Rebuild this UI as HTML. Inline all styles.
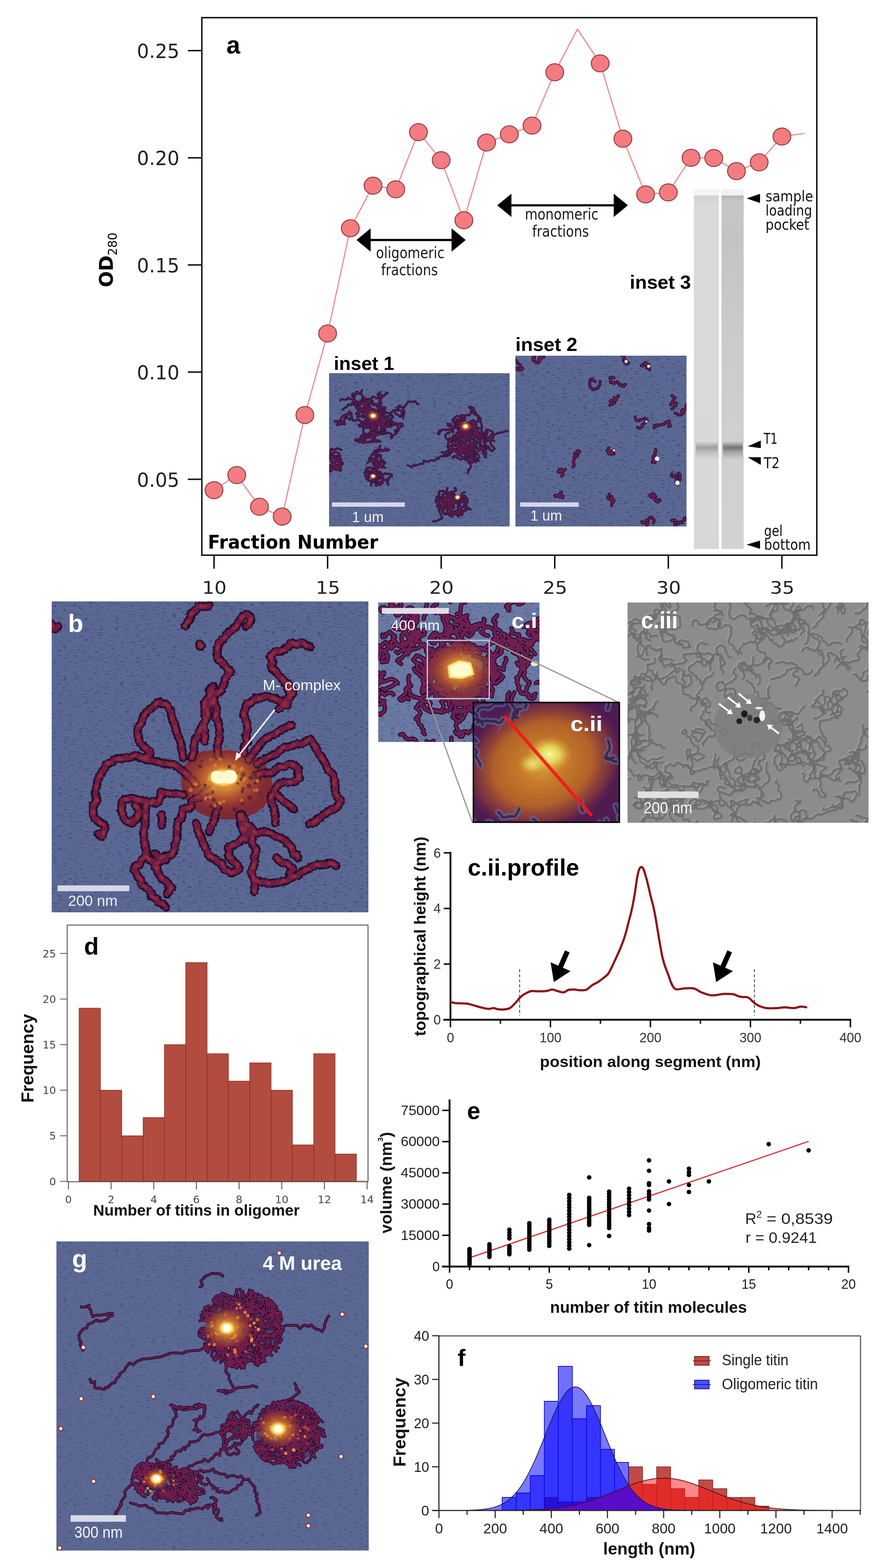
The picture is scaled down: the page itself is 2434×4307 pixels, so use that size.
<!DOCTYPE html>
<html><head><meta charset="utf-8"><title>figure</title>
<style>html,body{margin:0;padding:0;background:#fff;} svg{display:block;}</style></head>
<body><svg width="2434" height="4307" viewBox="0 0 2434 4307">
<rect width="2434" height="4307" fill="#fff"/>
<defs>
<filter id="speck" x="0" y="0" width="100%" height="100%" color-interpolation-filters="sRGB">
<feTurbulence type="fractalNoise" baseFrequency="0.07 0.3" numOctaves="2" seed="5" result="n"/>
<feColorMatrix in="n" type="matrix" values="0 0 0 0 0.14  0 0 0 0 0.14  0 0 0 0 0.27  -13 0 0 0 4.95"/>
</filter>
<filter id="rough" x="-5%" y="-5%" width="110%" height="110%">
<feTurbulence type="turbulence" baseFrequency="0.09" numOctaves="1" seed="3" result="t"/>
<feDisplacementMap in="SourceGraphic" in2="t" scale="7" xChannelSelector="R" yChannelSelector="G"/>
</filter>
<radialGradient id="glowO"><stop offset="0" stop-color="#ffd060" stop-opacity="1"/><stop offset="0.35" stop-color="#f0a030" stop-opacity="0.9"/><stop offset="0.7" stop-color="#c8602a" stop-opacity="0.55"/><stop offset="1" stop-color="#a03a30" stop-opacity="0"/></radialGradient>
<radialGradient id="glowW"><stop offset="0" stop-color="#fffff0"/><stop offset="0.45" stop-color="#fff8b0"/><stop offset="0.75" stop-color="#ffd050" stop-opacity="0.8"/><stop offset="1" stop-color="#f0a030" stop-opacity="0"/></radialGradient>
</defs>
<svg x="142" y="1652" width="870" height="854" viewBox="142 1652 870 854" overflow="hidden"><rect x="142" y="1652" width="870" height="854" fill="#5a6893"/><rect x="142" y="1652" width="870" height="854" filter="url(#speck)" opacity="0.32"/><path d="M505 2100C512 2094 529 2072 545 2065C561 2058 582 2058 600 2058C618 2058 633 2059 650 2062C667 2065 686 2067 700 2075C714 2083 728 2096 735 2110C742 2124 747 2143 745 2160C743 2177 736 2197 725 2210C714 2223 698 2234 680 2240C662 2246 636 2249 615 2248C594 2247 572 2243 555 2235C538 2227 522 2214 512 2200C502 2186 496 2167 495 2150C494 2133 503 2108 505 2100Z" fill="#7e2c36" filter="url(#rough)"/><g filter="url(#rough)"><path d="M474 2097C469 2097 456 2096 449 2095C441 2094 438 2092 431 2090C424 2088 414 2086 408 2085C402 2084 399 2084 394 2082C389 2080 380 2075 375 2073C370 2072 368 2073 365 2074C361 2075 359 2078 355 2078C350 2079 343 2078 339 2079C335 2079 337 2081 333 2082C329 2082 318 2081 314 2083C309 2084 307 2089 304 2092C300 2094 294 2094 291 2097C287 2100 285 2107 283 2111C281 2115 279 2117 276 2122C273 2126 268 2133 267 2138C265 2142 265 2146 264 2151C263 2155 262 2161 261 2166C260 2171 259 2176 260 2181C260 2186 265 2191 264 2196C263 2200 256 2203 254 2208C253 2213 253 2222 253 2227C254 2233 254 2238 255 2241C257 2245 260 2245 263 2247C266 2250 269 2254 272 2257C275 2259 280 2261 282 2263C285 2266 287 2268 287 2270C287 2273 284 2277 283 2281C282 2285 280 2292 279 2294C277 2296 277 2294 275 2293C273 2292 269 2289 267 2288M501 2079C500 2076 499 2067 498 2063C497 2058 497 2055 496 2050C496 2046 495 2039 494 2034C492 2029 489 2025 487 2021C485 2016 483 2010 482 2005C480 2000 479 1994 477 1988C475 1983 471 1976 470 1971C469 1966 470 1962 469 1957C468 1953 465 1948 462 1944C460 1940 458 1934 454 1931C451 1929 445 1931 441 1930C438 1929 437 1924 433 1926C428 1928 420 1938 415 1942C411 1946 409 1947 405 1950C402 1953 398 1955 395 1960C392 1966 389 1976 386 1982C384 1987 380 1990 378 1994C377 1998 375 2001 375 2006C375 2010 376 2018 378 2023C379 2029 381 2035 383 2039C386 2043 390 2046 393 2049C396 2052 400 2055 403 2057C406 2059 410 2061 410 2064C411 2066 409 2069 407 2071C405 2074 401 2076 396 2077C392 2079 384 2079 381 2079M524 2079C525 2076 530 2067 531 2062C532 2057 530 2056 530 2051C531 2045 532 2034 533 2029C534 2025 536 2029 538 2025C541 2020 545 2008 548 2003C550 1997 551 1995 553 1990C556 1986 562 1981 563 1976C564 1972 561 1968 561 1963C560 1959 560 1955 560 1949C560 1943 557 1933 559 1929C560 1924 565 1925 568 1921C570 1917 573 1911 574 1907C575 1902 572 1897 574 1892C576 1888 582 1884 584 1882M596 2073C596 2070 595 2060 595 2054C595 2048 596 2042 597 2037C598 2031 600 2027 601 2023C601 2018 601 2013 601 2008C601 2003 601 2000 600 1995C599 1989 597 1982 595 1977C593 1972 590 1971 590 1966C590 1961 594 1953 593 1947C593 1941 588 1935 586 1930C585 1925 585 1922 585 1918C585 1914 587 1911 586 1907C585 1902 579 1896 578 1894M668 2067C668 2064 668 2052 669 2047C671 2042 676 2042 677 2038C678 2033 673 2025 673 2020C673 2015 676 2015 676 2009C677 2003 678 1993 676 1985C675 1977 668 1967 667 1961C666 1955 669 1952 671 1947C672 1942 673 1934 675 1931C677 1928 679 1932 684 1930C688 1927 697 1917 701 1915C706 1913 705 1918 709 1917C714 1916 724 1910 729 1910C735 1909 737 1912 741 1913C745 1915 750 1914 755 1916C760 1919 767 1925 772 1928C777 1932 783 1936 786 1936C788 1935 786 1928 787 1925C788 1921 792 1917 793 1915C794 1913 791 1913 792 1910C794 1908 802 1905 802 1902C803 1898 800 1893 798 1889C796 1884 792 1878 790 1876M680 2085C682 2082 688 2074 693 2067C698 2061 704 2053 709 2047C713 2041 716 2036 721 2031C726 2027 734 2023 740 2020C745 2017 748 2017 753 2014C758 2011 764 2006 770 2003C775 2000 782 1996 787 1994C792 1992 797 1990 799 1990M704 2097C706 2095 712 2090 717 2087C723 2083 731 2080 738 2076C745 2073 752 2071 758 2067C765 2062 771 2054 777 2051C783 2048 789 2049 795 2048C800 2047 804 2044 810 2042C816 2041 824 2042 831 2039C837 2037 845 2028 849 2028C853 2027 852 2031 855 2035C857 2039 862 2046 865 2051C868 2056 869 2060 872 2065C875 2070 880 2077 883 2081C886 2086 887 2087 890 2092C893 2098 896 2108 899 2113C903 2118 908 2119 911 2124C914 2128 915 2134 916 2139C917 2144 917 2149 918 2153C918 2158 917 2161 918 2166C919 2172 922 2181 924 2186C927 2191 933 2193 934 2196C934 2199 930 2202 928 2205C927 2208 928 2210 926 2212C923 2215 919 2218 916 2220C912 2222 907 2222 904 2224C901 2225 897 2228 895 2229C893 2231 894 2230 891 2232C888 2235 882 2239 879 2242C875 2245 871 2248 868 2250C865 2252 864 2254 861 2256C857 2258 849 2261 847 2261M698 2127C702 2126 713 2122 721 2121C728 2120 738 2122 744 2120C750 2118 752 2112 755 2110C759 2107 762 2105 765 2104C769 2103 773 2105 777 2104C782 2103 788 2097 793 2097C798 2096 803 2099 807 2102C811 2104 816 2108 818 2111C819 2114 815 2114 816 2118C816 2122 820 2132 820 2135C820 2138 818 2135 816 2136C814 2138 811 2142 806 2144C802 2146 794 2146 789 2147C784 2147 779 2146 775 2147C770 2148 765 2151 761 2154C758 2158 754 2164 753 2168C751 2171 756 2171 754 2174C753 2177 743 2181 742 2186C740 2191 744 2201 745 2206C746 2211 748 2210 750 2215C751 2221 753 2232 754 2239C754 2246 754 2255 754 2259M762 2184C764 2185 767 2190 771 2193C774 2197 781 2202 786 2205C790 2208 792 2209 795 2211C798 2214 803 2218 804 2220M668 2259C671 2260 680 2265 686 2269C691 2274 696 2283 700 2286C705 2288 711 2284 715 2283C719 2283 719 2282 723 2282C727 2282 735 2284 740 2286C745 2287 748 2291 753 2294C757 2296 761 2296 766 2299C771 2301 777 2303 781 2306C784 2309 784 2313 785 2314C787 2316 788 2314 790 2316C793 2318 797 2323 800 2328C802 2333 801 2341 803 2344C805 2347 811 2343 813 2344C815 2346 815 2352 816 2354M757 2354C760 2356 766 2363 771 2366C775 2368 780 2367 784 2369C788 2370 789 2373 792 2376C795 2378 802 2381 803 2383C804 2386 800 2388 799 2390C797 2392 794 2395 793 2396M662 2235C663 2238 670 2247 671 2254C673 2260 671 2271 672 2276C674 2281 678 2280 681 2283C684 2286 688 2289 690 2294C692 2299 689 2307 691 2313C693 2320 700 2326 701 2332C702 2338 697 2345 696 2351C696 2356 698 2361 698 2365C698 2369 697 2369 695 2374C694 2378 689 2387 689 2393C688 2399 693 2406 695 2411C696 2416 697 2418 698 2422C698 2426 697 2430 697 2434C696 2438 697 2445 696 2447M696 2414C699 2415 707 2419 712 2420C717 2421 721 2420 726 2421C730 2422 734 2424 739 2424C745 2424 753 2423 759 2422C765 2421 769 2420 773 2419C778 2418 782 2417 786 2415C790 2413 794 2409 799 2407C803 2405 809 2406 814 2404C820 2401 824 2394 830 2391C835 2388 842 2387 847 2384C852 2381 854 2378 859 2376C864 2374 872 2373 878 2373C883 2372 887 2373 892 2372C896 2372 902 2368 905 2368C909 2368 912 2371 915 2372C917 2374 920 2375 921 2375M656 2235C657 2240 659 2258 662 2269C665 2280 674 2297 674 2302C674 2307 667 2299 663 2301C659 2303 656 2310 652 2313C648 2316 643 2317 638 2319C634 2321 628 2322 626 2325C624 2328 627 2332 627 2337C626 2341 624 2347 625 2350C626 2354 632 2355 634 2357C635 2359 633 2360 635 2362C637 2364 643 2367 645 2369C647 2371 647 2370 648 2372C649 2373 649 2376 650 2378C651 2380 656 2383 655 2385C654 2387 650 2389 646 2390C643 2392 638 2395 634 2395C630 2395 627 2391 624 2389C620 2388 616 2389 613 2385C611 2382 610 2373 607 2369C605 2366 599 2367 596 2366C593 2364 595 2362 591 2359C587 2356 577 2353 573 2349C569 2345 570 2341 567 2335C565 2330 561 2324 558 2318C555 2312 554 2307 551 2300C548 2294 543 2283 541 2278C539 2274 541 2276 540 2273C540 2269 537 2261 536 2259M596 2217C595 2219 592 2226 590 2232C588 2239 587 2248 585 2254C583 2260 580 2263 578 2267C576 2272 573 2280 572 2282M501 2181C498 2180 492 2179 486 2178C480 2178 469 2177 463 2177C458 2176 455 2177 451 2176C447 2176 441 2172 439 2173C437 2175 440 2181 439 2186C437 2191 432 2202 429 2204C425 2206 423 2198 420 2198C417 2198 415 2202 412 2203C408 2203 405 2200 400 2199C394 2198 385 2196 380 2195C375 2194 373 2193 369 2192C365 2191 361 2189 357 2189C353 2189 349 2193 347 2193C344 2194 344 2191 341 2193C339 2194 334 2198 333 2202C331 2207 331 2217 331 2222C331 2227 333 2226 334 2230C335 2234 336 2240 338 2244C340 2248 342 2250 346 2252C350 2254 357 2259 360 2259C363 2258 362 2251 365 2249C367 2247 374 2249 375 2246C377 2244 374 2238 375 2235C376 2233 381 2234 381 2231C381 2228 378 2222 376 2219C374 2215 370 2210 369 2208M399 2202C399 2207 397 2221 397 2231C396 2241 397 2254 396 2263C395 2273 392 2279 392 2288C392 2297 395 2310 396 2318C397 2325 398 2328 399 2333C400 2338 399 2344 399 2347C400 2351 399 2351 402 2353C405 2356 413 2362 416 2364C419 2367 419 2366 421 2367C424 2367 427 2369 430 2368C433 2368 436 2364 440 2363C444 2361 451 2361 453 2360M441 2235C441 2237 443 2244 443 2249C443 2254 441 2262 441 2264M399 2348C397 2350 390 2355 387 2360C384 2364 382 2371 380 2373C377 2376 374 2372 372 2374C370 2376 366 2381 365 2384C365 2387 369 2389 370 2392C372 2395 373 2399 375 2403C377 2407 383 2412 385 2415C386 2419 384 2423 386 2426C388 2429 392 2430 396 2433C399 2436 404 2440 407 2443C410 2447 412 2451 414 2453C415 2456 412 2457 415 2460C417 2462 426 2465 429 2467C432 2470 430 2474 433 2476C435 2478 441 2478 445 2480C448 2482 451 2487 453 2489M423 2378C424 2379 429 2381 430 2382C431 2383 427 2384 428 2386C428 2389 431 2392 433 2396C435 2399 438 2405 441 2409C444 2412 447 2413 450 2415C453 2418 456 2421 459 2424C461 2427 463 2429 465 2431C466 2433 469 2435 469 2437C468 2439 466 2440 464 2443C461 2445 457 2451 456 2453M524 2211C523 2212 522 2215 518 2217C514 2218 504 2217 500 2221C497 2226 499 2238 497 2244C494 2249 488 2249 486 2255C484 2262 485 2275 484 2282C484 2290 485 2295 484 2301C483 2306 480 2311 478 2317C477 2322 478 2327 477 2332C475 2337 470 2344 468 2347C465 2349 466 2345 463 2346C459 2347 452 2350 447 2351C443 2353 438 2357 434 2356C431 2356 430 2350 428 2347C426 2345 424 2343 423 2342M536 2151C534 2149 527 2142 524 2139C520 2135 519 2132 515 2129C511 2125 504 2120 501 2117C497 2114 495 2113 493 2111C490 2109 489 2107 486 2105C483 2103 478 2099 477 2097M572 2169C570 2170 564 2171 560 2174C556 2177 553 2185 549 2187C546 2190 542 2188 537 2190C533 2192 527 2197 524 2199M560 2034C560 2030 561 2017 560 2009C560 2001 558 1995 559 1987C560 1980 565 1972 567 1964C569 1956 567 1945 568 1939C570 1934 574 1937 577 1932C580 1927 582 1915 584 1910C586 1905 588 1907 591 1904C595 1901 602 1898 606 1894C609 1889 610 1882 612 1877C614 1871 615 1864 618 1860C620 1856 623 1853 625 1850C628 1847 632 1845 632 1842C632 1840 626 1840 624 1837C621 1835 619 1830 616 1826C612 1822 608 1816 605 1813C601 1810 598 1812 596 1809C594 1806 594 1800 594 1795C594 1790 594 1784 595 1778C597 1773 598 1767 601 1763C604 1758 610 1754 613 1751C616 1748 617 1746 619 1743C621 1741 624 1736 627 1734C629 1731 630 1732 634 1729C638 1726 645 1719 648 1716C651 1712 651 1711 653 1708C655 1704 658 1699 660 1695C663 1692 664 1691 666 1689C668 1687 672 1685 675 1685C677 1684 678 1686 681 1688C683 1690 687 1693 687 1697C687 1701 684 1709 681 1712C679 1715 675 1717 674 1718M506 1718C508 1716 511 1708 514 1705C516 1701 520 1698 521 1694C522 1691 520 1687 522 1684C524 1681 531 1678 534 1675C536 1673 538 1671 540 1669C541 1667 541 1664 545 1663C548 1662 556 1663 561 1663C566 1663 570 1661 572 1661M740 1801C742 1799 749 1790 754 1788C759 1785 767 1787 772 1785C777 1783 782 1781 787 1777C791 1774 794 1766 798 1764C803 1763 810 1768 815 1768C819 1767 822 1762 825 1762C829 1762 834 1768 838 1770C842 1772 848 1774 850 1774M740 1801C741 1804 745 1811 746 1816C746 1821 741 1827 743 1831C744 1835 750 1836 754 1840C758 1844 762 1850 765 1854C769 1858 771 1861 774 1864C777 1868 781 1872 784 1876C786 1880 787 1885 788 1890C790 1895 794 1903 793 1908C792 1913 784 1917 782 1920C781 1924 784 1927 782 1931C780 1934 774 1937 771 1939C768 1942 765 1944 763 1945M136 1712C137 1712 139 1709 140 1711C141 1713 142 1723 144 1725C146 1727 149 1724 152 1723C154 1722 156 1719 157 1718M545 1766C546 1767 546 1773 547 1774C548 1775 551 1772 551 1772" fill="none" stroke="#280a2c" stroke-width="24" stroke-linecap="round" stroke-linejoin="round"/><path d="M474 2097C469 2097 456 2096 449 2095C441 2094 438 2092 431 2090C424 2088 414 2086 408 2085C402 2084 399 2084 394 2082C389 2080 380 2075 375 2073C370 2072 368 2073 365 2074C361 2075 359 2078 355 2078C350 2079 343 2078 339 2079C335 2079 337 2081 333 2082C329 2082 318 2081 314 2083C309 2084 307 2089 304 2092C300 2094 294 2094 291 2097C287 2100 285 2107 283 2111C281 2115 279 2117 276 2122C273 2126 268 2133 267 2138C265 2142 265 2146 264 2151C263 2155 262 2161 261 2166C260 2171 259 2176 260 2181C260 2186 265 2191 264 2196C263 2200 256 2203 254 2208C253 2213 253 2222 253 2227C254 2233 254 2238 255 2241C257 2245 260 2245 263 2247C266 2250 269 2254 272 2257C275 2259 280 2261 282 2263C285 2266 287 2268 287 2270C287 2273 284 2277 283 2281C282 2285 280 2292 279 2294C277 2296 277 2294 275 2293C273 2292 269 2289 267 2288M501 2079C500 2076 499 2067 498 2063C497 2058 497 2055 496 2050C496 2046 495 2039 494 2034C492 2029 489 2025 487 2021C485 2016 483 2010 482 2005C480 2000 479 1994 477 1988C475 1983 471 1976 470 1971C469 1966 470 1962 469 1957C468 1953 465 1948 462 1944C460 1940 458 1934 454 1931C451 1929 445 1931 441 1930C438 1929 437 1924 433 1926C428 1928 420 1938 415 1942C411 1946 409 1947 405 1950C402 1953 398 1955 395 1960C392 1966 389 1976 386 1982C384 1987 380 1990 378 1994C377 1998 375 2001 375 2006C375 2010 376 2018 378 2023C379 2029 381 2035 383 2039C386 2043 390 2046 393 2049C396 2052 400 2055 403 2057C406 2059 410 2061 410 2064C411 2066 409 2069 407 2071C405 2074 401 2076 396 2077C392 2079 384 2079 381 2079M524 2079C525 2076 530 2067 531 2062C532 2057 530 2056 530 2051C531 2045 532 2034 533 2029C534 2025 536 2029 538 2025C541 2020 545 2008 548 2003C550 1997 551 1995 553 1990C556 1986 562 1981 563 1976C564 1972 561 1968 561 1963C560 1959 560 1955 560 1949C560 1943 557 1933 559 1929C560 1924 565 1925 568 1921C570 1917 573 1911 574 1907C575 1902 572 1897 574 1892C576 1888 582 1884 584 1882M596 2073C596 2070 595 2060 595 2054C595 2048 596 2042 597 2037C598 2031 600 2027 601 2023C601 2018 601 2013 601 2008C601 2003 601 2000 600 1995C599 1989 597 1982 595 1977C593 1972 590 1971 590 1966C590 1961 594 1953 593 1947C593 1941 588 1935 586 1930C585 1925 585 1922 585 1918C585 1914 587 1911 586 1907C585 1902 579 1896 578 1894M668 2067C668 2064 668 2052 669 2047C671 2042 676 2042 677 2038C678 2033 673 2025 673 2020C673 2015 676 2015 676 2009C677 2003 678 1993 676 1985C675 1977 668 1967 667 1961C666 1955 669 1952 671 1947C672 1942 673 1934 675 1931C677 1928 679 1932 684 1930C688 1927 697 1917 701 1915C706 1913 705 1918 709 1917C714 1916 724 1910 729 1910C735 1909 737 1912 741 1913C745 1915 750 1914 755 1916C760 1919 767 1925 772 1928C777 1932 783 1936 786 1936C788 1935 786 1928 787 1925C788 1921 792 1917 793 1915C794 1913 791 1913 792 1910C794 1908 802 1905 802 1902C803 1898 800 1893 798 1889C796 1884 792 1878 790 1876M680 2085C682 2082 688 2074 693 2067C698 2061 704 2053 709 2047C713 2041 716 2036 721 2031C726 2027 734 2023 740 2020C745 2017 748 2017 753 2014C758 2011 764 2006 770 2003C775 2000 782 1996 787 1994C792 1992 797 1990 799 1990M704 2097C706 2095 712 2090 717 2087C723 2083 731 2080 738 2076C745 2073 752 2071 758 2067C765 2062 771 2054 777 2051C783 2048 789 2049 795 2048C800 2047 804 2044 810 2042C816 2041 824 2042 831 2039C837 2037 845 2028 849 2028C853 2027 852 2031 855 2035C857 2039 862 2046 865 2051C868 2056 869 2060 872 2065C875 2070 880 2077 883 2081C886 2086 887 2087 890 2092C893 2098 896 2108 899 2113C903 2118 908 2119 911 2124C914 2128 915 2134 916 2139C917 2144 917 2149 918 2153C918 2158 917 2161 918 2166C919 2172 922 2181 924 2186C927 2191 933 2193 934 2196C934 2199 930 2202 928 2205C927 2208 928 2210 926 2212C923 2215 919 2218 916 2220C912 2222 907 2222 904 2224C901 2225 897 2228 895 2229C893 2231 894 2230 891 2232C888 2235 882 2239 879 2242C875 2245 871 2248 868 2250C865 2252 864 2254 861 2256C857 2258 849 2261 847 2261M698 2127C702 2126 713 2122 721 2121C728 2120 738 2122 744 2120C750 2118 752 2112 755 2110C759 2107 762 2105 765 2104C769 2103 773 2105 777 2104C782 2103 788 2097 793 2097C798 2096 803 2099 807 2102C811 2104 816 2108 818 2111C819 2114 815 2114 816 2118C816 2122 820 2132 820 2135C820 2138 818 2135 816 2136C814 2138 811 2142 806 2144C802 2146 794 2146 789 2147C784 2147 779 2146 775 2147C770 2148 765 2151 761 2154C758 2158 754 2164 753 2168C751 2171 756 2171 754 2174C753 2177 743 2181 742 2186C740 2191 744 2201 745 2206C746 2211 748 2210 750 2215C751 2221 753 2232 754 2239C754 2246 754 2255 754 2259M762 2184C764 2185 767 2190 771 2193C774 2197 781 2202 786 2205C790 2208 792 2209 795 2211C798 2214 803 2218 804 2220M668 2259C671 2260 680 2265 686 2269C691 2274 696 2283 700 2286C705 2288 711 2284 715 2283C719 2283 719 2282 723 2282C727 2282 735 2284 740 2286C745 2287 748 2291 753 2294C757 2296 761 2296 766 2299C771 2301 777 2303 781 2306C784 2309 784 2313 785 2314C787 2316 788 2314 790 2316C793 2318 797 2323 800 2328C802 2333 801 2341 803 2344C805 2347 811 2343 813 2344C815 2346 815 2352 816 2354M757 2354C760 2356 766 2363 771 2366C775 2368 780 2367 784 2369C788 2370 789 2373 792 2376C795 2378 802 2381 803 2383C804 2386 800 2388 799 2390C797 2392 794 2395 793 2396M662 2235C663 2238 670 2247 671 2254C673 2260 671 2271 672 2276C674 2281 678 2280 681 2283C684 2286 688 2289 690 2294C692 2299 689 2307 691 2313C693 2320 700 2326 701 2332C702 2338 697 2345 696 2351C696 2356 698 2361 698 2365C698 2369 697 2369 695 2374C694 2378 689 2387 689 2393C688 2399 693 2406 695 2411C696 2416 697 2418 698 2422C698 2426 697 2430 697 2434C696 2438 697 2445 696 2447M696 2414C699 2415 707 2419 712 2420C717 2421 721 2420 726 2421C730 2422 734 2424 739 2424C745 2424 753 2423 759 2422C765 2421 769 2420 773 2419C778 2418 782 2417 786 2415C790 2413 794 2409 799 2407C803 2405 809 2406 814 2404C820 2401 824 2394 830 2391C835 2388 842 2387 847 2384C852 2381 854 2378 859 2376C864 2374 872 2373 878 2373C883 2372 887 2373 892 2372C896 2372 902 2368 905 2368C909 2368 912 2371 915 2372C917 2374 920 2375 921 2375M656 2235C657 2240 659 2258 662 2269C665 2280 674 2297 674 2302C674 2307 667 2299 663 2301C659 2303 656 2310 652 2313C648 2316 643 2317 638 2319C634 2321 628 2322 626 2325C624 2328 627 2332 627 2337C626 2341 624 2347 625 2350C626 2354 632 2355 634 2357C635 2359 633 2360 635 2362C637 2364 643 2367 645 2369C647 2371 647 2370 648 2372C649 2373 649 2376 650 2378C651 2380 656 2383 655 2385C654 2387 650 2389 646 2390C643 2392 638 2395 634 2395C630 2395 627 2391 624 2389C620 2388 616 2389 613 2385C611 2382 610 2373 607 2369C605 2366 599 2367 596 2366C593 2364 595 2362 591 2359C587 2356 577 2353 573 2349C569 2345 570 2341 567 2335C565 2330 561 2324 558 2318C555 2312 554 2307 551 2300C548 2294 543 2283 541 2278C539 2274 541 2276 540 2273C540 2269 537 2261 536 2259M596 2217C595 2219 592 2226 590 2232C588 2239 587 2248 585 2254C583 2260 580 2263 578 2267C576 2272 573 2280 572 2282M501 2181C498 2180 492 2179 486 2178C480 2178 469 2177 463 2177C458 2176 455 2177 451 2176C447 2176 441 2172 439 2173C437 2175 440 2181 439 2186C437 2191 432 2202 429 2204C425 2206 423 2198 420 2198C417 2198 415 2202 412 2203C408 2203 405 2200 400 2199C394 2198 385 2196 380 2195C375 2194 373 2193 369 2192C365 2191 361 2189 357 2189C353 2189 349 2193 347 2193C344 2194 344 2191 341 2193C339 2194 334 2198 333 2202C331 2207 331 2217 331 2222C331 2227 333 2226 334 2230C335 2234 336 2240 338 2244C340 2248 342 2250 346 2252C350 2254 357 2259 360 2259C363 2258 362 2251 365 2249C367 2247 374 2249 375 2246C377 2244 374 2238 375 2235C376 2233 381 2234 381 2231C381 2228 378 2222 376 2219C374 2215 370 2210 369 2208M399 2202C399 2207 397 2221 397 2231C396 2241 397 2254 396 2263C395 2273 392 2279 392 2288C392 2297 395 2310 396 2318C397 2325 398 2328 399 2333C400 2338 399 2344 399 2347C400 2351 399 2351 402 2353C405 2356 413 2362 416 2364C419 2367 419 2366 421 2367C424 2367 427 2369 430 2368C433 2368 436 2364 440 2363C444 2361 451 2361 453 2360M441 2235C441 2237 443 2244 443 2249C443 2254 441 2262 441 2264M399 2348C397 2350 390 2355 387 2360C384 2364 382 2371 380 2373C377 2376 374 2372 372 2374C370 2376 366 2381 365 2384C365 2387 369 2389 370 2392C372 2395 373 2399 375 2403C377 2407 383 2412 385 2415C386 2419 384 2423 386 2426C388 2429 392 2430 396 2433C399 2436 404 2440 407 2443C410 2447 412 2451 414 2453C415 2456 412 2457 415 2460C417 2462 426 2465 429 2467C432 2470 430 2474 433 2476C435 2478 441 2478 445 2480C448 2482 451 2487 453 2489M423 2378C424 2379 429 2381 430 2382C431 2383 427 2384 428 2386C428 2389 431 2392 433 2396C435 2399 438 2405 441 2409C444 2412 447 2413 450 2415C453 2418 456 2421 459 2424C461 2427 463 2429 465 2431C466 2433 469 2435 469 2437C468 2439 466 2440 464 2443C461 2445 457 2451 456 2453M524 2211C523 2212 522 2215 518 2217C514 2218 504 2217 500 2221C497 2226 499 2238 497 2244C494 2249 488 2249 486 2255C484 2262 485 2275 484 2282C484 2290 485 2295 484 2301C483 2306 480 2311 478 2317C477 2322 478 2327 477 2332C475 2337 470 2344 468 2347C465 2349 466 2345 463 2346C459 2347 452 2350 447 2351C443 2353 438 2357 434 2356C431 2356 430 2350 428 2347C426 2345 424 2343 423 2342M536 2151C534 2149 527 2142 524 2139C520 2135 519 2132 515 2129C511 2125 504 2120 501 2117C497 2114 495 2113 493 2111C490 2109 489 2107 486 2105C483 2103 478 2099 477 2097M572 2169C570 2170 564 2171 560 2174C556 2177 553 2185 549 2187C546 2190 542 2188 537 2190C533 2192 527 2197 524 2199M560 2034C560 2030 561 2017 560 2009C560 2001 558 1995 559 1987C560 1980 565 1972 567 1964C569 1956 567 1945 568 1939C570 1934 574 1937 577 1932C580 1927 582 1915 584 1910C586 1905 588 1907 591 1904C595 1901 602 1898 606 1894C609 1889 610 1882 612 1877C614 1871 615 1864 618 1860C620 1856 623 1853 625 1850C628 1847 632 1845 632 1842C632 1840 626 1840 624 1837C621 1835 619 1830 616 1826C612 1822 608 1816 605 1813C601 1810 598 1812 596 1809C594 1806 594 1800 594 1795C594 1790 594 1784 595 1778C597 1773 598 1767 601 1763C604 1758 610 1754 613 1751C616 1748 617 1746 619 1743C621 1741 624 1736 627 1734C629 1731 630 1732 634 1729C638 1726 645 1719 648 1716C651 1712 651 1711 653 1708C655 1704 658 1699 660 1695C663 1692 664 1691 666 1689C668 1687 672 1685 675 1685C677 1684 678 1686 681 1688C683 1690 687 1693 687 1697C687 1701 684 1709 681 1712C679 1715 675 1717 674 1718M506 1718C508 1716 511 1708 514 1705C516 1701 520 1698 521 1694C522 1691 520 1687 522 1684C524 1681 531 1678 534 1675C536 1673 538 1671 540 1669C541 1667 541 1664 545 1663C548 1662 556 1663 561 1663C566 1663 570 1661 572 1661M740 1801C742 1799 749 1790 754 1788C759 1785 767 1787 772 1785C777 1783 782 1781 787 1777C791 1774 794 1766 798 1764C803 1763 810 1768 815 1768C819 1767 822 1762 825 1762C829 1762 834 1768 838 1770C842 1772 848 1774 850 1774M740 1801C741 1804 745 1811 746 1816C746 1821 741 1827 743 1831C744 1835 750 1836 754 1840C758 1844 762 1850 765 1854C769 1858 771 1861 774 1864C777 1868 781 1872 784 1876C786 1880 787 1885 788 1890C790 1895 794 1903 793 1908C792 1913 784 1917 782 1920C781 1924 784 1927 782 1931C780 1934 774 1937 771 1939C768 1942 765 1944 763 1945M136 1712C137 1712 139 1709 140 1711C141 1713 142 1723 144 1725C146 1727 149 1724 152 1723C154 1722 156 1719 157 1718M545 1766C546 1767 546 1773 547 1774C548 1775 551 1772 551 1772" fill="none" stroke="#701d44" stroke-width="14.9" stroke-linecap="round" stroke-linejoin="round"/><path d="M474 2097C469 2097 456 2096 449 2095C441 2094 438 2092 431 2090C424 2088 414 2086 408 2085C402 2084 399 2084 394 2082C389 2080 380 2075 375 2073C370 2072 368 2073 365 2074C361 2075 359 2078 355 2078C350 2079 343 2078 339 2079C335 2079 337 2081 333 2082C329 2082 318 2081 314 2083C309 2084 307 2089 304 2092C300 2094 294 2094 291 2097C287 2100 285 2107 283 2111C281 2115 279 2117 276 2122C273 2126 268 2133 267 2138C265 2142 265 2146 264 2151C263 2155 262 2161 261 2166C260 2171 259 2176 260 2181C260 2186 265 2191 264 2196C263 2200 256 2203 254 2208C253 2213 253 2222 253 2227C254 2233 254 2238 255 2241C257 2245 260 2245 263 2247C266 2250 269 2254 272 2257C275 2259 280 2261 282 2263C285 2266 287 2268 287 2270C287 2273 284 2277 283 2281C282 2285 280 2292 279 2294C277 2296 277 2294 275 2293C273 2292 269 2289 267 2288M501 2079C500 2076 499 2067 498 2063C497 2058 497 2055 496 2050C496 2046 495 2039 494 2034C492 2029 489 2025 487 2021C485 2016 483 2010 482 2005C480 2000 479 1994 477 1988C475 1983 471 1976 470 1971C469 1966 470 1962 469 1957C468 1953 465 1948 462 1944C460 1940 458 1934 454 1931C451 1929 445 1931 441 1930C438 1929 437 1924 433 1926C428 1928 420 1938 415 1942C411 1946 409 1947 405 1950C402 1953 398 1955 395 1960C392 1966 389 1976 386 1982C384 1987 380 1990 378 1994C377 1998 375 2001 375 2006C375 2010 376 2018 378 2023C379 2029 381 2035 383 2039C386 2043 390 2046 393 2049C396 2052 400 2055 403 2057C406 2059 410 2061 410 2064C411 2066 409 2069 407 2071C405 2074 401 2076 396 2077C392 2079 384 2079 381 2079M524 2079C525 2076 530 2067 531 2062C532 2057 530 2056 530 2051C531 2045 532 2034 533 2029C534 2025 536 2029 538 2025C541 2020 545 2008 548 2003C550 1997 551 1995 553 1990C556 1986 562 1981 563 1976C564 1972 561 1968 561 1963C560 1959 560 1955 560 1949C560 1943 557 1933 559 1929C560 1924 565 1925 568 1921C570 1917 573 1911 574 1907C575 1902 572 1897 574 1892C576 1888 582 1884 584 1882M596 2073C596 2070 595 2060 595 2054C595 2048 596 2042 597 2037C598 2031 600 2027 601 2023C601 2018 601 2013 601 2008C601 2003 601 2000 600 1995C599 1989 597 1982 595 1977C593 1972 590 1971 590 1966C590 1961 594 1953 593 1947C593 1941 588 1935 586 1930C585 1925 585 1922 585 1918C585 1914 587 1911 586 1907C585 1902 579 1896 578 1894M668 2067C668 2064 668 2052 669 2047C671 2042 676 2042 677 2038C678 2033 673 2025 673 2020C673 2015 676 2015 676 2009C677 2003 678 1993 676 1985C675 1977 668 1967 667 1961C666 1955 669 1952 671 1947C672 1942 673 1934 675 1931C677 1928 679 1932 684 1930C688 1927 697 1917 701 1915C706 1913 705 1918 709 1917C714 1916 724 1910 729 1910C735 1909 737 1912 741 1913C745 1915 750 1914 755 1916C760 1919 767 1925 772 1928C777 1932 783 1936 786 1936C788 1935 786 1928 787 1925C788 1921 792 1917 793 1915C794 1913 791 1913 792 1910C794 1908 802 1905 802 1902C803 1898 800 1893 798 1889C796 1884 792 1878 790 1876M680 2085C682 2082 688 2074 693 2067C698 2061 704 2053 709 2047C713 2041 716 2036 721 2031C726 2027 734 2023 740 2020C745 2017 748 2017 753 2014C758 2011 764 2006 770 2003C775 2000 782 1996 787 1994C792 1992 797 1990 799 1990M704 2097C706 2095 712 2090 717 2087C723 2083 731 2080 738 2076C745 2073 752 2071 758 2067C765 2062 771 2054 777 2051C783 2048 789 2049 795 2048C800 2047 804 2044 810 2042C816 2041 824 2042 831 2039C837 2037 845 2028 849 2028C853 2027 852 2031 855 2035C857 2039 862 2046 865 2051C868 2056 869 2060 872 2065C875 2070 880 2077 883 2081C886 2086 887 2087 890 2092C893 2098 896 2108 899 2113C903 2118 908 2119 911 2124C914 2128 915 2134 916 2139C917 2144 917 2149 918 2153C918 2158 917 2161 918 2166C919 2172 922 2181 924 2186C927 2191 933 2193 934 2196C934 2199 930 2202 928 2205C927 2208 928 2210 926 2212C923 2215 919 2218 916 2220C912 2222 907 2222 904 2224C901 2225 897 2228 895 2229C893 2231 894 2230 891 2232C888 2235 882 2239 879 2242C875 2245 871 2248 868 2250C865 2252 864 2254 861 2256C857 2258 849 2261 847 2261M698 2127C702 2126 713 2122 721 2121C728 2120 738 2122 744 2120C750 2118 752 2112 755 2110C759 2107 762 2105 765 2104C769 2103 773 2105 777 2104C782 2103 788 2097 793 2097C798 2096 803 2099 807 2102C811 2104 816 2108 818 2111C819 2114 815 2114 816 2118C816 2122 820 2132 820 2135C820 2138 818 2135 816 2136C814 2138 811 2142 806 2144C802 2146 794 2146 789 2147C784 2147 779 2146 775 2147C770 2148 765 2151 761 2154C758 2158 754 2164 753 2168C751 2171 756 2171 754 2174C753 2177 743 2181 742 2186C740 2191 744 2201 745 2206C746 2211 748 2210 750 2215C751 2221 753 2232 754 2239C754 2246 754 2255 754 2259M762 2184C764 2185 767 2190 771 2193C774 2197 781 2202 786 2205C790 2208 792 2209 795 2211C798 2214 803 2218 804 2220M668 2259C671 2260 680 2265 686 2269C691 2274 696 2283 700 2286C705 2288 711 2284 715 2283C719 2283 719 2282 723 2282C727 2282 735 2284 740 2286C745 2287 748 2291 753 2294C757 2296 761 2296 766 2299C771 2301 777 2303 781 2306C784 2309 784 2313 785 2314C787 2316 788 2314 790 2316C793 2318 797 2323 800 2328C802 2333 801 2341 803 2344C805 2347 811 2343 813 2344C815 2346 815 2352 816 2354M757 2354C760 2356 766 2363 771 2366C775 2368 780 2367 784 2369C788 2370 789 2373 792 2376C795 2378 802 2381 803 2383C804 2386 800 2388 799 2390C797 2392 794 2395 793 2396M662 2235C663 2238 670 2247 671 2254C673 2260 671 2271 672 2276C674 2281 678 2280 681 2283C684 2286 688 2289 690 2294C692 2299 689 2307 691 2313C693 2320 700 2326 701 2332C702 2338 697 2345 696 2351C696 2356 698 2361 698 2365C698 2369 697 2369 695 2374C694 2378 689 2387 689 2393C688 2399 693 2406 695 2411C696 2416 697 2418 698 2422C698 2426 697 2430 697 2434C696 2438 697 2445 696 2447M696 2414C699 2415 707 2419 712 2420C717 2421 721 2420 726 2421C730 2422 734 2424 739 2424C745 2424 753 2423 759 2422C765 2421 769 2420 773 2419C778 2418 782 2417 786 2415C790 2413 794 2409 799 2407C803 2405 809 2406 814 2404C820 2401 824 2394 830 2391C835 2388 842 2387 847 2384C852 2381 854 2378 859 2376C864 2374 872 2373 878 2373C883 2372 887 2373 892 2372C896 2372 902 2368 905 2368C909 2368 912 2371 915 2372C917 2374 920 2375 921 2375M656 2235C657 2240 659 2258 662 2269C665 2280 674 2297 674 2302C674 2307 667 2299 663 2301C659 2303 656 2310 652 2313C648 2316 643 2317 638 2319C634 2321 628 2322 626 2325C624 2328 627 2332 627 2337C626 2341 624 2347 625 2350C626 2354 632 2355 634 2357C635 2359 633 2360 635 2362C637 2364 643 2367 645 2369C647 2371 647 2370 648 2372C649 2373 649 2376 650 2378C651 2380 656 2383 655 2385C654 2387 650 2389 646 2390C643 2392 638 2395 634 2395C630 2395 627 2391 624 2389C620 2388 616 2389 613 2385C611 2382 610 2373 607 2369C605 2366 599 2367 596 2366C593 2364 595 2362 591 2359C587 2356 577 2353 573 2349C569 2345 570 2341 567 2335C565 2330 561 2324 558 2318C555 2312 554 2307 551 2300C548 2294 543 2283 541 2278C539 2274 541 2276 540 2273C540 2269 537 2261 536 2259M596 2217C595 2219 592 2226 590 2232C588 2239 587 2248 585 2254C583 2260 580 2263 578 2267C576 2272 573 2280 572 2282M501 2181C498 2180 492 2179 486 2178C480 2178 469 2177 463 2177C458 2176 455 2177 451 2176C447 2176 441 2172 439 2173C437 2175 440 2181 439 2186C437 2191 432 2202 429 2204C425 2206 423 2198 420 2198C417 2198 415 2202 412 2203C408 2203 405 2200 400 2199C394 2198 385 2196 380 2195C375 2194 373 2193 369 2192C365 2191 361 2189 357 2189C353 2189 349 2193 347 2193C344 2194 344 2191 341 2193C339 2194 334 2198 333 2202C331 2207 331 2217 331 2222C331 2227 333 2226 334 2230C335 2234 336 2240 338 2244C340 2248 342 2250 346 2252C350 2254 357 2259 360 2259C363 2258 362 2251 365 2249C367 2247 374 2249 375 2246C377 2244 374 2238 375 2235C376 2233 381 2234 381 2231C381 2228 378 2222 376 2219C374 2215 370 2210 369 2208M399 2202C399 2207 397 2221 397 2231C396 2241 397 2254 396 2263C395 2273 392 2279 392 2288C392 2297 395 2310 396 2318C397 2325 398 2328 399 2333C400 2338 399 2344 399 2347C400 2351 399 2351 402 2353C405 2356 413 2362 416 2364C419 2367 419 2366 421 2367C424 2367 427 2369 430 2368C433 2368 436 2364 440 2363C444 2361 451 2361 453 2360M441 2235C441 2237 443 2244 443 2249C443 2254 441 2262 441 2264M399 2348C397 2350 390 2355 387 2360C384 2364 382 2371 380 2373C377 2376 374 2372 372 2374C370 2376 366 2381 365 2384C365 2387 369 2389 370 2392C372 2395 373 2399 375 2403C377 2407 383 2412 385 2415C386 2419 384 2423 386 2426C388 2429 392 2430 396 2433C399 2436 404 2440 407 2443C410 2447 412 2451 414 2453C415 2456 412 2457 415 2460C417 2462 426 2465 429 2467C432 2470 430 2474 433 2476C435 2478 441 2478 445 2480C448 2482 451 2487 453 2489M423 2378C424 2379 429 2381 430 2382C431 2383 427 2384 428 2386C428 2389 431 2392 433 2396C435 2399 438 2405 441 2409C444 2412 447 2413 450 2415C453 2418 456 2421 459 2424C461 2427 463 2429 465 2431C466 2433 469 2435 469 2437C468 2439 466 2440 464 2443C461 2445 457 2451 456 2453M524 2211C523 2212 522 2215 518 2217C514 2218 504 2217 500 2221C497 2226 499 2238 497 2244C494 2249 488 2249 486 2255C484 2262 485 2275 484 2282C484 2290 485 2295 484 2301C483 2306 480 2311 478 2317C477 2322 478 2327 477 2332C475 2337 470 2344 468 2347C465 2349 466 2345 463 2346C459 2347 452 2350 447 2351C443 2353 438 2357 434 2356C431 2356 430 2350 428 2347C426 2345 424 2343 423 2342M536 2151C534 2149 527 2142 524 2139C520 2135 519 2132 515 2129C511 2125 504 2120 501 2117C497 2114 495 2113 493 2111C490 2109 489 2107 486 2105C483 2103 478 2099 477 2097M572 2169C570 2170 564 2171 560 2174C556 2177 553 2185 549 2187C546 2190 542 2188 537 2190C533 2192 527 2197 524 2199M560 2034C560 2030 561 2017 560 2009C560 2001 558 1995 559 1987C560 1980 565 1972 567 1964C569 1956 567 1945 568 1939C570 1934 574 1937 577 1932C580 1927 582 1915 584 1910C586 1905 588 1907 591 1904C595 1901 602 1898 606 1894C609 1889 610 1882 612 1877C614 1871 615 1864 618 1860C620 1856 623 1853 625 1850C628 1847 632 1845 632 1842C632 1840 626 1840 624 1837C621 1835 619 1830 616 1826C612 1822 608 1816 605 1813C601 1810 598 1812 596 1809C594 1806 594 1800 594 1795C594 1790 594 1784 595 1778C597 1773 598 1767 601 1763C604 1758 610 1754 613 1751C616 1748 617 1746 619 1743C621 1741 624 1736 627 1734C629 1731 630 1732 634 1729C638 1726 645 1719 648 1716C651 1712 651 1711 653 1708C655 1704 658 1699 660 1695C663 1692 664 1691 666 1689C668 1687 672 1685 675 1685C677 1684 678 1686 681 1688C683 1690 687 1693 687 1697C687 1701 684 1709 681 1712C679 1715 675 1717 674 1718M506 1718C508 1716 511 1708 514 1705C516 1701 520 1698 521 1694C522 1691 520 1687 522 1684C524 1681 531 1678 534 1675C536 1673 538 1671 540 1669C541 1667 541 1664 545 1663C548 1662 556 1663 561 1663C566 1663 570 1661 572 1661M740 1801C742 1799 749 1790 754 1788C759 1785 767 1787 772 1785C777 1783 782 1781 787 1777C791 1774 794 1766 798 1764C803 1763 810 1768 815 1768C819 1767 822 1762 825 1762C829 1762 834 1768 838 1770C842 1772 848 1774 850 1774M740 1801C741 1804 745 1811 746 1816C746 1821 741 1827 743 1831C744 1835 750 1836 754 1840C758 1844 762 1850 765 1854C769 1858 771 1861 774 1864C777 1868 781 1872 784 1876C786 1880 787 1885 788 1890C790 1895 794 1903 793 1908C792 1913 784 1917 782 1920C781 1924 784 1927 782 1931C780 1934 774 1937 771 1939C768 1942 765 1944 763 1945M136 1712C137 1712 139 1709 140 1711C141 1713 142 1723 144 1725C146 1727 149 1724 152 1723C154 1722 156 1719 157 1718M545 1766C546 1767 546 1773 547 1774C548 1775 551 1772 551 1772" fill="none" stroke="#a03c34" stroke-width="7.2" stroke-linecap="round" stroke-linejoin="round" opacity="0.6" stroke-dasharray="14 22 8 30"/></g><ellipse cx="615" cy="2142" rx="118" ry="90" fill="url(#glowO)" opacity="0.78"/><circle cx="550" cy="2105" r="6" fill="#3a0e3a" opacity="0.5"/><circle cx="700" cy="2127" r="7" fill="#3a0e3a" opacity="0.5"/><circle cx="684" cy="2159" r="7" fill="#3a0e3a" opacity="0.5"/><circle cx="554" cy="2091" r="3" fill="#3a0e3a" opacity="0.5"/><circle cx="563" cy="2157" r="5" fill="#3a0e3a" opacity="0.5"/><circle cx="583" cy="2138" r="4" fill="#3a0e3a" opacity="0.5"/><circle cx="596" cy="2223" r="6" fill="#3a0e3a" opacity="0.5"/><circle cx="666" cy="2208" r="4" fill="#3a0e3a" opacity="0.5"/><circle cx="582" cy="2128" r="3" fill="#3a0e3a" opacity="0.5"/><circle cx="650" cy="2124" r="4" fill="#3a0e3a" opacity="0.5"/><circle cx="715" cy="2142" r="4" fill="#3a0e3a" opacity="0.5"/><circle cx="688" cy="2137" r="6" fill="#3a0e3a" opacity="0.5"/><circle cx="645" cy="2223" r="6" fill="#3a0e3a" opacity="0.5"/><circle cx="715" cy="2134" r="4" fill="#3a0e3a" opacity="0.5"/><circle cx="585" cy="2176" r="4" fill="#3a0e3a" opacity="0.5"/><circle cx="668" cy="2166" r="5" fill="#3a0e3a" opacity="0.5"/><circle cx="701" cy="2151" r="4" fill="#3a0e3a" opacity="0.5"/><circle cx="580" cy="2215" r="5" fill="#3a0e3a" opacity="0.5"/><circle cx="587" cy="2197" r="6" fill="#3a0e3a" opacity="0.5"/><circle cx="716" cy="2177" r="3" fill="#3a0e3a" opacity="0.5"/><circle cx="615" cy="2079" r="3" fill="#3a0e3a" opacity="0.5"/><circle cx="630" cy="2106" r="5" fill="#3a0e3a" opacity="0.5"/><circle cx="653" cy="2152" r="4" fill="#3a0e3a" opacity="0.5"/><circle cx="663" cy="2140" r="6" fill="#3a0e3a" opacity="0.5"/><circle cx="710" cy="2117" r="4" fill="#3a0e3a" opacity="0.5"/><circle cx="570" cy="2192" r="6" fill="#3a0e3a" opacity="0.5"/><circle cx="686" cy="2191" r="6" fill="#3a0e3a" opacity="0.5"/><circle cx="639" cy="2129" r="7" fill="#3a0e3a" opacity="0.5"/><circle cx="666" cy="2174" r="5" fill="#3a0e3a" opacity="0.5"/><circle cx="668" cy="2128" r="7" fill="#3a0e3a" opacity="0.5"/><circle cx="573" cy="2141" r="4" fill="#e89030" opacity="0.6"/><circle cx="626" cy="2167" r="3" fill="#e89030" opacity="0.6"/><circle cx="579" cy="2087" r="3" fill="#e89030" opacity="0.6"/><circle cx="705" cy="2170" r="5" fill="#e89030" opacity="0.6"/><circle cx="584" cy="2165" r="5" fill="#e89030" opacity="0.6"/><circle cx="640" cy="2115" r="4" fill="#e89030" opacity="0.6"/><circle cx="698" cy="2172" r="3" fill="#e89030" opacity="0.6"/><circle cx="532" cy="2153" r="3" fill="#e89030" opacity="0.6"/><circle cx="604" cy="2085" r="5" fill="#e89030" opacity="0.6"/><circle cx="622" cy="2130" r="4" fill="#e89030" opacity="0.6"/><circle cx="664" cy="2198" r="4" fill="#e89030" opacity="0.6"/><circle cx="524" cy="2170" r="6" fill="#e89030" opacity="0.6"/><circle cx="668" cy="2144" r="4" fill="#e89030" opacity="0.6"/><circle cx="608" cy="2110" r="4" fill="#e89030" opacity="0.6"/><circle cx="590" cy="2163" r="4" fill="#e89030" opacity="0.6"/><circle cx="707" cy="2145" r="5" fill="#e89030" opacity="0.6"/><circle cx="570" cy="2150" r="3" fill="#e89030" opacity="0.6"/><circle cx="604" cy="2206" r="6" fill="#e89030" opacity="0.6"/><circle cx="564" cy="2194" r="5" fill="#e89030" opacity="0.6"/><circle cx="591" cy="2103" r="5" fill="#e89030" opacity="0.6"/><circle cx="567" cy="2190" r="4" fill="#e89030" opacity="0.6"/><circle cx="538" cy="2155" r="5" fill="#e89030" opacity="0.6"/><circle cx="590" cy="2213" r="5" fill="#e89030" opacity="0.6"/><circle cx="597" cy="2143" r="5" fill="#e89030" opacity="0.6"/><circle cx="615" cy="2201" r="4" fill="#e89030" opacity="0.6"/><circle cx="643" cy="2105" r="5" fill="#e89030" opacity="0.6"/><circle cx="576" cy="2190" r="5" fill="#e89030" opacity="0.6"/><circle cx="637" cy="2121" r="6" fill="#e89030" opacity="0.6"/><circle cx="664" cy="2112" r="6" fill="#e89030" opacity="0.6"/><circle cx="672" cy="2138" r="5" fill="#e89030" opacity="0.6"/><ellipse cx="614" cy="2136" rx="46" ry="27" fill="url(#glowW)"/><path d="M580,2128 C582,2116 600,2114 612,2122 C622,2114 640,2112 648,2122 C654,2134 650,2150 636,2152 C626,2154 620,2148 612,2150 C600,2156 584,2150 580,2140 Z" fill="#fffbd0"/></svg><text x="187" y="1736" font-family="'Liberation Sans', Arial, sans-serif" font-size="68" font-weight="bold" fill="#fff">b</text><text x="722" y="1896" font-family="'Liberation Sans', Arial, sans-serif" font-size="41" fill="#f4f4f4" textLength="214" lengthAdjust="spacingAndGlyphs">M- complex</text><line x1="755" y1="1949" x2="652" y2="2080" stroke="#fff" stroke-width="4"/><polygon points="645.5,2090 650,2066 663,2076" fill="#fff"/><rect x="158" y="2432" width="197" height="16" fill="#d6d8e8"/><text x="187" y="2488" font-family="'Liberation Sans', Arial, sans-serif" font-size="41" fill="#f0f0f0" textLength="136" lengthAdjust="spacingAndGlyphs">200 nm</text>
<svg x="904" y="1025" width="496" height="421" viewBox="904 1025 496 421" overflow="hidden"><rect x="904" y="1025" width="496" height="421" fill="#5a6893"/><rect x="904" y="1025" width="496" height="421" filter="url(#speck)" opacity="0.32"/><g><path d="M1036 1172l-4-1-5-1-3-3-3 3 2 4 1 4 2 5 2 4 4 2 1 4-4 2-4-1-5-2-2-4 3 4-1 4 0 5 5-2 4-2 3-2 2-4 5-1 0 4-4 1-4 3-4 0-5 0-4 2-4-2-5 0-3 3-2 4 0 4-1 5-4-1-3-3-4-3 4-4 4 0-2 3-5 0-3 3-4 3 2 4 0-5-5 1-4 0-4-3 4-3 5 2 4-2 2-4 5-1-4-3 4-2 3-3 4-3 4 3 0 4-3 3M982 1146l0-4 0-5 5 0 1-5-1-4 0-5 2-4-3-3 3-3 2-4 4-1 4-2 5 0 0 4-2 4-3 3 0 5 3 3 5-1 0 4 5 0-3-3 4-3 4 2 4 1 2 4 5 1 4-1 4 2 4 3 4 1-1 4-3 3-4 2 0 5-1 4 0 5 1 4-3 4 0 4-2 4-4 2-5 1 2-4-4-3-4-2-4 3-4 2 1-4-4-1-5 0-4-3-3-3 0-4-4-1-2-4-5-1-3 3-4 1-5-1M999 1142l-2-4 3-3 4-2 4-2 4-2 0-5-3-3 0-5-4-2-4-3 0-4 4 1 4-1 5 0 4 1 4 2 4 2 5 1 4 1 2 4 4 1 3 4-1 4 1 5-3 3-3 3-4 2-5-1-3-3-3-3-4 2-3-3-1-4 3-4-2-4-1-4-2-4-3-4-3-3-2-4-4-2-5-1-4 2-3 3-1 4-4 3-4 1-2 4-4-3-4-2 0-5-4 3-1 4-4 1-4-2-3 4-2 4-4 1-4 3-3 3M1011 1144l-2-4 1-4 0-5-4-2 4 0 5 1 4 2-1 4-4 2-4 2-1 5 0 4 0 5 3 3 5 0 3-3 3-3 0-5 3-4 4 0 5 0 4 1 0 5-3 3 3 4 5 1 4 2 4-2 4 1 2-4-5-1-2-4 0-4-4-1-5-1 0-5-4-2-4 3 1 5 3 2 3-4 1-4-4-2-4-2 3-3 0-4 4-4 4 2-1-5 0-4-1-5-2-4 2-4-1-4 1-5 0-4-1-5-4-2 4-2 4-3M1060 1172l-5-1-4-2-1-4-4-2-4 2-3 4-1-5-1-4 0-4 2-4 1-5-1-4-4-3-4-1-4 0 0 5-4 1-1 4-3 4 0 5 2 4 1 4-3 4-3 3-4 2-5 0-4 1-4-2-1 4 0 5 0 4 1 4 1 5 4 1 4-3 4-3 3-2 3-4 2-4 1-4 4-2 5 1 4-2 3 3-1 5-4 3 1 4-2 4-2 4 1 4-1 4-2 4-4-2 1-5-5 0-4 0-5 0-4 1-4 2-3-3M1016 1136l4-2 4 0 2-4-1-4-4-3-3-3-5 0-4 0-4-3-4-2 0-4 2-4 0-5 4-2 5 0 4-2 3-3 3-4 3-2 4 2 4 3 4 0 3-4 3-3 4-2 4 2 4 1 2-4 4-2 4-2-4-2-2 4-4 3-1 4-4 2-3 3-2 5 0 4 3 3 0 4-4 1-4-3-1 4 0 5 2 4 0 4 4-2-3-3-4-1-2-4-3-4 5-1 3-3 3-4 2-4-1-4 3-3-1-4-5-2-4 1M1044 1135l2-4 4-2-4 2 1 4 4 3 3 3 2-4 0-5 2-4 0-4 1-5-5-1-4 1-4 2-4 1-4-3-2-4-4-3-3-3-4-1-5 1 0-5 4-2-3-3-4-2-5-1-4 0-5 0-2-4-4-1-2 4-2 5 3 3 3 2 0 5 3 3 0 5 0 4-4 3-3 3-4 2-4 1-2 4-3 3 2 4 4 3-3-4-4-1-3-4 3-3 3-4-1-4-3-3-2-4-1-4 0-5 4-1 5 1 3-3 5 0M1029 1125l-5 0-2 3-5 1-1 4 2 4-3 4 3 4 4 2 3 3 1 5 4-2 4 2 5 0 2 4 4-2 4 1 4 2 5 1 4 0 4 1 5-2 3-3 1-4 1-5 4-3-3-3-2-4-1-5 4-2 2-4 5 0 4-1 4 0 5 1 4 2 4 1 4-3-3-4-3-4-3-2-4-3-4 3 1 5-2 4-4 2-3 3 0 4 3 3 5 1 3 3 3 3 4-2 0-5 2-4 2-4 4 3-1 4-2 4 0 4 0 5M985 1131l5 0 4 0 4 2 4-2 4-4 4-1 4 2 4 2 2 4-3 4-4 2-2 4-5 1-4-3-1-4 1-4 1-4-1-5-3-3-4 0-4-1-4-4-4-1-4-1-4-3 0-4 3-4-2-4-2-4-3-4-3-3-1-4 3-4 2 4 3 3 2-4 2-4 3-4-1 5-4-3 4-2 3 3 3 3 4-2 2-4 2-5-3 4-1 4 2 4 2 4 3 4 3 3 2 4 4 2-1 4-2 5 1 4 2 4 0 5 2 4M1018 1162l-1-5-4-1-3-3-5-1-3 3-1 4 0 5-1 4-4 2-4 2-4 0-3-4 4-2 3-3 4-3 4 0 5 0 3 3 5 0 4-1 3-4 1-4-3-4-3-3-5 1-3 3-4 2 0 4 4 2 5 1 3-4-1-4 5 0 4 1 4-1 3-4-2-3-5 1 3 3 1 5 2 3 0 5-1 4 4 0 0 4-2 4-4 2-3 3-1 4-1 5-4-1-3 4 2 4 0 5 4-1 2 4 5 1 2 4 2 4 3 2M1054 1139l-1 5 1 4 4 3 1 4-1 4-2 4-2 5-4 1-4-1-5-1-4 0-4 1-4 3-1 4-1 5 5 1 3 4 4 0 4 2 4 2 4 0 4-3 4 2 0 4 4-2 3-2 4 2 4 1 1 5-1 4 1 4 3-3 0-4 4-3 5-1 2-4 3-3 3-4 1-4 3-3 2-4 4-3 2 3-3-3 1-4-5-1-4 2-4-1-3 3-5 0-1-4 5-1 2 4 3 3 0 5 0 4-4 3-4 1 1 4 2 4M1016 1160l4 2 1-5 4-2 5 0 4-1-1 5 1 4 4 1 4 1 4 3 5-1-2-4-4 2-2-3-5 1-3-3 0-4-4 1-4 1-4-1-2-4 4-3 4 2 4 2 5 1 4 0 4 2 4-2 1-4 4 3 0 5-4 2-3 3 0 5 2 4 4 2 4 0 1-5 2-3 4-3 4 0 5 0 4-2 1 4-2 4-4 3-5-1-4 0-4-3-4 1-3-4 0-4 3-3 5-2 4-1 4-1 4 3 5 0 3 3 0 5M969 1151l-4 0-4 2-4-3-3-3-4 2-4 2 0 4-2 4-1 5 4 2 0-4-4 1-4 3-4-2-1-4-2-4 4-2 1-5 2-3 3-4 4-1 4 2 4-2 3-3 3-3-1-5 4 3 3 3-2 5-1 4 4 3 0-5-4-3-2-3-5-1-3 2-5 1-3 3 2 5 2 3-3 3-3 4-3 3-3 4-4 1-5-1 0-5 4 2 5 2 2-4-2-3-4 0-5 1-4-1-5 1 4 2 5 0 3 3-2 4-4 2M1029 1142l4 2-1 4-2 4-4-1-3-4 2-4 1-4-4-2 3-3 4 1 3 4 4 0 3 4 5 0 4 1 1 5 0 4 4 3 1 4 1 5-1 4-4 1-4 3 1 5 4-2 2 4 5 1 1 4-1 5-4 2-4 1-5-1-4 1-4-2-4 3-4-1-1 5 1 4 2 4 2 3 3 4 5 0 4 0-3-3-5 0-4 0-3 3-5 0-4 0-5-1-3 3-5 0-3-3-3 3-4-1-4 2 3-3 3 4 1-5-3-3M999 1147l-4-2-2-4 4-2 1-5-2-4 1-4 4 2 5-1 4 0 3 4 1 4 4 0 5-2 3 2 3 4 3 3 3 3-1 4-4-2-4 2 3 4 1 4-3 4-2 4-2 4-4 1-5 2-3 3 4 1 5 0 4 1 1 4 3-4 1-4-4-3-3-3 1-4-2-4 2-4 5 1-1-5 4-1 4 3 4 2 4 0 5 1 4 0 3 3 1 5-4 2-3-3-2-4-5 0-3 3 5 2 4-2 3-3 5-1 3-3 2-4M1070 1142l0-5-3-3-4 0-5-1-4 1-4-1-3 3-3 4-4-2-4-2 2-4 4 3 4-2 3-3 1-4 5 0 3-3-3-3-5 0-4 1-4 2-3 3-4 3 0 5 0 4 2 4 4 3 4 1 2 4 2 4-1 5 3 3 4-2 3-3 4-1 5-1 3-3-3-4-2-4-4-1-2 4-2 4-3 4-4-1-2 4 3 3 4 3-3 4-2 4-4 2 0 4 0 5 4 1 1-5 3-3 4 0 4-3 4-2 4-1 4-1M1285 1190l-4-2-4 0-2-4-4-3-2-4 5 0 3 3 5 0 4 1 5-1 3-2 5 0 3 3 3 3 5 1 4 2 3 4 4 1 3 3 5 1-1-5-2-3-4-4 2-4-2-4-4-1-3 3-5 1-4 1-5 0 0-5-1-4-4 0-4 3-4 0-2-4-5-1-4-2-3-3-4 0-2 4-3 3-4-2 1-4 0-5 0-4-4 2-4 2-4-3-4-2-4-1 3-3 4-3 3-3 4-3 4 2 4 1 5 0 3-3 4 2M1279 1196l-4-1-4-2-2 4-3 3 4-1 5-1 4 1 2-5-3-3-3-3-4-2-3-4 2-4-2-4-2-4-4 3 4-1 2-4-4 2-4 0-4-3-1-4-5 2-2 4 4 2 5 1 3-3 4 2 4 2 4-2 3 3 3 4-1 4-1 5-4 1-3-3-1-5 4-2 5 1 4 1 4-1-3-3 2-5 4-2 0-5 3-3 3-3 4-2 2 3-2 5 4 3 3 3 0 4-5 2-4 0-4 1-5 0 1 4-4 3-4 2M1273 1174l-1-4 3-3-4-3-1 5-1 4 1 5-2 4-4 2 1 5-3 3-3 3-4-1-4 2-5 1-3 3 0 5-2 4-2 4-4 1-3 3-1 5-2 4 2 4 5-2 2-4 4 0 4-1 4-2 5 0 4-2-2-4-2-5 4-2-1-4-5-1 0-4 2-4 4-1-1-4 2-4 2-5-4-2-3-4-4 0-5 1-4 1-4 2-5 0-4 1-4 2-4-2-4 0-4 3-4 1-1 5-2 4-4-2 3-3 1-5 4-2M1280 1207l-1 4-1 4 3 4-1 4 3 4 2 4 3 3 3 3 4 2 1 5 0 4 4 3 4-3 4 0 5 0 2 3 1 5-4 2 1 5 3 3-4-1-3-3-4-3 1-5 0-4-4-3 0-5 4 2 4-3 4-2 2-4 3-3 4-2 3-3-3-4-2-4-3-4 2-4 1-4 4-2 5 0 1 4-3 4 3 4 3 3 1 4 3 4 1 4-4 1-3 4 0 5 4 3-1 4-4-3-4 1 2-4-3-3-2-4-2-4-1-5M1258 1185l4-3 1-5 2-4 4-2 1 5 0 4 2 4-2 4 0 5-1 4 4 2 2 4 5 2 0 4 0 5-3 3 1 5-2 4 3 4 4 2 2 4 1 5-3 3-5-2-4 0-5-1-4 2-1 4-4 2-4 2-4 2-5 0-4 2 1 4 3-3 3-3 4-2 3-3 5 1 3 3 4 2 3 3-3 3-4 3-3-3-4-2-4-2 2-4 2-4 5 2 4-2 3-3 4-3 2-4 2-4 1-4 2-4-2-4-3-4-3-3M1286 1189l1 4 0 5 0 4 0 4 4 2 5-1 3-2 3 4 3 3 4 0 4 3 2 3 4 3-1 5 4 3 4-1 3-3 3-4 1-4 1-4 5-2 4-2 4 0 5 0 2-4 2-5-2-4 0-4 0-5-4-2-4-2-4-2-4-1-3 3-2 4 0 5 2 4 0-5-2-3 5-1 1 4-3 4-2 4-4 1-5-2-4-1-4-2-4-2-2 5-4 1-4-3-3-3-2-4-4-1-5-1-4 1-1 4-3 4-2-4 4-2M1275 1233l-4-3-4 0-4-1-1-5-5 0-2-4-2-3 3-3 1-4-1-5-4-2-5 0-3 3-5 0-2 4-4 0-1 4-1 5 1 4 2 4 1 4 2 4 1 5 2 4-4 2-3-3 3-4 4 2 4-1 5-1 4 3 3-3 5-1 4-1 4-1 2 4-2 4-3-3-2-4 2-4 1 4 5 0 4 1 3 4 4-3 1-4 2-4 4-3 1-4-2-4 4-1 3 3 4-1 4-2 4 0 1 4-4 3-4 1-4 0-3-4M1289 1188l-1 4 0 5-4 1-4 2-4 0-4 3 4 3 3 3 3 4 3-3 4 1 3 4 3 4 4 0 2-4 1-4 1-5 0-4-1-5 0-4 1-4 2-4 2-4-4-2-4-2-3-4 1-4 2-4-3-4-1-4 3-3 3 3 3 3 2 4 3 4-2 4-3 3 0-4 0-5-1-4 4-3 4 0 4-3 4-2 2-4-4-3-2-4-3-3-4-2-1-5-4-2-2-4-3-4-2-4-3-2-5 1 3 3 5 1 4-2-1 4M1291 1178l4 1 4 0 5-2 3 3 2 3-1 5 1 4-4 3 4 2 3 3 4 3-3 4-3-3-2-4-2-4 1-5 4-1 5 1 4 2 2 4-2 4 3 3-2 4-5 0 0-5 2-4-3-4-4 1-3 3-4-2 2-4-2-4-1-5 0-4 0-5-1-4 0-5 0-4-3-4-4-2-3 3-4 1-5 1 0 4-3 3-1 5-2 4 1 4 4-1 3-3 4-3 4 0 4 3 2 4 4 1 2 5 2 3 4-2 4-2 2 4M1262 1199l5-1-1-4-2-4-2-4 2-4 5-1 4 1-3-3-3-3-4 0 1 4-1 4-4 3-3 2-3 4 3 4 4 2 2 4 2 4 1 4 3 4 4 0 4-2-1-4 3-4-3-3 1-4 4-3-1-4 3-4 4-3 4 1 4-1 4-2 3-4 2-4-3-2 0-5-3-3 2-4 5 0-2-5-4-1-4 3-3 3 0 4-1 5 1 4 5 1 2 3 5 1 4 2-3 3-3 4 0 5 5-1 4 2 4 0 5-2 3 3M1298 1222l-2-4-3 3 1 4 1 4 2 5 4 1 2-4 5 1 3-3 3 4 4 2 5 0 4 0 5 1 3 2-1 5 1 4-3 3-1 4 4 2 0-4-1-5-1-4-1-4-2-4 1-4 3-4 4-2 4 2 3 4 0 4 4 3 4 1 2-4 4-3-3-3-3-3-3-3-2-4 0-5-2-4 3-4-1-4-1-5 2-3 5 1-1 4 0 5-4 2-4-1-3-4-4 2-1 4 5 2 2-4 3-4 4 0 1 4 2 4 4 3M1251 1158l-3 3-4-1 4-2 4-2 3-4 5 1 4-2 5 1 3-3 3-3-3-3-3-3 0 4 4 2 4 3 1 4-3 3-5 0-4 1-4-2-1 5 4-1 4-1-3-3 0-4-1-5 0-4 4-1 5 0 4 2 3-3 5 1 4-1 2-4 4-3 5-1 2-4-1-4-4 0-4 1 1 4 5 2 1 4 3 3 4 1 3 3 3 4 0 5 1 4 5 1 1 5 1 4 2 4 0 5-4 2-5 1-4-2-1 4 1 5 2 3M1275 1177l2 5-1 4-4-2 3-4 2 4-3 4-1 4 4 2 0 4-3 4-4 2-4-3-1 4-3 4-4 2-4 3 0 4 2 4 3 3 4 3 4-2 4 2 5 0 4-3 4-1 4-1 5 2 4-1 4 3 3 3 2 4-3 4-5-1-4-2-4 0-2 4 0 5 2 4 4 0 3 4 4 2-3 4-4 2-4-2 0-4-4-3-4-2-1-5-2-4 4-2-1-5 4-2 3-3-4-3-5 1-4 2-3 3 0 4-4 3-4 1M1287 1191l-5 1-4 3 1 4-2 4 2 4-1 5-1 4-4-1-4-3-4 1-2 4-1 5-1 4 4 1 4 3 4 2 3 3 3 3 1 4-1 4 0 5 1 4 4 0-2-5 0-4-5 1-4-1-3-4-3-3 1-5 3 4 2-4 2-4 4-1-1-4-5 2-3 3-4 2-4 1-5-1-4 1-4 1-4 2-3 4-4-2-3-3-4 3-4 1-2 4 0 5-5-1-3-3-4-2 5 1 2 4 1-4 2 4 4-1 5 2 3 3M1279 1189l-5-1-4 2-4 1-3 3-4 3-2 4-4 3-3 3-3 3-3 3-2 4 2 4-1 5 1 4-2 4 3 3 4-1 3 3 5-1 3-4 1-4 1-4-2-4-3-3 0 5-4 2-4-2 2-4 1-4 0-5-2-4-2-3-5 0-4 1-5-1 1 5-4 0-4-3-2-4-2-3 1-5 3-3 4-2 5-1 2-3 3-4 1-4-1-5-4-3-4 2-3-4 0-4 3 3 4-2 3 4 1 4 3 3 0 5 1 4 0 5M1280 1183l4 1 3 3 4 3 4 2 1 4-2 4-1 5-1 4-4 3-4 1-5 0-4 2-4 3-2 3-5 1 1 5-2 4 0 4-3 3-3 4 2 4 5-1 4 0 4 1 5 1 4-3 4-2 3 3 3 4 0 4-1 5-2 4-5 1 2 4 2 4 5 1-3-4-3-3-3-3-4-2-3-4-4 2 3 3 4 2 5-2 4 0 4-2 4-1 4-3 3 4 4 2 0 5 0 4-4-3-3-2-4 2 2 4 2-4 1-5 0-4M1035 1297l5 0 4-1 4 4 3 2 0 5-2 4 4 2-3 3 0 4 1 5-5 1-3 2 1 5 3-3 4-3-4-2-4 1-4-2-2-4 1-4 5-1 3-3 3-3 2-4 4-2 3-3 5 2 4 0 5 0 4 1 1 5-4 1-4 2-1 5-4 0-3 4 2 4 3 4 1 4-3-3 2-5 0-4 0-5-4 2-4 2-5-1-3 2-4 4 1 4-5 1-3-3-4 3-3 4 4 1 2-4M1036 1306l-4-3-2 4-4-2-3-3 0-5 1-4-3-3 3-4 4-1 3-3-2-4-4-2-1-5 0-4-1-5-1-4-2-4 1-5 2-3 4-2 1-5 4-2 4 0 4-3 4-1-1-5 2-4-2 4 0 5 3 3 5 0 4 2 2-4 3-3 0 4 4-1 5 1-4 3-5-1-4 0-4 2-5-1-4 2-4 0-4 2-4 2 4 2 4 3 4 0 4 3-2 4 2 5-1 4 4-1 4 3M1058 1285l-3-3-4 2-3-3-2-4-5 0-3 3-1 5-2 3-5 2-4 2 0 5 5 1 4 1 4 2 4 1 0 5-4 3-4 1-3-3-4 3-4 3-1 4 1 4 5-2-1-4 1-5-2-4-2-3-5-2-4-1-4-1-2 4 1 4-4 3 0 5 3 2 4 2 4 2 5-1 3-4 1-4 2-4 3-3 4-2 4 1 1 5-4 2-3 4 1 4-1 4-4 2-4-3-4 3-3 3 1 5M1046 1268l-4 0-4 2-4 2-4 1 1 5 0 4 3 3 3 3-1 5-4 2-2 4-4 3-4 1-3-3-1-4-4-2-4 3-1 4 0 4 4 1-3 3-4 2 3-3 3-3-3-3-5 0-3-3 3-4 4-2 2-4-4-2-1 4-1 5-1 4 4 1 4 3 3 3 1 4-4 3-4 0 0-5-4-1 4 1 3-4 1-4 1-5-3-3 1-5 0-4 5 0 4 0 2 4 3 4 3 2 4-2M1044 1284l-5 0-3-3-2-4 5-2 3-4 4-1 4 0 5-1 4 2-4 3-2 4-1 4-3 3-5-2 2-4-3 3-4-3-4 0-1-5 3-3-1-4 0-5 1-4 2-4-4-3-4-2-5 0 4-3 2 4 0 4-3 4-1 4-4 3 1 4 4 3 3 3 2-4-1-4 0-5-4-2-4 0-5 0 0 4 3 4 4 1 4-3-5 0-3-3-1-4-4-3-4 2 1 4 0 5-3 2-3 3M1239 1395l4-2 0-4-1-4-3-3-5-2-1-4 0-5-1-4 2-4 4-3 4-1 3 3 4 2 4 3 5 0 1 4-2 4 4 2 2 4-2 4-3 4-1 4 1 4 1 5 4 3 2 4 0 4-3 3-3 3-3-4-3-3 0-4 1-5 4 3 3 3 4 1 4-2-3-4 0-4 1-5 4-2 4-2 4 1 3 4 1 4-4 2-4 3-4 1-1 5 0 4M1248 1340l4 2 1 5-4 2-3 3 0 5 1 4 4 2 3 3 5 0 4 1 5-1 4 1 0 5-4 2 1 4-5 0-4-1-3-3 1-5-2-4-4-2-2 4-1 4-2 4-4-3-3-3-3 2-2 4-4-2-4-2-4 0-5 1-2 4 1 5-1 4-1 4 2 5-2 4-3-4-2 5 2-4 4-2 2-5-2-4 2-4 5 1 3 3 0 4-2 4-3 4M1240 1351l-2 5-2 4 2 4 0 4-4 3 1 5-4 2-4 1-4-2-3-3-5 1-3 2-5 0-3 3-5-1-3-3 3 4 4-2 4-2 5-1 0-5 1-4 4-1 5 2 4-2 4 0 5-2 4 0 3 3 0 5 2 4 4 3 1 4 5 0 4 2 1-4-3-4 2-4 4-1 3 3 3 3 5 1 1-4 3-4 1-4-4-1-4-3-1-4 2-4 5-1M1237 1371l-4 1-5 1-3 3 0 5-1 4-4-1-4 0-5 2-4-2-4-3-3-2-4-2 4-3 3 3 4 1 3-4 3-3 4 0 4 3 5-1 2-4 0-4 4-2 0-5 0-4-3-3-3-3-2 4-4 0-4-4-4 1-5 0-2 3 2 4-2 3 1 5-5 0-3 4 3 3 3 4-1 4 2 4-2 4-3 3 4-2 3 3-1 4 3-3 4-2 0-5M1234 1380l1 4-4 3-2 4 3 3 4 2 4 2-2 4-4-1-4-1-3-4-2-4-3-4-3-3-1-4 4-1 2 4 1 4-2 4-1 5-4-1-2-4-5-1-3 2 0 5 4-2 1 4 3 4 1 4 3 4 4 1-3-3-3-3-1-5 3-3 2-4 4-2 3 4 5 1 1 4 1 5-2 4 1 4 4 3 4 1 3-4 3-3 4-1 5 0 4 1 5 1M1251 1365l-1-4-2-4-4-3-2-4-3 4-4 1-5 0-3 3 2 4 3 4-1 4 0 4-2 4-4 1-2 5 4 2 3-4 4 1 4-2 5 1 3 3 1 4 1 5-4 2-5 1 0 4 2 4 4 2 5 0 4-1 5 1 3-3 4-1 5-1 4 1 4-3-1-4 0-5-3-3 0-4 2-4 0-4 4 1 4 3-3 3-1 5 2 4 3 3 3 3 4 2M1268 1370l3 3-3 3-1 4-3 4-1 4 2 4 0 5-2 4-3 4-4 1-5 1-4 2-4-1 0 5-2 4 4-3 4-2 1-4-1-5-3 4-4 1-3 4-4-2-1 5 3-4 3-3-3-4 0-4 3 3-1-4 2-4-3-3-4-3 1-4 4-1 3-3 4-3-1-4 2-4 4 0 3-4 4 2 4-2 3-4 5-1 4 1 4 0 2 4 3 3 2 4M1255 1381l-4 0-4-2-2-4-2-5-3-2-1-5-1-4-4-3-2-4-4-1-5-1 1 5-3 3-5 0-1 5 4 3 2 4 1 4 4 3 4 1 3 3 5 1 4 1 5-1 2-4 0-4-3-3-5 1-3 3-2 4-3 4-1 4 2 5 4 2-4 3-3 3-3 3-1 5 2 4 5 1 2 4 3-4 2-3 1-5 4 1 4 2 5 0 4 2 4 2 1-4M917 1260l-4-1-4-3-1 4 1 4 2 4 4 1 5-1 4-1 5 1 3 4 4 1 2 4 4-3-2-4-2-4-3-4-3-3-2-4-3-3-4 1-2 5 5 1 3-3 4 1-3 3-3 3-1 5-4 2-4 3-4-1-4-3-1-4 1-5 4-2 0-4-1-5 2-4 4-3 4 0 4 1 4 2 2 4 1 5 1 4 2 4M920 1259l0-4-5-1-2 3-5-1-4 2-4-1 3 3 5 1 4-2 4-1 4 2 1 4 0 5-4 2-2 4-1 4-5 1-3 3-3 4 1-4 4-3 4-2 2-4 5 1 2 4 0 5 5-1 2-3 5 0 1 4 2 4 1 4-4 1-4-3-3-3-5 0 2 4 4-1 4-2 5 0-4-3-2-4 0-4 3-4 0-4M913 1256l-3-3-4-3-4 1 4 2 4 1 3 3 4 3 4 1 4 3-2 4-4 2-2 5 3 3 4 2 5 2 0 4-4-1-2-4-2-4 4 0 4 2 4 1 4 2-1-5-3-3-2-4 0-5-4 0 2-4-4-1-3-4-3-3-3-3-4-2-3-4-1-4 1-4 2-4 3 4 5-1 4-1 3-3 4 2 4 1 4 2M926 1281l-3-4-5 1-4 0-5 2 0 4 4 2 4-2 2-4-1-4-4 0-4 2-5 0-2 4 2 4 1 5 1 4 4-2 1-4 5-1 4 1 3-3-2-4-4 2-4 2-4 2-2 4-5-2 3-3 4-2 3 3-3 4-4 1 1-4-2-4 2-4 5-2 4-1 5 0 4 0 5 0 4-2 2-4 3-4-4-2-3 4M1235 1248l-6 5-19 0-6 8-2-4-9 9-7-2-12 4-10-3-1 9-8 0-10 4-2 1-7-1-5 6-6-4-5-2M1000 1110l-4-4-13-2-12-5-15-7 4 3-13 3-8-2-4 4M1090 1120l10-2 11 0 2-2 8-13 11 1 9-2 5 8 4 0M1230 1340l-7 15-4 2-17 18 0 6 2 14 1 5 5 11 5 12-7 4 4-2-16 7-6 0M1280 1240l0 9 7 12 3 7 4 13-5 10-2-2-1 7-1 4M1335 1205l7 1 14-14 1 3 11-6 10-1 6-1 5-4 6 2" fill="none" stroke="#20103a" stroke-width="5.5" stroke-linecap="round" stroke-linejoin="round"/><path d="M1036 1172l-4-1-5-1-3-3-3 3 2 4 1 4 2 5 2 4 4 2 1 4-4 2-4-1-5-2-2-4 3 4-1 4 0 5 5-2 4-2 3-2 2-4 5-1 0 4-4 1-4 3-4 0-5 0-4 2-4-2-5 0-3 3-2 4 0 4-1 5-4-1-3-3-4-3 4-4 4 0-2 3-5 0-3 3-4 3 2 4 0-5-5 1-4 0-4-3 4-3 5 2 4-2 2-4 5-1-4-3 4-2 3-3 4-3 4 3 0 4-3 3M982 1146l0-4 0-5 5 0 1-5-1-4 0-5 2-4-3-3 3-3 2-4 4-1 4-2 5 0 0 4-2 4-3 3 0 5 3 3 5-1 0 4 5 0-3-3 4-3 4 2 4 1 2 4 5 1 4-1 4 2 4 3 4 1-1 4-3 3-4 2 0 5-1 4 0 5 1 4-3 4 0 4-2 4-4 2-5 1 2-4-4-3-4-2-4 3-4 2 1-4-4-1-5 0-4-3-3-3 0-4-4-1-2-4-5-1-3 3-4 1-5-1M999 1142l-2-4 3-3 4-2 4-2 4-2 0-5-3-3 0-5-4-2-4-3 0-4 4 1 4-1 5 0 4 1 4 2 4 2 5 1 4 1 2 4 4 1 3 4-1 4 1 5-3 3-3 3-4 2-5-1-3-3-3-3-4 2-3-3-1-4 3-4-2-4-1-4-2-4-3-4-3-3-2-4-4-2-5-1-4 2-3 3-1 4-4 3-4 1-2 4-4-3-4-2 0-5-4 3-1 4-4 1-4-2-3 4-2 4-4 1-4 3-3 3M1011 1144l-2-4 1-4 0-5-4-2 4 0 5 1 4 2-1 4-4 2-4 2-1 5 0 4 0 5 3 3 5 0 3-3 3-3 0-5 3-4 4 0 5 0 4 1 0 5-3 3 3 4 5 1 4 2 4-2 4 1 2-4-5-1-2-4 0-4-4-1-5-1 0-5-4-2-4 3 1 5 3 2 3-4 1-4-4-2-4-2 3-3 0-4 4-4 4 2-1-5 0-4-1-5-2-4 2-4-1-4 1-5 0-4-1-5-4-2 4-2 4-3M1060 1172l-5-1-4-2-1-4-4-2-4 2-3 4-1-5-1-4 0-4 2-4 1-5-1-4-4-3-4-1-4 0 0 5-4 1-1 4-3 4 0 5 2 4 1 4-3 4-3 3-4 2-5 0-4 1-4-2-1 4 0 5 0 4 1 4 1 5 4 1 4-3 4-3 3-2 3-4 2-4 1-4 4-2 5 1 4-2 3 3-1 5-4 3 1 4-2 4-2 4 1 4-1 4-2 4-4-2 1-5-5 0-4 0-5 0-4 1-4 2-3-3M1016 1136l4-2 4 0 2-4-1-4-4-3-3-3-5 0-4 0-4-3-4-2 0-4 2-4 0-5 4-2 5 0 4-2 3-3 3-4 3-2 4 2 4 3 4 0 3-4 3-3 4-2 4 2 4 1 2-4 4-2 4-2-4-2-2 4-4 3-1 4-4 2-3 3-2 5 0 4 3 3 0 4-4 1-4-3-1 4 0 5 2 4 0 4 4-2-3-3-4-1-2-4-3-4 5-1 3-3 3-4 2-4-1-4 3-3-1-4-5-2-4 1M1044 1135l2-4 4-2-4 2 1 4 4 3 3 3 2-4 0-5 2-4 0-4 1-5-5-1-4 1-4 2-4 1-4-3-2-4-4-3-3-3-4-1-5 1 0-5 4-2-3-3-4-2-5-1-4 0-5 0-2-4-4-1-2 4-2 5 3 3 3 2 0 5 3 3 0 5 0 4-4 3-3 3-4 2-4 1-2 4-3 3 2 4 4 3-3-4-4-1-3-4 3-3 3-4-1-4-3-3-2-4-1-4 0-5 4-1 5 1 3-3 5 0M1029 1125l-5 0-2 3-5 1-1 4 2 4-3 4 3 4 4 2 3 3 1 5 4-2 4 2 5 0 2 4 4-2 4 1 4 2 5 1 4 0 4 1 5-2 3-3 1-4 1-5 4-3-3-3-2-4-1-5 4-2 2-4 5 0 4-1 4 0 5 1 4 2 4 1 4-3-3-4-3-4-3-2-4-3-4 3 1 5-2 4-4 2-3 3 0 4 3 3 5 1 3 3 3 3 4-2 0-5 2-4 2-4 4 3-1 4-2 4 0 4 0 5M985 1131l5 0 4 0 4 2 4-2 4-4 4-1 4 2 4 2 2 4-3 4-4 2-2 4-5 1-4-3-1-4 1-4 1-4-1-5-3-3-4 0-4-1-4-4-4-1-4-1-4-3 0-4 3-4-2-4-2-4-3-4-3-3-1-4 3-4 2 4 3 3 2-4 2-4 3-4-1 5-4-3 4-2 3 3 3 3 4-2 2-4 2-5-3 4-1 4 2 4 2 4 3 4 3 3 2 4 4 2-1 4-2 5 1 4 2 4 0 5 2 4M1018 1162l-1-5-4-1-3-3-5-1-3 3-1 4 0 5-1 4-4 2-4 2-4 0-3-4 4-2 3-3 4-3 4 0 5 0 3 3 5 0 4-1 3-4 1-4-3-4-3-3-5 1-3 3-4 2 0 4 4 2 5 1 3-4-1-4 5 0 4 1 4-1 3-4-2-3-5 1 3 3 1 5 2 3 0 5-1 4 4 0 0 4-2 4-4 2-3 3-1 4-1 5-4-1-3 4 2 4 0 5 4-1 2 4 5 1 2 4 2 4 3 2M1054 1139l-1 5 1 4 4 3 1 4-1 4-2 4-2 5-4 1-4-1-5-1-4 0-4 1-4 3-1 4-1 5 5 1 3 4 4 0 4 2 4 2 4 0 4-3 4 2 0 4 4-2 3-2 4 2 4 1 1 5-1 4 1 4 3-3 0-4 4-3 5-1 2-4 3-3 3-4 1-4 3-3 2-4 4-3 2 3-3-3 1-4-5-1-4 2-4-1-3 3-5 0-1-4 5-1 2 4 3 3 0 5 0 4-4 3-4 1 1 4 2 4M1016 1160l4 2 1-5 4-2 5 0 4-1-1 5 1 4 4 1 4 1 4 3 5-1-2-4-4 2-2-3-5 1-3-3 0-4-4 1-4 1-4-1-2-4 4-3 4 2 4 2 5 1 4 0 4 2 4-2 1-4 4 3 0 5-4 2-3 3 0 5 2 4 4 2 4 0 1-5 2-3 4-3 4 0 5 0 4-2 1 4-2 4-4 3-5-1-4 0-4-3-4 1-3-4 0-4 3-3 5-2 4-1 4-1 4 3 5 0 3 3 0 5M969 1151l-4 0-4 2-4-3-3-3-4 2-4 2 0 4-2 4-1 5 4 2 0-4-4 1-4 3-4-2-1-4-2-4 4-2 1-5 2-3 3-4 4-1 4 2 4-2 3-3 3-3-1-5 4 3 3 3-2 5-1 4 4 3 0-5-4-3-2-3-5-1-3 2-5 1-3 3 2 5 2 3-3 3-3 4-3 3-3 4-4 1-5-1 0-5 4 2 5 2 2-4-2-3-4 0-5 1-4-1-5 1 4 2 5 0 3 3-2 4-4 2M1029 1142l4 2-1 4-2 4-4-1-3-4 2-4 1-4-4-2 3-3 4 1 3 4 4 0 3 4 5 0 4 1 1 5 0 4 4 3 1 4 1 5-1 4-4 1-4 3 1 5 4-2 2 4 5 1 1 4-1 5-4 2-4 1-5-1-4 1-4-2-4 3-4-1-1 5 1 4 2 4 2 3 3 4 5 0 4 0-3-3-5 0-4 0-3 3-5 0-4 0-5-1-3 3-5 0-3-3-3 3-4-1-4 2 3-3 3 4 1-5-3-3M999 1147l-4-2-2-4 4-2 1-5-2-4 1-4 4 2 5-1 4 0 3 4 1 4 4 0 5-2 3 2 3 4 3 3 3 3-1 4-4-2-4 2 3 4 1 4-3 4-2 4-2 4-4 1-5 2-3 3 4 1 5 0 4 1 1 4 3-4 1-4-4-3-3-3 1-4-2-4 2-4 5 1-1-5 4-1 4 3 4 2 4 0 5 1 4 0 3 3 1 5-4 2-3-3-2-4-5 0-3 3 5 2 4-2 3-3 5-1 3-3 2-4M1070 1142l0-5-3-3-4 0-5-1-4 1-4-1-3 3-3 4-4-2-4-2 2-4 4 3 4-2 3-3 1-4 5 0 3-3-3-3-5 0-4 1-4 2-3 3-4 3 0 5 0 4 2 4 4 3 4 1 2 4 2 4-1 5 3 3 4-2 3-3 4-1 5-1 3-3-3-4-2-4-4-1-2 4-2 4-3 4-4-1-2 4 3 3 4 3-3 4-2 4-4 2 0 4 0 5 4 1 1-5 3-3 4 0 4-3 4-2 4-1 4-1M1285 1190l-4-2-4 0-2-4-4-3-2-4 5 0 3 3 5 0 4 1 5-1 3-2 5 0 3 3 3 3 5 1 4 2 3 4 4 1 3 3 5 1-1-5-2-3-4-4 2-4-2-4-4-1-3 3-5 1-4 1-5 0 0-5-1-4-4 0-4 3-4 0-2-4-5-1-4-2-3-3-4 0-2 4-3 3-4-2 1-4 0-5 0-4-4 2-4 2-4-3-4-2-4-1 3-3 4-3 3-3 4-3 4 2 4 1 5 0 3-3 4 2M1279 1196l-4-1-4-2-2 4-3 3 4-1 5-1 4 1 2-5-3-3-3-3-4-2-3-4 2-4-2-4-2-4-4 3 4-1 2-4-4 2-4 0-4-3-1-4-5 2-2 4 4 2 5 1 3-3 4 2 4 2 4-2 3 3 3 4-1 4-1 5-4 1-3-3-1-5 4-2 5 1 4 1 4-1-3-3 2-5 4-2 0-5 3-3 3-3 4-2 2 3-2 5 4 3 3 3 0 4-5 2-4 0-4 1-5 0 1 4-4 3-4 2M1273 1174l-1-4 3-3-4-3-1 5-1 4 1 5-2 4-4 2 1 5-3 3-3 3-4-1-4 2-5 1-3 3 0 5-2 4-2 4-4 1-3 3-1 5-2 4 2 4 5-2 2-4 4 0 4-1 4-2 5 0 4-2-2-4-2-5 4-2-1-4-5-1 0-4 2-4 4-1-1-4 2-4 2-5-4-2-3-4-4 0-5 1-4 1-4 2-5 0-4 1-4 2-4-2-4 0-4 3-4 1-1 5-2 4-4-2 3-3 1-5 4-2M1280 1207l-1 4-1 4 3 4-1 4 3 4 2 4 3 3 3 3 4 2 1 5 0 4 4 3 4-3 4 0 5 0 2 3 1 5-4 2 1 5 3 3-4-1-3-3-4-3 1-5 0-4-4-3 0-5 4 2 4-3 4-2 2-4 3-3 4-2 3-3-3-4-2-4-3-4 2-4 1-4 4-2 5 0 1 4-3 4 3 4 3 3 1 4 3 4 1 4-4 1-3 4 0 5 4 3-1 4-4-3-4 1 2-4-3-3-2-4-2-4-1-5M1258 1185l4-3 1-5 2-4 4-2 1 5 0 4 2 4-2 4 0 5-1 4 4 2 2 4 5 2 0 4 0 5-3 3 1 5-2 4 3 4 4 2 2 4 1 5-3 3-5-2-4 0-5-1-4 2-1 4-4 2-4 2-4 2-5 0-4 2 1 4 3-3 3-3 4-2 3-3 5 1 3 3 4 2 3 3-3 3-4 3-3-3-4-2-4-2 2-4 2-4 5 2 4-2 3-3 4-3 2-4 2-4 1-4 2-4-2-4-3-4-3-3M1286 1189l1 4 0 5 0 4 0 4 4 2 5-1 3-2 3 4 3 3 4 0 4 3 2 3 4 3-1 5 4 3 4-1 3-3 3-4 1-4 1-4 5-2 4-2 4 0 5 0 2-4 2-5-2-4 0-4 0-5-4-2-4-2-4-2-4-1-3 3-2 4 0 5 2 4 0-5-2-3 5-1 1 4-3 4-2 4-4 1-5-2-4-1-4-2-4-2-2 5-4 1-4-3-3-3-2-4-4-1-5-1-4 1-1 4-3 4-2-4 4-2M1275 1233l-4-3-4 0-4-1-1-5-5 0-2-4-2-3 3-3 1-4-1-5-4-2-5 0-3 3-5 0-2 4-4 0-1 4-1 5 1 4 2 4 1 4 2 4 1 5 2 4-4 2-3-3 3-4 4 2 4-1 5-1 4 3 3-3 5-1 4-1 4-1 2 4-2 4-3-3-2-4 2-4 1 4 5 0 4 1 3 4 4-3 1-4 2-4 4-3 1-4-2-4 4-1 3 3 4-1 4-2 4 0 1 4-4 3-4 1-4 0-3-4M1289 1188l-1 4 0 5-4 1-4 2-4 0-4 3 4 3 3 3 3 4 3-3 4 1 3 4 3 4 4 0 2-4 1-4 1-5 0-4-1-5 0-4 1-4 2-4 2-4-4-2-4-2-3-4 1-4 2-4-3-4-1-4 3-3 3 3 3 3 2 4 3 4-2 4-3 3 0-4 0-5-1-4 4-3 4 0 4-3 4-2 2-4-4-3-2-4-3-3-4-2-1-5-4-2-2-4-3-4-2-4-3-2-5 1 3 3 5 1 4-2-1 4M1291 1178l4 1 4 0 5-2 3 3 2 3-1 5 1 4-4 3 4 2 3 3 4 3-3 4-3-3-2-4-2-4 1-5 4-1 5 1 4 2 2 4-2 4 3 3-2 4-5 0 0-5 2-4-3-4-4 1-3 3-4-2 2-4-2-4-1-5 0-4 0-5-1-4 0-5 0-4-3-4-4-2-3 3-4 1-5 1 0 4-3 3-1 5-2 4 1 4 4-1 3-3 4-3 4 0 4 3 2 4 4 1 2 5 2 3 4-2 4-2 2 4M1262 1199l5-1-1-4-2-4-2-4 2-4 5-1 4 1-3-3-3-3-4 0 1 4-1 4-4 3-3 2-3 4 3 4 4 2 2 4 2 4 1 4 3 4 4 0 4-2-1-4 3-4-3-3 1-4 4-3-1-4 3-4 4-3 4 1 4-1 4-2 3-4 2-4-3-2 0-5-3-3 2-4 5 0-2-5-4-1-4 3-3 3 0 4-1 5 1 4 5 1 2 3 5 1 4 2-3 3-3 4 0 5 5-1 4 2 4 0 5-2 3 3M1298 1222l-2-4-3 3 1 4 1 4 2 5 4 1 2-4 5 1 3-3 3 4 4 2 5 0 4 0 5 1 3 2-1 5 1 4-3 3-1 4 4 2 0-4-1-5-1-4-1-4-2-4 1-4 3-4 4-2 4 2 3 4 0 4 4 3 4 1 2-4 4-3-3-3-3-3-3-3-2-4 0-5-2-4 3-4-1-4-1-5 2-3 5 1-1 4 0 5-4 2-4-1-3-4-4 2-1 4 5 2 2-4 3-4 4 0 1 4 2 4 4 3M1251 1158l-3 3-4-1 4-2 4-2 3-4 5 1 4-2 5 1 3-3 3-3-3-3-3-3 0 4 4 2 4 3 1 4-3 3-5 0-4 1-4-2-1 5 4-1 4-1-3-3 0-4-1-5 0-4 4-1 5 0 4 2 3-3 5 1 4-1 2-4 4-3 5-1 2-4-1-4-4 0-4 1 1 4 5 2 1 4 3 3 4 1 3 3 3 4 0 5 1 4 5 1 1 5 1 4 2 4 0 5-4 2-5 1-4-2-1 4 1 5 2 3M1275 1177l2 5-1 4-4-2 3-4 2 4-3 4-1 4 4 2 0 4-3 4-4 2-4-3-1 4-3 4-4 2-4 3 0 4 2 4 3 3 4 3 4-2 4 2 5 0 4-3 4-1 4-1 5 2 4-1 4 3 3 3 2 4-3 4-5-1-4-2-4 0-2 4 0 5 2 4 4 0 3 4 4 2-3 4-4 2-4-2 0-4-4-3-4-2-1-5-2-4 4-2-1-5 4-2 3-3-4-3-5 1-4 2-3 3 0 4-4 3-4 1M1287 1191l-5 1-4 3 1 4-2 4 2 4-1 5-1 4-4-1-4-3-4 1-2 4-1 5-1 4 4 1 4 3 4 2 3 3 3 3 1 4-1 4 0 5 1 4 4 0-2-5 0-4-5 1-4-1-3-4-3-3 1-5 3 4 2-4 2-4 4-1-1-4-5 2-3 3-4 2-4 1-5-1-4 1-4 1-4 2-3 4-4-2-3-3-4 3-4 1-2 4 0 5-5-1-3-3-4-2 5 1 2 4 1-4 2 4 4-1 5 2 3 3M1279 1189l-5-1-4 2-4 1-3 3-4 3-2 4-4 3-3 3-3 3-3 3-2 4 2 4-1 5 1 4-2 4 3 3 4-1 3 3 5-1 3-4 1-4 1-4-2-4-3-3 0 5-4 2-4-2 2-4 1-4 0-5-2-4-2-3-5 0-4 1-5-1 1 5-4 0-4-3-2-4-2-3 1-5 3-3 4-2 5-1 2-3 3-4 1-4-1-5-4-3-4 2-3-4 0-4 3 3 4-2 3 4 1 4 3 3 0 5 1 4 0 5M1280 1183l4 1 3 3 4 3 4 2 1 4-2 4-1 5-1 4-4 3-4 1-5 0-4 2-4 3-2 3-5 1 1 5-2 4 0 4-3 3-3 4 2 4 5-1 4 0 4 1 5 1 4-3 4-2 3 3 3 4 0 4-1 5-2 4-5 1 2 4 2 4 5 1-3-4-3-3-3-3-4-2-3-4-4 2 3 3 4 2 5-2 4 0 4-2 4-1 4-3 3 4 4 2 0 5 0 4-4-3-3-2-4 2 2 4 2-4 1-5 0-4M1035 1297l5 0 4-1 4 4 3 2 0 5-2 4 4 2-3 3 0 4 1 5-5 1-3 2 1 5 3-3 4-3-4-2-4 1-4-2-2-4 1-4 5-1 3-3 3-3 2-4 4-2 3-3 5 2 4 0 5 0 4 1 1 5-4 1-4 2-1 5-4 0-3 4 2 4 3 4 1 4-3-3 2-5 0-4 0-5-4 2-4 2-5-1-3 2-4 4 1 4-5 1-3-3-4 3-3 4 4 1 2-4M1036 1306l-4-3-2 4-4-2-3-3 0-5 1-4-3-3 3-4 4-1 3-3-2-4-4-2-1-5 0-4-1-5-1-4-2-4 1-5 2-3 4-2 1-5 4-2 4 0 4-3 4-1-1-5 2-4-2 4 0 5 3 3 5 0 4 2 2-4 3-3 0 4 4-1 5 1-4 3-5-1-4 0-4 2-5-1-4 2-4 0-4 2-4 2 4 2 4 3 4 0 4 3-2 4 2 5-1 4 4-1 4 3M1058 1285l-3-3-4 2-3-3-2-4-5 0-3 3-1 5-2 3-5 2-4 2 0 5 5 1 4 1 4 2 4 1 0 5-4 3-4 1-3-3-4 3-4 3-1 4 1 4 5-2-1-4 1-5-2-4-2-3-5-2-4-1-4-1-2 4 1 4-4 3 0 5 3 2 4 2 4 2 5-1 3-4 1-4 2-4 3-3 4-2 4 1 1 5-4 2-3 4 1 4-1 4-4 2-4-3-4 3-3 3 1 5M1046 1268l-4 0-4 2-4 2-4 1 1 5 0 4 3 3 3 3-1 5-4 2-2 4-4 3-4 1-3-3-1-4-4-2-4 3-1 4 0 4 4 1-3 3-4 2 3-3 3-3-3-3-5 0-3-3 3-4 4-2 2-4-4-2-1 4-1 5-1 4 4 1 4 3 3 3 1 4-4 3-4 0 0-5-4-1 4 1 3-4 1-4 1-5-3-3 1-5 0-4 5 0 4 0 2 4 3 4 3 2 4-2M1044 1284l-5 0-3-3-2-4 5-2 3-4 4-1 4 0 5-1 4 2-4 3-2 4-1 4-3 3-5-2 2-4-3 3-4-3-4 0-1-5 3-3-1-4 0-5 1-4 2-4-4-3-4-2-5 0 4-3 2 4 0 4-3 4-1 4-4 3 1 4 4 3 3 3 2-4-1-4 0-5-4-2-4 0-5 0 0 4 3 4 4 1 4-3-5 0-3-3-1-4-4-3-4 2 1 4 0 5-3 2-3 3M1239 1395l4-2 0-4-1-4-3-3-5-2-1-4 0-5-1-4 2-4 4-3 4-1 3 3 4 2 4 3 5 0 1 4-2 4 4 2 2 4-2 4-3 4-1 4 1 4 1 5 4 3 2 4 0 4-3 3-3 3-3-4-3-3 0-4 1-5 4 3 3 3 4 1 4-2-3-4 0-4 1-5 4-2 4-2 4 1 3 4 1 4-4 2-4 3-4 1-1 5 0 4M1248 1340l4 2 1 5-4 2-3 3 0 5 1 4 4 2 3 3 5 0 4 1 5-1 4 1 0 5-4 2 1 4-5 0-4-1-3-3 1-5-2-4-4-2-2 4-1 4-2 4-4-3-3-3-3 2-2 4-4-2-4-2-4 0-5 1-2 4 1 5-1 4-1 4 2 5-2 4-3-4-2 5 2-4 4-2 2-5-2-4 2-4 5 1 3 3 0 4-2 4-3 4M1240 1351l-2 5-2 4 2 4 0 4-4 3 1 5-4 2-4 1-4-2-3-3-5 1-3 2-5 0-3 3-5-1-3-3 3 4 4-2 4-2 5-1 0-5 1-4 4-1 5 2 4-2 4 0 5-2 4 0 3 3 0 5 2 4 4 3 1 4 5 0 4 2 1-4-3-4 2-4 4-1 3 3 3 3 5 1 1-4 3-4 1-4-4-1-4-3-1-4 2-4 5-1M1237 1371l-4 1-5 1-3 3 0 5-1 4-4-1-4 0-5 2-4-2-4-3-3-2-4-2 4-3 3 3 4 1 3-4 3-3 4 0 4 3 5-1 2-4 0-4 4-2 0-5 0-4-3-3-3-3-2 4-4 0-4-4-4 1-5 0-2 3 2 4-2 3 1 5-5 0-3 4 3 3 3 4-1 4 2 4-2 4-3 3 4-2 3 3-1 4 3-3 4-2 0-5M1234 1380l1 4-4 3-2 4 3 3 4 2 4 2-2 4-4-1-4-1-3-4-2-4-3-4-3-3-1-4 4-1 2 4 1 4-2 4-1 5-4-1-2-4-5-1-3 2 0 5 4-2 1 4 3 4 1 4 3 4 4 1-3-3-3-3-1-5 3-3 2-4 4-2 3 4 5 1 1 4 1 5-2 4 1 4 4 3 4 1 3-4 3-3 4-1 5 0 4 1 5 1M1251 1365l-1-4-2-4-4-3-2-4-3 4-4 1-5 0-3 3 2 4 3 4-1 4 0 4-2 4-4 1-2 5 4 2 3-4 4 1 4-2 5 1 3 3 1 4 1 5-4 2-5 1 0 4 2 4 4 2 5 0 4-1 5 1 3-3 4-1 5-1 4 1 4-3-1-4 0-5-3-3 0-4 2-4 0-4 4 1 4 3-3 3-1 5 2 4 3 3 3 3 4 2M1268 1370l3 3-3 3-1 4-3 4-1 4 2 4 0 5-2 4-3 4-4 1-5 1-4 2-4-1 0 5-2 4 4-3 4-2 1-4-1-5-3 4-4 1-3 4-4-2-1 5 3-4 3-3-3-4 0-4 3 3-1-4 2-4-3-3-4-3 1-4 4-1 3-3 4-3-1-4 2-4 4 0 3-4 4 2 4-2 3-4 5-1 4 1 4 0 2 4 3 3 2 4M1255 1381l-4 0-4-2-2-4-2-5-3-2-1-5-1-4-4-3-2-4-4-1-5-1 1 5-3 3-5 0-1 5 4 3 2 4 1 4 4 3 4 1 3 3 5 1 4 1 5-1 2-4 0-4-3-3-5 1-3 3-2 4-3 4-1 4 2 5 4 2-4 3-3 3-3 3-1 5 2 4 5 1 2 4 3-4 2-3 1-5 4 1 4 2 5 0 4 2 4 2 1-4M917 1260l-4-1-4-3-1 4 1 4 2 4 4 1 5-1 4-1 5 1 3 4 4 1 2 4 4-3-2-4-2-4-3-4-3-3-2-4-3-3-4 1-2 5 5 1 3-3 4 1-3 3-3 3-1 5-4 2-4 3-4-1-4-3-1-4 1-5 4-2 0-4-1-5 2-4 4-3 4 0 4 1 4 2 2 4 1 5 1 4 2 4M920 1259l0-4-5-1-2 3-5-1-4 2-4-1 3 3 5 1 4-2 4-1 4 2 1 4 0 5-4 2-2 4-1 4-5 1-3 3-3 4 1-4 4-3 4-2 2-4 5 1 2 4 0 5 5-1 2-3 5 0 1 4 2 4 1 4-4 1-4-3-3-3-5 0 2 4 4-1 4-2 5 0-4-3-2-4 0-4 3-4 0-4M913 1256l-3-3-4-3-4 1 4 2 4 1 3 3 4 3 4 1 4 3-2 4-4 2-2 5 3 3 4 2 5 2 0 4-4-1-2-4-2-4 4 0 4 2 4 1 4 2-1-5-3-3-2-4 0-5-4 0 2-4-4-1-3-4-3-3-3-3-4-2-3-4-1-4 1-4 2-4 3 4 5-1 4-1 3-3 4 2 4 1 4 2M926 1281l-3-4-5 1-4 0-5 2 0 4 4 2 4-2 2-4-1-4-4 0-4 2-5 0-2 4 2 4 1 5 1 4 4-2 1-4 5-1 4 1 3-3-2-4-4 2-4 2-4 2-2 4-5-2 3-3 4-2 3 3-3 4-4 1 1-4-2-4 2-4 5-2 4-1 5 0 4 0 5 0 4-2 2-4 3-4-4-2-3 4M1235 1248l-6 5-19 0-6 8-2-4-9 9-7-2-12 4-10-3-1 9-8 0-10 4-2 1-7-1-5 6-6-4-5-2M1000 1110l-4-4-13-2-12-5-15-7 4 3-13 3-8-2-4 4M1090 1120l10-2 11 0 2-2 8-13 11 1 9-2 5 8 4 0M1230 1340l-7 15-4 2-17 18 0 6 2 14 1 5 5 11 5 12-7 4 4-2-16 7-6 0M1280 1240l0 9 7 12 3 7 4 13-5 10-2-2-1 7-1 4M1335 1205l7 1 14-14 1 3 11-6 10-1 6-1 5-4 6 2" fill="none" stroke="#5e1a4a" stroke-width="2.5" stroke-linecap="round" stroke-linejoin="round"/></g><ellipse cx="1025" cy="1142" rx="18" ry="15" fill="url(#glowO)" opacity="0.8"/><ellipse cx="1025" cy="1142" rx="9" ry="7" fill="url(#glowW)"/><circle cx="1025" cy="1142" r="3.8" fill="#fffef0"/><ellipse cx="1279" cy="1171" rx="18" ry="15" fill="url(#glowO)" opacity="0.8"/><ellipse cx="1279" cy="1171" rx="9" ry="7" fill="url(#glowW)"/><circle cx="1279" cy="1171" r="3.8" fill="#fffef0"/><ellipse cx="1025" cy="1308" rx="11" ry="9" fill="url(#glowO)" opacity="0.8"/><ellipse cx="1025" cy="1308" rx="7" ry="6" fill="url(#glowW)"/><circle cx="1025" cy="1308" r="3.1" fill="#fffef0"/><ellipse cx="1257" cy="1366" rx="11" ry="9" fill="url(#glowO)" opacity="0.8"/><ellipse cx="1257" cy="1366" rx="7" ry="6" fill="url(#glowW)"/><circle cx="1257" cy="1366" r="3.1" fill="#fffef0"/></svg><rect x="912" y="1380" width="200" height="12" fill="#d4d6ec"/><text x="967" y="1434" font-family="'Liberation Sans', Arial, sans-serif" font-size="40" font-weight="normal" fill="#f2f2f2" textLength="87" lengthAdjust="spacingAndGlyphs">1 um</text>
<svg x="1416" y="977" width="470" height="469" viewBox="1416 977 470 469" overflow="hidden"><rect x="1416" y="977" width="470" height="469" fill="#5a6893"/><rect x="1416" y="977" width="470" height="469" filter="url(#speck)" opacity="0.32"/><g><path d="M1430 1006l-2 3 4 2 4 1-2 4-3-3-2 3-4 1-1-4-3-1-4 2-2-3-4-2M1430 1006l-1-4-3-2-4-2-1-3-3-4-2-3-3 2 1 4 3-2M1476 995l3 2 2-3-1-4 1-4 1-4 4-1 4-1 4 1-4 2-3 1-3 3 0 4M1476 995l-3 2-3-3-2-3-4-2 0-4 1-4 3-2 0 4-2 3M1627 1069l-2-3-3-3-2-4 0-4 0-4 1-3 0-4 3-3 4 0 0 4 4 1 3 2M1627 1069l4 1 4-1 3-2 4 0 2-4 2-4 2-3 0-4 1-4M1697 1049l-4 0-3 3-3 2-2-4-4 1-4-1 0-4 0-4-2-4 4-2 4 1 4 1M1697 1049l1 4 4 1 3 2-3 2 4 2 4 0 4 1 0-4 4-1M1687 1098l-4 2-4 0-3 2 2 3 3 3-3 3-3 2 3-2 4 0 2-3 4-1-3-2M1687 1098l3-3-3-3 0 4 1 4 4 0 1-4 1-3 3-3 2-3M1842 1112l2-4 2-3 4 0 4 1 4 1-2 3 2 4-3-3-2 4-2 3-1 4-4 1M1842 1112l2-3 3-3 1-4 2-3 2-4 3-2-3-2-4-2-2-3M1878 1125l-4 1 2 3-4 0 3 3 3 3 0-4 1-3 2-4 4-1 0-4-1-4 2-4M1878 1125l1 4-3 2-1 4-2 4-4 1-4 0-3-1-3-3-4-1M1776 1158l2-3-2-3-3-3-4 0-4 3-3 1-4 0-3 3-4-1-4-1-1-4-1-4M1776 1158l-4 2-1 3-4 2-3 3 0 4-3 3-3 2-3-2-4-1M1828 1160l-3 3-2 3-4 0-4 1-4 1-3 1-4 2 1-4-4 1-4 2 3 3-3 2M1828 1160l4 0 3-3 4 1-3 2 3 2 1 4 2 4-4 1-2-4M1581 1253l3 2 3-3-4 1-4 0-2 4 1 4-2 3-1 4 1 4 1 4 0 4-3 3M1581 1253l-3-3 0-4 3-2 4-2 1-4 4 0 3 3-4 0-1 4M1538 1290l3-2 3 2-4 0-4 0-1 3-1 4 4 0 2-4 4 1 3 1 3-3 3-3M1538 1290l-3 3-2 3 3-2 4 1 4 2 1 4 3 2-3 1-2 4M1542 1352l0 4-4 0-1 4-2 3-4-1-3-2-4 1 2 3 4-2 3 2 4 1 4 1M1542 1352l-2 3 1 4 2 3-1 4 4 1 1-4-4-1-3 3-3-3M1687 1237l-2 4-3 1-4 0 3 3-4 2-4 0-2-3 0-4-4-2 4-1-1-4 2-3M1687 1237l-2 3-4 0-4 0-4-1 0 4 3 3 3 2 4-2 4 1M1805 1260l-4 2-2 3-4 1 0-4-1-4 0-4 3-3 3-2 0-4-1-4 3-3-1-4M1805 1260l-4-1-4 1-4 1 2 4 2 3 4-1-2 4-3-2-4 1M1861 1326l-4-1 1-4 0-4 2-3 0-4-1-4-4 0 0 4-4-1-4-1-3-2 1-4M1861 1326l3-3 2-3 3-3-2-4 1-4 0-4-1-3-3-3-2 3M1795 1365l1-4 2-3-4-2-2 3-4-1-3 3 2 3 4 2 1-4 4 1 3-2 3 3M1795 1365l2 3 1 4 4 1 0 4 3-2 1 4 4-1 3-3-2-3M1680 1378l4 1-1-4-2-3-1-4 1-4-3 3-2 3-4 1-3-3 2-4 3-3 0-4M1680 1378l3-2 4-1-2-3-4-2 0 4-1 4 2 4-1 3-1 4M1776 1428l1 4 4 1 0 4-1 3-4 2-1-4-1-4-4 2-3-2-4-1 2 4 3-2M1776 1428l4 0 2-3 3-3 4-2 3 2 2 4 3 2 0 4-2 4M1865 1438l-3-2-3-3-3-3-3-2-4 1-4 1 4 0 4 1 0 4 1 4 0 4 4 1M1865 1438l1-4 4 0 4 2 0-4 4-2 3-2 2-3-4 0 2-3M1720 993l-1-4-4-2 0-4-1-4-3-2-4-2-1-4 0-4 3-2 1-4-2-3 3-1M1720 993l4 2 3 2-4 3-4-1-3-2-1-4 4-1-3-3-4 0M1782 1006l-2-4-1 4 2 4 4 2-1 4-3-3-1-4-4 1 2-4-1-4-3-2-2-4M1782 1006l1-4-4-2-3-2-3-2 1 3-2 4-4-3-2 4-4 0" fill="none" stroke="#2a1040" stroke-width="8" stroke-linecap="round" stroke-linejoin="round"/><path d="M1430 1006l-2 3 4 2 4 1-2 4-3-3-2 3-4 1-1-4-3-1-4 2-2-3-4-2M1430 1006l-1-4-3-2-4-2-1-3-3-4-2-3-3 2 1 4 3-2M1476 995l3 2 2-3-1-4 1-4 1-4 4-1 4-1 4 1-4 2-3 1-3 3 0 4M1476 995l-3 2-3-3-2-3-4-2 0-4 1-4 3-2 0 4-2 3M1627 1069l-2-3-3-3-2-4 0-4 0-4 1-3 0-4 3-3 4 0 0 4 4 1 3 2M1627 1069l4 1 4-1 3-2 4 0 2-4 2-4 2-3 0-4 1-4M1697 1049l-4 0-3 3-3 2-2-4-4 1-4-1 0-4 0-4-2-4 4-2 4 1 4 1M1697 1049l1 4 4 1 3 2-3 2 4 2 4 0 4 1 0-4 4-1M1687 1098l-4 2-4 0-3 2 2 3 3 3-3 3-3 2 3-2 4 0 2-3 4-1-3-2M1687 1098l3-3-3-3 0 4 1 4 4 0 1-4 1-3 3-3 2-3M1842 1112l2-4 2-3 4 0 4 1 4 1-2 3 2 4-3-3-2 4-2 3-1 4-4 1M1842 1112l2-3 3-3 1-4 2-3 2-4 3-2-3-2-4-2-2-3M1878 1125l-4 1 2 3-4 0 3 3 3 3 0-4 1-3 2-4 4-1 0-4-1-4 2-4M1878 1125l1 4-3 2-1 4-2 4-4 1-4 0-3-1-3-3-4-1M1776 1158l2-3-2-3-3-3-4 0-4 3-3 1-4 0-3 3-4-1-4-1-1-4-1-4M1776 1158l-4 2-1 3-4 2-3 3 0 4-3 3-3 2-3-2-4-1M1828 1160l-3 3-2 3-4 0-4 1-4 1-3 1-4 2 1-4-4 1-4 2 3 3-3 2M1828 1160l4 0 3-3 4 1-3 2 3 2 1 4 2 4-4 1-2-4M1581 1253l3 2 3-3-4 1-4 0-2 4 1 4-2 3-1 4 1 4 1 4 0 4-3 3M1581 1253l-3-3 0-4 3-2 4-2 1-4 4 0 3 3-4 0-1 4M1538 1290l3-2 3 2-4 0-4 0-1 3-1 4 4 0 2-4 4 1 3 1 3-3 3-3M1538 1290l-3 3-2 3 3-2 4 1 4 2 1 4 3 2-3 1-2 4M1542 1352l0 4-4 0-1 4-2 3-4-1-3-2-4 1 2 3 4-2 3 2 4 1 4 1M1542 1352l-2 3 1 4 2 3-1 4 4 1 1-4-4-1-3 3-3-3M1687 1237l-2 4-3 1-4 0 3 3-4 2-4 0-2-3 0-4-4-2 4-1-1-4 2-3M1687 1237l-2 3-4 0-4 0-4-1 0 4 3 3 3 2 4-2 4 1M1805 1260l-4 2-2 3-4 1 0-4-1-4 0-4 3-3 3-2 0-4-1-4 3-3-1-4M1805 1260l-4-1-4 1-4 1 2 4 2 3 4-1-2 4-3-2-4 1M1861 1326l-4-1 1-4 0-4 2-3 0-4-1-4-4 0 0 4-4-1-4-1-3-2 1-4M1861 1326l3-3 2-3 3-3-2-4 1-4 0-4-1-3-3-3-2 3M1795 1365l1-4 2-3-4-2-2 3-4-1-3 3 2 3 4 2 1-4 4 1 3-2 3 3M1795 1365l2 3 1 4 4 1 0 4 3-2 1 4 4-1 3-3-2-3M1680 1378l4 1-1-4-2-3-1-4 1-4-3 3-2 3-4 1-3-3 2-4 3-3 0-4M1680 1378l3-2 4-1-2-3-4-2 0 4-1 4 2 4-1 3-1 4M1776 1428l1 4 4 1 0 4-1 3-4 2-1-4-1-4-4 2-3-2-4-1 2 4 3-2M1776 1428l4 0 2-3 3-3 4-2 3 2 2 4 3 2 0 4-2 4M1865 1438l-3-2-3-3-3-3-3-2-4 1-4 1 4 0 4 1 0 4 1 4 0 4 4 1M1865 1438l1-4 4 0 4 2 0-4 4-2 3-2 2-3-4 0 2-3M1720 993l-1-4-4-2 0-4-1-4-3-2-4-2-1-4 0-4 3-2 1-4-2-3 3-1M1720 993l4 2 3 2-4 3-4-1-3-2-1-4 4-1-3-3-4 0M1782 1006l-2-4-1 4 2 4 4 2-1 4-3-3-1-4-4 1 2-4-1-4-3-2-2-4M1782 1006l1-4-4-2-3-2-3-2 1 3-2 4-4-3-2 4-4 0" fill="none" stroke="#6a2048" stroke-width="3.6" stroke-linecap="round" stroke-linejoin="round"/></g><circle cx="1805" cy="1260" r="6" fill="#fff8e0"/><circle cx="1861" cy="1326" r="6" fill="#fff8e0"/><circle cx="1720" cy="993" r="4" fill="#fff8e0"/><circle cx="1782" cy="1006" r="4" fill="#fff8e0"/><circle cx="1687" cy="1237" r="3" fill="#fff8e0"/><circle cx="1776" cy="1158" r="3" fill="#fff8e0"/></svg><rect x="1429" y="1380" width="161" height="12" fill="#d4d6ec"/><text x="1457" y="1430" font-family="'Liberation Sans', Arial, sans-serif" font-size="40" font-weight="normal" fill="#f2f2f2" textLength="87" lengthAdjust="spacingAndGlyphs">1 um</text>
<svg x="1039" y="1655" width="443" height="383" viewBox="1039 1655 443 383" overflow="hidden"><rect x="1039" y="1655" width="443" height="383" fill="#6a7aa4"/><rect x="1039" y="1655" width="443" height="383" filter="url(#speck)" opacity="0.3"/><path d="M1343 1834l6 2 5 6 2 6 2 7-2 7-1 7 5-4 5-5 4-7-2-6-7-3-3-6-5-5-3-6 1-7-4-5-4-6-2-7 7-1 4 5-2 7-5 4-6 3-7 4M1344 1850l6 4 3 6 3 7 1 7 5 4 6-4 5-5 5-4 4-6-5-5-6-4-7 1-6-2-6 3-1 7 2 7 2 7-4 5-5 5 2 6 6 4-1 7-2 6 0 7M1312 1862l6 4 6-4-7-1-6 4-4 6-7 3-7 0-6-4-3-6-7-2-4-5-2-7 5-5 7-3 7-1 6 2 6-4-2-7-5-5-7-2-7 0-6 4-7 0-7-1M1313 1870l3 6 7-1 6-4 1 7 1 7-1 7 7 1 7 0 5-6 1-6-4-7-3-6-4-5 0-7-7 1-5 5-7 1-7 0-2-7-6-4 0-7 3-7-5-5-6 3M1305 1899l3 6-3 6-5 5-1 7 0 7 6 3 4 7 1 6 4 6 2 7-1 7 0 7-1 7-7 2-3 6-3 7 1 7-5 5-7 3-5 4-4-5-7 0-6 4 3 7M1310 1894l4 6 7 1 6 3 0 7 0 7 0 7 3 7-3 6-4 6-6 3-6 4-7 2-7-1-5-5-6 3-7 2-6 4-7 1-4-5-7-2-7 1-2 7 2 7-5 5M1290 1907l-7 1-7 0-7 0-7-1-3-6 0-7 6-3-2-7 1-7 6-4 4 5 7 2 6 3 7 0 7 0 6 3 7 2 3 6 1 7 6 2 6 4 4 6 6-4 7 0M1280 1906l-3 6 1 7 5 5 1 7 0 7 3 6 1 7-7 1-2 7-3 6-3 7-5 5-5 5-7-1-5-5-4-5 0-7-1-7 6-2 7-2 6-3 7 0 5-5 0-7M1258 1913l1 7-5 5-7-1-6-1-7 0-4-6-3-6-7-3-5 4 4 6 0 7-7 2 4 6 3 6-2 7-5 5-6 4-7 0-5-5-7 0-3 6-6-3-6-3-6-4M1236 1908l7-2 7-2 6-4 7-1 5 5 7 0 7 0 7 1 1 7 0 7 2 7 4 6 1 7 7 0 6-4 1-7-6-4-3-6-7 2-4-5-7 1-5 5-2-7-7-2M1229 1896l-6 4-4 6-4 6-7 1-7 1-2-6-3-6-4-6-7 2-7 3-7-1-6-2-1-7 0-7-1-7 0-7-1-7 4-6-2-7-4-5-7-2-6-5-1-6-1-7M1217 1891l-4 6-4 5-6 5 3 6 7 1-1-7-3-6 4-6 3-6 7-1 5 4 7 1 0-7-7 1-6 4-5 4-6-4-7-1-7 1-6-4-5-5-5-5 2-7 1-6M1197 1882l-3 6 7 3 1-7 2-7-1-7-2-7 2-6-1-7 5-5 2-7-3-6 1-7-1-7 1-7 3-6 3-6 7-3 4-6 7 0 7 0 6-4 0-7 4-5 2-7M1207 1861l0 7 0 7 6 3 3 6 3 7 3 6 7 2 4 5 4 6 1 7 5 5 7 2-4 5-3 7-3 6-3 6-6 4-7 0-6 4-6 1-7-2-5-4-7 3-6-2M1196 1847l-7-2-4 6-6 3-6-5-6 2-5-5-1-7 0-7-4-5-5-5-7-1-5-4-5-5 5-5 4-6 7 1 6 4 6 3 5 5 6 3 7 1 7 1 5 5 6 3M1204 1851l-5-5-1-7 1-7 3-6 2-7 3-6 2-7 4-6 7-1 6-4 5 5 4 6 3 6-7 3-7 0-7-1-4 5-7-1 3-6-2-6-1-7 3-6 7-1 2-7M1207 1828l-3 6-7 1-6 3-2 7 0 7 5 5 3 6 6 3 6 4 7 0 7-3 4-6 2-6 6-5 6-2 7-2 5-5-2-7-5-5-7 0-3 6 2 7-4 6-2 6M1189 1811l-7 2-5 5-6 3-2 7 0 7 6 2 7 3 5 5 4 6 6-1 7 0 7 0 5-5 6-3 6 3 2 7 5 5 0 6 0 7-4 6-7 2-5-4-6-4-7-2M1216 1802l7-1 3-6 4-6 2-6 7-1 5 5 6 4 5 4 2 7 0 7-1 7-2 7-1 7 0 7 2 6-5 5-5 4 3 6 4 6 0 7 6 4 6-4 6-3-2-7M1201 1791l-6-4-7-2-6-3-7-1-5-6-4-5-6 3-4-5-4-6-7 0-6 4-3 7-7 1-4 5 3 6-6 5-6 2-4 6-5 5-4 5-7 2-5 5 6 4 5 5M1227 1794l-6-4-6 4-5 5-2 6-6 4-2 7-5 5-6 3-7 1-7-1-3 6-2 7 3 7 5-6 6 2 7 1 2 7 7-1 0-7-1-6-7-2-7 3-7-2-1 7M1243 1792l-5-6-6 1-7-1-7 2-5-5-1 7 2 7 2 7 2 6 5 6 1 6 7 0 2-7 7-1 2-7 7-1 6-4 5 5 3 6-1 7 6 3 1 7 0 7 2 7M1241 1766l-4-5-3-7-3-6-5-5-7 0-7 1-7 1-7 1-7 1-7 1-3 6 2 6 4 6 7 1 4-6-4-6-6-3-1-7 4-6 7 0 5 5 5 5 6 3 7 1M1270 1784l-6-3-2-7-4-6-5-5-5-4-7-3-5 4-3-6-4-6-4-6-3-6 1-7 5-5 6 2 7 2 1 7 7-1 6-4 5-4 6-4 2-7-3-6 2-7 4-6M1294 1782l7 0 4-6-5-5-7 1-6-4-5-4-7-3-6 2-7-1-7 0-7 3-2 6 7 2 7 1-5 5 0 7 2 7-3 6-7 1-5-5-6-2-7 3-3 7-2 6M1302 1782l6-2 7 1 7-2 4 6 5-4 7-4 4-5 6-4 5-4 7-3 1-7 2-7-4-5 0-7-4-6-6-4-6-3-7 0-7 3-3 7-4 5 6 5 6 2 7 2M1300 1802l6-3 5 5 7 0 4 6 7-1 7-1-1 7-2 6 0 7 0 7 6 1 7-3 0-7 1-7 4-5 5-5 5-5 6-4 6-4 5-4-2-7 0-7 7 0-5 6M1319 1794l-1-7-3-7-7-1-6 4-5 5-6 4-7 0-7 2 5-5-3-6 6-3 7 1 5-5 6 3 6 5 7 0 7 0 6-1 6 4 7 0 4 5 5 5 6 4 7 0M1332 1812l6 3 7 2 6 4 5 4 3 6-5 5-3 7-7 1-6-4-6 3-1-7 2-6 1-7-2-7 6-2 7 1 7 1 4 6 5 4-3 7 4 5 1 7-1 7 0 7M1338 1819l7 3 7-1 5-3 1-7 2-7 0-7 3-6 4-6 1-7 7-2 5-5 2-6 7-3 7-1 6 1 7 0 6 5 6 2 7-2 5-4 6 4 7 1 6-2 3-6M1299 1739l-3-6-4-5-7 1-7-1 6 4 7 0 5-5 2-6 5-4 7-2 6 4 6-1 7-1-4-6 6-4-2-7M1481 2016l-4-6-4-6 2-6-1-7-2-7 3-6 3-6-7-4-6-2-5-5-6-3-5-5-6 4 2 7 4 6 2 6M1465 1716l7-1 7-3 5-4 7-2 4-5 5 5 0 7 1 7 4 6 6-4 6-4 6-4 7-2 6-1 5-5 4-6M1454 1745l-4-6 5-5 6-4 7 1 7-1 6 4-2 6-7 3-7-1-5-4 1-7 2-7-7 1-7 1 3-6 6-5M1088 1790l5 4 5-4 6-3 7 0 6-4 7 2 7-1 7-1 7-2 6-2 5-5 7 1 7 1 0 7 1 7 6 2M1237 1811l4-6-2 7-4 6-5-5-5-5-6 2 1 7-2 7-7 1-6 2-5-5-3-6-3-6 1-7-4-6-6-5M1389 1807l2 7-4 6-2 6-2 7 1 7-6-2-6-3-7-2-7-2-6 3 3 6-2 7-5 4-7-2-7 1 0-7M1458 2020l-3 6-5 4-7 2-7-1-2 6 0 7 1-7-7-1-7-1 4 6 7 2 6-3 5 5 6 4 7 1 7-1M1072 1647l5 4 1 7 2 7 6 3 7-2 6 3 4-6-3-6 2-7 2-7-4-6 1-7-3-6-7-3-2-7 7 0M1181 1944l0-7 2-7-7-2-7 0-6-4-6-3 3-6 6-4 7-1 6-2 5-6 6-3 5-4 7 1 6-5 6-2M1144 1753l-6 4-6 2-7-2-3-6-1-7-5-5-1-7 4-6 6-4 7 0 6-2-2 7 1 7 6 4 7-2 5-5M1313 1906l6 4-7 0-7-2-4 6-2 6 3 7-2 7-7-1-7 2-5-4-1-7-6-4-6 4-5 4-4 6-6-3M1167 1944l-3-6-7 0-2-6 7-2-5-5 0-7-7 0-6-3-7 0-5-5-7-2 1-7-3-6-5-5 6-3 6-3M1031 1789l0 6 4 6 1 7 7-1 1-7 1-7-5-4-7-2-7 1-7 0-3-6 0-7 7-3 6 3 6-5-3-6M1229 1811l6 4 4 5 3 7 5 5-1 7 7 0 3-5 5-6 7 1 6-3 6 4-3 6-1 7-2 7-3 6 3 6M1459 1804l-5 4-6-4-5-5-1-7-7-2-3-6 5 5 5 5 3 6 6-4-1-7-2-6-6-3 5-4 6-4 5-5M1099 2018l7-2 5 5 3 6 7 3 7 0 7-1 6 3 3 6 4 6 4 6 6 3 5 4 7 4-6 4-6 2-7 3M1139 1721l1 7-1 7 4 6 6 3 6-3-3-7 7 0 7-3 1 7-2 6-7 2-6-4-7-3-6 3-7 2-2 6M1463 1759l-6 3-6 4-3 6 7 0 6-1 3-7-1-7 3-6 6 3 6 2 7 3 6 4 2-7 7-2 7-1 1 7M1431 1779l-6-4-7-1-7 0-6 4-7 0-7 0-6-3-7-2-5-4 1-7 5-5 7 2 6 3 5-5 2-7-6-3M1341 2040l-4 5-6 4-6-1-7-1-3 7-4 6-2 6-3 7-1 7-1 6 1 7 0 7-5 5-7 0-6 4-6 3M1405 1726l3 7-3 6 7 1 7 3 7 0 0 7 3 6 7 0 7 2 5 4 0 7 4 6 4 6 5 4 4 6 5 6M1161 1870l5-4 6-5 7 1 6 2 5-6 3-6 7 0 1-7-4-6-3 6-5 6-3 6-2 6-4 6-4 6-7-1M1257 1959l0-7-5-5-1-7 2-7 6 4 6-3 6 3 5-6 4-6 1-6 1-7 1-7 5-6-5-5-2-6-7-2M1163 1812l7 0 1 7 5 5 4 6-1 7 5 5 7 2 6 3-1-7 6-4 4-6 5-4 6 3 7-2 7-2 7-1M1177 1808l7 2 5 4 7 0 7 1 4 6 0 7-1 7-3 6-7-2-7-2-7 1 1 7-6 3-6-3-6-4 1-7M1255 1686l7 1 3-6 0-7 1-7 2-7 3-6 7 1-1-7-1-7-4-5 4-6-7 1-4-6-1-7 2-7 6-2M1081 1908l-5-5-7 0-6 2-6 4-5-5-7-2-3 6-3 6-6 4-4 6-2 6-5 5-2 7-6-3-7 1-7 2M1244 1824l4 6 6 2 2 7-7 2-6-4-7 1-6-3-2-6-7-4-4 6-5-5 1-7 3-6 7-2 7 1-7 3M1252 1721l1 7 1 7 1 7 4 6 0 7 7 0 3-6 3-7 6-4 5 6 5 4 6-3 3-6 3-7 5-4 7 0M1472 1876l6-3 6 4 7-2 6-4 6-3 6-3 4-6 4-5 7-3-6-5-2 7 4 6-7 3-6-3 2 6 4 6M1432 1836l-1-7 2-6 6-4 1-7-7 2-4-5-4-6-3-6-7-2-6-3 0-7-6-5 0-7 6-3-6-2-6-4M1147 1704l-3 7-7 1-3 6-6 3 3 7 0 7 2 6 1 7-2 7-4 6 4 6-6 4 0 7-1 7-2 7-3 6M1050 1743l1 7 7-1 1-7 6-2 6-5 4 6 6 3 5 5-7 2 1 7 6 3 2 7 5 5 6 3 7 2 5 5M1201 1878l-1 7 1 7 6 3 7 0 4-5 1-7 5-5 4-5 7 0-3-6-6-4 6-4 7-2 2 7 1 7-3 6M1340 1891l-7-2-6-1-7-4-5 5-6 4-7-1-6 3-6 4-7 1-5 4-7 1-3 6-1 7-4 6-7 2-6 3M1303 1872l6-4 6-3 1-7 4-6 2-6 7-1 7 0 7 0-1-6-1-7 5-6 2-6-1-7-6-5 2-7 7-1M1240 2026l0 7 0 7 5 5-2 7-7 3-5 4-7-1-4-5-7 1-5 5-6-3-7-2-7-2-6 1-7-1 1-7M1138 1712l-1-7 1-7 1-7-4-5-7-3 4 6 3 6 2 7 7-2 3-7-4-6-6-3-3-6-1-7-6-3-7 3M1302 1835l-2 7 6 4 5 6 0 7-6-3-5-5-6-3-4-6-5-5-7-3-5-4-6-3-7-2-4-6 4-6 2-7M1127 2048l4 5 6 4 5-4 7 0 5 5 6-3 7 1 6 5 6-3 6-4 4-5 2-7 0-7-6 4-7 0-6-3M1182 1815l-3-6-2-7-3-7 0-7 6-2 7-4 2 7-3 6-5 5-4 6-3 6-2 7-6 3-1-7 6-4 5-5M1456 1820l-6 5-4 5-5 6-6 3-2-7-1-7 4-5 7-2 7 0 0-7-3-7-5 5 0 7-1 7-3 6-1 7M1189 1845l3-7 7 2 5 5-6 3-5 5-7-1-4-6-7 3-4 6-4 5-7 1-6-4-3-6-6-3-5-5-3-7M1366 1690l-4 6-6 4-1 7 7 2-2 7 1 7 2 6 7 1 5 5 4 5 7 2 5 4 7 2 3 6 7 2 6 3M1241 1898l-7-1-3-6 5-4 5-6 3-6 2-7-5-5-5-4-7-3-6 4-5 5-5-5-7 0-4-6-1-7-6-2M1397 1783l-6-4 6-3 7 2 5 4 7 0 7 2-1 7 4 6 1 7 4 5-1 7-1 7-6 4-3-7 4 6 7 0M1196 1915l-1-7 0-7-4-6-5-5-6-3-7 1-4 6-4 6-6 3 0-7 1-7 5-4 0-7 7 2 4-5-3-6M1149 1732l0 7-6 5-2-7-7-1-4 5-1 7 0 7-5 5-6 4-7 1-6 4-7 1-7 1-7 1-5 5-4 5M1260 1969l7 2 0 7-6 3-5 4-4 6 2 7 2 6 5 6-1 6 3 7 7 0 3-6-6-4-7 0-6 3-4-6M1225 1703l2-7-6-3-5 4 1 7 4 5 2 7 2 7 3 6 4 6 2 6-5 5-2 7-7 3 0 7-3 6 5 6M1447 1906l-3-7 3-6 1-7 5-5 2-7-7-3-4-6-4-5-2-7 4-6-2-7-7 0-3 7-2 6-4 6-6 3M1270 1718l-6 3-2 7-6 3 0 7-7-1-7 1 1-6-1-7-1-7-7 1 0 7 4 5-2 7-1 7-6 4 1 7M1130 1700l-5 5-2 7 2 6 7 3 5 5 3 6 6 5 5 4-3 7 0 7-6 4-7-1-7 1-4 6-6 3-3 7M1030 1798l-1-7 4-6 7-1 5 4 7 1 7 3 5 5 2 6-1 7-2 7-7 1-7 1 1-7 2-6 6-4 6 4M1285 1898l-2 7 4 5 2 7 0 7-3 6-6 4-6-4-7 1-4-6-3-6-7-2-7-1-6 2-4 6-3 7 1 7M1413 1651l-6 4-6 1-5 5-6 4 4 6 4 6 1-7-5-6 6-4 6-4 4-6 6 4 6 4 6 2 7-3 4-5M1415 1771l6 2 3 7 7-2-3-6 1-7 0-7-4-6-5 5-2 7-2 7 6 3 7 1 4 6-5 6-7-1-3 6M1276 1919l5-5 7-3 6-2 7 0 7-2 5 4 7-2 6 4 4-6 2-7-4-5 6 3 1 7 6-5 5 4 5 6M1239 1802l3-7 6-3 1 7-1 7 6 5 1 7-4 5-5 5 0 7 2 7-7 3-6 3-7-2-7-1-4-5 5-6M1123 1921l-4-6-6 3-5 5-7 1-4-5 6-4 5-4 6-5 2-6-2-7 5-5 4-5 1-7-2-7 0-7 2-6M1086 1685l4 6 6-2 4-6 7 0 6 4 5 5 6 3 4 6 4 5 2 7-2-7 0-7 4-6 4-6-4-5 1-7M1324 1960l-5 5-7 1-5-4-4-5-7-3-5-5 2-7 6-2 7-1 7 2 7-1 7 2 6-3 6 5 4 6 6 3M1082 1756l-2 7-7 0 2 7-3 7-7-2-1-7-5-5-5 5-5 5-7 1-1 7 5 4 7 1 7-1 6-4 4-6M1491 1923l5 5 5 5 7-1 6 3 3 7-7-2-5-4-6-3-7-1-6 5-1 7 5 4 2 7 3 6 7 0 6 3M1328 1718l-6-2-6-3-4 6-3 6-7-3-7-1-6-3-6-4-7-2-4 6-6 4 3 6 7 2 1 7-6 2-6 3M1227 1741l4-5 1-7 3-7-4-5-1-7 1-7 4-6 7-1 7 1 4 6 7 0 5-5-1-7 6 3 7 0 7-4M1150 1933l-3 6-5 5 6 4 5 5 2 6-3 6-6 4-4 6 7 1 0 7 3 7 6 3 1 7 5 5-2 7 5 5M1430 2001l-5-5-7 0-2-7 4-6-7-1-5-5-4-6 5-4 3-7 3-6 5-4 7-3 2-6 6-5 7 1 4 5M1457 2018l-6 3-5-5 7-1 6 3 7 1 6-4 1-6-2-7-4-6-6-3-6-3-4-6-5-5-5-5-7 1-5-5M1457 2023l7-3 6-3 4 6 4-6-7 2-6-2-7-2-7 0-7-2-5 5 3 6-5 5-6 2-6 4-4 6-5-5M1234 1795l3-6-7 1-1 7 7-1 4 6 6-4-5-4-6-3-5-6 7 2-4-6-7 2-6 2-3 6 6 3 5-5M1200 1653l0 7-7 2-5 5 0 7 3 7 7 3 6-4 6-3 7 0 1 7-6 4 7 2 7 2 7 0 6 3 5 4M1050 1866l-7 2-3-7-6 4-2 6 2 7-7 1 3 6 5 5 5 5-5 5-7 0-6-3-5-6-3-6 2-6-5-5M1421 1860l2 7-3 6 2 7 4 6-2 7 5 5 2 6 7 2 7 1 7 0-1 7 6 5 7 0 5-4-4-6 6-3M1260 1710l1-7 7-3 6-3 5-5 3 7-5 4 7 3 3 6 2 7-6 3-5-4-3-7-6-4-7-1-6 2-7-1M1388 2004l-3 7-1 7 1 6 2 7-5 5 1 7-7 1-3 6-6 5-6-3-6-3 2-7-7-2-6-3-7-2-7 1M1237 1654l0-7-2-6-4-6 4-6 7-2 4-6 2-6-5-6 1-6 5-6-2-6-4-6-7 2-5-5-6-3-3-7M1176 1804l7-2 6-3 6-4 7 1 1-7 1-7 7-1 1-7 0-7-1-7 1-7 6 4 7 3 6-3 1-7-5-5M1032 1834l-6 2-2 7-2 7-5 4-1 7 2 7-2 7-2 7-4 6-6 4-3 6-2 6 2 7-1 7-2 7-4 6M1399 1902l-4 6 0 7-2 7 5 5-2 6-4 6-7 2 6 5 6-1 7-3 2-7 0-7-1-7 1-6 4-6 3-7M1164 1700l1-7 4-6 2-6 0-7-1-7 3-6-1-7 4-6 2-7 3-6 3-7 1-7-1-7-2-6-6 3-4 5M1262 1902l7-1 7 2 6 3 6-3 5-5 6 3 7-1 0-7 2-6-1-7-3 6 6 4 5 5-3 6-7 3-4 6M1438 1722l5-5 6-4 7-2 7 0 7-1 4-5 4-6 7 0 3 7 3 6 0 7 1 7-7 0-6-4-5-5-6-4M1054 1854l1-7-6 4-7-2-6-2-5-5-3-6-3-7-5-4-6-5 0-7 3-6 7-1 0-7-5-5 5-5-7 0M1365 1751l2 7 7 1 7-2 4-5 3-7-5-4-7 0-5 5-3 7-7 0-6 2 0 7 6 4 6-2 7-1 0 7M1080 1722l5 4 7 2 7 1 7-1 1-7 4-6 6 4-1 7-3 6-3 7-6 4-1 7 0 7 3 6 4 6-3 6M1050 1892l6 3 6-4 7-3 6-2 6-4 5-5 7 0-4-5-5-4-7-3-7 1-6 3-7 2-7 2-7 0-3 6M1456 1735l7 3 6 3 4 6 4 6 7-2 5-5 0-7 5-4 3-7 4-6 5-4 7-3 6-3 1-7 3-6 5-5M1295 1926l-4-6 1-7 3-6-7-2-6 4-7-1-6-2-5 5-6 3-6-3-7 1-7-3-6 4-6 3 2 7 7 0M1464 1718l-7-2-2 7-3 6 5 4 6 5 1 6 6 4 6 2 7 0-6-4-6 2 0 7-4 6-5 4-6 4-4 6M1155 1750l-7 0-6-4-6 3-7 2-7 0-4-5-1-7-3-6 0-7-4-6 0-7-6-3 2-7 5-5 6-2 3-7M1032 1958l7 2 6 3 5-5 5-4 2-7 0-7-2-7-2-6-3 6-7 2-7-1-2-7 4-5 7 1 5 5 6-3M1227 1801l-1-7 1-7 7 1 7 1 6 4 3-6 7 0 7-1 1-7-5-4 4-6 7 3 5 5 6 2 3-7 4-5M1072 1673l-5 4-5-5-6-4-7 0-5 5 4 6 5 4 3-6 6-3 7-1 6-4-3-7 2-7 2-6-2-7-4-6" fill="none" stroke="#2c0a30" stroke-width="12" stroke-linecap="round" stroke-linejoin="round"/><path d="M1343 1834l6 2 5 6 2 6 2 7-2 7-1 7 5-4 5-5 4-7-2-6-7-3-3-6-5-5-3-6 1-7-4-5-4-6-2-7 7-1 4 5-2 7-5 4-6 3-7 4M1344 1850l6 4 3 6 3 7 1 7 5 4 6-4 5-5 5-4 4-6-5-5-6-4-7 1-6-2-6 3-1 7 2 7 2 7-4 5-5 5 2 6 6 4-1 7-2 6 0 7M1312 1862l6 4 6-4-7-1-6 4-4 6-7 3-7 0-6-4-3-6-7-2-4-5-2-7 5-5 7-3 7-1 6 2 6-4-2-7-5-5-7-2-7 0-6 4-7 0-7-1M1313 1870l3 6 7-1 6-4 1 7 1 7-1 7 7 1 7 0 5-6 1-6-4-7-3-6-4-5 0-7-7 1-5 5-7 1-7 0-2-7-6-4 0-7 3-7-5-5-6 3M1305 1899l3 6-3 6-5 5-1 7 0 7 6 3 4 7 1 6 4 6 2 7-1 7 0 7-1 7-7 2-3 6-3 7 1 7-5 5-7 3-5 4-4-5-7 0-6 4 3 7M1310 1894l4 6 7 1 6 3 0 7 0 7 0 7 3 7-3 6-4 6-6 3-6 4-7 2-7-1-5-5-6 3-7 2-6 4-7 1-4-5-7-2-7 1-2 7 2 7-5 5M1290 1907l-7 1-7 0-7 0-7-1-3-6 0-7 6-3-2-7 1-7 6-4 4 5 7 2 6 3 7 0 7 0 6 3 7 2 3 6 1 7 6 2 6 4 4 6 6-4 7 0M1280 1906l-3 6 1 7 5 5 1 7 0 7 3 6 1 7-7 1-2 7-3 6-3 7-5 5-5 5-7-1-5-5-4-5 0-7-1-7 6-2 7-2 6-3 7 0 5-5 0-7M1258 1913l1 7-5 5-7-1-6-1-7 0-4-6-3-6-7-3-5 4 4 6 0 7-7 2 4 6 3 6-2 7-5 5-6 4-7 0-5-5-7 0-3 6-6-3-6-3-6-4M1236 1908l7-2 7-2 6-4 7-1 5 5 7 0 7 0 7 1 1 7 0 7 2 7 4 6 1 7 7 0 6-4 1-7-6-4-3-6-7 2-4-5-7 1-5 5-2-7-7-2M1229 1896l-6 4-4 6-4 6-7 1-7 1-2-6-3-6-4-6-7 2-7 3-7-1-6-2-1-7 0-7-1-7 0-7-1-7 4-6-2-7-4-5-7-2-6-5-1-6-1-7M1217 1891l-4 6-4 5-6 5 3 6 7 1-1-7-3-6 4-6 3-6 7-1 5 4 7 1 0-7-7 1-6 4-5 4-6-4-7-1-7 1-6-4-5-5-5-5 2-7 1-6M1197 1882l-3 6 7 3 1-7 2-7-1-7-2-7 2-6-1-7 5-5 2-7-3-6 1-7-1-7 1-7 3-6 3-6 7-3 4-6 7 0 7 0 6-4 0-7 4-5 2-7M1207 1861l0 7 0 7 6 3 3 6 3 7 3 6 7 2 4 5 4 6 1 7 5 5 7 2-4 5-3 7-3 6-3 6-6 4-7 0-6 4-6 1-7-2-5-4-7 3-6-2M1196 1847l-7-2-4 6-6 3-6-5-6 2-5-5-1-7 0-7-4-5-5-5-7-1-5-4-5-5 5-5 4-6 7 1 6 4 6 3 5 5 6 3 7 1 7 1 5 5 6 3M1204 1851l-5-5-1-7 1-7 3-6 2-7 3-6 2-7 4-6 7-1 6-4 5 5 4 6 3 6-7 3-7 0-7-1-4 5-7-1 3-6-2-6-1-7 3-6 7-1 2-7M1207 1828l-3 6-7 1-6 3-2 7 0 7 5 5 3 6 6 3 6 4 7 0 7-3 4-6 2-6 6-5 6-2 7-2 5-5-2-7-5-5-7 0-3 6 2 7-4 6-2 6M1189 1811l-7 2-5 5-6 3-2 7 0 7 6 2 7 3 5 5 4 6 6-1 7 0 7 0 5-5 6-3 6 3 2 7 5 5 0 6 0 7-4 6-7 2-5-4-6-4-7-2M1216 1802l7-1 3-6 4-6 2-6 7-1 5 5 6 4 5 4 2 7 0 7-1 7-2 7-1 7 0 7 2 6-5 5-5 4 3 6 4 6 0 7 6 4 6-4 6-3-2-7M1201 1791l-6-4-7-2-6-3-7-1-5-6-4-5-6 3-4-5-4-6-7 0-6 4-3 7-7 1-4 5 3 6-6 5-6 2-4 6-5 5-4 5-7 2-5 5 6 4 5 5M1227 1794l-6-4-6 4-5 5-2 6-6 4-2 7-5 5-6 3-7 1-7-1-3 6-2 7 3 7 5-6 6 2 7 1 2 7 7-1 0-7-1-6-7-2-7 3-7-2-1 7M1243 1792l-5-6-6 1-7-1-7 2-5-5-1 7 2 7 2 7 2 6 5 6 1 6 7 0 2-7 7-1 2-7 7-1 6-4 5 5 3 6-1 7 6 3 1 7 0 7 2 7M1241 1766l-4-5-3-7-3-6-5-5-7 0-7 1-7 1-7 1-7 1-7 1-3 6 2 6 4 6 7 1 4-6-4-6-6-3-1-7 4-6 7 0 5 5 5 5 6 3 7 1M1270 1784l-6-3-2-7-4-6-5-5-5-4-7-3-5 4-3-6-4-6-4-6-3-6 1-7 5-5 6 2 7 2 1 7 7-1 6-4 5-4 6-4 2-7-3-6 2-7 4-6M1294 1782l7 0 4-6-5-5-7 1-6-4-5-4-7-3-6 2-7-1-7 0-7 3-2 6 7 2 7 1-5 5 0 7 2 7-3 6-7 1-5-5-6-2-7 3-3 7-2 6M1302 1782l6-2 7 1 7-2 4 6 5-4 7-4 4-5 6-4 5-4 7-3 1-7 2-7-4-5 0-7-4-6-6-4-6-3-7 0-7 3-3 7-4 5 6 5 6 2 7 2M1300 1802l6-3 5 5 7 0 4 6 7-1 7-1-1 7-2 6 0 7 0 7 6 1 7-3 0-7 1-7 4-5 5-5 5-5 6-4 6-4 5-4-2-7 0-7 7 0-5 6M1319 1794l-1-7-3-7-7-1-6 4-5 5-6 4-7 0-7 2 5-5-3-6 6-3 7 1 5-5 6 3 6 5 7 0 7 0 6-1 6 4 7 0 4 5 5 5 6 4 7 0M1332 1812l6 3 7 2 6 4 5 4 3 6-5 5-3 7-7 1-6-4-6 3-1-7 2-6 1-7-2-7 6-2 7 1 7 1 4 6 5 4-3 7 4 5 1 7-1 7 0 7M1338 1819l7 3 7-1 5-3 1-7 2-7 0-7 3-6 4-6 1-7 7-2 5-5 2-6 7-3 7-1 6 1 7 0 6 5 6 2 7-2 5-4 6 4 7 1 6-2 3-6M1299 1739l-3-6-4-5-7 1-7-1 6 4 7 0 5-5 2-6 5-4 7-2 6 4 6-1 7-1-4-6 6-4-2-7M1481 2016l-4-6-4-6 2-6-1-7-2-7 3-6 3-6-7-4-6-2-5-5-6-3-5-5-6 4 2 7 4 6 2 6M1465 1716l7-1 7-3 5-4 7-2 4-5 5 5 0 7 1 7 4 6 6-4 6-4 6-4 7-2 6-1 5-5 4-6M1454 1745l-4-6 5-5 6-4 7 1 7-1 6 4-2 6-7 3-7-1-5-4 1-7 2-7-7 1-7 1 3-6 6-5M1088 1790l5 4 5-4 6-3 7 0 6-4 7 2 7-1 7-1 7-2 6-2 5-5 7 1 7 1 0 7 1 7 6 2M1237 1811l4-6-2 7-4 6-5-5-5-5-6 2 1 7-2 7-7 1-6 2-5-5-3-6-3-6 1-7-4-6-6-5M1389 1807l2 7-4 6-2 6-2 7 1 7-6-2-6-3-7-2-7-2-6 3 3 6-2 7-5 4-7-2-7 1 0-7M1458 2020l-3 6-5 4-7 2-7-1-2 6 0 7 1-7-7-1-7-1 4 6 7 2 6-3 5 5 6 4 7 1 7-1M1072 1647l5 4 1 7 2 7 6 3 7-2 6 3 4-6-3-6 2-7 2-7-4-6 1-7-3-6-7-3-2-7 7 0M1181 1944l0-7 2-7-7-2-7 0-6-4-6-3 3-6 6-4 7-1 6-2 5-6 6-3 5-4 7 1 6-5 6-2M1144 1753l-6 4-6 2-7-2-3-6-1-7-5-5-1-7 4-6 6-4 7 0 6-2-2 7 1 7 6 4 7-2 5-5M1313 1906l6 4-7 0-7-2-4 6-2 6 3 7-2 7-7-1-7 2-5-4-1-7-6-4-6 4-5 4-4 6-6-3M1167 1944l-3-6-7 0-2-6 7-2-5-5 0-7-7 0-6-3-7 0-5-5-7-2 1-7-3-6-5-5 6-3 6-3M1031 1789l0 6 4 6 1 7 7-1 1-7 1-7-5-4-7-2-7 1-7 0-3-6 0-7 7-3 6 3 6-5-3-6M1229 1811l6 4 4 5 3 7 5 5-1 7 7 0 3-5 5-6 7 1 6-3 6 4-3 6-1 7-2 7-3 6 3 6M1459 1804l-5 4-6-4-5-5-1-7-7-2-3-6 5 5 5 5 3 6 6-4-1-7-2-6-6-3 5-4 6-4 5-5M1099 2018l7-2 5 5 3 6 7 3 7 0 7-1 6 3 3 6 4 6 4 6 6 3 5 4 7 4-6 4-6 2-7 3M1139 1721l1 7-1 7 4 6 6 3 6-3-3-7 7 0 7-3 1 7-2 6-7 2-6-4-7-3-6 3-7 2-2 6M1463 1759l-6 3-6 4-3 6 7 0 6-1 3-7-1-7 3-6 6 3 6 2 7 3 6 4 2-7 7-2 7-1 1 7M1431 1779l-6-4-7-1-7 0-6 4-7 0-7 0-6-3-7-2-5-4 1-7 5-5 7 2 6 3 5-5 2-7-6-3M1341 2040l-4 5-6 4-6-1-7-1-3 7-4 6-2 6-3 7-1 7-1 6 1 7 0 7-5 5-7 0-6 4-6 3M1405 1726l3 7-3 6 7 1 7 3 7 0 0 7 3 6 7 0 7 2 5 4 0 7 4 6 4 6 5 4 4 6 5 6M1161 1870l5-4 6-5 7 1 6 2 5-6 3-6 7 0 1-7-4-6-3 6-5 6-3 6-2 6-4 6-4 6-7-1M1257 1959l0-7-5-5-1-7 2-7 6 4 6-3 6 3 5-6 4-6 1-6 1-7 1-7 5-6-5-5-2-6-7-2M1163 1812l7 0 1 7 5 5 4 6-1 7 5 5 7 2 6 3-1-7 6-4 4-6 5-4 6 3 7-2 7-2 7-1M1177 1808l7 2 5 4 7 0 7 1 4 6 0 7-1 7-3 6-7-2-7-2-7 1 1 7-6 3-6-3-6-4 1-7M1255 1686l7 1 3-6 0-7 1-7 2-7 3-6 7 1-1-7-1-7-4-5 4-6-7 1-4-6-1-7 2-7 6-2M1081 1908l-5-5-7 0-6 2-6 4-5-5-7-2-3 6-3 6-6 4-4 6-2 6-5 5-2 7-6-3-7 1-7 2M1244 1824l4 6 6 2 2 7-7 2-6-4-7 1-6-3-2-6-7-4-4 6-5-5 1-7 3-6 7-2 7 1-7 3M1252 1721l1 7 1 7 1 7 4 6 0 7 7 0 3-6 3-7 6-4 5 6 5 4 6-3 3-6 3-7 5-4 7 0M1472 1876l6-3 6 4 7-2 6-4 6-3 6-3 4-6 4-5 7-3-6-5-2 7 4 6-7 3-6-3 2 6 4 6M1432 1836l-1-7 2-6 6-4 1-7-7 2-4-5-4-6-3-6-7-2-6-3 0-7-6-5 0-7 6-3-6-2-6-4M1147 1704l-3 7-7 1-3 6-6 3 3 7 0 7 2 6 1 7-2 7-4 6 4 6-6 4 0 7-1 7-2 7-3 6M1050 1743l1 7 7-1 1-7 6-2 6-5 4 6 6 3 5 5-7 2 1 7 6 3 2 7 5 5 6 3 7 2 5 5M1201 1878l-1 7 1 7 6 3 7 0 4-5 1-7 5-5 4-5 7 0-3-6-6-4 6-4 7-2 2 7 1 7-3 6M1340 1891l-7-2-6-1-7-4-5 5-6 4-7-1-6 3-6 4-7 1-5 4-7 1-3 6-1 7-4 6-7 2-6 3M1303 1872l6-4 6-3 1-7 4-6 2-6 7-1 7 0 7 0-1-6-1-7 5-6 2-6-1-7-6-5 2-7 7-1M1240 2026l0 7 0 7 5 5-2 7-7 3-5 4-7-1-4-5-7 1-5 5-6-3-7-2-7-2-6 1-7-1 1-7M1138 1712l-1-7 1-7 1-7-4-5-7-3 4 6 3 6 2 7 7-2 3-7-4-6-6-3-3-6-1-7-6-3-7 3M1302 1835l-2 7 6 4 5 6 0 7-6-3-5-5-6-3-4-6-5-5-7-3-5-4-6-3-7-2-4-6 4-6 2-7M1127 2048l4 5 6 4 5-4 7 0 5 5 6-3 7 1 6 5 6-3 6-4 4-5 2-7 0-7-6 4-7 0-6-3M1182 1815l-3-6-2-7-3-7 0-7 6-2 7-4 2 7-3 6-5 5-4 6-3 6-2 7-6 3-1-7 6-4 5-5M1456 1820l-6 5-4 5-5 6-6 3-2-7-1-7 4-5 7-2 7 0 0-7-3-7-5 5 0 7-1 7-3 6-1 7M1189 1845l3-7 7 2 5 5-6 3-5 5-7-1-4-6-7 3-4 6-4 5-7 1-6-4-3-6-6-3-5-5-3-7M1366 1690l-4 6-6 4-1 7 7 2-2 7 1 7 2 6 7 1 5 5 4 5 7 2 5 4 7 2 3 6 7 2 6 3M1241 1898l-7-1-3-6 5-4 5-6 3-6 2-7-5-5-5-4-7-3-6 4-5 5-5-5-7 0-4-6-1-7-6-2M1397 1783l-6-4 6-3 7 2 5 4 7 0 7 2-1 7 4 6 1 7 4 5-1 7-1 7-6 4-3-7 4 6 7 0M1196 1915l-1-7 0-7-4-6-5-5-6-3-7 1-4 6-4 6-6 3 0-7 1-7 5-4 0-7 7 2 4-5-3-6M1149 1732l0 7-6 5-2-7-7-1-4 5-1 7 0 7-5 5-6 4-7 1-6 4-7 1-7 1-7 1-5 5-4 5M1260 1969l7 2 0 7-6 3-5 4-4 6 2 7 2 6 5 6-1 6 3 7 7 0 3-6-6-4-7 0-6 3-4-6M1225 1703l2-7-6-3-5 4 1 7 4 5 2 7 2 7 3 6 4 6 2 6-5 5-2 7-7 3 0 7-3 6 5 6M1447 1906l-3-7 3-6 1-7 5-5 2-7-7-3-4-6-4-5-2-7 4-6-2-7-7 0-3 7-2 6-4 6-6 3M1270 1718l-6 3-2 7-6 3 0 7-7-1-7 1 1-6-1-7-1-7-7 1 0 7 4 5-2 7-1 7-6 4 1 7M1130 1700l-5 5-2 7 2 6 7 3 5 5 3 6 6 5 5 4-3 7 0 7-6 4-7-1-7 1-4 6-6 3-3 7M1030 1798l-1-7 4-6 7-1 5 4 7 1 7 3 5 5 2 6-1 7-2 7-7 1-7 1 1-7 2-6 6-4 6 4M1285 1898l-2 7 4 5 2 7 0 7-3 6-6 4-6-4-7 1-4-6-3-6-7-2-7-1-6 2-4 6-3 7 1 7M1413 1651l-6 4-6 1-5 5-6 4 4 6 4 6 1-7-5-6 6-4 6-4 4-6 6 4 6 4 6 2 7-3 4-5M1415 1771l6 2 3 7 7-2-3-6 1-7 0-7-4-6-5 5-2 7-2 7 6 3 7 1 4 6-5 6-7-1-3 6M1276 1919l5-5 7-3 6-2 7 0 7-2 5 4 7-2 6 4 4-6 2-7-4-5 6 3 1 7 6-5 5 4 5 6M1239 1802l3-7 6-3 1 7-1 7 6 5 1 7-4 5-5 5 0 7 2 7-7 3-6 3-7-2-7-1-4-5 5-6M1123 1921l-4-6-6 3-5 5-7 1-4-5 6-4 5-4 6-5 2-6-2-7 5-5 4-5 1-7-2-7 0-7 2-6M1086 1685l4 6 6-2 4-6 7 0 6 4 5 5 6 3 4 6 4 5 2 7-2-7 0-7 4-6 4-6-4-5 1-7M1324 1960l-5 5-7 1-5-4-4-5-7-3-5-5 2-7 6-2 7-1 7 2 7-1 7 2 6-3 6 5 4 6 6 3M1082 1756l-2 7-7 0 2 7-3 7-7-2-1-7-5-5-5 5-5 5-7 1-1 7 5 4 7 1 7-1 6-4 4-6M1491 1923l5 5 5 5 7-1 6 3 3 7-7-2-5-4-6-3-7-1-6 5-1 7 5 4 2 7 3 6 7 0 6 3M1328 1718l-6-2-6-3-4 6-3 6-7-3-7-1-6-3-6-4-7-2-4 6-6 4 3 6 7 2 1 7-6 2-6 3M1227 1741l4-5 1-7 3-7-4-5-1-7 1-7 4-6 7-1 7 1 4 6 7 0 5-5-1-7 6 3 7 0 7-4M1150 1933l-3 6-5 5 6 4 5 5 2 6-3 6-6 4-4 6 7 1 0 7 3 7 6 3 1 7 5 5-2 7 5 5M1430 2001l-5-5-7 0-2-7 4-6-7-1-5-5-4-6 5-4 3-7 3-6 5-4 7-3 2-6 6-5 7 1 4 5M1457 2018l-6 3-5-5 7-1 6 3 7 1 6-4 1-6-2-7-4-6-6-3-6-3-4-6-5-5-5-5-7 1-5-5M1457 2023l7-3 6-3 4 6 4-6-7 2-6-2-7-2-7 0-7-2-5 5 3 6-5 5-6 2-6 4-4 6-5-5M1234 1795l3-6-7 1-1 7 7-1 4 6 6-4-5-4-6-3-5-6 7 2-4-6-7 2-6 2-3 6 6 3 5-5M1200 1653l0 7-7 2-5 5 0 7 3 7 7 3 6-4 6-3 7 0 1 7-6 4 7 2 7 2 7 0 6 3 5 4M1050 1866l-7 2-3-7-6 4-2 6 2 7-7 1 3 6 5 5 5 5-5 5-7 0-6-3-5-6-3-6 2-6-5-5M1421 1860l2 7-3 6 2 7 4 6-2 7 5 5 2 6 7 2 7 1 7 0-1 7 6 5 7 0 5-4-4-6 6-3M1260 1710l1-7 7-3 6-3 5-5 3 7-5 4 7 3 3 6 2 7-6 3-5-4-3-7-6-4-7-1-6 2-7-1M1388 2004l-3 7-1 7 1 6 2 7-5 5 1 7-7 1-3 6-6 5-6-3-6-3 2-7-7-2-6-3-7-2-7 1M1237 1654l0-7-2-6-4-6 4-6 7-2 4-6 2-6-5-6 1-6 5-6-2-6-4-6-7 2-5-5-6-3-3-7M1176 1804l7-2 6-3 6-4 7 1 1-7 1-7 7-1 1-7 0-7-1-7 1-7 6 4 7 3 6-3 1-7-5-5M1032 1834l-6 2-2 7-2 7-5 4-1 7 2 7-2 7-2 7-4 6-6 4-3 6-2 6 2 7-1 7-2 7-4 6M1399 1902l-4 6 0 7-2 7 5 5-2 6-4 6-7 2 6 5 6-1 7-3 2-7 0-7-1-7 1-6 4-6 3-7M1164 1700l1-7 4-6 2-6 0-7-1-7 3-6-1-7 4-6 2-7 3-6 3-7 1-7-1-7-2-6-6 3-4 5M1262 1902l7-1 7 2 6 3 6-3 5-5 6 3 7-1 0-7 2-6-1-7-3 6 6 4 5 5-3 6-7 3-4 6M1438 1722l5-5 6-4 7-2 7 0 7-1 4-5 4-6 7 0 3 7 3 6 0 7 1 7-7 0-6-4-5-5-6-4M1054 1854l1-7-6 4-7-2-6-2-5-5-3-6-3-7-5-4-6-5 0-7 3-6 7-1 0-7-5-5 5-5-7 0M1365 1751l2 7 7 1 7-2 4-5 3-7-5-4-7 0-5 5-3 7-7 0-6 2 0 7 6 4 6-2 7-1 0 7M1080 1722l5 4 7 2 7 1 7-1 1-7 4-6 6 4-1 7-3 6-3 7-6 4-1 7 0 7 3 6 4 6-3 6M1050 1892l6 3 6-4 7-3 6-2 6-4 5-5 7 0-4-5-5-4-7-3-7 1-6 3-7 2-7 2-7 0-3 6M1456 1735l7 3 6 3 4 6 4 6 7-2 5-5 0-7 5-4 3-7 4-6 5-4 7-3 6-3 1-7 3-6 5-5M1295 1926l-4-6 1-7 3-6-7-2-6 4-7-1-6-2-5 5-6 3-6-3-7 1-7-3-6 4-6 3 2 7 7 0M1464 1718l-7-2-2 7-3 6 5 4 6 5 1 6 6 4 6 2 7 0-6-4-6 2 0 7-4 6-5 4-6 4-4 6M1155 1750l-7 0-6-4-6 3-7 2-7 0-4-5-1-7-3-6 0-7-4-6 0-7-6-3 2-7 5-5 6-2 3-7M1032 1958l7 2 6 3 5-5 5-4 2-7 0-7-2-7-2-6-3 6-7 2-7-1-2-7 4-5 7 1 5 5 6-3M1227 1801l-1-7 1-7 7 1 7 1 6 4 3-6 7 0 7-1 1-7-5-4 4-6 7 3 5 5 6 2 3-7 4-5M1072 1673l-5 4-5-5-6-4-7 0-5 5 4 6 5 4 3-6 6-3 7-1 6-4-3-7 2-7 2-6-2-7-4-6" fill="none" stroke="#6e2050" stroke-width="6.5" stroke-linecap="round" stroke-linejoin="round"/><ellipse cx="1262" cy="1845" rx="85" ry="78" fill="#9a4a30" opacity="0.45"/><ellipse cx="1262" cy="1840" rx="80" ry="70" fill="url(#glowO)" opacity="0.9"/><path d="M1232,1830 L1262,1816 L1292,1822 L1300,1852 L1270,1862 L1236,1860 Z" fill="#fffbd0" stroke="#ffe070" stroke-width="5" stroke-linejoin="round"/><ellipse cx="1468" cy="1823" rx="10" ry="7" fill="#f8e8c0"/></svg><rect x="1049" y="1670" width="184" height="16" fill="#e2dbe8"/><text x="1074" y="1731" font-family="'Liberation Sans', Arial, sans-serif" font-size="38" font-weight="normal" fill="#f4f4f4" textLength="134" lengthAdjust="spacingAndGlyphs">400 nm</text><text x="1405" y="1725" font-family="'Liberation Sans', Arial, sans-serif" font-size="58" font-weight="bold" fill="#fff" textLength="71" lengthAdjust="spacingAndGlyphs">c.i</text><rect x="1174" y="1759" width="170" height="160" fill="none" stroke="#c4c4d4" stroke-width="3.5"/>
<line x1="1344" y1="1759" x2="1703" y2="1931" stroke="#9a9a9a" stroke-width="3.5"/><line x1="1175" y1="1919" x2="1298" y2="2260" stroke="#9a9a9a" stroke-width="3.5"/>
<svg x="1299" y="1928" width="404" height="332" viewBox="1299 1928 404 332" overflow="hidden"><defs><radialGradient id="ciiG" cx="0.5" cy="0.5" r="0.5"><stop offset="0" stop-color="#d8a038"/><stop offset="0.3" stop-color="#c47a28"/><stop offset="0.62" stop-color="#b0602a"/><stop offset="0.85" stop-color="#8a3a3a" stop-opacity="0.7"/><stop offset="1" stop-color="#6a2050" stop-opacity="0"/></radialGradient><radialGradient id="ciiY" cx="0.5" cy="0.5" r="0.5"><stop offset="0" stop-color="#f4ff9a"/><stop offset="0.45" stop-color="#e8e060" stop-opacity="0.85"/><stop offset="1" stop-color="#d8a040" stop-opacity="0"/></radialGradient></defs><rect x="1299" y="1928" width="404" height="332" fill="#4e1c50"/><ellipse cx="1492" cy="2098" rx="225" ry="182" fill="url(#ciiG)" transform="rotate(-20 1492 2098)"/><clipPath id="ciiClip"><path clip-rule="evenodd" d="M1299 1928H1703V2260H1299Z M1330 2095 A165 135 0 1 0 1660 2095 A165 135 0 1 0 1330 2095Z"/></clipPath><g clip-path="url(#ciiClip)"><path d="M1442 1944l4-7-3-8-6-8 0-9-2-8-8 4-5 8 2 9 5 7M1320 2105l-2-8-4-8-5-8-4-8 6-7-5-8-8-4-6-7-4-8M1601 2228l-4-8-1-9 1-9-2-9 3-9 0-9-2-8 1-9-8-4M1382 1976l-5 8-9 2-7-5-9 1-9-2-9 0-9 2-8-4-5 7M1421 2005l-2 9-5 7 1 9-2 9 4 8 4 8 6 6 7 6 6 6M1369 2231l7 6 4 8 9 0 8-3 9 1 9-1 5-7 4-8 3-9M1309 2037l-6-7-7-6-8-3-9 1-8-5-9-2-7 6-4 8-3 9M1300 2255l-9 3-6 7-4 8 4 8 4 8 6 7 4 7 1 9-9 3M1376 2006l-1 9 6 7 1 9 3 9 8 5 5 7 6 7 0 9 6 7M1669 1947l3-9 1-9 2-9 3-8-7-6-9 0-4 8-3 9-9-1M1646 2260l-7 6-9 1-9 2-4 8-7 5-9 2-9 2-8 3 1 9M1312 1973l-2-9-6-6-8-5 1 9 3 9 6 6 9 0 7 6 4 8M1444 1985l-8-5-9-3-6-7-8 2-3-9 3-8 9 1 1-8 9-1M1312 1954l3-8 9-3 9 0 8 2 8-4 7-7 9-1 9 0 8 1M1340 2257l9 2 1 9 4 8-6 7-9-4-9 1-5 7 0 9-1 8M1409 1981l-2-9 8-6 6-6-2-9-6-6-5-8-5-7 4-8 7-6M1686 2080l-8 3-8 4-8-5-8-4-7-6-8-3-9-3-9 0-8 4M1700 2245l2 9-1 9 8 5 2 9 9-1 9 1 6-6 6-7 4-8M1464 2249l8 5 4 8 3 8-4 8-8 5-8 4-8 4-9 3-8 3M1665 2251l3 9-8 2-8 4-7 7-8 4-2 9 2 9 5 7 7 6M1670 2033l3 9 2 9-1 8-5 8-5 8 6 7 8 4 7 5 9 1M1691 2213l3 8 3 9 8 5 7 4 6 7 9-1 9-1 9-2 9 1" fill="none" stroke="#5a6a9e" stroke-width="18" stroke-linecap="round" stroke-linejoin="round" opacity="0.6"/><path d="M1442 1944l4-7-3-8-6-8 0-9-2-8-8 4-5 8 2 9 5 7M1320 2105l-2-8-4-8-5-8-4-8 6-7-5-8-8-4-6-7-4-8M1601 2228l-4-8-1-9 1-9-2-9 3-9 0-9-2-8 1-9-8-4M1382 1976l-5 8-9 2-7-5-9 1-9-2-9 0-9 2-8-4-5 7M1421 2005l-2 9-5 7 1 9-2 9 4 8 4 8 6 6 7 6 6 6M1369 2231l7 6 4 8 9 0 8-3 9 1 9-1 5-7 4-8 3-9M1309 2037l-6-7-7-6-8-3-9 1-8-5-9-2-7 6-4 8-3 9M1300 2255l-9 3-6 7-4 8 4 8 4 8 6 7 4 7 1 9-9 3M1376 2006l-1 9 6 7 1 9 3 9 8 5 5 7 6 7 0 9 6 7M1669 1947l3-9 1-9 2-9 3-8-7-6-9 0-4 8-3 9-9-1M1646 2260l-7 6-9 1-9 2-4 8-7 5-9 2-9 2-8 3 1 9M1312 1973l-2-9-6-6-8-5 1 9 3 9 6 6 9 0 7 6 4 8M1444 1985l-8-5-9-3-6-7-8 2-3-9 3-8 9 1 1-8 9-1M1312 1954l3-8 9-3 9 0 8 2 8-4 7-7 9-1 9 0 8 1M1340 2257l9 2 1 9 4 8-6 7-9-4-9 1-5 7 0 9-1 8M1409 1981l-2-9 8-6 6-6-2-9-6-6-5-8-5-7 4-8 7-6M1686 2080l-8 3-8 4-8-5-8-4-7-6-8-3-9-3-9 0-8 4M1700 2245l2 9-1 9 8 5 2 9 9-1 9 1 6-6 6-7 4-8M1464 2249l8 5 4 8 3 8-4 8-8 5-8 4-8 4-9 3-8 3M1665 2251l3 9-8 2-8 4-7 7-8 4-2 9 2 9 5 7 7 6M1670 2033l3 9 2 9-1 8-5 8-5 8 6 7 8 4 7 5 9 1M1691 2213l3 8 3 9 8 5 7 4 6 7 9-1 9-1 9-2 9 1" fill="none" stroke="#200828" stroke-width="6" stroke-linecap="round" stroke-linejoin="round" opacity="0.6"/></g><ellipse cx="1510" cy="2072" rx="62" ry="50" fill="url(#ciiY)"/><ellipse cx="1462" cy="2098" rx="38" ry="30" fill="url(#ciiY)" opacity="0.7"/><line x1="1386" y1="1967" x2="1626" y2="2241" stroke="#f01818" stroke-width="9" opacity="0.9"/></svg><rect x="1300.5" y="1929.5" width="401" height="329" fill="none" stroke="#050505" stroke-width="4"/><text x="1567" y="2008" font-family="'Liberation Sans', Arial, sans-serif" font-size="58" font-weight="bold" fill="#fff" textLength="88" lengthAdjust="spacingAndGlyphs">c.ii</text>
<svg x="1724" y="1655" width="662" height="605" viewBox="1724 1655 662 605" overflow="hidden"><rect x="1724" y="1655" width="662" height="605" fill="#8c8c8c"/><filter id="soft"><feGaussianBlur stdDeviation="1.3"/></filter><g filter="url(#soft)"><path d="M1762 1917l-6 2-7 1-6-4-7 2-7 2 3 6 7 2 6 2 3 7-4 6-7 2-7 0-6-4 1-7-5-5-4-5-6 2-6 5-7-1-7 1M2314 2089l7 0 6 4 7 1 7 0 7 0 6 3-4 6 2 6-4 6 2 7 5 4 3 7 4 5 4 7-1 6-5 6 2 7-2 6 0 7 1 7M2293 1911l4-5 7-2 1 7 6 4 3 6-6 3-7-1-3 7 0 7-7 0-5 4-3 7-7 1-7 1-7-2-5-5-2-7-5-5-4-6-6-2M1792 1894l-4-6 2-7 2-7-2-6-3-7-7-2-6-3-5-5-7-1-1 6-5 6 2 7-6 4-7 1-3-6 0-7 6 1 3 6 6 5 5 4M1782 1810l-7 2-7-1-6-4-5-5-4-6-1-6-1-7 0-7 4-7 3-6-5-4 2-7 4-5 0-7 5-5 5 4 6 5 0 7 5 5 6 3M1870 2206l-1 7-6 4-6 3-6 3-6-4-2-7-6-3-7-3-3-6-7-1-7-2-5-5-1-7-5-5-7-2-7 1-4-6-6-4-4-5-7-2M2180 1692l2-7 5-5 7-1 6-3-2-7-5-5-5 5-3 6 0 7 6 4 4 5 2 7-2 6 1 7 2 7 6 3 2 6 3 7-6 4-4 5M2195 2244l-7-2-5 6 4 6 5 4 4-5 2-7-6-2-7 0-2 7-5 5-4-5-2-7 2-7 5-5 4-5 6 2 7 1 5-5 7 1 7 3M2307 2186l2 6 3 7 0 7 1 7-6 4-6 3-5 6-7-1-6 2-7 3-6 2-7 2-6 4-6-2-7 2-6 4-5 5-7 2-7-1-5 4M1855 2196l-6-2-6 3 2 7-4 6-7 0-7 2-2 7-2 6 0 7 4 7-5 5-4 5-7-3-7 1-7 0-7-1-7 0-1-7 3-7 1-6M1960 1650l2-7 7-2 0-7-7-3-4-6-2-7-1-7 6-4 0-7 2-6 5-5 6-5-2-6-3-7-3-6-5-5-6-2-7-1-5 5 3 6M1829 1678l-3-7-4-5 0-7 2-7-5-4 0-7 7 1 7 3 6-2-1 7 1 7 3 6-3 7-5-5-5-6 0-7-1-7-5-5-2-6-3-7M1778 2242l-6 4-2 7-3 6 3 7-2 6-6 5 5 5 7 0 1 7 7 3 7 0 2-7-4-5-5-4-7-3-6 3-2 6-5 5-2 7-5 5M2028 1798l-2-6-5-6-5-5-1-7-5-4-6-3-3-7 3-6 2-7 3-6-2-7 2-7-3-7-6-3-7-1-5 4-6 5-7 0-3-6 1-7M2118 1865l7 0 6-3 7-2 7 0 4-6 7-1 4-5 1-7 7-2 6-2 7-2 7 0 7-1 6 3 4 6 3 6 7 3 7-1 6-4 2-7M2386 1853l6-3 7 1 7 3 6 2-4 5-2 7-1 7 4 6-5 5 0 7 4 6 0 7 3 7 3 6 2 7 3 6-4 6-7 2-4 5 2 7M1747 1887l-2 7-6 4-6 3-5 4-6 5-7-2-6 4-5 4-7-1-6-4 3-5 6-5 4-5-2-7-5-5-7-1-4-5-7-3-6-3-7-1M2251 1689l6-5 7 1 4-5-2-7-5-5-1-7-1-7-7-1-5-4-1-7-2-7-3-6-5-6 1-7-3-6-4-6-6-4-7 0-7-1-1 7M2199 1716l5-5 6 3 7-1 4 6 2 6-1 7-2 7 6 3 5 5 6 5 7 1 4 5 5 5-3 6-1 7-5 5 3 6 2 7 5 5 7 3M1955 2199l-4 6-3 6 1 7 7 0 2 7 5 5 5 5-6 4-2 7 4 5 6-2 7-2 6-3-2-7-6-4-5-4-6-2-6-5-3-6-2-7M2001 1909l-3 6-7-1-1-7 2-7 2-7 7-2 6 1 7-1 6 5-2 6 2 7 2 7 3 6-3 6-5-4-4-6-1-7-5-6-6 3-5 4M2219 2085l5-6-3-6-4-6-5-5-7 0-7 3-7-1-4-6 1-7 1-7 6-3 6-5 2-6 7-1 7-2 4-6 6 5 3 6 7 0 2 6M2266 2112l-6 3-5 5-2 7-1 7-2 6 4 6 1 7-2 7 3 6 1 7 5 5 6 4-2 7-7 0-6-3-5-5 0-7-6-5-7-1-1 7M2240 1851l7-1 3-7 4-6 5-5 4-5-4-7 2-6 1-7-3-7 0-7-4-6-7-3-6 1-6 4-5-5-7-1-5-5-7 1-5 4-4 6M2311 1769l-6-4-7 0-7 0-7 1-4 6-7-1-4-6-5-4-6-3 0-7-7-3-5-5-6-1-7-2-7 1-5 5-1 7-1 7-3 6-6 4M2299 1835l2-6 6-4 5-5 7-1 7 0 6 2 6-3 6-3 7 0 7-2 2-6-4-6 0-7 5-4 4-6 5-5 7 1 5 5 7-1 4 6M2394 1997l7 3 6-3 7-2 1 7 6 4 7 3 1 6-2 7-3 6-1 7-3 6 4 6 6 3 7 0 5-5 2-7 6-4 6 5 5 5 6 3M1854 2201l-6 4-2 7-6 3-7 1-7-1-7-2-3-7-2-6 3-7 0-7-6-3-3-7-7 0-5 4-3 7-7 3-4 5-4 6 6 5 6 3M2042 2130l-6 4-7 2-4 6 2 6 6 4 7 2 6 1 5 6-4 5-5 5-7 1-6-4-6 3-6 3-7 2-2 7-7 0-7-3-7-2-6-3M2069 1710l-4-5-4 6 2 6 5 6 6-4 6-3 3 7 6 3 7 1 7 3 7 0 6 3 6-4 6-3 6-3 6-4 7-1 7 0 7 1 3 7M2378 2047l2 6-5 5-7 1-7 1 0 7-2 6-3 7 3 7-3 6-3 6-7-1-5-4-6-5-6-4 0-7 7-1 6 4 6-3 0-7 7-1M1956 2004l-5-4-4-6-6-2-4-6 3-6 6-5 5 5 1 7 7 3 6-3 6 4 6 5 6 1 6 4 5 5 1 7-5 6-7-2-2-6-6-4M1870 1772l-6-4 1-7 6-3 7 2 7 1 6 3 2 7 3 6-7 0-7 3-7-2 2-6-6-4-7-3-6 3-5-5 2-7-4-6-6-4-6-3M2305 2135l-3 6-6 3-7 0-6-5-6-3-6-4-6-3-6-2-5 6-5 5-7-1-7 1-7 0-7 2-2 7-6 1-5-5-1-7 3-7-6-5M1949 2210l-5 5-6 4-6 3-7-1-7 1-5-4-1-7-1-6 5-5 7-1 7-2 4 6 6 4 7-3 5 4 7 3 7 0 3 6 2 7-1 7M2094 1732l3-6-4-6-2-7-1-7-6-3-6-3-7 1-6-4-7 2 4 6 7 2 5-3 0-7 7-2 6-4 6 3 6 5 7 1 7-1 6 2M1970 2091l1 7 1 7 1 6 3 7 7 2 4 5 5-5 3-6-3-6 1-6 0-7 7-2 6-3 6-2 4-6 2-7 0-7 0-7-5-5-3-6M2394 1898l-1-7-2-6-4-6 6-4 6-4 7-2 3-6 3-7-7 0-7 1-7 2-4 5-5 5-7 1-7 0-7-2-1-7-6-3-3-6-7 0M2301 1956l7-1 5-5-2-7-5-5-5-4-7 1-7-1-3-6-3-6-3-7-7-2-7 1 1 7 3 6-3 7-5 4-3 7-1 7 5 5 7 2M1775 2167l-1 7 6 2 2-6 3-7 5-5-3-6-4-6 0-7 3-6 7 0 7-1 4-5 6-4 7 0 2 6 7 3-1 6 3 7 1 7-1 7M1920 1914l4 6 1 7 1 7 5 4 7 0 4-6-7 0-7 0 3-6 2-7 6-3 3 6 6 5 3 6-1 7-6 2-6 3 0 7 5 5 7 0M2230 2069l-7-2-7-1-4-5-7-1-5-6 0-7-4-6-1-6-6-4-4-6-2-7 2-7-4-5-1-7-4-6 1-7 3-6 6-4 2-6 3 6M1841 2125l0 7-7 2-2 6 3 7 5 5 6 4 7-1 7 1 6 3 7 1 7-1 7 1 7 0 7-2 6 4 4 5 4-5 6-4 6-4 6 3M2386 1745l-3-6 2-7 3-6 7 2 6-3 7-2 2-6 0-7-7-1-7 2-7-1-7-1-5 5-7 1-6-1-7 1-5 5-7 2-6 2-7-2M1759 1752l-7 1-7-2-6-2-1-7 6-3 1-7-6-4-5-5 3-7 5-4 7 0 7 0 7 1 6 4 2 7-2 7 2 7 7 1-3 7-3 6M2359 1778l6-5 6 3 7 2 7-1 5-5-1-7-5-5-5-5-5-5-3-6 3-6 2-7 2-6 1-7-2-7-4-6-6-4-6 4 0 7 2 6M1932 2082l-7 1-5 5-7 1-5-5-7-1-6-4 2-7-3-6 1-7-7-1-3 6 1 7 6 4 6 2 6-4 6-3 7 0 7 0 6 4 5 5M1876 2241l-7 1-6-2-5-5-5-5 0-7 0-7 0-7-7-1-1-7-1-7-5-5-3-7 0-7-1-7 3-6 7 0 7 1 7-2 5 6 6 3M1979 1838l2-7 6-4 5-5-4-5-2-7-4-6-3-6-7 0-7-2-6 3 0 7 0 7-5 5-7 0-6-2-5-5-7-1-5-5-7 0-5-4M2189 1752l-6 3-5 5-7-2-3 6-7-2-7 4-3 6-6 3-7 1-4-6-6-3-5-4-1-7-6 3-4-6-3-6-6-3-6-5-6-2-5 5M1900 2007l5 4 7 0 7 1 7 2 6 3 4-6-4-6-7-2-7 0-7-1-3 6-4 6-5 5 5 5 7 2 2 7 6 4 5-5 3-6 2-7M2382 1900l6-4 6-1 7-2 7 2 6-4 5-4 5-5 1-7 4-6-5-6-6-3-6-3-5-5-7-3 3-7 1-7 1-6-6-4-7-2-6 3M2230 2042l7-3 4-5 4-6 5-5 6 4 4 6 4 5 1 7 5 5 6-3 3 7 6 4-6 5-7 1-5 5-5 4-4 6-6 3-4 6-4 5M2173 1736l7 2 5-5 6-3 7-2 0-7 0-7-5-5-2-7-5-5-7 1-4 6 3 6 2 7 5 4 1 7-7 2-6 3-6-3 0-7 1-7M1751 1743l-7 1-7-2-7 0-4 5-7-2-6 2-6 4-5 5-3-6 0-7 2-7-7-2 4-6 1-7 2-7 5-4 7 1 7 0 7 0 5-4M2166 2029l5 5 6 3 6 4 5 5 5 5 6 3 5 5 0 7 6 3 6 4 4 6 5 5 4 6 6 3 3 6 7 0 7 3 6 2 7 1 6 4M1832 2146l-4-6-3-6-7-1-4-6-1-7-6-3-3-7 1-6-2-7-6-5-5 5-6 4-1 7 6 3 7-3 0-7 3-6 7 0 7 0 7-2M1963 1677l7-1 7 1 6 4-5 5-7 2-7 2-3 6-6 3-5 5-4 6-1 6-6-3-6 2-7 1-7-2-2-7-6-4-7 2-2 6 0 7M2183 2074l-7 2-7 1-3 7-2 6-1 7-4 6-4 6-7 0-3 6-7 1-4-6-2-7-5-5 0-7 0-7 3-6 6-4 5-4-1-7-7-3M2052 1700l-3-6-6-4-7-1-6 3-6 3-5 5-7 0-6-4-3-6 0-7 1-7 3-6-2-7 0-7-5-5-6-4-7 2-7-2-6 3-5 5M2140 1733l6-4 6-3 7-3-2-7 6-4 7 0 5-4 6-4 6-4 1-7-1-7 1-7 5-4 7 1 7 0 4-5 6-5 6-2 7 1 4 6M1886 2159l-7 3 0 7-6 4 1 7-4 6-3 6-6 2-7-3-7-2-6 3-5 5-6 3-7 1-7 0-7-2-7 1-7 1-5 5 4 6 6 4M2021 2237l-4-6-5-5-3-6 0-7-1-7-1-7 7 2 6 4 6 3 6 4 7-2 7-1 6 2 7 0 6-4 3-6 7 2 6 4 6 4 6 3M1873 1886l6-3 3-6-3-7-5-4 2-7 0-7 4-6-5-5-6-2-6-4-7 2-4 5-6 5-5 4-5 5-6 3-7 3-6 2-7 1-5-5M1825 1686l1 6 1 7 0 7 1 7 1 7 5 5 6 2 7 0 7 2 6-3 7-3 2-6-1-7 0-7-1-7-5-5-7 0-7-1-7 2 0 7M2009 1806l-7-2-4-6-3-7-3-6-1-7-5-4-7-2-6 3-5 5 0 7 3 7 6 4 2 6-2 7 4 6-2 6 1 7 0 7 5 5 1 7M1810 2223l-7-2-5-5-6-3 0-7-1-7-5-5-7 1-3 6 1 7 5 5 1 7 3 6 5 5 1 7 3 6 5 5 6 4 5-5 2-6-3-6M2215 2022l4 6 7 2 2 7-1 7 4 6 2 6 2 7 4 6-2 7-3 6-4 6-6 3 3 7 5 5 3 6-1 7-3 6-6 4 2 7-4 6M2084 2075l-3 6-4 7-6 3 1 7-4 6 1 7 4 6 7 1 7 0 5-5-2-7-5-5-2-6 3-6 7-1 7-3 0-7-2-6-5-6-3-6M1777 1739l1-6-2-7-4-6 6-3 3-6 4-6 7 3 4-6 5-4 3-7-5-5-3-6 4-6 7 1 6 3 7-2-3-7-1-6-2-7 1-7M2046 2082l-4 6-6 1-7-1-6-5 3-6 3-6 7 1 7-1-1-7 6 4 7 3 7 0 6-3-2-6-1-7 1-7 0-7 7 0 7 2 6 4M1724 2109l-7-1-7 0-5 4-7 3-6-3-7 0-7 0-5 4-2 7-5 5-4 5-7 3-6-2-4-6-4-6-6-1-7 3-6 4-7 0-5 4M1900 2179l-6 4-6 1-6 5-3 6-6 4 1 7-1 7 5 5 2 7-3 6-6 3-7 1-6 4-5-5-4-5-5-5-4-5-5-6 0-7 6-3M1743 2046l4-6 0-7 4-5 2-7-1-7-5 5-6 2-3 6-4 7 1 7 1 7 1 7-3 6-3 6-1 7-3 6 7 2 5 5 4 6 6 3M2259 1895l4 6-1 7-7 1-5 5-5 5-4 6 0 7-6 3-6 4 7 3 7 0 6-1 4 6 6 3 5 6-4 6-6 4-5 4-6 3-7-1M2262 2218l0 7 7-1 7-2 5-4 7 0 7-1 5-5 6-4 6-3 3-6 4-6-6 3 0 7 2 7 1 6-5 5-6-4-7-1-6-2-6-4M2319 2098l7 0 6 3 3-6 2-7 3-6 2-7 6-4 6-3 0-7 5-6 1-7 3-6 4-6-3-6 4-6 4-6 1-7-3-6-1-7 2-7M2281 1964l6-4 7 0 4-5 3-7 1-7-2-6 1-7 3-6 7-3 6-3 6-4 5-5-1-7-4-6-6-3-4 6-7 1-7-1-7 1-3 7M2349 1684l7 1 7-2 5-5 5-5 6-3 2-7 2-6-4-6 0-7-4-5-7-1-6-5-6-3-5-5-5 5-7 2-3 6 7 1 6 3 3 6M1782 2037l3-7-2-6 3-6-3-7-1-7 3-6-3-6-5-5-3-6-4-6 2-7 2-6 6-5 3-6 6-3 7 0-2-7 5-4 1-7 6-4M2226 2087l3 7 6 4 4 6 0 7 1 7-3 6 1 7 3 6 6 2 7-1 5-5 7-1 7-2 7-2 6-3 2-7 6-3 7-3 7-1 6 3M1762 1711l6-4 6-4 6-3-1-7 6-3 7 0 7 0 6-3 6-5 7 0 6 2 7 4 7-1 5-4 6-4 7-2 5-4 3-6-4-6 2-6M1732 1946l-6 2-1 7-3 7 2 6 2 7-3 6-3 6-4 6-3 7-4 5-2 7-1 7-2 6 0 7-3 7 1 7 0 7 2 7 4 5 7 0M1779 1800l-4-6 1-7 1-7 1-7 7 0 2 6 7 3 6 3 7 3 5-4 5 6 0 7 2 6-2 7-1 7 5-5 6-3 7 1 7 1 7 3M2352 2240l7 0 6 4 7 2 7 1 6 3 4 6 6 3 3 6 7 2 6 3 7 0 7-2 7 0 7-1 6 3 1 7-7-1-4 6 4 6-5 5M1807 1969l-4-6-6-3-6-4-6-1-7 0-7 0-7-3-7 0-6 4-1 7 0 7 6 2 3-6-6-3-3-6-2-7 3-6-5-4-7-2-6 4M1898 1954l-2-7 4-6 7-2 4-5 5-5-3-7 3-6-2-7 5-5 3-7 6-3 1-7 0-7 4-6 3-6 4-6 7-2 7-3 3-6 5-5M1797 1784l6 1 7-1 7-3-1 7 0 7 0 7-6 4 1 7 4 5 6 3 1 7 6 4 2-7 7 0 5 4 7 0 5 5 2 7 3 7 5-4M2163 1746l2-6-1-7-3-6-7-1-6 4-7 0-6 3 2 6 6-4 7-1 5 5 7-2 7-3 5-5-4-6 0-7-7 0-4 6-5 5 1 7M1770 1881l-2 6-1 7 5 5 2 6 0 7-3 7 4 6 1 7-6 4 4 6-7-1-6-5-6-1 0 7 1 7 4 6 5 4 4 6 5 5-5 5M2151 2049l5-5 7-1 7 3 4-5 5-5 5-5 7-1 6-3 4-6 7-2 4-6-5-4-7 1-7-3-7 0-6 3 5 6 0 7 7 1 7-1M1914 2255l-2 6-7 0-7 3-3-6-4-6-6-2-7 3-2-7 0-7-4-6-1-7 3-7 2-6-2-7-1-7-5-5-6-4 0-7 3-6 2-7M2115 1884l-3 6-3 7 1 7 0 7 4 6-6 4-6-4-7 2-6 4-6-4 0-7 0-7-4-5-7 0 1-7-4-6-3-6-4-6-6-2-5-5M2140 1650l-1-7-7-1-7-2-6-3-3-6 4-6 7-1 6-2 7-1 3 6 6 4 2 7 1 7 6 3 6-4 2-7 4-6 3-6 0-7 1-7M2395 1705l6-4 4-6-2-6-3-7 0-7 7 1 5 5 7 2 6-2 6-4 6-4-2-7 1-7-5-5-5-5 0-7-2-6 1-7 5-5 6-4M1790 2174l-5 5-6 3-1 7-2 7 0 6-7 4-7-1-7 0-7 0-3 6 0 7 7 1 7 2 6-3-2-6-2-7 0-7-4-6-7 0-6-3M2193 2252l5 5 7 1 0 7-6 4-6 4-7 0-1 7-6 5-6-2 0-7 6-4 7-1 4-5 5-5 5-5 6-4 5-5 7-1-3-6-3-6M2055 2194l-5 5 1 7-6 3-7 0-5 5-6 3-2 7-3 6-5 5 1 7-5 5-3 6 1 7 0 7 4 5 7 2 4 6-4 6-6-1-7-3M2078 1861l-2-6-4-6-6-3-6-4-2-7 4-6 6-3 7 2 7-1 6-3 7-2 5-4 5-6 4-6 6 4 5 4-3 7-6 3 0 7 2 7M1816 1708l-6 4-7 2 5 6 1 6 5 5-1 7 3 6 3 7 1 7 5 4 7 1 6-3 7-2 6-3 2-7-5-4-7-1-7-2-6-4-5-4M2157 1961l6 4 7 1-2 7 5 6 1 6-2 7-4 6 3 6 4 5 5 5 4 6 6 3 6 4 7 3 6 2 7 3 5 5 4 5 0 7-3 7M2038 1866l6-4 1-7-3-6 0-7-2-7-5-5 6-5 7 2 7 2 7 0 3 6-1 7 2 6 7 2 7 3 6 2 1 7 1 7-1 7-6 4M2211 1939l-5 5-5 5-3 6-4 6-7 0-6-2-6-4-7 0-7 0-7 2-7 1-6 4 0 7 2 6 5 6 7 1 7 0 2 6 3 7 2 6M2153 1764l3-7-5-5-3-6-4-6-6 2-7 1-7 2-6-3-5-5-6-4-4 6-4 5 1 7-5 5-6 4-4 5-6 4-5-5 2-7 0-7M1767 2017l-6 3-7-2-7 0-1-6-1-7-1-7 2-7-1-7 3-6 3-6 2-7 5-5 6 2 7-2-2 7 2 7-3 6-4 6-4 5-7 3M2376 2003l7-2 5 6 6-4 6-3 5 5 5-6 1-7 0-7-3-6-7-2-7 2-1 7-1 7 6 5 6 2 7 1 7-3 7-2 7 2 6-2M1719 1730l-7 0-6-4-6-2-2-7-3-7-5-4-6-4-6-3-1-7-2-7 1-7-4-6 0-7-6-3-6-3-7 3-6 3-7 2-6 3-7 0M2296 2187l7 2 7 2 6-2 2-7 3-6 7 0 7-1 7 0 6-3 4 5 2 7-4 6-4 6-4 6-7-2-4-6-7-1-7-1 0-7 4-6M2146 1946l-7 0-7-2-5-4-6-4-3-7-6 2-7-2-7 0-5 6-2 6-7 0-6 2-5 5 1 7 7 3 6-1 6-5 3-6 3-6 2-7M2177 1985l-7 1-5 5-7 0-7-1-5-5-5-5-1-7-3-6 6-4 6-4 5-5 3 6 7 0 6-3 6 3 0 7-6 3-4 6-7-1-3-6M2319 2083l7 1 5 4 6 4 7 3 7 1 3 6 7-2 4 6-2 6-3 7-2 7 5 4 3 7-5 5-6 3-6 4-7-1-7 0-7 0-5 5M1805 1846l-3 7 5 5-4 6-6 4-7 2-7 0-7-1-6-3-5-4 6-3 3-7 3-6 3-6-1-7-2-7 7-1 7-2 7-2 1-6 0-7M2069 1840l-6 3-7-2-5-4-1-7-2-7-5-5-7 4-6 1-2 7 4 6 3 6 7 0 6-3 6 3 5-6 2-6 6-4 1-7 1-7 0-7M1953 1823l-6-3-7 1-1 7-7 0-3-6-6-4-7-2-6 4-4 5-7 3-6 4-1 7 3 6 6 3 5 5 6 4 2 7 7 3 5 5-2 6M2127 2240l2 7-1 7 0 7-4 6-5 5-4 5-5 6-5 4-6-3-4-5-7-2-6-4 4-6 7-2 6-4 7-1 7 1 2-7 6-3 6-4M2183 2085l-4 6-7-1-6-3-5-5-5-5-3-6-5-5-7-1-7-1-6-3 2-6 3-6 7-2 7-1 7-1 5 5 5 6 3 6 7 0 7-1M1933 2048l-3-7 6-4 3-6 5-6 5-4 7 2 6-3 2-7-2-7-7-1-4-6-6-4-1-7-2-6-7-3-6-3-5-5 3-6 5-5 0-7M1741 1929l-5 6 1 7-3 6-6 3-7-1-3 6-6 4-7 0-4 5 2 7 0 7-2 7 3 6 4 6 5 5 5 5 0 7 6 4 7-1 7-1M2073 2150l3 6 0 7-6-2-7 0-7-2-7 1-7-2-7 0-7 2-6-2-7 1-7 1-6-4-7-1-5-5 5-5 1-7-3-6-7-2-7-1M2103 1665l6-3 7-3 7-2 7 1 6 3 0 7 0 7-6 3-7 1-6 4-3 7 5 5 4 5 4 6 2 7 3 6 4 6 5 5 1 7 6 3M1750 1760l-4-6-5-4 4-6-6-5-6-3-4-5 1-7 3-7 3-6 2-7 5-5 7 3 6 3 7-1 7-1 4-6 6-3 7 3 7 0 5-5M1991 2208l-5 6-7-2-4-5 0-7-7-1-6 4-6 3-6-2-7-3-6-2-7-2-7 1-7 1-6-4-6 2-7 3-3 6 0 7 7 2 6-4M1946 2143l-4 6-2 7-7 0-4 6-1 7-4 6-7 1-4-5-1-7-5-6-6-2 2-7 7 1 6 3 7-1 7 0 5 5 7 0 2-6-4-6M1985 1690l-4-5-4-6-7-2-4-5-4-6 1-7 3-6 6-5 7 1 7 0 7 1 5 4 7-3 5-5 6-4 7 1 4-6 6 4-4 6-6 4M2161 2263l7 1 7 2 7 0 6 2 7 2-3-6 0-7 5-5 1-7-1-6-1-7-7-2-4-5-2-7 3-6 6-5 7-1-1-7-7 3-6-4M2233 1724l7-3 3-6 4-6 5-5 5-5 6-4-1-7-2-6 4-6 7-3 5-4 3-7 3-6 4-6 6-4 6 4 7 2 6 1 2 7-1 7M2376 2007l2 6 0 7 7 4 6 2 7 3 7 0 2-7 0-7-6-4 0-7-2-7-3-6-1-7 6-4 7-1 6 3 4 6 7-1 7-1 3-6M2139 1655l6 4 6-1 7 1 6-4 2-6 5-6 7 3 1 7 1 7-4 5-5 5 2 7 4 5 4 6 3 6 6 4 3 7 6-4 7 3 6 4M1838 1724l-5-5-7-1-7 0 2 6 4 6 4 6 2-7-4-6-3-6-6-4-7 1-6 2-1 7 7 3 5 5 5 5-2 7 0 7 1 6 5 6M2049 2257l-5-4-6-4-6-4-7 1-6-2-7-2-6-4 6-3 6 3 6 4 0 7 2 6 5 5 5 5 5 5 4 5 3 7 7 1 5-4 2-7M1758 2126l-6 4-7 0-7-1-2-7-4-6-6-3-5-5 2-7 0-7 1-7 3-6 3-7 2-7 6-3 7-2 5-5 6 3 5 5 4-6 7 2M2336 2250l6 3 6 3 7 1 3 6 3 7 6-2 6-5 5-5 5-4 2-7 5-5 7 2 5-4 4-6 7-2 7-2 5-4 1-7 3-6 5-6M2292 1818l2-7 6-2 4 6 6 4 6 2 6 5 7 0 5 5 1 7-7 1-2-7-5-5-6-2 1-7 0-7-4-6-1-7-3-6 3-6 6-2M2210 2066l-6 3-6-4-6 4-7 0-4 5 3 7 3 6 3 6 5 5 5-4-1-7-4-6-7 0-2-7-6-2-4-6-4 6-4 6-2 7 0 7M2168 2048l3-6 5-5 2-7 0-7 0-7-1-7-2-6-7-2 0-7 2-6-3-7-6-3-7-2-7 0-7 2-4 6-5 4-4-6-7-2 6-5M1943 1771l-7-2-5-5-7 3-6 3-2 7-1 7 3 7 6 3 7 2 7 0 5-3 7 2 6 3 3 6-5 6-5 4-1 7 1 7 3 6-1 7M1887 2082l4-6 7-1 0 7 1 7 3 6 0 7-2 6-3 7-1 7 4 5 7-3-3-6-6-4-5-4-5-5-6-4-6 1-6-4-6-3-7 0M2232 2033l7 2 6 3 5 6 1 7 5 4 5 5 4 6 2 6-5 6 2 7-6 3-6-1-7 1-7 1-4 6-5 5-7 0-6-2-7-3-6-3M1875 1881l-6-4-6-2-6-4 0-7-4-6-7 0-4 5-7 1-5 6-1 6-6 4-6-5-4-5-5-6-6-1-4-6-5-6-1-7-6-4-7-1M1766 1953l-6 1-1 7-1 7 2 7 3 6-2 7-6 3-2 7-4 5-4 7-4 5-3 6 3 7 5 4 7-3 0 7 6 3 0 7-7 0-4-6M2190 1997l6-4 6-4 1 7 1 7-2 6-6 4-7 1-7 2-4 5-1 7 0 7-4 5-7-1-7 1 5 5 5 4 1 7-7 2-6-4-4-6M2112 1736l-3-6 0-7-7 2-7 0-6 4-4 5-6 4-6-4-6 4 4 6 7 0 2 7 5 5 6-4 1-7 4-6-6-3-6-3-3-7-7 3M2118 1687l1-7 3-6 4-6 3-6 4-6 6-4 6 4 5 4 2 7 3 6 7 2 7 2 6 3 7 0 1 7-1 7-2 7-3 6-3 6-6 4M1768 1922l-3-7-5-4-7-1-6 3-1 7-6 4-2 7-6 3-5 5-7-2-2-7-1-7-1-7-4-6-6-3-7-2-4-5-4-6 7-1 2-7M1781 1906l-5 5-7-1-6-4-5-5 3-6 2-7-7 0-7 2-5 5-3 6-6 5 4 6-1 7 1 7 6 3 4-6 0-7 6-3 1-7-1-7M1879 2016l-6-3 4-6 5-4 3 6 0 7 2 7 7 1 2 6 3 7 4 5 4 6 7 1 4 6-1 7-1 7-7 3-6 4-6 2-7 2-2 7M2275 1943l-1-7 1-7 4-5 5-6 5-5-2-7 3-6 4 5 5 5-3 7 5 5-1 7-5 5-5 5-4 6-1 7 4 6 4 6 3 6 6 4M2098 2188l-2-6-3-7-5-5-4-6-1-7-6-3-6-4 5-5 1-7 1-7-2-6-7-1-6 4-5 5-7 1-6 2-5 5 3 6 4 5 3 7M1922 1921l-7-1-7-2-7 0-5-4-5-5-7-2-7-2-1-7-2-6 6-4 7-2 5-4 6-4 2-7-3-6 1-7-6-4-6 2-6-4-3-6M1819 2079l-6 3-6 3-7 0-7-1-7 3-4 6-7-2-3-6-7-3-5-4-5-5-2-7 2-6 6-4 5-5 7 1 7-3 4-5 6-5 1-7M1793 1957l-6 4-7-1-6 2-7 2-3 6-4 6-5-5-7 1-4 6-7-3-6-2-7 0-7 2-3 6-1 7 3 6 3 7-2 6-3 7 4 5M2181 2261l-2 6-7 1-7 0-4-6-1-7-6-2-6-3-7-1-7 3-3 6 2 7 1 6 1 7-2 7 6 3 7 1 5-5 6-2 7-2 7 1M1731 2138l-7 3-4 6-5 5-2 6 1 7 1 7 0 7-5 5-7 3-7-1-7 2-5-5-2-7-2-6-6-2 0-7-3-7-2-6-2-7-3-7M2237 1856l6-4 6-3 0-7 4-6 6-4 5-4 4-6 6-3 3-7 0-7-4-6 2-6 7-1 5 4 7 4 5 4 5 5 7 0 5-5 7 0M2030 2105l5 5 2 7 0 7 0 7 4 6 6 2 6 5 6 3 7 0 7-3 6-1 7-3-3-6-5-5-6 3-4-6-7 1-6 4 3 6-1 7M1975 2080l-2 7-6 3-6 4-1 7-2 6 7 3 5-5 7 1 3 6 2 7-5 5 1 7 2 7 7 1 6 3 7 3 3 6 5 5 3 6 6 4M1787 2220l-7 1-2 7-1 7 0 7-3 6-7 1-4 5 0 7-1 7 1 7 2 7 2 6-3 7 4 6 2 7 0 7 5 5 5 5 0 7-3 6M2074 2127l-7 0-5-5 1-7 6-2 7-2 6 4 4 6-7 2-7 2-7 1-6-2-7-1-5 5-6 3-4-6-7-2-7 0-6-4 3-6 6-4M2087 2207l-5-5 1-7 5-4 3-6 1-7-1-7-5-5 6-4 6-2 2-7 7-2 5-5 1-7-1-7-2-6-5-6 0-7 0-7 1-6 1-7M1831 2168l-3 6-7 0-7 0-4 6-4 5-1 7 1 7-1 7 4 6 7 1 7-1 7 1 5-4 7-3 6 2 7-2 7-2 5-5 7-2 0-7M1927 1820l1-7 0-7-3-6-6-4-7-1-7-1-7 2-7 0-7 1-7 0 0 7 5 5 4 6-6 4-6 4-7-1-6 3-7 1-7-2-5-4M1740 1891l0-7-7-2 1-7 6-5 4-5-2-7 7 2 6 4 3 6 0 7-6 4-7 0-6-2-7-3 2-7 7-1 5-5 7-2 7 3 6 3M1832 2159l-7 2-7-2-4-6-2-6 0-7-4-5-5 5-7 0-7 2-6-4-1-7-7-2-7 1-5 5-5-4-6 4 2 7 7-1 3-7 3-6M1750 2202l-6 3-4 6 5 5 5 4 7 0 6-4 4-6-2-6 7-2 0-7-1-7 6-5 4-5 3-6 5-6 2-6 0-7 2-7 4-6-5-5M2366 1865l3-6 2-7 1-7 7 0 5-5 6 4 6-4 6 4 2 6 0 7-4 6-5 5-7 0-5-5 0-7 6-3 6-4 6-4 6-3 4-7M2077 2191l7 2 7 2 4 5 7 2 6 4 7 0 2-7 7 0 7 0 5-4 7 0 3-6 0-7-2-7-6-3-1-7 3-6-4-6-5-4 2-7M2330 2110l7 0 5 6 6 4 7 0 6 2 7 2 7 1 0-7 1-7-3-6-2-7-3-6-6-4-7 0-6-4 1-7 3-7-6-4-7-1-6 3M2360 2077l-7-1-5 4-3 6-4 6-7 0-7 3-2-7-7-2-7 1-6 3 1 7 4 6 2 7-3 6-4 6-4 5-5 5 1 7 7 1 4 6M2039 2164l-6 3-3 6-6-3-7-1 0-7 1-7 1-7-2-7-6-3-6-4-1-7-1-7-4-6-3-6 2-7-3-6-7 3-3 6-7 2-7 1M2037 1795l-5-4-1-7 4-5 4-6 4-6 6 2 6-5 6-2 7 2 7-1 3 7 2 6 0 7 5 5 6 3 7 1 5 6 1 7-4 5-4 6M1925 2205l-5 5-7 0-2 6-5 5-7 0-6-4-7 0-7 3-6 3-7 0-6-4-6-1-7-2 1 7-6 5-4 6 2 7 2 6 6 4 5 5M2312 1949l-1 7-2 7-6 3-7 1-5 4-7 1-6 5-7 0-6 1-7 1-7 3 1 7-2 7 3 6 2 7 4 6 2 6 5 5 3 7 1 7M1965 2070l0 7-1 7-3 6 1 7 3 7-7 2-7 0-6 4-7 2-7-1-5 5-7 0-6 2-7 1-6-4-4-5-4-6-6-4-7 1-3 7M1858 2101l-7 3-6-4-6-2-4 6-7 1 0 7-1 7 6 3 7 2 4 6 4 6-6 4-7-1-4 6-3 6-6 4 0-7-1-7-6-3-3-7M1750 1804l6-3 7-1 3-6 2-7 4-6-3-6-7-3-2-7 1-7-1-7-3-6 3-6 6-3 7 1 7 2 6 3 0 7 7-1 6-3 7 3M2080 2267l-7-1-7 2-4 6-4 5-7 1-5 5 3 6 6 4 5 5 4 5 4 5 2 7 3 7 0 7 3 6 5 5-5 5-5-5-1-7-3-7M2058 1686l3-6 3-7-5-4-6-3-3-7-6-3-2-7 6-4 3-6 7-3 5-4 7-2 7-2 4 5 5 6-6 3-5 5-7 1-6 4-7 2M2184 1883l5-4 2-7 4-5-2-7-7-2-7-2 0-6 5-5 6-3 2-7-2-7-7-2-5-4-7-3-6 4-6-2-6-3-7 0-7 2-7 1M1955 1708l7-1 4-6 7 2 4 5 3 7-4 6-5 5-6 3-7-2-6-1-7 0-5-5 0-7 4-6 4-6 6-3 7-2 7 1 6 3 7 0M2135 2042l6 5 2 7 2 6 1 7 0 7 2 7-1 7-1 7-5 4 5 5 5-6 6 3 6-2 7 1 7 0 7 0 6-4 7-1 6 4 5 5M2061 1687l6-3 7 3 5 5 6 4 6 3 7 0 7 0 2 7 2 6 5 5 6 5 6 3 5 6 6 1 7 3 7-1 6-3 7 0 5-5 6-4M2072 2259l-3 6 3 7-6 4-5 5 5 5 3 6 4 6 2 7 3 6 7 1 6 3 7-1 7-2 6 3 1-7-2-7-4-6-6-4-4-5 3-6M1750 1998l-3 7 2 6-1 7-1 7-1 7-1 7 3 6-2 7-1 7 4 5 2 7 3 6 3 7 1 7 6 4 6 4 6 2 6 5-5 4-6-4M2301 1682l3-6 4-6 4-6-1-7-7 2-2 7-1 7-4-6 6-3 6 4 2 7 1 7 5 4 4-5 1-7-5-5 1-7-6-4-5-5 0-7M2327 1762l-1-7 4-6 5-4 4-6 2-7 0-7 6-3 7 2 6 3 6 4-1 7 2 6 1 7-1 7 4 6 7-1 4 5 4 6 3 6 1 7M1988 1879l-3-6-7 0-7 3-3 6 2 7 2 7 7 1 6-2 6-4 1-7 5-5 5-4 7-2 5-5 6-4 3-6-3-6-6-4 2-7 5-5M1947 1652l4-6 3-6 5-5 1-7 1-6 3-7-7-1-7 1-6 3-7-1-6-3 0-7-1-7-1-7-7 1-6 5-6 0-5-5-3-6-4-6M1717 1952l-1 7 4 5 2 7-2 7 3 6 6-4-5-6-6-2-7 0-7-1-4-5-7-3-4-5-7 0-7-3-6-2-5-5 4-6 6-3 7-1M2047 2196l-5 4-7 1-6 3-6 4-7 2-6 4-5 4-6-4-3-6-5-5-6-4-6-4-2-6 0-7-1-7-5-5 1-7 7-3 6 3 7 2M1737 2078l-4-6 1-7 5-5 0-7 4-6 5-5 4-5 6-4 5 5 4-6 6 3 7 0 6 5 7 0 6 2 6 5 6-3 6 4 2 6 7-1" fill="none" stroke="#a0a0a0" stroke-width="7" stroke-linecap="round" stroke-linejoin="round" transform="translate(-2,-2)"/><path d="M1762 1917l-6 2-7 1-6-4-7 2-7 2 3 6 7 2 6 2 3 7-4 6-7 2-7 0-6-4 1-7-5-5-4-5-6 2-6 5-7-1-7 1M2314 2089l7 0 6 4 7 1 7 0 7 0 6 3-4 6 2 6-4 6 2 7 5 4 3 7 4 5 4 7-1 6-5 6 2 7-2 6 0 7 1 7M2293 1911l4-5 7-2 1 7 6 4 3 6-6 3-7-1-3 7 0 7-7 0-5 4-3 7-7 1-7 1-7-2-5-5-2-7-5-5-4-6-6-2M1792 1894l-4-6 2-7 2-7-2-6-3-7-7-2-6-3-5-5-7-1-1 6-5 6 2 7-6 4-7 1-3-6 0-7 6 1 3 6 6 5 5 4M1782 1810l-7 2-7-1-6-4-5-5-4-6-1-6-1-7 0-7 4-7 3-6-5-4 2-7 4-5 0-7 5-5 5 4 6 5 0 7 5 5 6 3M1870 2206l-1 7-6 4-6 3-6 3-6-4-2-7-6-3-7-3-3-6-7-1-7-2-5-5-1-7-5-5-7-2-7 1-4-6-6-4-4-5-7-2M2180 1692l2-7 5-5 7-1 6-3-2-7-5-5-5 5-3 6 0 7 6 4 4 5 2 7-2 6 1 7 2 7 6 3 2 6 3 7-6 4-4 5M2195 2244l-7-2-5 6 4 6 5 4 4-5 2-7-6-2-7 0-2 7-5 5-4-5-2-7 2-7 5-5 4-5 6 2 7 1 5-5 7 1 7 3M2307 2186l2 6 3 7 0 7 1 7-6 4-6 3-5 6-7-1-6 2-7 3-6 2-7 2-6 4-6-2-7 2-6 4-5 5-7 2-7-1-5 4M1855 2196l-6-2-6 3 2 7-4 6-7 0-7 2-2 7-2 6 0 7 4 7-5 5-4 5-7-3-7 1-7 0-7-1-7 0-1-7 3-7 1-6M1960 1650l2-7 7-2 0-7-7-3-4-6-2-7-1-7 6-4 0-7 2-6 5-5 6-5-2-6-3-7-3-6-5-5-6-2-7-1-5 5 3 6M1829 1678l-3-7-4-5 0-7 2-7-5-4 0-7 7 1 7 3 6-2-1 7 1 7 3 6-3 7-5-5-5-6 0-7-1-7-5-5-2-6-3-7M1778 2242l-6 4-2 7-3 6 3 7-2 6-6 5 5 5 7 0 1 7 7 3 7 0 2-7-4-5-5-4-7-3-6 3-2 6-5 5-2 7-5 5M2028 1798l-2-6-5-6-5-5-1-7-5-4-6-3-3-7 3-6 2-7 3-6-2-7 2-7-3-7-6-3-7-1-5 4-6 5-7 0-3-6 1-7M2118 1865l7 0 6-3 7-2 7 0 4-6 7-1 4-5 1-7 7-2 6-2 7-2 7 0 7-1 6 3 4 6 3 6 7 3 7-1 6-4 2-7M2386 1853l6-3 7 1 7 3 6 2-4 5-2 7-1 7 4 6-5 5 0 7 4 6 0 7 3 7 3 6 2 7 3 6-4 6-7 2-4 5 2 7M1747 1887l-2 7-6 4-6 3-5 4-6 5-7-2-6 4-5 4-7-1-6-4 3-5 6-5 4-5-2-7-5-5-7-1-4-5-7-3-6-3-7-1M2251 1689l6-5 7 1 4-5-2-7-5-5-1-7-1-7-7-1-5-4-1-7-2-7-3-6-5-6 1-7-3-6-4-6-6-4-7 0-7-1-1 7M2199 1716l5-5 6 3 7-1 4 6 2 6-1 7-2 7 6 3 5 5 6 5 7 1 4 5 5 5-3 6-1 7-5 5 3 6 2 7 5 5 7 3M1955 2199l-4 6-3 6 1 7 7 0 2 7 5 5 5 5-6 4-2 7 4 5 6-2 7-2 6-3-2-7-6-4-5-4-6-2-6-5-3-6-2-7M2001 1909l-3 6-7-1-1-7 2-7 2-7 7-2 6 1 7-1 6 5-2 6 2 7 2 7 3 6-3 6-5-4-4-6-1-7-5-6-6 3-5 4M2219 2085l5-6-3-6-4-6-5-5-7 0-7 3-7-1-4-6 1-7 1-7 6-3 6-5 2-6 7-1 7-2 4-6 6 5 3 6 7 0 2 6M2266 2112l-6 3-5 5-2 7-1 7-2 6 4 6 1 7-2 7 3 6 1 7 5 5 6 4-2 7-7 0-6-3-5-5 0-7-6-5-7-1-1 7M2240 1851l7-1 3-7 4-6 5-5 4-5-4-7 2-6 1-7-3-7 0-7-4-6-7-3-6 1-6 4-5-5-7-1-5-5-7 1-5 4-4 6M2311 1769l-6-4-7 0-7 0-7 1-4 6-7-1-4-6-5-4-6-3 0-7-7-3-5-5-6-1-7-2-7 1-5 5-1 7-1 7-3 6-6 4M2299 1835l2-6 6-4 5-5 7-1 7 0 6 2 6-3 6-3 7 0 7-2 2-6-4-6 0-7 5-4 4-6 5-5 7 1 5 5 7-1 4 6M2394 1997l7 3 6-3 7-2 1 7 6 4 7 3 1 6-2 7-3 6-1 7-3 6 4 6 6 3 7 0 5-5 2-7 6-4 6 5 5 5 6 3M1854 2201l-6 4-2 7-6 3-7 1-7-1-7-2-3-7-2-6 3-7 0-7-6-3-3-7-7 0-5 4-3 7-7 3-4 5-4 6 6 5 6 3M2042 2130l-6 4-7 2-4 6 2 6 6 4 7 2 6 1 5 6-4 5-5 5-7 1-6-4-6 3-6 3-7 2-2 7-7 0-7-3-7-2-6-3M2069 1710l-4-5-4 6 2 6 5 6 6-4 6-3 3 7 6 3 7 1 7 3 7 0 6 3 6-4 6-3 6-3 6-4 7-1 7 0 7 1 3 7M2378 2047l2 6-5 5-7 1-7 1 0 7-2 6-3 7 3 7-3 6-3 6-7-1-5-4-6-5-6-4 0-7 7-1 6 4 6-3 0-7 7-1M1956 2004l-5-4-4-6-6-2-4-6 3-6 6-5 5 5 1 7 7 3 6-3 6 4 6 5 6 1 6 4 5 5 1 7-5 6-7-2-2-6-6-4M1870 1772l-6-4 1-7 6-3 7 2 7 1 6 3 2 7 3 6-7 0-7 3-7-2 2-6-6-4-7-3-6 3-5-5 2-7-4-6-6-4-6-3M2305 2135l-3 6-6 3-7 0-6-5-6-3-6-4-6-3-6-2-5 6-5 5-7-1-7 1-7 0-7 2-2 7-6 1-5-5-1-7 3-7-6-5M1949 2210l-5 5-6 4-6 3-7-1-7 1-5-4-1-7-1-6 5-5 7-1 7-2 4 6 6 4 7-3 5 4 7 3 7 0 3 6 2 7-1 7M2094 1732l3-6-4-6-2-7-1-7-6-3-6-3-7 1-6-4-7 2 4 6 7 2 5-3 0-7 7-2 6-4 6 3 6 5 7 1 7-1 6 2M1970 2091l1 7 1 7 1 6 3 7 7 2 4 5 5-5 3-6-3-6 1-6 0-7 7-2 6-3 6-2 4-6 2-7 0-7 0-7-5-5-3-6M2394 1898l-1-7-2-6-4-6 6-4 6-4 7-2 3-6 3-7-7 0-7 1-7 2-4 5-5 5-7 1-7 0-7-2-1-7-6-3-3-6-7 0M2301 1956l7-1 5-5-2-7-5-5-5-4-7 1-7-1-3-6-3-6-3-7-7-2-7 1 1 7 3 6-3 7-5 4-3 7-1 7 5 5 7 2M1775 2167l-1 7 6 2 2-6 3-7 5-5-3-6-4-6 0-7 3-6 7 0 7-1 4-5 6-4 7 0 2 6 7 3-1 6 3 7 1 7-1 7M1920 1914l4 6 1 7 1 7 5 4 7 0 4-6-7 0-7 0 3-6 2-7 6-3 3 6 6 5 3 6-1 7-6 2-6 3 0 7 5 5 7 0M2230 2069l-7-2-7-1-4-5-7-1-5-6 0-7-4-6-1-6-6-4-4-6-2-7 2-7-4-5-1-7-4-6 1-7 3-6 6-4 2-6 3 6M1841 2125l0 7-7 2-2 6 3 7 5 5 6 4 7-1 7 1 6 3 7 1 7-1 7 1 7 0 7-2 6 4 4 5 4-5 6-4 6-4 6 3M2386 1745l-3-6 2-7 3-6 7 2 6-3 7-2 2-6 0-7-7-1-7 2-7-1-7-1-5 5-7 1-6-1-7 1-5 5-7 2-6 2-7-2M1759 1752l-7 1-7-2-6-2-1-7 6-3 1-7-6-4-5-5 3-7 5-4 7 0 7 0 7 1 6 4 2 7-2 7 2 7 7 1-3 7-3 6M2359 1778l6-5 6 3 7 2 7-1 5-5-1-7-5-5-5-5-5-5-3-6 3-6 2-7 2-6 1-7-2-7-4-6-6-4-6 4 0 7 2 6M1932 2082l-7 1-5 5-7 1-5-5-7-1-6-4 2-7-3-6 1-7-7-1-3 6 1 7 6 4 6 2 6-4 6-3 7 0 7 0 6 4 5 5M1876 2241l-7 1-6-2-5-5-5-5 0-7 0-7 0-7-7-1-1-7-1-7-5-5-3-7 0-7-1-7 3-6 7 0 7 1 7-2 5 6 6 3M1979 1838l2-7 6-4 5-5-4-5-2-7-4-6-3-6-7 0-7-2-6 3 0 7 0 7-5 5-7 0-6-2-5-5-7-1-5-5-7 0-5-4M2189 1752l-6 3-5 5-7-2-3 6-7-2-7 4-3 6-6 3-7 1-4-6-6-3-5-4-1-7-6 3-4-6-3-6-6-3-6-5-6-2-5 5M1900 2007l5 4 7 0 7 1 7 2 6 3 4-6-4-6-7-2-7 0-7-1-3 6-4 6-5 5 5 5 7 2 2 7 6 4 5-5 3-6 2-7M2382 1900l6-4 6-1 7-2 7 2 6-4 5-4 5-5 1-7 4-6-5-6-6-3-6-3-5-5-7-3 3-7 1-7 1-6-6-4-7-2-6 3M2230 2042l7-3 4-5 4-6 5-5 6 4 4 6 4 5 1 7 5 5 6-3 3 7 6 4-6 5-7 1-5 5-5 4-4 6-6 3-4 6-4 5M2173 1736l7 2 5-5 6-3 7-2 0-7 0-7-5-5-2-7-5-5-7 1-4 6 3 6 2 7 5 4 1 7-7 2-6 3-6-3 0-7 1-7M1751 1743l-7 1-7-2-7 0-4 5-7-2-6 2-6 4-5 5-3-6 0-7 2-7-7-2 4-6 1-7 2-7 5-4 7 1 7 0 7 0 5-4M2166 2029l5 5 6 3 6 4 5 5 5 5 6 3 5 5 0 7 6 3 6 4 4 6 5 5 4 6 6 3 3 6 7 0 7 3 6 2 7 1 6 4M1832 2146l-4-6-3-6-7-1-4-6-1-7-6-3-3-7 1-6-2-7-6-5-5 5-6 4-1 7 6 3 7-3 0-7 3-6 7 0 7 0 7-2M1963 1677l7-1 7 1 6 4-5 5-7 2-7 2-3 6-6 3-5 5-4 6-1 6-6-3-6 2-7 1-7-2-2-7-6-4-7 2-2 6 0 7M2183 2074l-7 2-7 1-3 7-2 6-1 7-4 6-4 6-7 0-3 6-7 1-4-6-2-7-5-5 0-7 0-7 3-6 6-4 5-4-1-7-7-3M2052 1700l-3-6-6-4-7-1-6 3-6 3-5 5-7 0-6-4-3-6 0-7 1-7 3-6-2-7 0-7-5-5-6-4-7 2-7-2-6 3-5 5M2140 1733l6-4 6-3 7-3-2-7 6-4 7 0 5-4 6-4 6-4 1-7-1-7 1-7 5-4 7 1 7 0 4-5 6-5 6-2 7 1 4 6M1886 2159l-7 3 0 7-6 4 1 7-4 6-3 6-6 2-7-3-7-2-6 3-5 5-6 3-7 1-7 0-7-2-7 1-7 1-5 5 4 6 6 4M2021 2237l-4-6-5-5-3-6 0-7-1-7-1-7 7 2 6 4 6 3 6 4 7-2 7-1 6 2 7 0 6-4 3-6 7 2 6 4 6 4 6 3M1873 1886l6-3 3-6-3-7-5-4 2-7 0-7 4-6-5-5-6-2-6-4-7 2-4 5-6 5-5 4-5 5-6 3-7 3-6 2-7 1-5-5M1825 1686l1 6 1 7 0 7 1 7 1 7 5 5 6 2 7 0 7 2 6-3 7-3 2-6-1-7 0-7-1-7-5-5-7 0-7-1-7 2 0 7M2009 1806l-7-2-4-6-3-7-3-6-1-7-5-4-7-2-6 3-5 5 0 7 3 7 6 4 2 6-2 7 4 6-2 6 1 7 0 7 5 5 1 7M1810 2223l-7-2-5-5-6-3 0-7-1-7-5-5-7 1-3 6 1 7 5 5 1 7 3 6 5 5 1 7 3 6 5 5 6 4 5-5 2-6-3-6M2215 2022l4 6 7 2 2 7-1 7 4 6 2 6 2 7 4 6-2 7-3 6-4 6-6 3 3 7 5 5 3 6-1 7-3 6-6 4 2 7-4 6M2084 2075l-3 6-4 7-6 3 1 7-4 6 1 7 4 6 7 1 7 0 5-5-2-7-5-5-2-6 3-6 7-1 7-3 0-7-2-6-5-6-3-6M1777 1739l1-6-2-7-4-6 6-3 3-6 4-6 7 3 4-6 5-4 3-7-5-5-3-6 4-6 7 1 6 3 7-2-3-7-1-6-2-7 1-7M2046 2082l-4 6-6 1-7-1-6-5 3-6 3-6 7 1 7-1-1-7 6 4 7 3 7 0 6-3-2-6-1-7 1-7 0-7 7 0 7 2 6 4M1724 2109l-7-1-7 0-5 4-7 3-6-3-7 0-7 0-5 4-2 7-5 5-4 5-7 3-6-2-4-6-4-6-6-1-7 3-6 4-7 0-5 4M1900 2179l-6 4-6 1-6 5-3 6-6 4 1 7-1 7 5 5 2 7-3 6-6 3-7 1-6 4-5-5-4-5-5-5-4-5-5-6 0-7 6-3M1743 2046l4-6 0-7 4-5 2-7-1-7-5 5-6 2-3 6-4 7 1 7 1 7 1 7-3 6-3 6-1 7-3 6 7 2 5 5 4 6 6 3M2259 1895l4 6-1 7-7 1-5 5-5 5-4 6 0 7-6 3-6 4 7 3 7 0 6-1 4 6 6 3 5 6-4 6-6 4-5 4-6 3-7-1M2262 2218l0 7 7-1 7-2 5-4 7 0 7-1 5-5 6-4 6-3 3-6 4-6-6 3 0 7 2 7 1 6-5 5-6-4-7-1-6-2-6-4M2319 2098l7 0 6 3 3-6 2-7 3-6 2-7 6-4 6-3 0-7 5-6 1-7 3-6 4-6-3-6 4-6 4-6 1-7-3-6-1-7 2-7M2281 1964l6-4 7 0 4-5 3-7 1-7-2-6 1-7 3-6 7-3 6-3 6-4 5-5-1-7-4-6-6-3-4 6-7 1-7-1-7 1-3 7M2349 1684l7 1 7-2 5-5 5-5 6-3 2-7 2-6-4-6 0-7-4-5-7-1-6-5-6-3-5-5-5 5-7 2-3 6 7 1 6 3 3 6M1782 2037l3-7-2-6 3-6-3-7-1-7 3-6-3-6-5-5-3-6-4-6 2-7 2-6 6-5 3-6 6-3 7 0-2-7 5-4 1-7 6-4M2226 2087l3 7 6 4 4 6 0 7 1 7-3 6 1 7 3 6 6 2 7-1 5-5 7-1 7-2 7-2 6-3 2-7 6-3 7-3 7-1 6 3M1762 1711l6-4 6-4 6-3-1-7 6-3 7 0 7 0 6-3 6-5 7 0 6 2 7 4 7-1 5-4 6-4 7-2 5-4 3-6-4-6 2-6M1732 1946l-6 2-1 7-3 7 2 6 2 7-3 6-3 6-4 6-3 7-4 5-2 7-1 7-2 6 0 7-3 7 1 7 0 7 2 7 4 5 7 0M1779 1800l-4-6 1-7 1-7 1-7 7 0 2 6 7 3 6 3 7 3 5-4 5 6 0 7 2 6-2 7-1 7 5-5 6-3 7 1 7 1 7 3M2352 2240l7 0 6 4 7 2 7 1 6 3 4 6 6 3 3 6 7 2 6 3 7 0 7-2 7 0 7-1 6 3 1 7-7-1-4 6 4 6-5 5M1807 1969l-4-6-6-3-6-4-6-1-7 0-7 0-7-3-7 0-6 4-1 7 0 7 6 2 3-6-6-3-3-6-2-7 3-6-5-4-7-2-6 4M1898 1954l-2-7 4-6 7-2 4-5 5-5-3-7 3-6-2-7 5-5 3-7 6-3 1-7 0-7 4-6 3-6 4-6 7-2 7-3 3-6 5-5M1797 1784l6 1 7-1 7-3-1 7 0 7 0 7-6 4 1 7 4 5 6 3 1 7 6 4 2-7 7 0 5 4 7 0 5 5 2 7 3 7 5-4M2163 1746l2-6-1-7-3-6-7-1-6 4-7 0-6 3 2 6 6-4 7-1 5 5 7-2 7-3 5-5-4-6 0-7-7 0-4 6-5 5 1 7M1770 1881l-2 6-1 7 5 5 2 6 0 7-3 7 4 6 1 7-6 4 4 6-7-1-6-5-6-1 0 7 1 7 4 6 5 4 4 6 5 5-5 5M2151 2049l5-5 7-1 7 3 4-5 5-5 5-5 7-1 6-3 4-6 7-2 4-6-5-4-7 1-7-3-7 0-6 3 5 6 0 7 7 1 7-1M1914 2255l-2 6-7 0-7 3-3-6-4-6-6-2-7 3-2-7 0-7-4-6-1-7 3-7 2-6-2-7-1-7-5-5-6-4 0-7 3-6 2-7M2115 1884l-3 6-3 7 1 7 0 7 4 6-6 4-6-4-7 2-6 4-6-4 0-7 0-7-4-5-7 0 1-7-4-6-3-6-4-6-6-2-5-5M2140 1650l-1-7-7-1-7-2-6-3-3-6 4-6 7-1 6-2 7-1 3 6 6 4 2 7 1 7 6 3 6-4 2-7 4-6 3-6 0-7 1-7M2395 1705l6-4 4-6-2-6-3-7 0-7 7 1 5 5 7 2 6-2 6-4 6-4-2-7 1-7-5-5-5-5 0-7-2-6 1-7 5-5 6-4M1790 2174l-5 5-6 3-1 7-2 7 0 6-7 4-7-1-7 0-7 0-3 6 0 7 7 1 7 2 6-3-2-6-2-7 0-7-4-6-7 0-6-3M2193 2252l5 5 7 1 0 7-6 4-6 4-7 0-1 7-6 5-6-2 0-7 6-4 7-1 4-5 5-5 5-5 6-4 5-5 7-1-3-6-3-6M2055 2194l-5 5 1 7-6 3-7 0-5 5-6 3-2 7-3 6-5 5 1 7-5 5-3 6 1 7 0 7 4 5 7 2 4 6-4 6-6-1-7-3M2078 1861l-2-6-4-6-6-3-6-4-2-7 4-6 6-3 7 2 7-1 6-3 7-2 5-4 5-6 4-6 6 4 5 4-3 7-6 3 0 7 2 7M1816 1708l-6 4-7 2 5 6 1 6 5 5-1 7 3 6 3 7 1 7 5 4 7 1 6-3 7-2 6-3 2-7-5-4-7-1-7-2-6-4-5-4M2157 1961l6 4 7 1-2 7 5 6 1 6-2 7-4 6 3 6 4 5 5 5 4 6 6 3 6 4 7 3 6 2 7 3 5 5 4 5 0 7-3 7M2038 1866l6-4 1-7-3-6 0-7-2-7-5-5 6-5 7 2 7 2 7 0 3 6-1 7 2 6 7 2 7 3 6 2 1 7 1 7-1 7-6 4M2211 1939l-5 5-5 5-3 6-4 6-7 0-6-2-6-4-7 0-7 0-7 2-7 1-6 4 0 7 2 6 5 6 7 1 7 0 2 6 3 7 2 6M2153 1764l3-7-5-5-3-6-4-6-6 2-7 1-7 2-6-3-5-5-6-4-4 6-4 5 1 7-5 5-6 4-4 5-6 4-5-5 2-7 0-7M1767 2017l-6 3-7-2-7 0-1-6-1-7-1-7 2-7-1-7 3-6 3-6 2-7 5-5 6 2 7-2-2 7 2 7-3 6-4 6-4 5-7 3M2376 2003l7-2 5 6 6-4 6-3 5 5 5-6 1-7 0-7-3-6-7-2-7 2-1 7-1 7 6 5 6 2 7 1 7-3 7-2 7 2 6-2M1719 1730l-7 0-6-4-6-2-2-7-3-7-5-4-6-4-6-3-1-7-2-7 1-7-4-6 0-7-6-3-6-3-7 3-6 3-7 2-6 3-7 0M2296 2187l7 2 7 2 6-2 2-7 3-6 7 0 7-1 7 0 6-3 4 5 2 7-4 6-4 6-4 6-7-2-4-6-7-1-7-1 0-7 4-6M2146 1946l-7 0-7-2-5-4-6-4-3-7-6 2-7-2-7 0-5 6-2 6-7 0-6 2-5 5 1 7 7 3 6-1 6-5 3-6 3-6 2-7M2177 1985l-7 1-5 5-7 0-7-1-5-5-5-5-1-7-3-6 6-4 6-4 5-5 3 6 7 0 6-3 6 3 0 7-6 3-4 6-7-1-3-6M2319 2083l7 1 5 4 6 4 7 3 7 1 3 6 7-2 4 6-2 6-3 7-2 7 5 4 3 7-5 5-6 3-6 4-7-1-7 0-7 0-5 5M1805 1846l-3 7 5 5-4 6-6 4-7 2-7 0-7-1-6-3-5-4 6-3 3-7 3-6 3-6-1-7-2-7 7-1 7-2 7-2 1-6 0-7M2069 1840l-6 3-7-2-5-4-1-7-2-7-5-5-7 4-6 1-2 7 4 6 3 6 7 0 6-3 6 3 5-6 2-6 6-4 1-7 1-7 0-7M1953 1823l-6-3-7 1-1 7-7 0-3-6-6-4-7-2-6 4-4 5-7 3-6 4-1 7 3 6 6 3 5 5 6 4 2 7 7 3 5 5-2 6M2127 2240l2 7-1 7 0 7-4 6-5 5-4 5-5 6-5 4-6-3-4-5-7-2-6-4 4-6 7-2 6-4 7-1 7 1 2-7 6-3 6-4M2183 2085l-4 6-7-1-6-3-5-5-5-5-3-6-5-5-7-1-7-1-6-3 2-6 3-6 7-2 7-1 7-1 5 5 5 6 3 6 7 0 7-1M1933 2048l-3-7 6-4 3-6 5-6 5-4 7 2 6-3 2-7-2-7-7-1-4-6-6-4-1-7-2-6-7-3-6-3-5-5 3-6 5-5 0-7M1741 1929l-5 6 1 7-3 6-6 3-7-1-3 6-6 4-7 0-4 5 2 7 0 7-2 7 3 6 4 6 5 5 5 5 0 7 6 4 7-1 7-1M2073 2150l3 6 0 7-6-2-7 0-7-2-7 1-7-2-7 0-7 2-6-2-7 1-7 1-6-4-7-1-5-5 5-5 1-7-3-6-7-2-7-1M2103 1665l6-3 7-3 7-2 7 1 6 3 0 7 0 7-6 3-7 1-6 4-3 7 5 5 4 5 4 6 2 7 3 6 4 6 5 5 1 7 6 3M1750 1760l-4-6-5-4 4-6-6-5-6-3-4-5 1-7 3-7 3-6 2-7 5-5 7 3 6 3 7-1 7-1 4-6 6-3 7 3 7 0 5-5M1991 2208l-5 6-7-2-4-5 0-7-7-1-6 4-6 3-6-2-7-3-6-2-7-2-7 1-7 1-6-4-6 2-7 3-3 6 0 7 7 2 6-4M1946 2143l-4 6-2 7-7 0-4 6-1 7-4 6-7 1-4-5-1-7-5-6-6-2 2-7 7 1 6 3 7-1 7 0 5 5 7 0 2-6-4-6M1985 1690l-4-5-4-6-7-2-4-5-4-6 1-7 3-6 6-5 7 1 7 0 7 1 5 4 7-3 5-5 6-4 7 1 4-6 6 4-4 6-6 4M2161 2263l7 1 7 2 7 0 6 2 7 2-3-6 0-7 5-5 1-7-1-6-1-7-7-2-4-5-2-7 3-6 6-5 7-1-1-7-7 3-6-4M2233 1724l7-3 3-6 4-6 5-5 5-5 6-4-1-7-2-6 4-6 7-3 5-4 3-7 3-6 4-6 6-4 6 4 7 2 6 1 2 7-1 7M2376 2007l2 6 0 7 7 4 6 2 7 3 7 0 2-7 0-7-6-4 0-7-2-7-3-6-1-7 6-4 7-1 6 3 4 6 7-1 7-1 3-6M2139 1655l6 4 6-1 7 1 6-4 2-6 5-6 7 3 1 7 1 7-4 5-5 5 2 7 4 5 4 6 3 6 6 4 3 7 6-4 7 3 6 4M1838 1724l-5-5-7-1-7 0 2 6 4 6 4 6 2-7-4-6-3-6-6-4-7 1-6 2-1 7 7 3 5 5 5 5-2 7 0 7 1 6 5 6M2049 2257l-5-4-6-4-6-4-7 1-6-2-7-2-6-4 6-3 6 3 6 4 0 7 2 6 5 5 5 5 5 5 4 5 3 7 7 1 5-4 2-7M1758 2126l-6 4-7 0-7-1-2-7-4-6-6-3-5-5 2-7 0-7 1-7 3-6 3-7 2-7 6-3 7-2 5-5 6 3 5 5 4-6 7 2M2336 2250l6 3 6 3 7 1 3 6 3 7 6-2 6-5 5-5 5-4 2-7 5-5 7 2 5-4 4-6 7-2 7-2 5-4 1-7 3-6 5-6M2292 1818l2-7 6-2 4 6 6 4 6 2 6 5 7 0 5 5 1 7-7 1-2-7-5-5-6-2 1-7 0-7-4-6-1-7-3-6 3-6 6-2M2210 2066l-6 3-6-4-6 4-7 0-4 5 3 7 3 6 3 6 5 5 5-4-1-7-4-6-7 0-2-7-6-2-4-6-4 6-4 6-2 7 0 7M2168 2048l3-6 5-5 2-7 0-7 0-7-1-7-2-6-7-2 0-7 2-6-3-7-6-3-7-2-7 0-7 2-4 6-5 4-4-6-7-2 6-5M1943 1771l-7-2-5-5-7 3-6 3-2 7-1 7 3 7 6 3 7 2 7 0 5-3 7 2 6 3 3 6-5 6-5 4-1 7 1 7 3 6-1 7M1887 2082l4-6 7-1 0 7 1 7 3 6 0 7-2 6-3 7-1 7 4 5 7-3-3-6-6-4-5-4-5-5-6-4-6 1-6-4-6-3-7 0M2232 2033l7 2 6 3 5 6 1 7 5 4 5 5 4 6 2 6-5 6 2 7-6 3-6-1-7 1-7 1-4 6-5 5-7 0-6-2-7-3-6-3M1875 1881l-6-4-6-2-6-4 0-7-4-6-7 0-4 5-7 1-5 6-1 6-6 4-6-5-4-5-5-6-6-1-4-6-5-6-1-7-6-4-7-1M1766 1953l-6 1-1 7-1 7 2 7 3 6-2 7-6 3-2 7-4 5-4 7-4 5-3 6 3 7 5 4 7-3 0 7 6 3 0 7-7 0-4-6M2190 1997l6-4 6-4 1 7 1 7-2 6-6 4-7 1-7 2-4 5-1 7 0 7-4 5-7-1-7 1 5 5 5 4 1 7-7 2-6-4-4-6M2112 1736l-3-6 0-7-7 2-7 0-6 4-4 5-6 4-6-4-6 4 4 6 7 0 2 7 5 5 6-4 1-7 4-6-6-3-6-3-3-7-7 3M2118 1687l1-7 3-6 4-6 3-6 4-6 6-4 6 4 5 4 2 7 3 6 7 2 7 2 6 3 7 0 1 7-1 7-2 7-3 6-3 6-6 4M1768 1922l-3-7-5-4-7-1-6 3-1 7-6 4-2 7-6 3-5 5-7-2-2-7-1-7-1-7-4-6-6-3-7-2-4-5-4-6 7-1 2-7M1781 1906l-5 5-7-1-6-4-5-5 3-6 2-7-7 0-7 2-5 5-3 6-6 5 4 6-1 7 1 7 6 3 4-6 0-7 6-3 1-7-1-7M1879 2016l-6-3 4-6 5-4 3 6 0 7 2 7 7 1 2 6 3 7 4 5 4 6 7 1 4 6-1 7-1 7-7 3-6 4-6 2-7 2-2 7M2275 1943l-1-7 1-7 4-5 5-6 5-5-2-7 3-6 4 5 5 5-3 7 5 5-1 7-5 5-5 5-4 6-1 7 4 6 4 6 3 6 6 4M2098 2188l-2-6-3-7-5-5-4-6-1-7-6-3-6-4 5-5 1-7 1-7-2-6-7-1-6 4-5 5-7 1-6 2-5 5 3 6 4 5 3 7M1922 1921l-7-1-7-2-7 0-5-4-5-5-7-2-7-2-1-7-2-6 6-4 7-2 5-4 6-4 2-7-3-6 1-7-6-4-6 2-6-4-3-6M1819 2079l-6 3-6 3-7 0-7-1-7 3-4 6-7-2-3-6-7-3-5-4-5-5-2-7 2-6 6-4 5-5 7 1 7-3 4-5 6-5 1-7M1793 1957l-6 4-7-1-6 2-7 2-3 6-4 6-5-5-7 1-4 6-7-3-6-2-7 0-7 2-3 6-1 7 3 6 3 7-2 6-3 7 4 5M2181 2261l-2 6-7 1-7 0-4-6-1-7-6-2-6-3-7-1-7 3-3 6 2 7 1 6 1 7-2 7 6 3 7 1 5-5 6-2 7-2 7 1M1731 2138l-7 3-4 6-5 5-2 6 1 7 1 7 0 7-5 5-7 3-7-1-7 2-5-5-2-7-2-6-6-2 0-7-3-7-2-6-2-7-3-7M2237 1856l6-4 6-3 0-7 4-6 6-4 5-4 4-6 6-3 3-7 0-7-4-6 2-6 7-1 5 4 7 4 5 4 5 5 7 0 5-5 7 0M2030 2105l5 5 2 7 0 7 0 7 4 6 6 2 6 5 6 3 7 0 7-3 6-1 7-3-3-6-5-5-6 3-4-6-7 1-6 4 3 6-1 7M1975 2080l-2 7-6 3-6 4-1 7-2 6 7 3 5-5 7 1 3 6 2 7-5 5 1 7 2 7 7 1 6 3 7 3 3 6 5 5 3 6 6 4M1787 2220l-7 1-2 7-1 7 0 7-3 6-7 1-4 5 0 7-1 7 1 7 2 7 2 6-3 7 4 6 2 7 0 7 5 5 5 5 0 7-3 6M2074 2127l-7 0-5-5 1-7 6-2 7-2 6 4 4 6-7 2-7 2-7 1-6-2-7-1-5 5-6 3-4-6-7-2-7 0-6-4 3-6 6-4M2087 2207l-5-5 1-7 5-4 3-6 1-7-1-7-5-5 6-4 6-2 2-7 7-2 5-5 1-7-1-7-2-6-5-6 0-7 0-7 1-6 1-7M1831 2168l-3 6-7 0-7 0-4 6-4 5-1 7 1 7-1 7 4 6 7 1 7-1 7 1 5-4 7-3 6 2 7-2 7-2 5-5 7-2 0-7M1927 1820l1-7 0-7-3-6-6-4-7-1-7-1-7 2-7 0-7 1-7 0 0 7 5 5 4 6-6 4-6 4-7-1-6 3-7 1-7-2-5-4M1740 1891l0-7-7-2 1-7 6-5 4-5-2-7 7 2 6 4 3 6 0 7-6 4-7 0-6-2-7-3 2-7 7-1 5-5 7-2 7 3 6 3M1832 2159l-7 2-7-2-4-6-2-6 0-7-4-5-5 5-7 0-7 2-6-4-1-7-7-2-7 1-5 5-5-4-6 4 2 7 7-1 3-7 3-6M1750 2202l-6 3-4 6 5 5 5 4 7 0 6-4 4-6-2-6 7-2 0-7-1-7 6-5 4-5 3-6 5-6 2-6 0-7 2-7 4-6-5-5M2366 1865l3-6 2-7 1-7 7 0 5-5 6 4 6-4 6 4 2 6 0 7-4 6-5 5-7 0-5-5 0-7 6-3 6-4 6-4 6-3 4-7M2077 2191l7 2 7 2 4 5 7 2 6 4 7 0 2-7 7 0 7 0 5-4 7 0 3-6 0-7-2-7-6-3-1-7 3-6-4-6-5-4 2-7M2330 2110l7 0 5 6 6 4 7 0 6 2 7 2 7 1 0-7 1-7-3-6-2-7-3-6-6-4-7 0-6-4 1-7 3-7-6-4-7-1-6 3M2360 2077l-7-1-5 4-3 6-4 6-7 0-7 3-2-7-7-2-7 1-6 3 1 7 4 6 2 7-3 6-4 6-4 5-5 5 1 7 7 1 4 6M2039 2164l-6 3-3 6-6-3-7-1 0-7 1-7 1-7-2-7-6-3-6-4-1-7-1-7-4-6-3-6 2-7-3-6-7 3-3 6-7 2-7 1M2037 1795l-5-4-1-7 4-5 4-6 4-6 6 2 6-5 6-2 7 2 7-1 3 7 2 6 0 7 5 5 6 3 7 1 5 6 1 7-4 5-4 6M1925 2205l-5 5-7 0-2 6-5 5-7 0-6-4-7 0-7 3-6 3-7 0-6-4-6-1-7-2 1 7-6 5-4 6 2 7 2 6 6 4 5 5M2312 1949l-1 7-2 7-6 3-7 1-5 4-7 1-6 5-7 0-6 1-7 1-7 3 1 7-2 7 3 6 2 7 4 6 2 6 5 5 3 7 1 7M1965 2070l0 7-1 7-3 6 1 7 3 7-7 2-7 0-6 4-7 2-7-1-5 5-7 0-6 2-7 1-6-4-4-5-4-6-6-4-7 1-3 7M1858 2101l-7 3-6-4-6-2-4 6-7 1 0 7-1 7 6 3 7 2 4 6 4 6-6 4-7-1-4 6-3 6-6 4 0-7-1-7-6-3-3-7M1750 1804l6-3 7-1 3-6 2-7 4-6-3-6-7-3-2-7 1-7-1-7-3-6 3-6 6-3 7 1 7 2 6 3 0 7 7-1 6-3 7 3M2080 2267l-7-1-7 2-4 6-4 5-7 1-5 5 3 6 6 4 5 5 4 5 4 5 2 7 3 7 0 7 3 6 5 5-5 5-5-5-1-7-3-7M2058 1686l3-6 3-7-5-4-6-3-3-7-6-3-2-7 6-4 3-6 7-3 5-4 7-2 7-2 4 5 5 6-6 3-5 5-7 1-6 4-7 2M2184 1883l5-4 2-7 4-5-2-7-7-2-7-2 0-6 5-5 6-3 2-7-2-7-7-2-5-4-7-3-6 4-6-2-6-3-7 0-7 2-7 1M1955 1708l7-1 4-6 7 2 4 5 3 7-4 6-5 5-6 3-7-2-6-1-7 0-5-5 0-7 4-6 4-6 6-3 7-2 7 1 6 3 7 0M2135 2042l6 5 2 7 2 6 1 7 0 7 2 7-1 7-1 7-5 4 5 5 5-6 6 3 6-2 7 1 7 0 7 0 6-4 7-1 6 4 5 5M2061 1687l6-3 7 3 5 5 6 4 6 3 7 0 7 0 2 7 2 6 5 5 6 5 6 3 5 6 6 1 7 3 7-1 6-3 7 0 5-5 6-4M2072 2259l-3 6 3 7-6 4-5 5 5 5 3 6 4 6 2 7 3 6 7 1 6 3 7-1 7-2 6 3 1-7-2-7-4-6-6-4-4-5 3-6M1750 1998l-3 7 2 6-1 7-1 7-1 7-1 7 3 6-2 7-1 7 4 5 2 7 3 6 3 7 1 7 6 4 6 4 6 2 6 5-5 4-6-4M2301 1682l3-6 4-6 4-6-1-7-7 2-2 7-1 7-4-6 6-3 6 4 2 7 1 7 5 4 4-5 1-7-5-5 1-7-6-4-5-5 0-7M2327 1762l-1-7 4-6 5-4 4-6 2-7 0-7 6-3 7 2 6 3 6 4-1 7 2 6 1 7-1 7 4 6 7-1 4 5 4 6 3 6 1 7M1988 1879l-3-6-7 0-7 3-3 6 2 7 2 7 7 1 6-2 6-4 1-7 5-5 5-4 7-2 5-5 6-4 3-6-3-6-6-4 2-7 5-5M1947 1652l4-6 3-6 5-5 1-7 1-6 3-7-7-1-7 1-6 3-7-1-6-3 0-7-1-7-1-7-7 1-6 5-6 0-5-5-3-6-4-6M1717 1952l-1 7 4 5 2 7-2 7 3 6 6-4-5-6-6-2-7 0-7-1-4-5-7-3-4-5-7 0-7-3-6-2-5-5 4-6 6-3 7-1M2047 2196l-5 4-7 1-6 3-6 4-7 2-6 4-5 4-6-4-3-6-5-5-6-4-6-4-2-6 0-7-1-7-5-5 1-7 7-3 6 3 7 2M1737 2078l-4-6 1-7 5-5 0-7 4-6 5-5 4-5 6-4 5 5 4-6 6 3 7 0 6 5 7 0 6 2 6 5 6-3 6 4 2 6 7-1" fill="none" stroke="#6e6e6e" stroke-width="6" stroke-linecap="round" stroke-linejoin="round"/></g><ellipse cx="2055" cy="1995" rx="95" ry="88" fill="#7c7c7c" opacity="0.75" filter="url(#soft)"/><ellipse cx="2045" cy="1961" rx="9" ry="10" fill="#1c1c1c"/><ellipse cx="2031" cy="1981" rx="8" ry="8" fill="#202020"/><ellipse cx="2060" cy="1972" rx="7" ry="9" fill="#383838"/><ellipse cx="2079" cy="1978" rx="9" ry="9" fill="#262626"/><ellipse cx="2094" cy="1966" rx="8" ry="15" fill="#f2f2f2"/><ellipse cx="2085" cy="1945" rx="11" ry="3.5" fill="#e8e8e8"/></svg><line x1="1975" y1="1933" x2="2001.9" y2="1953.5" stroke="#fff" stroke-width="5"/><polygon points="2013,1962 1996.4,1960.7 2007.3,1946.4" fill="#fff"/><line x1="1999" y1="1915" x2="2025.0" y2="1935.4" stroke="#fff" stroke-width="5"/><polygon points="2036,1944 2019.4,1942.4 2030.5,1928.3" fill="#fff"/><line x1="2029" y1="1905" x2="2054.1" y2="1925.2" stroke="#fff" stroke-width="5"/><polygon points="2065,1934 2048.5,1932.2 2059.7,1918.2" fill="#fff"/><line x1="2140" y1="2015" x2="2118.2" y2="1998.5" stroke="#fff" stroke-width="5"/><polygon points="2107,1990 2123.6,1991.3 2112.7,2005.6" fill="#fff"/><rect x="1752" y="2174" width="167" height="18" fill="#e0e0e0"/><text x="1768" y="2234" font-family="'Liberation Sans', Arial, sans-serif" font-size="44" font-weight="normal" fill="#f4f4f4" textLength="134" lengthAdjust="spacingAndGlyphs">200 nm</text><text x="1761" y="1726" font-family="'Liberation Sans', Arial, sans-serif" font-size="64" font-weight="bold" fill="#fff" textLength="101" lengthAdjust="spacingAndGlyphs">c.iii</text>
<svg x="155" y="3410" width="858" height="849" viewBox="155 3410 858 849" overflow="hidden"><rect x="155" y="3410" width="858" height="849" fill="#5a6893"/><rect x="155" y="3410" width="858" height="849" filter="url(#speck)" opacity="0.22"/><ellipse cx="662" cy="3652" rx="100" ry="94" fill="#4a1240" opacity="0.5"/><ellipse cx="792" cy="3940" rx="88" ry="80" fill="#4a1240" opacity="0.5"/><g><path d="M669 3630l0 4 1 5 4 3 4 3 4 2 5 1 5-2 3-4 3-4 3-4 4-3 4-3 5-2 2-4 3-4 2-5 1-5 2-4 3-4-1-5 0-5 2-5 3-4 4-3 1-4 0-5-2 4-5 1 1 5 1 5 5 1 4 2 5 2 5-1 5 1 5 1-5-1-4-3-4-3-5 0-3-4 3-4 5 0-4-3-5-2-2-4-4 3-5 0-5 0-2 4 4 4-2 5-4 2-5 2-5-1-4-2-4-3-4-3 2-4 2-5 2-5 0-5-4-3-3-4-1-5-5 0-4-3 3 4 4 4 5 0 3 3 3 4 3 4 5 0 5 1 5 0 1 5-3 4-4 3-5 0 0 5-2 5-3 4-4 3-5 2-3 4-4 3-4 3-5 0-5 1-3 4-3 4-5-1-5 0-5 3-2 4-2 5-5 0-4-4-1-5-2-4 1-5-1-5-1-5-2-5-3-4 0-5-1-5 4-2 5 0M614 3647l4-3 4 4 5 1 3 4 5-2 5-1 5 0 4-3 5-1 3-4 4-4 4 3 1 4 5 2 5-1 2 5 1 5 5-2 5-2-5 0-3 3-4 4-4 2-1 5 2 5 2 4 0 5 3 5 2 4 5 1 5 1 5-3 4 2 3 4 2 5-1 5-1 4 1 5-4 4-1 5 3 4 4 3 4 3 4 3 4 3 5-1 2-5-2-4-2-5 0-5 1-5 0-5-4-3-3-3-3-4-4-4-3-4-4-2-5 1-5 1-5-1-5 1-5 1-4 2 2 4-3 5-4 3-2 4-3 4-4 4-3 4-3 4-4 3 2 5-1 5 4 2 5-1 1-5-2-4-4-4-1-5 2-5 3-3 4-3 4-4 1-4-2-5-1-4-2-5-4-4-4-1-5-2-3 4 1 5 4 3 1 5 3 4 3 4 4 3 5 1 1-5-4-2-5 0-3-5-5-2-1-5 0-5 3-4 4-3 2-5M652 3662l5 2 4-3 1-5 0-5 0-5 2-5 4-2 4-4 3-4 0-5 1-5 1-5 0-5 3-3-1-5-1-5-4-4-4 3-5 0-2 5-4 4 0 5 5 0 5 2 3 4 4 2 3 4 5 3 4 2 5 1 3-4-2-5-5 0-4-2-5-3-4-2-3-3-2-5 2-4 2-5-4-4-5 0-5 0-4-1-3 5-3 3-5 1-5-2-5-1-3-3 2-5 4-2 5-2 4 4 2 4 0 5-4 3-5 2-1 5-2 5-3 4-5 0-1-5 1-5-3-3-3-4-4-4-3-4 2-5 2-4 0-5 1-5-5-2-5 0-4 4-3 3 2 5 4 2 0 5 0 5 4 4 4 1 4 4-2 5-3 4 0 5-1 5-1 5 1 5 1 5-1 5-4 2-4 4 0 5-1 5-4 3-1 4-3 5 0 5-1 5 0 4-2 5 1 5 1 5-1 5 5 1 5 1 4-2 1-4 2-5M669 3702l3 5 3 4 2 4 5 1 4 3 5 0 5 2 4 3 4 2 2-4 2-5 4-2 5-2 3-3 4-4 4 2 4 3 2 5 4 2 5 1 4 4-5-2-4-2-5-3-4-2-3-4-2-5-2-4-4-4-4-2-4-3-5-1 1-5 2-5 1-5 4-3 3-4 4-2 5 0 5 2 5 1 4 2 2-5 5 0 4-4 4-2 5-3 1-4-4-2-5-2-5-1-5-1-3-3-5 0-5-2-4-2-4-3-5 3 3 4 5 0 5 1 5-1 2-4 3-4 2-5 1-5-2-4-5-1-3-5 2-4 5 0 5 1 4-3 4-2 5-2-1-5-4-3-5 1-4 3-5-1-4-3 0-5 0-5 3-4 4-4 4-2 5 0 4 2 2 5-3 4-5 2-1 5 2 4 4 3 4 4 5 0 5-2-5-1-5-1-5 1-4 3-3 5-3 3-5 1-3-4-1-5-4-3-2-5-3-4-3-4M693 3642l4 2 4 4 4 3-2 5-2 5-2 4 0 5 1 5-4 2-4 2-3-4-2-5-4-3-5 0-4-1-5 2-5-1-4 2 4 4 2 4 0 5 5 2 5 1 1 5 1 5-3 4-5 1-5 1-4-3-4-3-4-3-4 2-5 0-5-1-5-1-5 0-5 3-5 0-5-1-1-4-5-1-5 2-4 2-4 4-1 4 2 5-1 5 3 4 5 0 1-5 0-5 0-5-1-5-4-3-5-1-5-1-3-4-5 3-4-3 3-4 4-3 5 0 4-1 5-3 2-4 3-4 4-4 3-4 1-5-2-4-1-5 1-5 2-5-5-1-4-3-3 4-1 5 2 4 0 5 0 5 0 5-3 3-2 5 1 5 3 4-3 3-4 4-4 2-5 2-4 2-4 3-2 5-4 3 1 5 0 5 1 5 1-5 0-5 1-5 1-5-3-4 0-5 0-5-2-5-1-5-5-3-2-4-5-1-3 4-3 4M697 3687l3 4 4 4 0 5 2 5 3 3 5 1 5 0 5-2 5-1 3-4-2-5-5 0-4 2-1 5 3 4 2 5 0 5 1 4-1 5-2 5-1 5-1 4-5 3-5 1-4-3 2-5 4-3 5-2 5 1 4 2 1 5-2-4-1-5-1-5-1-5 0-5 5-1 4-2 5 2 5-1 2-4 0-5 1-5-1-5-2-5 0-5 0-5 3-4 4-3 5-1 5 2 5-1 4-2 4-4 1-5-1-4 2-5 5-1-3-4 4-4-5 2-5 2-5 0-5-1-3-4-1-5 4-2 4-4 5 0 4-3-4-1-2-5 0-5-3-4-2-4 3-5 5 0-4 4-3 3-5 3-4 2-3 4-5 0-3-4-1-5 1-5 0-5 2-5 1-5 2-4 0-5-1-5-1 5 3 4 1 5-1 5 5 1 5 2 4-2-5 0-3 4-4 3-2 5-2 4-1 5-1 5-2 5-3 4-1 4 1 5M660 3659l-5 1-2 4-2 5 0 5 5 1 4-2 4-3 5-2 5 1 5-1 3 4 1 4-1 5-2 5-5-1-4-3-1-5-3-4 1-5 5-1 5-1 5-1 5 2 3-3-1-5-3-4-5-2-3-3-3-4-1-5 5-3 4 4 3 3 5 2 1 5 5-1 5 0 5 0 5 0 5-2 4 1 4 3 1 5 0 5 1 5-3 4-2 5 4 3 5 0 2-5-3-4-3-3-4 3-5 2-1 5-2 4-5 1-5 1-5 1-5 1-4 3-4 3-5 2-4 1-3 5-4 2-5 2-5 0-5-1-4-3-2-4-2-5-1-5-4-2-4 3-3 4-2 5-5 0-4 2-5-2-5 0-4 3-3 4-4-3-4-3-4-2-4-3-5 1-3 4-5-2-3-4 2-5 3-4 5-2-3-4-3-4 0-5 4-3 5-1 1 5 2 4 1 5 1 5-5 1-4 2-5 2 0 5 3 3 2 5-2 5M647 3662l-4 3-2 5-2 4-2 5-4 3-5 2-5 1-2 4-4 3-1 5-3 4 0 5 0 5-1 5-1 5 1 4 3 4 4 3 1 5 0 5 0 5 3 5 3-4 5-1 5-1 5 1 4-1 1-5-3-4-4-1-5 0-2-4-4-4-1-5-3-4-4-4-2-4-5-2-2-4-4-3-4-3-3-4-4-3 0-5 1-5 4-3 4-3 5 2 3 3 4-3 4-4 2-4 2-5 5 1 5 1 5-1 4-2 3-4 3-4 2-5 3-4 1-5 5 2 5 0 5 0 2 4 5 0 4 3 5 0 4 1 5 3 4 2 2-5 2-5 5 1 5-1 2-4-1-5 2-5-1-5 4-3 4-3 5 0 4-3 3-4 3-4 5-1 4-3 5-2 5 1 5 1 3 3 5-1-5 1-4 3-1 4 2 5 3 4 1 5-2 4-4 4-5 0-4-3 3-4 4-4 2-4 2-5-2-4-1-5-5-1M682 3615l1-5 0-5 0-5 1-5 1-5 1-4-2-5-2-5-3-4-2-4-5 2-4 3-5-1-5-2-5 1-3 4-5 1-5 2-4 2-5-1-5-1-2-5-3-4-4-2-4-4-4-2-5-2-5-1-4 2-4 3-3 4 2 5-5 0 5-1 4-2 5-1 4-3 2-4 2-5 3-4 2 4 5 1 5 2 5 0 5 2 4 1 5 2 4 3 0 5 1 5-5 2 2 4-5 2-5-1-3-3-1-5 3-4 4-3 5 0 5 1 5-1 4-1 5-1 5-2 2-5-1-5 3-4-2-4-5-2-3-4 2 5 3 4 0 5 1 5 5 1 5-1 5-2 2-4 2-5 5 1-1 5-3 5-3 3-1 5-3 4 0 5 2 5 2 4-2 5-1 5-2 5 0 5 1 4 2 5-2 5-4 2-3 4 0 5-5 2-5 0-5 1-5 1-3 3-5 1-5 2-5-1-3-4 1-5 0-5 5-1M605 3682l4 3 0 5-1 5-3 4 2 5-2 5-1 5 4 3 5 0 5 0 4-2 5 2 5 2 2 4-2 5 1 5-2 4 0 5 2 5 3 4 2 4-2-4-1-5 5-2 4-2 4-3 5-1 5 1 5-1 5 0 5 1 5-1 4-2 5 1-4 2-5 1-4 4-2 4-2 5 1 5-5-2-3-4-4-4-2-4-3-4-1-5-2-4-5-3-4-3-5 1-4 3-4 3-1 5 0 5 5 1 3-4 2-4-3-4-5-2-5-1-3-4-1-4-2-5-1-5 5 0 3 4 2 4 5 2 5 0 5 1 4-3 4-4 4-2 5-2 4-2 5 1 0 5 5 1 1 5-1 5-2 4-4 3-5 1-3 4-2 4 2 4 4 4 1 5-3 4 0-5 2-5-3-4-1-5-1-5-2-5-1-5-2-4-4 3-1 5 2 4 1 5 3 5 3 4-1 5-4 3-3 4-1-5 4-3 4-3 5-2M659 3684l-4-3-5-1-5 0-2-4 0-5-2-4-1-5-3-4-1-5 5-3 4-1 5 0 5 0 2-5 1-5-4-3-5-2-2-4-2-5-3-4-2-4 0-5 1-5 4-3 3-4 5-1 3 4-2 4-4 3-5 1-5-2-5 1-2 4-3 5-4 2-4 3-1 5 0 5-3 4-4 3-5 0-5-2-3-4-5 1-5-1-4-3-4-2-1-5 1-5-2-4-2-5-1-5 0-5 3-4 4-3 4-3 5-2 5-1 4-2-3-4-4-3-5-1 0-5 4 2 3 4 5 2 5-2-2-5-2-4-5-1-5 2-4 3-1 4-3 5 0 5 4 3-2 5-3 4 0 5 2 4-1 5 1 5 1 5 0 5 1 5-3 4-1 5 1 5 4 2 5-1 1 5 5 1 5 1 1 5 1 5-2 4-5 1-5-1-5 2-2 4-2 4-2 5-4 2-5 1-5 2-4 3-2 5-4 2 1-5 0-5M702 3663l-2 4 1 5-1 5 4 3 4-1 3-4 2-5 2-5 4-2 3-4-1-5-5-2-5 1-1 4-4 4-5 2-4 2-4 3-1 5-2 5-2 4-1 5-4 3-5 2-4 2-5-1-2-5-2-4-1-5-5-1-5-2-5-1-3 4-5 0-5 2-2 4 4 3 4 3 4 2 2 5-1 5 3 4 4 3 3 4 3 4 5 1 5 2 5-1 3-3 5-2 4 3 4 4 3 4 4 3-1 5-1 4 2 5 3 4 4 3 0-5 0-5-3-3-4-3-5 1-5 2-4-2-5-2-5-1-4 3-4 2-5 2 3 4 3 5 2 4 1 5 2-5 1-5 0-5 3-3-1-5-2-5-3-4-4-3-4-2-2-4-4-3 0-5-3-4-2-5-2-4-2-5-4-3-4-2-5 2-4 2-5 0-5 0-2 5 0 5 5 0 4 0 5-2 5 2 5-2 4-3 2-4 3-5 4-3 1-5 2-4M696 3694l5 0 4-2 5 3 4 1 4 4 3 4-3 5 5 2 4-2 5 0 5 0 5 0 5-2 4-1 5-1 5-2 5-1-5-1-4-4-1-4 1-5 0-5 4-4 2-4 4-3 3-4-3-5-3-4-4 0-3 5-2 4-4 3 1 5 4 3 5 1 4 2 4-3 5-1-2 4-2 5-5 1-4 3-3 4-2 4-5 1 1 5 3 4 4 3-3-4-5-1-5-1-4 2-5 2-2 4-3 4-5-1-4-3-5-2-5 1-4 3-3 4-1 5 0 5 2 4 0 5 5 2-1 5-2 5-4-4-1-4 1-5 0-5 1-5 4-3 4-3 5 1 3 3 5-1 5-2 3-3 2-5 2-5 1-5-4-3-1-5-3-4-4-3 0-4-3-5-5 0-4-3-5-1-2-4 2-5-4-3-1-5 0-5 2-5 4-3 2-4 2-5-4-4-5-1-5 1-4 1-5 2-5-2-3-3 0-5-5-3M685 3656l-4 3-5 1-4 4-5 1-4-2-4-3-5-1-5 2-4 3-4 3-5 0-4 3-4 2-5 2-5-1-4-2 1-5 4-3 1-5 3-4 0-5-4-3 0-5 1-5-5 0-5 2-5 2-3 3-2 4-2 5-2 5-5 1-4 2-5 2-3 4-3 3-2 5-2 4-2 5 3 4 0 5-3 4-1 5-1 5-2 4-2-4-4-3 5 1 4-2 4 3 5 0 5-2 4-3 4-3 3-4 3-4 4-3 4 2 5 2 4 2 5 2 5-1 5 0 5 0 5 2 4 2 5 2 5 0 2 5 4 3 5 1 4-2 5-3-2-5-2-4-4-3-4-3-4-4-4-2-5-1-2-4-5-2 0-5-2-5 3-3 2-5 3-4 2-5-1-4 0-5-1-5-1-5-4-4 3-4 3-4 5-1 5 1 4 1 5-2 4-3 1-5 5-1 3-4 4-4 2-4 4-3-1-5 2-5 0-5-1-5M604 3642l2 5 5 2 5 1 5-1 4-1 5 0 3 4 4 4 4 3 3 4 4 1 5 2 4 3 3 4 5 1 5 1 3 4 5-2 4-2 5-2 3-4 5-2 4-3 1-5 0-5 1-4 5-3 5 0 4 3 3 4 5 1 5-1 4-3 4-3 2-5 3-4 4-3 5 1 2 4 4 2 5-1 5-1 5 1 5 1-5-1-4-3-3-3-4-3-4-4-4-3-5 0-3 3-3 4-4 3-5 1-5 2-4-3-4-3-2-4-4-3-5 0-4-3-4-3-4-3-5 1-4 2-5 1-2 5-1 4-1 5-2 5-4 3 2 5 0 5 3 4 2 5-1 5 3 4 4 3 5 1 5 1 5 2 4 1 4-3 3-4 5-1 4-2 5-1 5-2 5 2 4-1 5-1 5 2 5 0 5 0 4-3 5-2 3-4 3-4 4 2-5 1-4-2-5-1-4 3-4 3-3 4-2 5-4 3-5-2-3-4M620 3610l2 5 3 4 4 3 0 5 3 4-1 5-4 2-5 2-1 5-5 3-3 3-5 2-4-2-5-2-5-1-4 1-5-3 0-5 1-5-4-4-4-2-5-1-5-1-5-1-5-1-5 1-4 1 4-3 3-4-3-4-1-5 4 3 5 0 3-3 5-3 3-3 5 0 5 1 5 1 4 3 1 5 2 5-5 3-3 3-4 3 1 5 4 2 5-2 5-2 4-2 5-1 5-2 3 4-1 5-4 3-5 1-2 5-4 1-5 0-5 3-4 3-3 4-5 0-5 0-5 0-4-2-5 2-5-1-5 1 5-1 5 0 2 5-4 2-5 2-4-2 2 5 4 3 3 3 4 4 5 1 4-3 4-2 5 0 5-2 4-3-1-5-1-5-4-3-5 1-3-3-5-3-4-1-5-2-5 1-3 4-3 4 5 2 5-2 5 1 4-3 4-3 5 2-1 5 5 3 1 4 0 5 2 5 0 5 1 5 2 4M602 3661l3-4 1-5 0-5 2-5 3-4 4-3 1-5 4-3 5-2 4-2 4-3 3-3 5 0 5 3 4 2 5 0 5-2 2-4 5-3 4-1 4-3 2-5 4-3 5 2 5 0 3 4 5 1 5 0 5-2 2-5 5-1 5-1 1 5 4 4-3 4-3 4-4 2-2 5 1 5-1 5-3 4-4 3-4-2-5-3-2-4-3-5 0-4-5-2-5-1-4 2-5-3-5-1-4 2-3 4-4 3-5 1-4 4-4 2 0 5 3 5 2 4 0 5-3 4-2 4-3 5-1 4 4 3 5-1 4 3 1 5 3 4 3 4 4 2 4 4 3 4 0 5-1 5 2 4 5 1 4 1 5 2 5-1 4-3 1-5-3-4-4-3-5 0-4 3-4 3-5 2-5 1-4-2-3-4-1-5-3-4-1-5 3-4 1-5 1-5 5 0 4-4 2-5 1-4 4-3 5 0 4 4 4 2 3 4-1 5-1 5M694 3639l-4-3-4-4-3-4-4-1-4-4-2-4-4-3-5-1 1-5-1-5 0-5-1-5 2-4 4-4 4-2 5 1 5 1 4-4 3-3 5 0 1-4 3-4 1-5 0-5 3-4 3-4 4 2 4 4 5-1-4 3-5-1-3 4 0 5-4 3-5 0-4-3-2-4-5-2-5 1-5 1-4 2-5 2-1 5 1 5 2 4 0 5 2 5-4 4-5-1-5 0-4-2-3-4-4-3-4-3-4-3-3-4 1-5 0-5 4-4 3-3 3-5 2-4 1-5 0-5 0 5 0 5 4 3-1 5-4 4-2 4 0 5 0 5 3 4 3 5 4 2 5 0 5 0 2 5 4 3 4 3 3 3 5 1 5-1 5-2 5 0 5 1 4-3 0-5-5 0-4-3-3-5-4-1-5-2-5-1-4-2-5 1-4 3-5 1-5 2 1 5-4 3-5 1 1 5 1 5 2 5 4 2 0 5-5-2-5 0-3 4M662 3651l2 4 4 4 3 3 3 4-3 4-5 1-5 0-5 2-4-3-5 0-5 1-2 5-5 0-1 5-2 4-4 3-5 1-5 0-5 2-3 4-3 4-5 2-4 3-5 1-5 1-2 5-4 2 0 5-1 5 3 3 3 5 5-1 0 5-1-5 2-4 2-5 5-1 5-1 5-2 4 1 0 5-3 4 0 5 3 5 3 3 4 2 4 4 4 2 5-1 4-4 2-5-3-4-5-2-4-1-5 1-5-1-4-3-5 2-3 3 1 5-1 5 0-5 2-5-4-3-5 0-5 3-3 4-4-2 3-4 3-4 5 1 4-3 2-5 2-5 1-4 4-4-2-5-4-3 2-4 4-3 5 2 4 3 4 3-3 4-3 4-5 2-4-1-5 1-4-3 2-5 2-5-2-4 2-5-3-3-1-5 0-5 1-5-1-5-1-5-2-5-4-3-4-2-2-4-2-5-4-3-4-4-4-3-3-3-5-1-5-1M666 3644l-4 3-2 5-5 1-4-2-5-1-5 0-5-2-5-1-5 0-4-3 0-5-1-5-3-4-4-3-5-2-3-4-5 0-5 2-1 5 1 5-1 5 3 3 2-4 1-5-1-5 0-5-4-3-4-2-1-5 0-5 0-5-5-2-4-3-5 0-4-3-5-1-4 2-3 3-2 5 0 5 1 5 4 2 5 1 5 3 4 0 5 3 2 4 2 5-4 3-5 1-4-3-1-5 0-5-2-4 1-5-4-4-2-5-5-1-5 1 5-1 3 4 1 5 3 3-5 2 1 5 2 4 2-4 1-5 2-5 2-4-2-5-1-5-4-3-3-4 5-1 4-3 5 3 4 2 3 4 5 2 5-2-1-5 1-5 0-5-1-4-4-3-4-3 4-1 5-2 4-3 4-3 5-1 2-4 2-5 5 2 5 2 4 2-2 5-3 4 0 5-3 4 1 5-2 5 3 4 1 5 2 5 2 4 1 5-2 5 2 5M699 3651l5-1 5 0 4-3 3-4 3-3 3-4 0-5-2-5-1-5-1-5-1-4 1-5-1-5-4-3-3-4 2-5 4-2 5-3 2-4-1-5 2-5 3-4 5 0 0 4 2 5 2 5 3 4 5-2 4-2 5 0 3 4-3 4-3 3-5 2 2 5 1 5 1 5 3 4-2 5 1 5 2 4 0 5 3 4 4 3 4 3 3 4 0 5 4 3 5 1-5 0-5-2-1-5-4-4-1-5 1-5-3-4 4-3 3-4 5-3 4 2-3-4 1-5-3-3-4-3-5-2-5 0-4-2-5-2-4-3-4 3-5 0-4 3-4 2-5-1-5-2-4-3-3-4-1-4-4-4-4-2-3-4-3-4 2-5-2-5-3-4 2-5-1-5 0-5-2-4-1 5 0 5 3 3-2 5-1 5 0 5 0 5 0 5 3 4 3 4-2 5-4 3-1 5 1 5 3 4 3 4 3 4 5 1 5-1 5-1 5 0M676 3698l-5 2-4-2-5-1-5 0-2 5-5 2-5 0-5 0 0 5 2 5-5 2 1 5 0 5-2 4-3 4-4 3-2 5 3 4 3 4 5 1 5 2 4 3 5 1 1-5-4-2-3-4 1-5 4-2 3-4-4-3 1-4 2-5 0-5-4-3-4-3 1-5 4-3 4-3-1-5 4-4 2-5-4-3 2-5 1-5 2-4 0-5-4-4-4-2-5-1-1-5 0-5 2-4 1-5 0-5-1-5-5-2-5-1-5 1-4 2-5 1-5-1-3-4-1-5 2-5 3-4 3-4 2-5 5 0 5 3 2 4-2 5-5 1-4-3-1-5 0-5 5 0 5-1 5 1 5 0 5 0 4 4 1 5 0 5-4 3-5-2-5-2-3-3-2-5-5-2-4-3-5 2-4 1-5-1-5-1-4 3-4 1-5 2-5 1-3 4-2 5 1 5 5-2 4-2 2-5-4-3-4-3-4 2-5-2-5-1-5-2M626 3696l5-1 4-2 5-2 4-3 4-3 1-5 1-5-1-5 2-4-3-4-2-5 1-4 4-4 3-4-1-5 0-5-1-5-1-5 2-4 1-5-1-5 2-5 4-2 5 0 5-3 4-1 4-4 5 1 4-2 4-4 5 0 4-3 5 1 3 3 4 4 1 5-3 4-5 0-4 3-3-4-3-4-3-4-5 0-3 4-3 4-5-2-5 0-4-2-5 2-5 1-5 0-4 3-1 4-1 5-3 5-4 2-3 4-4-3-5 0-5-2-3-4-1-5-1-5 2-4 4-3 5-2 2-4 5-3 3-3 3-5 5 0 4-1 5 2 1 5 1 5 3 4 4 2 5 1 0 5 3 4 2 5 4 3 4 2 2 5 0 5-3 4 0 5 1 5-1 5-4 4-3 4-5 0-3 3-2 5-5 1 1 5 1 5 4 3 4 2 5 3 0 5 1 5-2 5-3 4-4 2-5 2-4 2-4 3 1 5 1 5M637 3707l0 5 0 5 3 4-1 4-5 0-4 2-2 5-1 5-2 5 1 5 1 4 5 1 5 1 5 0 5 0 3-4 1-4 0-5-2-5-4-3-4-3-3-4-4-3-1-4-1-5 0-5 4-4 0-5 4-3 2-5 3-3 5-3 5-1 3-4 4-1 5 0 5-2 1-5-2-4-4-3-5-1-4-3-4-3-5 2-5 0 2 5 2 5 4 3 3 3 4 4 4-2 4-3 4-3 4-4 2-4 3-4 3-4 2-5-1-4-5-2-5-2-2-4 2-5 0-4-3-4 1-5-1-5-5-2-5-1-5-1-1-5-5-1-5 2-4 2-2 5 0 5 2 4 4 4 5 1 4 3 4 2 5 2 3 4 5 1 5 0 4 3-3 5-2 4 1 5 1 5-4 4-4 2-5-1-5 1-1 5-3 4 3 4 2 5 3 3 3 4 4 4 1 5 0 5-2 4 4 3-1 5-3 4-5-1-5 0-4 2M754 3980l-5 0-5 1-5 1-5-1-5 1-4 3-2 4-4 3-3 4 2-5 1-4 2-5 5 0 4 2 0 5 0 5-3 4-5 1-1 5 4 2 5-3 5 1 5-1 4 2 5 0 5-1 4 3 5 0 5 2 4 2 5 1 5 0 5-2 4-3 0-5-3-4 0-5-1-5 2-5 3-3 4-4 4-3 2-5 0-5 4-3 3-4 0-5-2-4-5 1-3 4 2 4-5 3-3 4-5-1-4-3-5-1-1-5 4-4 5-1 5-1 3-4 1-4-2-5 3-5 3-3 1-5 1-5 4-4 1-4 1-5-4-3-4-3 0-5-3-4-4-3-3-4-4-3-5-1-5 0-5 2-4-4-4 1-5 3-3 4-4 2-4 4-2 4-3 4 0 5-2 4-5 3-4 2-2 5-4 3-5 2-5 0-4 3-4 3-5 0-5 0M787 3987l5-1 4-2 4-3 0-5 3-5 4-2 4-3 5 0 5-1 3-5 0-5 4-2 2-5 5 1 4 2 4 4-3 4-4 3-2 5-1 5 0 4-1 5 0 5-3 5 3 4 1 5 0 5-5 1-3-4-2-5-1-5 0-5 2-4-3-5-4-2-1-5-2-5-2-4-4-4 0-5 3-3 4 4 4 1 5 0 5 1 5 2 5 0 4 3 5 1 4-1 5-3 1-5 2-4-3-5-4 3-3-4-5-2-5-2-4 3-5 2-5 0-3 4-3 4-1 5-3 4-5 1-3-4-5 0-5-1-4-2-2-5-4-3-5 1-3 4 0 5-1 5 4 3 2 5 5 2 3 4 3 4 4 3 1 5 3 4 4 3 3 4 5 1 5 2 4 3 3 3 3 4 4 4 4 2 5 0 2-4 4-3 3-4 1-4 4-4 3-3M772 3963l2 5 5-2 4-3 5 2 4 2 5 1 4 4 4 2 4 2 3 4 5 1 2-5 5-1 5 1 4 3 5 0 5 2 4 2 5 0 4-3 3-4-5-1-4-4-4-3-3-3 0-5-2-5 3-4 4-4 4-2-2-4-4-3-4-3 0-5 2-5 2-4-2-5 0-5 1-4 2-5 0-5 3-4 4-3 5 0 5 1 5-1 5 2-2 5-2 4-2 5 0 5-2 4 1 5-2 5 2 4 2 5 2 4 2 5-1 4-3 5 3 4 1 5 1 4 2 5 4 3 4 3-5 0-5 1-2 4-4 3-5 2-3-3-4-4-4-1-5-2-4-3-2 5-4 2-1 5-5 0-5 1-5-2-5-2-4-3-3-4-5 2-4 2-5 1-3 4-2 5 0 5-2 4 0 5 4 4 1 5 3 4-1 5-2 4 3 5 5 0M776 3896l0 5 3 5 3 3 4 3 3 4-3 4-5 2-4-3-3-4 1-5-4-2-2-5-5 1-5 0-5 1-3 3-5 2-5-1-3-3-5-1-4-4-2-4 1-5 2-5 3-4 4-3 5-1 5-1 4-3 4-3 4 2 4 3-3 4-1 5-2 4-3 4-2 5-3 4-1 5 2 4 5 1 4 3 5-1 1-5-2-5-3-3-5-2-5-1-2-4-2-5-2-5 3-4 0-5-1-5 2-4 3-4 2-5 4-3 4-2 5-1 5 0 5 1 4-4 5 1-5 1-4-3 3 4 5 1 4-1 5 3 5 0 4 1 5 1 5 1 5 1 5 2 2-5-3-4-1 5-4 4-2 4-1 5-3 4 1 5 3 4-3 4-2 4 1 5 3 4 3 4 5 2 4 2 4 4 1 5-3 4-5 1-4-2-5-2-2-5-4-2M806 3974l3-5 5-1-1 5-5 1-4-3 4-3 3 5 2 4 5 2 4 2 3 5 4 2 5-1 5-2-2-5 1-5-1-5-2-4-5 0-2 4-5 2-5-1-2-4-3-4 0-5 5-2 3-4 5-2 4-2 5-1 5 1 5 1 5 1 4-2 3-4 0-5-4-2 0-5-3-4-3-3-5 1-3 4-5 0-5 2-3-4-5-1-3-4 1-5-1-5-5 1-5 0-5 0-5-1-4-3-5 2-1 4-4 4-4 3-2 4-2 5 0 4 3 5 3 3 5 2 5-2 3-4 0-5 0-5 0-5-2-4 4-4 2-4 0-5 2-5-2-5 0-5-2-4-1-5 1-5-5-2-4 2-5 3-4-3-3-4-1-5 2-4 3-5 0-5-4-3-4-3-1 5 2 4 3 4-1 5-1 5-1 4-3 4-5 3-5 0-4 1M828 3934l0 5-1 5-3 3-4 3-5 0-5-3-4-3-3-3-5-2-4-3-5 2-5-1-4 1-5 3-1 5 1 4 4 3 5 1 5 0 5 1 5 2 5 0 5 0 1 5 5 1 5 1 4 2 4 3 5 0 2-5 5-1 1-5 4-3 4-2 4-4 1-5-2-4 0-5-2-5 0-5-4-4-4-2-5-1-4-2-5 1-3 5-5 0-5 1-4-1-5-2-4-3-5 1-3-3-5-2-4-2-4-4-2-4-4-3-3-4-1-5 0-5-2-4-3-4-4-4 0-5 2-5 0-5 2-5-2-4-3 4-5 0 1 4-5 2-3 3-2 5 1 5 3 4 4 2 5 1 5-3 4-1 4-4 2-4 5 1 5 2 4 0 5 1 5 2 5 2 5 0 0 5 1 5-1 5-5 1-5 0-5 0-3 3-3-4-5-1-5 1M792 3938l4 4 3-4 4 2 4 3 5 1 5-1 3-4-2-5-4 4 2 5 1 5 2 4-1 5-2 5 1 5 4 3 3-3 2-5 4-2 4-4 1-5 2-4 3-4 2-5-2-4 4-4 4-3 4-2 1-5-1-4-1-5-2-5 4-3 3-4 4-3 5-2 3-3-2-4 1-5-5-3-5 0-4-1-5 0-5-1-5-2-4-3-2-5-3-4-5 1-4-3-3-4-5-1-2-5-3-4 2 5 4 2 4-4-1 5 1 5-3 4-4-4-2-4-3-4-4-3-4 3-5 0-5 2-5-3-3-3-4 3-4 4-3 4-1 5 5 1 5 1 3 4 4 3 1 5 4 2 2 4 5 3 5-2 2-4-2-5-1-5 1-5-5-1-5 1-5-1-4-3-5-1-1-5-2-4-5 1-5 0-5 0-3 4-2 5 2 5 3 3M788 3915l-4 2-5 1-5 1-3-4-2-5-2-4-5-2-5 0-5 1-2-4-4-4-3-4-3-3-4-3-4-3-4 3 3 4 5 3 5 0 5 0 4 3 2 4-1 5 0 5 1 5-5 2-1 5-1 5-1 4-1 5-2 5-3 4-5-1-4 2-5 1-4 3 0 5 1 5 5 1 3 4 4 3 5 2 5 0 3-4 5 0 5 2 4 3 3 4 3-5 4-2 4-4 5-1 5 1 4 1 2 5-1 5 3 4 1 5-1 5 1 5-1 5-2 4 2 5 2 4 4 3 5 2 3 3 0 5 1 5 1-5 4-2 5-3 4 1 4 4-3-4-5-1-5 1-5 1-5 0-5-1-5 0-5-1-4-2-3-4-4-2-5-2-5-1-1-5 1-5 0-5-3-4 2-5 1-5-2-4 1-5 2-4 5 1 5 1 5-1 5 1M787 3965l3-4 3-4 4-2 3-4-3-5 1-5 4-3 3 3 2 5 2 5 3 3 3 5-2 5 3 4 2 4-2 5-5 2-3-4-4-2-4-3-4 2-4 4-3 3-2 5-4 3-5-1-5-1-2-4 2-5 0-5-4-3-5 1-5 1-4 1-5-2-5 2-5 1 1 5 4 4 3 3 2 5-4 4-2 4-1 5-3 4-1 4-4 4 5-1 4 3 4 4 4 2 3-4 4 1 5 0 3-4 3-4 1-5 5 1 5 0 5 0 5 1 5 1 3-3 5-2 5-2 4-1 5-1 5-1 3-4-5-3-4-3-5 2-2-5-2-4-4-3-5 1-5 1-5-3-4-1-5 2-1 5-3 5-1 4-5 1-3 3-3 5-1 5-2 5 1 4 5 2 5 1 3-4 5-1 4-3 5-1 3-4 3-4 2-4 0-5-1-5M829 3927l2-4 5-1 5-1 5-1 4-3 5-1 3 4-2 5-4 3-5 0-3-4 1-5-3-4 3-5-4-4-3-3-4-4-2-4 1-5 4-2 5 2 4-3 3-4 3-4 3-4 2-5-5 2-5 0-5 1-4 2-4 3-4 3-3 5-3 3-2 5-1 4-2 5 0 5 1 5 3 4 4 3 4-2 4-3 4 3 4 3 5 1 2 5 3 3 4 4 3 4 0 5 5 1 4 4 3 3 2 5-1 5-1 4-2 5-4 3-3 4-2 4 0 5 2 5-1 5 1 5 3 3-3-3-4-3-2-5-2-4-3-5 1-5 4-3 4-1 5-1 5-2 3-4 1-5 1-5 0-5 0-5 0-5 3-3 5 1 5-1-1-4-3-4 4-4-5-2-4-2-5-2 0 5-2 4-2 5 5 2 5 2 4 3 4 3 5 0-4-3M784 3917l2-5 3-4-1-5-1-5-3-3-4-4 0-5-2-4-4-2-5 0-5 2-2 5-5 2-3-4-4-3-5-3-4 0-4-4-4-3-5-1-5 0-3 3 0 5 2 5-4 4-4 3-3 4-1 5 1 5 2 4 5 1 5-2 1-5 1-5 4-2 4-3 4-4 2-4 3-4 2-5 4-2 5-2 4-3 5 1 5-3 5 0 5 1 4 3 3 4-2 4-3 5-4 2-4 4-3-4-2-4-5 0-5 1-5 0-3-4-3-4-4-3-5-1-3-4 2 5 0 5 5 0 1-4-1-5-1-5 5 0 3 4 2 5-1 5 1 5 3 3 3 4 5 3 4 1 5 2 4 3 5-1 5 0 5-1 3-4 1-5 3-4 4-3-2-4 0-5-4-3-5-2-5 1-5 0-5 1-2 4-2 5-2 5 4 3 4 3 5 1M788 3935l-5 0-5-1-4-3-5-1-2-4-5-2-5-1-4 2-5 2-5-2-4-2-5 2-3-3-5 0-5-2-5-2-5 0-5 0-4-2-4-3-1-5 5 1 5-1 5 1 3-3 5 0 4 3 4 4 2 4 5 2 4 2 5 0 4 3 5 2 4 3 4 3 4 3 3 4 4 3 5 2 4 1 5-2 2-5 4-2 4-3 4-3 4 2 3 4 2 4 0 5 3 4 3 4 5 1 5-1 3-4 5-2 5 1 4 2 5-2 3-4 5-1 5 0 4 3 2 5 1 4 2 5 2 5-1 5 5 1 5-1 5 0-5 0-5-1-2-5-3-4-5 1-3 5-5 1-5-1-4-2-5-3-3-3-5-2 1-5 1-5 2-4-4-3-4-3-3-4-2-5 1-4 2-5 5-1 3-4 0-5 1-5 3-4 4-4 2-4 1-5M813 3957l-1 4-3 5-2 4-4 3-4 3-4 3-2 4-2 5-2 4 0 5 1 5 1 5 4 4 4-1 1-5-2-4-1-5-1-5-4-2-4 2-4 3-5 1-5 0-5-1-5 2-5 2-4 2-5 2-4 3-5 0-5 1-4 2-4 4-3-4 1-5 3-5 4-2 4-3 2-5 3-4-1-4 1-5 1-5-1-5-2-4-4-4 0-5-2-4 0-5 1-5 3-4-4-3-4-2-2-5 3-3 4-4 1-5-1-4-1-5 1-5 1-5 0-5-1-5-1-5 0-5 3-4-1-5 1 5 2 5 3 4 5 2 3 4 5-1 3 3 5 0 3 4 5 0 4-4 5 1 3 4 3 4 1 5 5 1 0 5 2 5 4 3 4 3 1 5 2 4 3 4 3 4 3 4 4 4 5 0 5 1 4 2 2 5-2 5 0 5 4 3M810 3920l-3 4-2 5-4 1-3 4 1 5 5 2-1 5-1 5 5 3 2 4-2 5-2 4-1 5-2 5-5 2 0 5 2 4-1 5 1 5 2 4 1 5 3 4 2 5 1 5 2 4 1 5-2-4-4-3-4 3-2 5-3-4-3-5-4-2-4-3-1-5 2-5 4-2 3-4 4-4 4-2-2-5 1-5 3-4 3-3 0-5 3-4 2-5-2-4 4-4-1-5-4-1-5 0-5 1-5 1-3 4-2 5-4 3 1 5 4 2 4-4 2-4 4-4 2-5-3-4-3-3-2-5-2-4 0-5 3-5 0-5-3-4-3-4-2-5-5-1-4 3-5 0-4-2-5-1-1-4-3-4-2-5 1-5 4-3 5 0 5 2 3 3 3 4-1 5 3 4 2 4 5 3 3 4 3 3 4 3 5 2 5 1 5 1 3 4 2 5 5 1M798 3915l-3 3-3 5-3 4-2 4-4 4 1 5-2 4-2 5-4 3-4-1 0-5-2-5 0-5 1-5-4-2-3-4-1-5-3-4-2-5 0-5 0-5-2-4-4-3-4-3-4-2-5 1-4-2-1-5 0-5 1-5 0-5 3-5-3 5-3-4 4 4 3 3 2 5 2 4 0 5-3 4 4 4 1 5 2 5-1 5-3 3-5-1-5-1-4 2-5 1-4 3-5-3-4-1-5-1-3-4-5 3 5 1 1 5-4 2-5-1 3 4 1 5 5-3 5 0 5-1 2-4 2-5 4-3 3-4 0-5 3-4 1-5 4-3 4-3 4 2 5 0 4-3 4-2 5 0 4 3 2 5 4 2 4 3 4 3 5-2 4 3 1 5 5 2 4-1-1-5-2-5-2-4 1-5 3-4-5-2-5 1-3 4-4-2-5-2-2-5 2-4M789 3948l-5-1-2-5 1-5 1-5-1-5-2-4-1-5 2-5 2-4 3-5-2-4-1-5-5-1-5-1-4-3-3-4-5 1-4 4-5 0-4 3-5 0-3-4-5 2-5 1-5-2-2-5-5 0-5-2 5 2 4-3 5-1 2-5 5 0 5 2 3 3 1 5 4 4 5 1 2 4 0 5 4 2 3 4 1 5 4 3 5 2 5-2 4 0 5-1 5 0 5 3 4 2 5-2 4 2 5-1 4-3 2-4 3-5-2-4-4-3-4-3-4-3-5 0-3-4 0-5 4-3-1-5 3-4 5 2 5 0 5 0 4-3 2-5 3-3 5 0 0-5 1 5-4 3-5 2-2 4-3 4-2 5-1 4-2 5-1 5-4 3-5 1-2-4 0-5 2-5 5-1 4-3 2-5 3-3 2-5 4-3 4-3 1-5-4 3-2 5-1 5M818 3935l-1-5-1-5-2-5 1-5-2-5-1-4-3-5-3-4 2-5 4-3 4-3 3-4 0-5 4-3-3-5-4-3-1-5-3-4-1-5-5-2-5 1-5 0 5 2 3 4 5-1 5 0 5 0 5 0 5-2-3 4-3 4 0 5-1 5-3 4-2 4 3 4 5 1 4 3 4-3 5 3 4 2 2 4 2 5 0 5-1 5-3 4-3-4 1-4 1-5 2-5 5 0 4-3 3-4 4-3-1-4 0-5-2-5-4-2-5 1-3-4 0-5-2 4-4 4-2 4 1 5-1 5-2 5-3 4-4 3-4 2-4 4-5 0-5 0-4-3-4-2-5 1-3-4 0-5-5-3-3-3-5-1-5 0-5 1-1 4 0 5 4 4 0 5-1 5 1 4 5 1 5 0 2 5 1 4 1 5-4 4-3 3-3 4 1 5 3 4 5 1M793 3961l0 5-4 4-4-2-5-2-5 2-4 2-5 0-5 0-5 2-3 4-1 5 3 3 3 5 2 4 2 5 5 0 5-1 5-1 5-1 4 2 3 4 3 5 5-1 2-4 5 1 5 0 5 0 5-1 5 3-3 4-5 0-3 4-4 3-5 1-5 1-2-5-1-5 0-5 0-5-4-3-5-1-5-2-5-1-4-1-2-5-5-2 1-4-3-5-5 0-4-2-4 4-2 4-4 3-5 0-5 2-5-2-3-4-4-3-3-4-2-5 5-1 4-2 5 0 5-2 0-5-1-5 0-5 1-5 5 1 5 1 5 1 5 2 4 1 5 3 5 0 1-5 0-5-3-4-2-4-5-3-4-3-5 2-4-3-4-3-5 0-3 4-5 1-5-1-5 1-5 0-4 2-5-2-4-3-4 3-4 3-1 5-1 5-1 5 2 5 0 5M782 3929l-5 3-4-1-5 2-5-2-3-4-3-4-1-4-3-5 0-5 4-1 4 3 4 3 5 1 4 2 5 2 5 2 4 2 5 1 5-1 5 0 5 1 3 4 5 0 5 0 1-5-1-5-1-5 1-5 3-4 3-4 5-1 5 0 4 3 5-2 4 1 2 5 4 3 2 4 3 4 0 5 3 5-1 4 0 5 3 4 3 4-2 4-4 3-4 2-4 4 0 5-1 4-4 4-5 1-5 2-3-4-1-5-3-4-3-4-4-3-3-4 1-5 3-4 3-4 5 1 4-3 2-5 5 1 5 0 5-1 3-4 2-4 2-5 2-4 4-3 5-2 3-3 2-5 4 3 3 4-3-4-4-2-5 0-5 1-4 3 1 5-2 4-1 5-2 5-1 4-5 2-5 2-4 3-1 5 3 4-2 4-5 1-5 1-3 4-4 3 3 4M789 3947l0-5 0-5-5-2-5 0-5 1-2 4-1 5 0 5 0 5 3 4-5 0-4 4-5-1-5 1-4-2-5 0-5 2-5-1-4 1-5 3-2 4-3 4-5 1-3 5-4 2-2 5 4-2 4-3 3-4-3-3-4-4-5-1-4 2-5 2 3 4 1 5 3-4 5-2 3-4 5 1 3 4-2 4-5 2-4 2-5 2-1-5 5-2 5 0 4-2 5-1 5-1 5 0 5-1 3-4 5-2 5-1 4 2 1 5-2 5-4 3-5 0-5-1-4-2-5-1-5 0-5 0-4-3-3-4 4-3 0-5-3-4-5 0-5 0-5 2 3 5 3 4-3 4 0 5 3 4 1 5 5 0 5 0 5-1 5 0 5 1 4 2 2 5-3 4-3 4-4 3-5 1-4-4-3-3-2-5-2-4-5-2-1-5 1-5 5-3 3-4M628 3957l4-5 5-4 5-2 1-6 0-6-1-6-5-4-6-1-5 2-6 2-6-3-4-4 5 3 5 4 5 3 6 0 6 2 6 1 5 2 4 5 4 4 6-1 4-4 5-4 1-5-1-6-5-3-6-2-6-2-6 1-5 1-4-6 1-6 0-5-4-5 2-6-4-4-1 6 0 6-3 5-2 5-5 5-6-1-6 1-2 5 3 5 4 4 5 4-5 4-6 2 1 6 2 6 1 6 1 6-2 5 1 6 0 6-1-6 4-4 4-5M645 3963l3 5-1 6 2 6 5 3 3 5-3 5-6 1-5-3-5 3-5 3-6-2-4-4-1-6-2-6-6-1 4-4 4-5 2-6-3-4-2-6-3-5 2-6 0-6 3-5 2-6 3-5 3-5 1-6 5-3 6 2 4 4 5 4 3 5 6 3 5 2 6-1 4 5 1 5 1 6 1 6-4 5-5 3-6-2-1-6 3-5 4-4-1-6 2-5 0-6 0-6-3-5-6 0-6 1-6 2-5-1-2-5-6 3-6 1-5 3-6 0M669 3953l3-5 0-6 3-5 1-6-3-5-1-6-1-6 2-6-5-2-6 0-5-4-5-3-3-5-6-2-6 1-4-4 1-6 5-4-4 5-6 2 1 6-4 5-2 5-2 6-1 6 2 5 5 4 6 1 6 2 5 2 6 2 4 4 6 2 6 0 5-3 3-5 6-3 1-5 3-6-2-5 0 6 3 5 5 3 1 6-2 5-3 5-6 2-5 1-6-2-5-3-6-2-6 0-3 5-2 6-5 3-5 4-6-1-5 2-5 4 2 6M651 3951l-2-5 0-6 4-4 6-2 5-3 5-4 6 1 5 1 2 6 5 4 6 1-6 0-5-4-5-3-4-5-4-4-4-5-5 1 1 6-1 6-6 3-5-2-6-1-4-4-6-3 1-6 3-4 4-5 3-5 5-3-1-6-3-5-1-6 3-5 5-3 3 6 3 4 4 5 5 3 4 5 6 0 6 1 2 5-5 3-6 3-5-1-6 0-6-2-6-1-6 1-5-3-6-2-5 4-4 4-4 4-5 3-5 3-3 6 0 6-1 6M441 4071l-5 1-5-1-5-2-5 1-3 4-4 3-5-1-5-1-4-3-5 0-3-5 2-4-3-4-5 0-2-5-1-5 3-3 5 1 4 3 5 1 1-5-1-5-5 0-1-5 2-4 0-5-3-4-2-5 5 3 2 4-2 4 1 5 2 4 5 2 5 0 4-3-3-5-2-4 0-5 5-2 5 0 3 4-3 4 2 5 5 2 2 4-1 5-4 3-5 0-5 1-2-5-3-4 0-5-4-3-2-5 2-4 2-5 4 3-2 5-3 4-2 5-4-3 4-3 0-5-5-2-5 0-4-1 5-1 0 5-1 5-4 3 0 5 4 2 2 5 5 2 2 4-3 4-3 4-4 3-5 0M402 4047l5-1 2 4 3-3 1-5-5-1 1-5 3-3 5-2 4 2 5 2 2-5-2-5-4-3-5 0-5 2-5-1-4-2-5 1-4-2-5-1-4 3-4 3-4 3-3 4 3 4 3 5 3 4 3 4 2 4-3 4-4 1 0-5 1-4 5-2 5-2 4-2 2-5 0-5 5-1 5-1 0 5 2 4 5 1 4 3 4 2 5-1 5 1 4-4 0-5 0-5 4-2 5-2 5 2 4 1 2 5 5 1 2-5 5-1 1 5 5 2 4 3 4-2 0-5 2-5-5 1-3 4 5 2 4 3 0 5 3 4 1 5 4 3 2 5 0 5-5 0-5 0-4-3-4-3-2-5-5 1M402 4050l-5 0-5 2-5 1-3 4-1 5 4 3 4 4 1 5 0 5-5 0-3 4-3 4-4 2-5 1 3-4 4-1 2 5 1 5-4 3 5 0 1-5 3-4 3-4 4-2 4-4 4-3 2-4 1-5-4 2-5 2-2 4-3 4-5 1-1 4 0 5-1 5-3 4 4 1 2 4 4 3 3 4 5-3 0 5-1-5-3-3-5-2-5 0 4 4 4 2 5-1 4-2 5 0 1-5 0-5-1-5 4-3 4-3 3-4 2-4 5-1 1-5 2-5-1-5 0-5 4-3 4-3 5-1 4-3 5-2 4 3-4 1-5-1-1-5 3-4 4-3 3-4 3-4 4-3 4-2 5 2M455 4056l-5 0-5-2-5-2-4 3-5 0-5 0-5 1-4 2-5 2-5 0-4-4-4-2-4-3-4-2-3-4-5-2-5-1-3-4-5-1 4-3 3-4 2-5 4-3-2 5 0 5 1 4 1 5 5 3-4 4-5-2-4 2-4 3-5 2 5 0 5-1 5 0 5 2 4-3 4-2 5-2 1-4 2-5 0 5-2 4-4 3-4 3-5 1-3 4-4 3-5-3-4-3-2-4 1-5 0-5 0-5 4-3 5 0-1 5-4 2-5 3-3 4 1 4 0 5-1 5-4 3 2 5 0 5 5 2 4-2 1 5 5 2 1 5 5 2 2-4 3-5 4-1 5-2 2-5 5-1 5 1M427 4064l5 1 4 3 5 0 4 3 0 5 0 5-4-2-5-2-1 5-3 4 0 5-5 0-5-1-5 0 1-5-2-5 1-5 3-4 4-2 4-3 5-3 4-1 5-1 4 3 4 4 2 4 2 5 4 3-1 5-2 5-2 4-1 5 4 2-1 5-5 2-4 3-4-2-1-5 4-3 4-2 2-5-2-5-2-4-2-4-5 1 1 5 4 2 4 3 4 4-1 5 1 4 3 4 5 0 2 5-5 0 4-4 5-1 4-2-4-3-4-3 0-5-3-4 2-5 3-4 4 2 3 4 2 5 2 5-3 4-5 0-3-4-5 0-5 2-5 1-3 4-5 0-3-4-4-3-5 1-4 2M394 4071l-5-2-4 3-3 3-5 2-5-1-4 3 5 0 1 5 3 4 5 0 4-3 5 2 1 5 1 5-2 4 3 4 0 5 2-4-4-3-5-1-2-5-5 2 3-4 5 2 4-3 2-4 4-2 4-3 4-3 5-1 1-5 0-5 1-5 5-1 5 0 5-1 4-3 4 1 4-4 5-1 4-1 5-2 5 0 5 1 1 4 2 5 1 5 2 5 3-5 4-3 4-3 4-2 5 0 0-5 1-5 4-4 1-5-4-3-4 2-3 4 2 4-3 4-4 2-5 1-3-4-5-3-4-2-5-1-2 5 2 4-4 4-2 5 2 4 0 5 2 5-4-3-2-5-5 2-3 4-5 1M446 4079l1 5 3 4 3 3 3 5 3 4 2 4 3 4 5 1 3-4 3-5 4-2 5-1 4-3-1-5-4-3-5 1-5 1 1 5-2 4-3 4-3 5-3 3-4-3-5-1-4-3-3-4-4 3-4 3-3 4 3 4 3 3 5 0 5-1-2-4-3-4-1-5-1-5-3-4-3-4-1-5-1-5-4-3-4-3-4 0-4-4-3-4-3-3-4-3-4-4-4-3-3 4-2 4-1 5 3 4 2 5-2 4-4 3-3 4 1 5-5 1-4-2-2-5 2-4 5-2 5-2 3 4 5-2 4-2 5 2 3-4 5 0 0-5-3-4-5-1-5-1-5 1-2 4 1 5 0 5-3 4M390 4063l5 1 5-2 0 5 5 1 4 4 5-1 5 0 3-4 3-4 4-2 3-4 5-2 4-2 1-5-4-2-2-5-2 4-3 5-5 0-4 3-1-5 1-5 3-3 2-5 1-5 3-4-1-4 1-5 1-5-3-4 2 4 5 3 5 1 4 2 5 0 4 4 1 5 3 4 0 5 1 5 5-1 4 2 5-1 2 5-4 3-5 2-4 3-5 0-4-1-3 4-4 4-5 0-5 2-3 4-2 4 3 5 4 3 1 5 5 2 1 5-1 5-4 2-5 0-4 3-3 4 1 5 3 4-1 5-5 0 4 2-4-2-4-3 3-4 5 0 3 4-4-3-4-3-5 2 1 5 3-4M503 4087l5-2 5 2 4 3-3 4 4 4 4 3 3 4-1 5-1 4 2 5-1 5-1 5 0-5-1-5 5-1 2 5-3 4-2 5-2-5-3-3-4-4-5-2-1-4 2-5 1-5-1-5 0-5 3-4 0-5-4-3-5 0-5-1-5 1-2-4 2-5 4-3-1-5 1-5 2-5 0-5 5-2 4-2 5 0 4 3 0 5 4 2 5 1 1 5 2 4-1 5-2 5-4 3-1 5 4 3 3 4 3 4 5-2 1-4 0-5 0-5-2-5-5 1-5 2-4 3-4 3-5-2-1-4-3-4-4-4-3-3M500 4090l3-4 0-5 2-5 5 1 5-1 5 1 5-1-1-5 4-4 5 1 4 2 5 1 4 0 5-3 2-5 3-4-3-3-4-4-4-2-5-2-5-1-2-5-4 2-5-2-5 0-5 1-5 0-3-4 4-3 0 5 5-2 5-2-4 4-4-1-1 5-5 1-3-3 4-3 3-4-3 4-5 2 0 5 2 4 3 5 5-1 5-2-2 5-3 4 2 5 5-1 4 1 5 1 5-3 0-5-3-3 1-5 5-1 5-1 1-5-2 5 1 5 4 3 0 5 4 4 2 4 3 4 5 1 4 3 5-2-4 2M514 4109l4 3 5-1 4 4 4 2 2 4 4 4 3-5 1-5-5-1-2-5-3-4-3-4-3 5 4 3 4 2 2 5 4 3 0-5-1-5 2-4-2-5-4 2-1-5-3-4 0-5-1-4-5-1-5 2-3-4-5 1-3 4-1 4 0 5-4 3-5-1-5-2-3-4-3-4-4-3-4 2-4-4-3-3-1-5 2-5 5 2 4 1 3-4 4-3 5 0 4-2 4-4 3-4 5 1 3 4 4-2 1-5 3-4 2-5-1-5 0 5-1 5-4 3-4 3-3-4-2-4-1-5-3-4-4 4-5 0-5-1M505 4085l-4 4-4 1-3 5 1 4 2 5-3 4-4 4-2 4-4-1-5 2-5 2-4-2-3-4-2-5-1-5-1-5 4-3 5-1 5 1 5 1 1 5-1 5-5 1 1 5 2 5 4 1-2-4-2-5-5-1-4 2-5-2-5 0-4 2-1 5 2 4 2 5 3-4 3-4 4-3 5-1 5 0 1-5 1-5 1-5-1-5-1-5 3-4 3 4 1 5 3 4 4 2 4 4 4-3 3 4-1 5 2 4 4 4 4 2 5-2 5 1 5 0 2 5-1 5-4-3-4-3-1-5 1-5-2-4-3-4 1-5M492 4066l-4 2-4 3-3 4-5 2-1 5 4 3 5 0 4 3 4 3 0 5 4 3 3 4 4 3-3 4 1 5 2 5-5 1-4 3-5 1-3-4-4-3-5 2-1 5-5-2 2-5 1-4 4-4 3-4 4-3 4 2 4-3 5 0 4 2 5 0 1-5 0-5-3-4-4-3 4-4 4-2 4-4 5-1 3-4 4-1 4-3 5 1 3 4 0 5 2 5 2 4 4 3 5 0 5-1 4 4 2 4 0 5-5 0-5 0-5 0-5-2-3-4-5 3-3-4-5-1-4 3-5-2-5-2-3 3-5 1-2-4M495 4066l2-5 4-3 5 1 5 1 4 3 3 4-2 5-2 5-2 4 0 5-3 5 5 0 5-1 4 4-1 5 1 5-3 4 2 4 3 4 1 5-4 3-4-3-2-4 2-5-1-5 3-4 3-4 5 1 5 0 5-1 4 2 3 4 5 0 3-4 0-5-1-5-5-1-3-4-4-3-1-5-5 1-5 1-3 3 1 5-1 5-2 5-3-4-4-4-5 0-5-1-2-5-5-1-5 0-5 0-4 4-5 1 2 5-2 5-2 4-5 1-5 1-5 1-5-1-4 2-5-1 4 1 4-3 1-5 3-3 2-5M563 3701l-15 8-18 1-17 2-13 6-14-2-19 1-11 5-18 6-12 1-16 3-18 1-15 6-11 9-10-4-11 13-4 9-11 6-2 8-7 6-6 12-5 0-6 5-8 8-6 0-2 5-7 0-7-4-6 2-8-3 0-16-9 3-4-10M223 3590l9 0-1 1 10-4 4-2-3 6 7 6 2 10 4 10 7-4 10-1 3 1 8-2 11-1 1-2 7 0 7-1 0 7-11 3 0 4-12 7-13 1-8-3-15 9-7 2-6 11-8 2-6 7-7 11 1 3 1 9 5 7-2 5 1 7 1 1 5 9 1-8M618 3739l2 7 2 9-2 13 9 9 0 11 4 7 3 7 8 12-6 4-2 3-8 4-7 3-5-4-7-2-5-1-5-1 17-1 20 4 16-11 13-1 12-1 9-1 8-3 11 4M550 3535l6-3-4-14 7-6 3-5 11-5 8-4 12 1 5-1 6 2 3 0 4 6 1-2M785 3640l11 1 1-1 20 1 7 9 10-10 12 2 1 2 8-5 6 7 9 5 7 1 8 6 7-13-1-6 8-19 4-5M890 3936l-12-1-1-3-10-4-8-2-8-5-8 1-6-11-15 1M476 3862l4 3 9 5 6-1 9 4 9-1 5-2 5 0 8-1 8 1 9-4 7-4 8 0M334 4122l-4 15-5 10-7 6-3 14 6 6 6-1-2 5 3 0M810 3800l4 7 0 11 4-2 5 8-9 7-10 8-10 5-10 4-7 6-14 3-11-6-4 5M319 4157l6-12 9-12-1-9 11-14-1-13 6-8 11-10 3-8 1-14 8 0 7-10 0-7 7-2 7-13 5-4 4-2 4-14 8-3 7-6 6-14 10-7-1-8 9-3 3 0 10-18 2 1 3-13-4-2 5-13 8-1 3-10 0-6 3-5 7-7-3-12 2-3-8-5 1 0-2-6-2-5M468 3859l9 2 8 5 10-3 5 6 4-3 7 0 9-1 11 5-1-1 4-9 13-4 1 6-3-3 15 1 3 1 1 2-4 6 4 0-4 12 2 1-5 12-7-3-1 0 1 6-17 4 10-1-4 10-1 4 1 8-6 6 9-3 1 8 5-3-5-2 7 3M425 4032l7-6 8-4 8-2 5-3 9-4 11-4-4-7 9-3 6-12 7-2 4 2 9-11 4 5 5-9 7-2 1-9 19-2 6-4 3-4 10-11 11 2 4-1 11-2 6-4 3 0 14-2 2 1 4 1 7-5 5-1 3-4 9-9 4-9 9 0 5-5 9-6 4-1 5-9 12-9-1 0 5 6 4-8 6-11 3 1 6-6M444 4070l12-5 2-8 17-6 9-4 3-3 14-9 12-2 7-6 9-1 7-6 12-4 8-1 5-7 11 7 8-8 4-1 7-11 5-2 7 5 3-17 5-1 12 5 5-7 4 0 2 0 7-9 8 1 5-6 5 4 6-8M531 4042l10 2 4-3 9-2 5 5 7-3 10 0 10-6 4 9 5 0 11 5 11 0 7 9 7-4 12-1 2 1 9 4 8-4 8 10 14 0 1 5 5 5 5 6 6 6-2 8 2 6 6 4-4 6 4 8-2 5 6 11 0 1 1 1 0 8 2 5 0 7 1-1-8 5-1 0 1 2-3 0M569 4061l5 8 1 3 5 7 8 4-3 5 13 1-2 7 7 3 8-4 7 6 4-3 6 3 9-7 6-4 6 0 3-6 2-4 0 0 9-2 2-8M358 4128l7 2 11 3 8 4 3-1 15-1 5 6 10 3 3-1 9 12 22 1 5 0 3 2 11-4 10 2 17 2 6 0 6-9 12 0 0-4 12 0 6-2 6-1 10 3 5-4 9-7 2 9 5-10 1 2 8-2 1-1 4 2-2 12 12 1 0 7-7 13 7 4 3 3-3-1 10 4-2-6M579 4114l4-1 4 1-1 2 6 1 3 5-4 0 2 18-7 1 1 8 1 8" fill="none" stroke="#240a30" stroke-width="7.5" stroke-linecap="round" stroke-linejoin="round"/><path d="M669 3630l0 4 1 5 4 3 4 3 4 2 5 1 5-2 3-4 3-4 3-4 4-3 4-3 5-2 2-4 3-4 2-5 1-5 2-4 3-4-1-5 0-5 2-5 3-4 4-3 1-4 0-5-2 4-5 1 1 5 1 5 5 1 4 2 5 2 5-1 5 1 5 1-5-1-4-3-4-3-5 0-3-4 3-4 5 0-4-3-5-2-2-4-4 3-5 0-5 0-2 4 4 4-2 5-4 2-5 2-5-1-4-2-4-3-4-3 2-4 2-5 2-5 0-5-4-3-3-4-1-5-5 0-4-3 3 4 4 4 5 0 3 3 3 4 3 4 5 0 5 1 5 0 1 5-3 4-4 3-5 0 0 5-2 5-3 4-4 3-5 2-3 4-4 3-4 3-5 0-5 1-3 4-3 4-5-1-5 0-5 3-2 4-2 5-5 0-4-4-1-5-2-4 1-5-1-5-1-5-2-5-3-4 0-5-1-5 4-2 5 0M614 3647l4-3 4 4 5 1 3 4 5-2 5-1 5 0 4-3 5-1 3-4 4-4 4 3 1 4 5 2 5-1 2 5 1 5 5-2 5-2-5 0-3 3-4 4-4 2-1 5 2 5 2 4 0 5 3 5 2 4 5 1 5 1 5-3 4 2 3 4 2 5-1 5-1 4 1 5-4 4-1 5 3 4 4 3 4 3 4 3 4 3 5-1 2-5-2-4-2-5 0-5 1-5 0-5-4-3-3-3-3-4-4-4-3-4-4-2-5 1-5 1-5-1-5 1-5 1-4 2 2 4-3 5-4 3-2 4-3 4-4 4-3 4-3 4-4 3 2 5-1 5 4 2 5-1 1-5-2-4-4-4-1-5 2-5 3-3 4-3 4-4 1-4-2-5-1-4-2-5-4-4-4-1-5-2-3 4 1 5 4 3 1 5 3 4 3 4 4 3 5 1 1-5-4-2-5 0-3-5-5-2-1-5 0-5 3-4 4-3 2-5M652 3662l5 2 4-3 1-5 0-5 0-5 2-5 4-2 4-4 3-4 0-5 1-5 1-5 0-5 3-3-1-5-1-5-4-4-4 3-5 0-2 5-4 4 0 5 5 0 5 2 3 4 4 2 3 4 5 3 4 2 5 1 3-4-2-5-5 0-4-2-5-3-4-2-3-3-2-5 2-4 2-5-4-4-5 0-5 0-4-1-3 5-3 3-5 1-5-2-5-1-3-3 2-5 4-2 5-2 4 4 2 4 0 5-4 3-5 2-1 5-2 5-3 4-5 0-1-5 1-5-3-3-3-4-4-4-3-4 2-5 2-4 0-5 1-5-5-2-5 0-4 4-3 3 2 5 4 2 0 5 0 5 4 4 4 1 4 4-2 5-3 4 0 5-1 5-1 5 1 5 1 5-1 5-4 2-4 4 0 5-1 5-4 3-1 4-3 5 0 5-1 5 0 4-2 5 1 5 1 5-1 5 5 1 5 1 4-2 1-4 2-5M669 3702l3 5 3 4 2 4 5 1 4 3 5 0 5 2 4 3 4 2 2-4 2-5 4-2 5-2 3-3 4-4 4 2 4 3 2 5 4 2 5 1 4 4-5-2-4-2-5-3-4-2-3-4-2-5-2-4-4-4-4-2-4-3-5-1 1-5 2-5 1-5 4-3 3-4 4-2 5 0 5 2 5 1 4 2 2-5 5 0 4-4 4-2 5-3 1-4-4-2-5-2-5-1-5-1-3-3-5 0-5-2-4-2-4-3-5 3 3 4 5 0 5 1 5-1 2-4 3-4 2-5 1-5-2-4-5-1-3-5 2-4 5 0 5 1 4-3 4-2 5-2-1-5-4-3-5 1-4 3-5-1-4-3 0-5 0-5 3-4 4-4 4-2 5 0 4 2 2 5-3 4-5 2-1 5 2 4 4 3 4 4 5 0 5-2-5-1-5-1-5 1-4 3-3 5-3 3-5 1-3-4-1-5-4-3-2-5-3-4-3-4M693 3642l4 2 4 4 4 3-2 5-2 5-2 4 0 5 1 5-4 2-4 2-3-4-2-5-4-3-5 0-4-1-5 2-5-1-4 2 4 4 2 4 0 5 5 2 5 1 1 5 1 5-3 4-5 1-5 1-4-3-4-3-4-3-4 2-5 0-5-1-5-1-5 0-5 3-5 0-5-1-1-4-5-1-5 2-4 2-4 4-1 4 2 5-1 5 3 4 5 0 1-5 0-5 0-5-1-5-4-3-5-1-5-1-3-4-5 3-4-3 3-4 4-3 5 0 4-1 5-3 2-4 3-4 4-4 3-4 1-5-2-4-1-5 1-5 2-5-5-1-4-3-3 4-1 5 2 4 0 5 0 5 0 5-3 3-2 5 1 5 3 4-3 3-4 4-4 2-5 2-4 2-4 3-2 5-4 3 1 5 0 5 1 5 1-5 0-5 1-5 1-5-3-4 0-5 0-5-2-5-1-5-5-3-2-4-5-1-3 4-3 4M697 3687l3 4 4 4 0 5 2 5 3 3 5 1 5 0 5-2 5-1 3-4-2-5-5 0-4 2-1 5 3 4 2 5 0 5 1 4-1 5-2 5-1 5-1 4-5 3-5 1-4-3 2-5 4-3 5-2 5 1 4 2 1 5-2-4-1-5-1-5-1-5 0-5 5-1 4-2 5 2 5-1 2-4 0-5 1-5-1-5-2-5 0-5 0-5 3-4 4-3 5-1 5 2 5-1 4-2 4-4 1-5-1-4 2-5 5-1-3-4 4-4-5 2-5 2-5 0-5-1-3-4-1-5 4-2 4-4 5 0 4-3-4-1-2-5 0-5-3-4-2-4 3-5 5 0-4 4-3 3-5 3-4 2-3 4-5 0-3-4-1-5 1-5 0-5 2-5 1-5 2-4 0-5-1-5-1 5 3 4 1 5-1 5 5 1 5 2 4-2-5 0-3 4-4 3-2 5-2 4-1 5-1 5-2 5-3 4-1 4 1 5M660 3659l-5 1-2 4-2 5 0 5 5 1 4-2 4-3 5-2 5 1 5-1 3 4 1 4-1 5-2 5-5-1-4-3-1-5-3-4 1-5 5-1 5-1 5-1 5 2 3-3-1-5-3-4-5-2-3-3-3-4-1-5 5-3 4 4 3 3 5 2 1 5 5-1 5 0 5 0 5 0 5-2 4 1 4 3 1 5 0 5 1 5-3 4-2 5 4 3 5 0 2-5-3-4-3-3-4 3-5 2-1 5-2 4-5 1-5 1-5 1-5 1-4 3-4 3-5 2-4 1-3 5-4 2-5 2-5 0-5-1-4-3-2-4-2-5-1-5-4-2-4 3-3 4-2 5-5 0-4 2-5-2-5 0-4 3-3 4-4-3-4-3-4-2-4-3-5 1-3 4-5-2-3-4 2-5 3-4 5-2-3-4-3-4 0-5 4-3 5-1 1 5 2 4 1 5 1 5-5 1-4 2-5 2 0 5 3 3 2 5-2 5M647 3662l-4 3-2 5-2 4-2 5-4 3-5 2-5 1-2 4-4 3-1 5-3 4 0 5 0 5-1 5-1 5 1 4 3 4 4 3 1 5 0 5 0 5 3 5 3-4 5-1 5-1 5 1 4-1 1-5-3-4-4-1-5 0-2-4-4-4-1-5-3-4-4-4-2-4-5-2-2-4-4-3-4-3-3-4-4-3 0-5 1-5 4-3 4-3 5 2 3 3 4-3 4-4 2-4 2-5 5 1 5 1 5-1 4-2 3-4 3-4 2-5 3-4 1-5 5 2 5 0 5 0 2 4 5 0 4 3 5 0 4 1 5 3 4 2 2-5 2-5 5 1 5-1 2-4-1-5 2-5-1-5 4-3 4-3 5 0 4-3 3-4 3-4 5-1 4-3 5-2 5 1 5 1 3 3 5-1-5 1-4 3-1 4 2 5 3 4 1 5-2 4-4 4-5 0-4-3 3-4 4-4 2-4 2-5-2-4-1-5-5-1M682 3615l1-5 0-5 0-5 1-5 1-5 1-4-2-5-2-5-3-4-2-4-5 2-4 3-5-1-5-2-5 1-3 4-5 1-5 2-4 2-5-1-5-1-2-5-3-4-4-2-4-4-4-2-5-2-5-1-4 2-4 3-3 4 2 5-5 0 5-1 4-2 5-1 4-3 2-4 2-5 3-4 2 4 5 1 5 2 5 0 5 2 4 1 5 2 4 3 0 5 1 5-5 2 2 4-5 2-5-1-3-3-1-5 3-4 4-3 5 0 5 1 5-1 4-1 5-1 5-2 2-5-1-5 3-4-2-4-5-2-3-4 2 5 3 4 0 5 1 5 5 1 5-1 5-2 2-4 2-5 5 1-1 5-3 5-3 3-1 5-3 4 0 5 2 5 2 4-2 5-1 5-2 5 0 5 1 4 2 5-2 5-4 2-3 4 0 5-5 2-5 0-5 1-5 1-3 3-5 1-5 2-5-1-3-4 1-5 0-5 5-1M605 3682l4 3 0 5-1 5-3 4 2 5-2 5-1 5 4 3 5 0 5 0 4-2 5 2 5 2 2 4-2 5 1 5-2 4 0 5 2 5 3 4 2 4-2-4-1-5 5-2 4-2 4-3 5-1 5 1 5-1 5 0 5 1 5-1 4-2 5 1-4 2-5 1-4 4-2 4-2 5 1 5-5-2-3-4-4-4-2-4-3-4-1-5-2-4-5-3-4-3-5 1-4 3-4 3-1 5 0 5 5 1 3-4 2-4-3-4-5-2-5-1-3-4-1-4-2-5-1-5 5 0 3 4 2 4 5 2 5 0 5 1 4-3 4-4 4-2 5-2 4-2 5 1 0 5 5 1 1 5-1 5-2 4-4 3-5 1-3 4-2 4 2 4 4 4 1 5-3 4 0-5 2-5-3-4-1-5-1-5-2-5-1-5-2-4-4 3-1 5 2 4 1 5 3 5 3 4-1 5-4 3-3 4-1-5 4-3 4-3 5-2M659 3684l-4-3-5-1-5 0-2-4 0-5-2-4-1-5-3-4-1-5 5-3 4-1 5 0 5 0 2-5 1-5-4-3-5-2-2-4-2-5-3-4-2-4 0-5 1-5 4-3 3-4 5-1 3 4-2 4-4 3-5 1-5-2-5 1-2 4-3 5-4 2-4 3-1 5 0 5-3 4-4 3-5 0-5-2-3-4-5 1-5-1-4-3-4-2-1-5 1-5-2-4-2-5-1-5 0-5 3-4 4-3 4-3 5-2 5-1 4-2-3-4-4-3-5-1 0-5 4 2 3 4 5 2 5-2-2-5-2-4-5-1-5 2-4 3-1 4-3 5 0 5 4 3-2 5-3 4 0 5 2 4-1 5 1 5 1 5 0 5 1 5-3 4-1 5 1 5 4 2 5-1 1 5 5 1 5 1 1 5 1 5-2 4-5 1-5-1-5 2-2 4-2 4-2 5-4 2-5 1-5 2-4 3-2 5-4 2 1-5 0-5M702 3663l-2 4 1 5-1 5 4 3 4-1 3-4 2-5 2-5 4-2 3-4-1-5-5-2-5 1-1 4-4 4-5 2-4 2-4 3-1 5-2 5-2 4-1 5-4 3-5 2-4 2-5-1-2-5-2-4-1-5-5-1-5-2-5-1-3 4-5 0-5 2-2 4 4 3 4 3 4 2 2 5-1 5 3 4 4 3 3 4 3 4 5 1 5 2 5-1 3-3 5-2 4 3 4 4 3 4 4 3-1 5-1 4 2 5 3 4 4 3 0-5 0-5-3-3-4-3-5 1-5 2-4-2-5-2-5-1-4 3-4 2-5 2 3 4 3 5 2 4 1 5 2-5 1-5 0-5 3-3-1-5-2-5-3-4-4-3-4-2-2-4-4-3 0-5-3-4-2-5-2-4-2-5-4-3-4-2-5 2-4 2-5 0-5 0-2 5 0 5 5 0 4 0 5-2 5 2 5-2 4-3 2-4 3-5 4-3 1-5 2-4M696 3694l5 0 4-2 5 3 4 1 4 4 3 4-3 5 5 2 4-2 5 0 5 0 5 0 5-2 4-1 5-1 5-2 5-1-5-1-4-4-1-4 1-5 0-5 4-4 2-4 4-3 3-4-3-5-3-4-4 0-3 5-2 4-4 3 1 5 4 3 5 1 4 2 4-3 5-1-2 4-2 5-5 1-4 3-3 4-2 4-5 1 1 5 3 4 4 3-3-4-5-1-5-1-4 2-5 2-2 4-3 4-5-1-4-3-5-2-5 1-4 3-3 4-1 5 0 5 2 4 0 5 5 2-1 5-2 5-4-4-1-4 1-5 0-5 1-5 4-3 4-3 5 1 3 3 5-1 5-2 3-3 2-5 2-5 1-5-4-3-1-5-3-4-4-3 0-4-3-5-5 0-4-3-5-1-2-4 2-5-4-3-1-5 0-5 2-5 4-3 2-4 2-5-4-4-5-1-5 1-4 1-5 2-5-2-3-3 0-5-5-3M685 3656l-4 3-5 1-4 4-5 1-4-2-4-3-5-1-5 2-4 3-4 3-5 0-4 3-4 2-5 2-5-1-4-2 1-5 4-3 1-5 3-4 0-5-4-3 0-5 1-5-5 0-5 2-5 2-3 3-2 4-2 5-2 5-5 1-4 2-5 2-3 4-3 3-2 5-2 4-2 5 3 4 0 5-3 4-1 5-1 5-2 4-2-4-4-3 5 1 4-2 4 3 5 0 5-2 4-3 4-3 3-4 3-4 4-3 4 2 5 2 4 2 5 2 5-1 5 0 5 0 5 2 4 2 5 2 5 0 2 5 4 3 5 1 4-2 5-3-2-5-2-4-4-3-4-3-4-4-4-2-5-1-2-4-5-2 0-5-2-5 3-3 2-5 3-4 2-5-1-4 0-5-1-5-1-5-4-4 3-4 3-4 5-1 5 1 4 1 5-2 4-3 1-5 5-1 3-4 4-4 2-4 4-3-1-5 2-5 0-5-1-5M604 3642l2 5 5 2 5 1 5-1 4-1 5 0 3 4 4 4 4 3 3 4 4 1 5 2 4 3 3 4 5 1 5 1 3 4 5-2 4-2 5-2 3-4 5-2 4-3 1-5 0-5 1-4 5-3 5 0 4 3 3 4 5 1 5-1 4-3 4-3 2-5 3-4 4-3 5 1 2 4 4 2 5-1 5-1 5 1 5 1-5-1-4-3-3-3-4-3-4-4-4-3-5 0-3 3-3 4-4 3-5 1-5 2-4-3-4-3-2-4-4-3-5 0-4-3-4-3-4-3-5 1-4 2-5 1-2 5-1 4-1 5-2 5-4 3 2 5 0 5 3 4 2 5-1 5 3 4 4 3 5 1 5 1 5 2 4 1 4-3 3-4 5-1 4-2 5-1 5-2 5 2 4-1 5-1 5 2 5 0 5 0 4-3 5-2 3-4 3-4 4 2-5 1-4-2-5-1-4 3-4 3-3 4-2 5-4 3-5-2-3-4M620 3610l2 5 3 4 4 3 0 5 3 4-1 5-4 2-5 2-1 5-5 3-3 3-5 2-4-2-5-2-5-1-4 1-5-3 0-5 1-5-4-4-4-2-5-1-5-1-5-1-5-1-5 1-4 1 4-3 3-4-3-4-1-5 4 3 5 0 3-3 5-3 3-3 5 0 5 1 5 1 4 3 1 5 2 5-5 3-3 3-4 3 1 5 4 2 5-2 5-2 4-2 5-1 5-2 3 4-1 5-4 3-5 1-2 5-4 1-5 0-5 3-4 3-3 4-5 0-5 0-5 0-4-2-5 2-5-1-5 1 5-1 5 0 2 5-4 2-5 2-4-2 2 5 4 3 3 3 4 4 5 1 4-3 4-2 5 0 5-2 4-3-1-5-1-5-4-3-5 1-3-3-5-3-4-1-5-2-5 1-3 4-3 4 5 2 5-2 5 1 4-3 4-3 5 2-1 5 5 3 1 4 0 5 2 5 0 5 1 5 2 4M602 3661l3-4 1-5 0-5 2-5 3-4 4-3 1-5 4-3 5-2 4-2 4-3 3-3 5 0 5 3 4 2 5 0 5-2 2-4 5-3 4-1 4-3 2-5 4-3 5 2 5 0 3 4 5 1 5 0 5-2 2-5 5-1 5-1 1 5 4 4-3 4-3 4-4 2-2 5 1 5-1 5-3 4-4 3-4-2-5-3-2-4-3-5 0-4-5-2-5-1-4 2-5-3-5-1-4 2-3 4-4 3-5 1-4 4-4 2 0 5 3 5 2 4 0 5-3 4-2 4-3 5-1 4 4 3 5-1 4 3 1 5 3 4 3 4 4 2 4 4 3 4 0 5-1 5 2 4 5 1 4 1 5 2 5-1 4-3 1-5-3-4-4-3-5 0-4 3-4 3-5 2-5 1-4-2-3-4-1-5-3-4-1-5 3-4 1-5 1-5 5 0 4-4 2-5 1-4 4-3 5 0 4 4 4 2 3 4-1 5-1 5M694 3639l-4-3-4-4-3-4-4-1-4-4-2-4-4-3-5-1 1-5-1-5 0-5-1-5 2-4 4-4 4-2 5 1 5 1 4-4 3-3 5 0 1-4 3-4 1-5 0-5 3-4 3-4 4 2 4 4 5-1-4 3-5-1-3 4 0 5-4 3-5 0-4-3-2-4-5-2-5 1-5 1-4 2-5 2-1 5 1 5 2 4 0 5 2 5-4 4-5-1-5 0-4-2-3-4-4-3-4-3-4-3-3-4 1-5 0-5 4-4 3-3 3-5 2-4 1-5 0-5 0 5 0 5 4 3-1 5-4 4-2 4 0 5 0 5 3 4 3 5 4 2 5 0 5 0 2 5 4 3 4 3 3 3 5 1 5-1 5-2 5 0 5 1 4-3 0-5-5 0-4-3-3-5-4-1-5-2-5-1-4-2-5 1-4 3-5 1-5 2 1 5-4 3-5 1 1 5 1 5 2 5 4 2 0 5-5-2-5 0-3 4M662 3651l2 4 4 4 3 3 3 4-3 4-5 1-5 0-5 2-4-3-5 0-5 1-2 5-5 0-1 5-2 4-4 3-5 1-5 0-5 2-3 4-3 4-5 2-4 3-5 1-5 1-2 5-4 2 0 5-1 5 3 3 3 5 5-1 0 5-1-5 2-4 2-5 5-1 5-1 5-2 4 1 0 5-3 4 0 5 3 5 3 3 4 2 4 4 4 2 5-1 4-4 2-5-3-4-5-2-4-1-5 1-5-1-4-3-5 2-3 3 1 5-1 5 0-5 2-5-4-3-5 0-5 3-3 4-4-2 3-4 3-4 5 1 4-3 2-5 2-5 1-4 4-4-2-5-4-3 2-4 4-3 5 2 4 3 4 3-3 4-3 4-5 2-4-1-5 1-4-3 2-5 2-5-2-4 2-5-3-3-1-5 0-5 1-5-1-5-1-5-2-5-4-3-4-2-2-4-2-5-4-3-4-4-4-3-3-3-5-1-5-1M666 3644l-4 3-2 5-5 1-4-2-5-1-5 0-5-2-5-1-5 0-4-3 0-5-1-5-3-4-4-3-5-2-3-4-5 0-5 2-1 5 1 5-1 5 3 3 2-4 1-5-1-5 0-5-4-3-4-2-1-5 0-5 0-5-5-2-4-3-5 0-4-3-5-1-4 2-3 3-2 5 0 5 1 5 4 2 5 1 5 3 4 0 5 3 2 4 2 5-4 3-5 1-4-3-1-5 0-5-2-4 1-5-4-4-2-5-5-1-5 1 5-1 3 4 1 5 3 3-5 2 1 5 2 4 2-4 1-5 2-5 2-4-2-5-1-5-4-3-3-4 5-1 4-3 5 3 4 2 3 4 5 2 5-2-1-5 1-5 0-5-1-4-4-3-4-3 4-1 5-2 4-3 4-3 5-1 2-4 2-5 5 2 5 2 4 2-2 5-3 4 0 5-3 4 1 5-2 5 3 4 1 5 2 5 2 4 1 5-2 5 2 5M699 3651l5-1 5 0 4-3 3-4 3-3 3-4 0-5-2-5-1-5-1-5-1-4 1-5-1-5-4-3-3-4 2-5 4-2 5-3 2-4-1-5 2-5 3-4 5 0 0 4 2 5 2 5 3 4 5-2 4-2 5 0 3 4-3 4-3 3-5 2 2 5 1 5 1 5 3 4-2 5 1 5 2 4 0 5 3 4 4 3 4 3 3 4 0 5 4 3 5 1-5 0-5-2-1-5-4-4-1-5 1-5-3-4 4-3 3-4 5-3 4 2-3-4 1-5-3-3-4-3-5-2-5 0-4-2-5-2-4-3-4 3-5 0-4 3-4 2-5-1-5-2-4-3-3-4-1-4-4-4-4-2-3-4-3-4 2-5-2-5-3-4 2-5-1-5 0-5-2-4-1 5 0 5 3 3-2 5-1 5 0 5 0 5 0 5 3 4 3 4-2 5-4 3-1 5 1 5 3 4 3 4 3 4 5 1 5-1 5-1 5 0M676 3698l-5 2-4-2-5-1-5 0-2 5-5 2-5 0-5 0 0 5 2 5-5 2 1 5 0 5-2 4-3 4-4 3-2 5 3 4 3 4 5 1 5 2 4 3 5 1 1-5-4-2-3-4 1-5 4-2 3-4-4-3 1-4 2-5 0-5-4-3-4-3 1-5 4-3 4-3-1-5 4-4 2-5-4-3 2-5 1-5 2-4 0-5-4-4-4-2-5-1-1-5 0-5 2-4 1-5 0-5-1-5-5-2-5-1-5 1-4 2-5 1-5-1-3-4-1-5 2-5 3-4 3-4 2-5 5 0 5 3 2 4-2 5-5 1-4-3-1-5 0-5 5 0 5-1 5 1 5 0 5 0 4 4 1 5 0 5-4 3-5-2-5-2-3-3-2-5-5-2-4-3-5 2-4 1-5-1-5-1-4 3-4 1-5 2-5 1-3 4-2 5 1 5 5-2 4-2 2-5-4-3-4-3-4 2-5-2-5-1-5-2M626 3696l5-1 4-2 5-2 4-3 4-3 1-5 1-5-1-5 2-4-3-4-2-5 1-4 4-4 3-4-1-5 0-5-1-5-1-5 2-4 1-5-1-5 2-5 4-2 5 0 5-3 4-1 4-4 5 1 4-2 4-4 5 0 4-3 5 1 3 3 4 4 1 5-3 4-5 0-4 3-3-4-3-4-3-4-5 0-3 4-3 4-5-2-5 0-4-2-5 2-5 1-5 0-4 3-1 4-1 5-3 5-4 2-3 4-4-3-5 0-5-2-3-4-1-5-1-5 2-4 4-3 5-2 2-4 5-3 3-3 3-5 5 0 4-1 5 2 1 5 1 5 3 4 4 2 5 1 0 5 3 4 2 5 4 3 4 2 2 5 0 5-3 4 0 5 1 5-1 5-4 4-3 4-5 0-3 3-2 5-5 1 1 5 1 5 4 3 4 2 5 3 0 5 1 5-2 5-3 4-4 2-5 2-4 2-4 3 1 5 1 5M637 3707l0 5 0 5 3 4-1 4-5 0-4 2-2 5-1 5-2 5 1 5 1 4 5 1 5 1 5 0 5 0 3-4 1-4 0-5-2-5-4-3-4-3-3-4-4-3-1-4-1-5 0-5 4-4 0-5 4-3 2-5 3-3 5-3 5-1 3-4 4-1 5 0 5-2 1-5-2-4-4-3-5-1-4-3-4-3-5 2-5 0 2 5 2 5 4 3 3 3 4 4 4-2 4-3 4-3 4-4 2-4 3-4 3-4 2-5-1-4-5-2-5-2-2-4 2-5 0-4-3-4 1-5-1-5-5-2-5-1-5-1-1-5-5-1-5 2-4 2-2 5 0 5 2 4 4 4 5 1 4 3 4 2 5 2 3 4 5 1 5 0 4 3-3 5-2 4 1 5 1 5-4 4-4 2-5-1-5 1-1 5-3 4 3 4 2 5 3 3 3 4 4 4 1 5 0 5-2 4 4 3-1 5-3 4-5-1-5 0-4 2M754 3980l-5 0-5 1-5 1-5-1-5 1-4 3-2 4-4 3-3 4 2-5 1-4 2-5 5 0 4 2 0 5 0 5-3 4-5 1-1 5 4 2 5-3 5 1 5-1 4 2 5 0 5-1 4 3 5 0 5 2 4 2 5 1 5 0 5-2 4-3 0-5-3-4 0-5-1-5 2-5 3-3 4-4 4-3 2-5 0-5 4-3 3-4 0-5-2-4-5 1-3 4 2 4-5 3-3 4-5-1-4-3-5-1-1-5 4-4 5-1 5-1 3-4 1-4-2-5 3-5 3-3 1-5 1-5 4-4 1-4 1-5-4-3-4-3 0-5-3-4-4-3-3-4-4-3-5-1-5 0-5 2-4-4-4 1-5 3-3 4-4 2-4 4-2 4-3 4 0 5-2 4-5 3-4 2-2 5-4 3-5 2-5 0-4 3-4 3-5 0-5 0M787 3987l5-1 4-2 4-3 0-5 3-5 4-2 4-3 5 0 5-1 3-5 0-5 4-2 2-5 5 1 4 2 4 4-3 4-4 3-2 5-1 5 0 4-1 5 0 5-3 5 3 4 1 5 0 5-5 1-3-4-2-5-1-5 0-5 2-4-3-5-4-2-1-5-2-5-2-4-4-4 0-5 3-3 4 4 4 1 5 0 5 1 5 2 5 0 4 3 5 1 4-1 5-3 1-5 2-4-3-5-4 3-3-4-5-2-5-2-4 3-5 2-5 0-3 4-3 4-1 5-3 4-5 1-3-4-5 0-5-1-4-2-2-5-4-3-5 1-3 4 0 5-1 5 4 3 2 5 5 2 3 4 3 4 4 3 1 5 3 4 4 3 3 4 5 1 5 2 4 3 3 3 3 4 4 4 4 2 5 0 2-4 4-3 3-4 1-4 4-4 3-3M772 3963l2 5 5-2 4-3 5 2 4 2 5 1 4 4 4 2 4 2 3 4 5 1 2-5 5-1 5 1 4 3 5 0 5 2 4 2 5 0 4-3 3-4-5-1-4-4-4-3-3-3 0-5-2-5 3-4 4-4 4-2-2-4-4-3-4-3 0-5 2-5 2-4-2-5 0-5 1-4 2-5 0-5 3-4 4-3 5 0 5 1 5-1 5 2-2 5-2 4-2 5 0 5-2 4 1 5-2 5 2 4 2 5 2 4 2 5-1 4-3 5 3 4 1 5 1 4 2 5 4 3 4 3-5 0-5 1-2 4-4 3-5 2-3-3-4-4-4-1-5-2-4-3-2 5-4 2-1 5-5 0-5 1-5-2-5-2-4-3-3-4-5 2-4 2-5 1-3 4-2 5 0 5-2 4 0 5 4 4 1 5 3 4-1 5-2 4 3 5 5 0M776 3896l0 5 3 5 3 3 4 3 3 4-3 4-5 2-4-3-3-4 1-5-4-2-2-5-5 1-5 0-5 1-3 3-5 2-5-1-3-3-5-1-4-4-2-4 1-5 2-5 3-4 4-3 5-1 5-1 4-3 4-3 4 2 4 3-3 4-1 5-2 4-3 4-2 5-3 4-1 5 2 4 5 1 4 3 5-1 1-5-2-5-3-3-5-2-5-1-2-4-2-5-2-5 3-4 0-5-1-5 2-4 3-4 2-5 4-3 4-2 5-1 5 0 5 1 4-4 5 1-5 1-4-3 3 4 5 1 4-1 5 3 5 0 4 1 5 1 5 1 5 1 5 2 2-5-3-4-1 5-4 4-2 4-1 5-3 4 1 5 3 4-3 4-2 4 1 5 3 4 3 4 5 2 4 2 4 4 1 5-3 4-5 1-4-2-5-2-2-5-4-2M806 3974l3-5 5-1-1 5-5 1-4-3 4-3 3 5 2 4 5 2 4 2 3 5 4 2 5-1 5-2-2-5 1-5-1-5-2-4-5 0-2 4-5 2-5-1-2-4-3-4 0-5 5-2 3-4 5-2 4-2 5-1 5 1 5 1 5 1 4-2 3-4 0-5-4-2 0-5-3-4-3-3-5 1-3 4-5 0-5 2-3-4-5-1-3-4 1-5-1-5-5 1-5 0-5 0-5-1-4-3-5 2-1 4-4 4-4 3-2 4-2 5 0 4 3 5 3 3 5 2 5-2 3-4 0-5 0-5 0-5-2-4 4-4 2-4 0-5 2-5-2-5 0-5-2-4-1-5 1-5-5-2-4 2-5 3-4-3-3-4-1-5 2-4 3-5 0-5-4-3-4-3-1 5 2 4 3 4-1 5-1 5-1 4-3 4-5 3-5 0-4 1M828 3934l0 5-1 5-3 3-4 3-5 0-5-3-4-3-3-3-5-2-4-3-5 2-5-1-4 1-5 3-1 5 1 4 4 3 5 1 5 0 5 1 5 2 5 0 5 0 1 5 5 1 5 1 4 2 4 3 5 0 2-5 5-1 1-5 4-3 4-2 4-4 1-5-2-4 0-5-2-5 0-5-4-4-4-2-5-1-4-2-5 1-3 5-5 0-5 1-4-1-5-2-4-3-5 1-3-3-5-2-4-2-4-4-2-4-4-3-3-4-1-5 0-5-2-4-3-4-4-4 0-5 2-5 0-5 2-5-2-4-3 4-5 0 1 4-5 2-3 3-2 5 1 5 3 4 4 2 5 1 5-3 4-1 4-4 2-4 5 1 5 2 4 0 5 1 5 2 5 2 5 0 0 5 1 5-1 5-5 1-5 0-5 0-3 3-3-4-5-1-5 1M792 3938l4 4 3-4 4 2 4 3 5 1 5-1 3-4-2-5-4 4 2 5 1 5 2 4-1 5-2 5 1 5 4 3 3-3 2-5 4-2 4-4 1-5 2-4 3-4 2-5-2-4 4-4 4-3 4-2 1-5-1-4-1-5-2-5 4-3 3-4 4-3 5-2 3-3-2-4 1-5-5-3-5 0-4-1-5 0-5-1-5-2-4-3-2-5-3-4-5 1-4-3-3-4-5-1-2-5-3-4 2 5 4 2 4-4-1 5 1 5-3 4-4-4-2-4-3-4-4-3-4 3-5 0-5 2-5-3-3-3-4 3-4 4-3 4-1 5 5 1 5 1 3 4 4 3 1 5 4 2 2 4 5 3 5-2 2-4-2-5-1-5 1-5-5-1-5 1-5-1-4-3-5-1-1-5-2-4-5 1-5 0-5 0-3 4-2 5 2 5 3 3M788 3915l-4 2-5 1-5 1-3-4-2-5-2-4-5-2-5 0-5 1-2-4-4-4-3-4-3-3-4-3-4-3-4 3 3 4 5 3 5 0 5 0 4 3 2 4-1 5 0 5 1 5-5 2-1 5-1 5-1 4-1 5-2 5-3 4-5-1-4 2-5 1-4 3 0 5 1 5 5 1 3 4 4 3 5 2 5 0 3-4 5 0 5 2 4 3 3 4 3-5 4-2 4-4 5-1 5 1 4 1 2 5-1 5 3 4 1 5-1 5 1 5-1 5-2 4 2 5 2 4 4 3 5 2 3 3 0 5 1 5 1-5 4-2 5-3 4 1 4 4-3-4-5-1-5 1-5 1-5 0-5-1-5 0-5-1-4-2-3-4-4-2-5-2-5-1-1-5 1-5 0-5-3-4 2-5 1-5-2-4 1-5 2-4 5 1 5 1 5-1 5 1M787 3965l3-4 3-4 4-2 3-4-3-5 1-5 4-3 3 3 2 5 2 5 3 3 3 5-2 5 3 4 2 4-2 5-5 2-3-4-4-2-4-3-4 2-4 4-3 3-2 5-4 3-5-1-5-1-2-4 2-5 0-5-4-3-5 1-5 1-4 1-5-2-5 2-5 1 1 5 4 4 3 3 2 5-4 4-2 4-1 5-3 4-1 4-4 4 5-1 4 3 4 4 4 2 3-4 4 1 5 0 3-4 3-4 1-5 5 1 5 0 5 0 5 1 5 1 3-3 5-2 5-2 4-1 5-1 5-1 3-4-5-3-4-3-5 2-2-5-2-4-4-3-5 1-5 1-5-3-4-1-5 2-1 5-3 5-1 4-5 1-3 3-3 5-1 5-2 5 1 4 5 2 5 1 3-4 5-1 4-3 5-1 3-4 3-4 2-4 0-5-1-5M829 3927l2-4 5-1 5-1 5-1 4-3 5-1 3 4-2 5-4 3-5 0-3-4 1-5-3-4 3-5-4-4-3-3-4-4-2-4 1-5 4-2 5 2 4-3 3-4 3-4 3-4 2-5-5 2-5 0-5 1-4 2-4 3-4 3-3 5-3 3-2 5-1 4-2 5 0 5 1 5 3 4 4 3 4-2 4-3 4 3 4 3 5 1 2 5 3 3 4 4 3 4 0 5 5 1 4 4 3 3 2 5-1 5-1 4-2 5-4 3-3 4-2 4 0 5 2 5-1 5 1 5 3 3-3-3-4-3-2-5-2-4-3-5 1-5 4-3 4-1 5-1 5-2 3-4 1-5 1-5 0-5 0-5 0-5 3-3 5 1 5-1-1-4-3-4 4-4-5-2-4-2-5-2 0 5-2 4-2 5 5 2 5 2 4 3 4 3 5 0-4-3M784 3917l2-5 3-4-1-5-1-5-3-3-4-4 0-5-2-4-4-2-5 0-5 2-2 5-5 2-3-4-4-3-5-3-4 0-4-4-4-3-5-1-5 0-3 3 0 5 2 5-4 4-4 3-3 4-1 5 1 5 2 4 5 1 5-2 1-5 1-5 4-2 4-3 4-4 2-4 3-4 2-5 4-2 5-2 4-3 5 1 5-3 5 0 5 1 4 3 3 4-2 4-3 5-4 2-4 4-3-4-2-4-5 0-5 1-5 0-3-4-3-4-4-3-5-1-3-4 2 5 0 5 5 0 1-4-1-5-1-5 5 0 3 4 2 5-1 5 1 5 3 3 3 4 5 3 4 1 5 2 4 3 5-1 5 0 5-1 3-4 1-5 3-4 4-3-2-4 0-5-4-3-5-2-5 1-5 0-5 1-2 4-2 5-2 5 4 3 4 3 5 1M788 3935l-5 0-5-1-4-3-5-1-2-4-5-2-5-1-4 2-5 2-5-2-4-2-5 2-3-3-5 0-5-2-5-2-5 0-5 0-4-2-4-3-1-5 5 1 5-1 5 1 3-3 5 0 4 3 4 4 2 4 5 2 4 2 5 0 4 3 5 2 4 3 4 3 4 3 3 4 4 3 5 2 4 1 5-2 2-5 4-2 4-3 4-3 4 2 3 4 2 4 0 5 3 4 3 4 5 1 5-1 3-4 5-2 5 1 4 2 5-2 3-4 5-1 5 0 4 3 2 5 1 4 2 5 2 5-1 5 5 1 5-1 5 0-5 0-5-1-2-5-3-4-5 1-3 5-5 1-5-1-4-2-5-3-3-3-5-2 1-5 1-5 2-4-4-3-4-3-3-4-2-5 1-4 2-5 5-1 3-4 0-5 1-5 3-4 4-4 2-4 1-5M813 3957l-1 4-3 5-2 4-4 3-4 3-4 3-2 4-2 5-2 4 0 5 1 5 1 5 4 4 4-1 1-5-2-4-1-5-1-5-4-2-4 2-4 3-5 1-5 0-5-1-5 2-5 2-4 2-5 2-4 3-5 0-5 1-4 2-4 4-3-4 1-5 3-5 4-2 4-3 2-5 3-4-1-4 1-5 1-5-1-5-2-4-4-4 0-5-2-4 0-5 1-5 3-4-4-3-4-2-2-5 3-3 4-4 1-5-1-4-1-5 1-5 1-5 0-5-1-5-1-5 0-5 3-4-1-5 1 5 2 5 3 4 5 2 3 4 5-1 3 3 5 0 3 4 5 0 4-4 5 1 3 4 3 4 1 5 5 1 0 5 2 5 4 3 4 3 1 5 2 4 3 4 3 4 3 4 4 4 5 0 5 1 4 2 2 5-2 5 0 5 4 3M810 3920l-3 4-2 5-4 1-3 4 1 5 5 2-1 5-1 5 5 3 2 4-2 5-2 4-1 5-2 5-5 2 0 5 2 4-1 5 1 5 2 4 1 5 3 4 2 5 1 5 2 4 1 5-2-4-4-3-4 3-2 5-3-4-3-5-4-2-4-3-1-5 2-5 4-2 3-4 4-4 4-2-2-5 1-5 3-4 3-3 0-5 3-4 2-5-2-4 4-4-1-5-4-1-5 0-5 1-5 1-3 4-2 5-4 3 1 5 4 2 4-4 2-4 4-4 2-5-3-4-3-3-2-5-2-4 0-5 3-5 0-5-3-4-3-4-2-5-5-1-4 3-5 0-4-2-5-1-1-4-3-4-2-5 1-5 4-3 5 0 5 2 3 3 3 4-1 5 3 4 2 4 5 3 3 4 3 3 4 3 5 2 5 1 5 1 3 4 2 5 5 1M798 3915l-3 3-3 5-3 4-2 4-4 4 1 5-2 4-2 5-4 3-4-1 0-5-2-5 0-5 1-5-4-2-3-4-1-5-3-4-2-5 0-5 0-5-2-4-4-3-4-3-4-2-5 1-4-2-1-5 0-5 1-5 0-5 3-5-3 5-3-4 4 4 3 3 2 5 2 4 0 5-3 4 4 4 1 5 2 5-1 5-3 3-5-1-5-1-4 2-5 1-4 3-5-3-4-1-5-1-3-4-5 3 5 1 1 5-4 2-5-1 3 4 1 5 5-3 5 0 5-1 2-4 2-5 4-3 3-4 0-5 3-4 1-5 4-3 4-3 4 2 5 0 4-3 4-2 5 0 4 3 2 5 4 2 4 3 4 3 5-2 4 3 1 5 5 2 4-1-1-5-2-5-2-4 1-5 3-4-5-2-5 1-3 4-4-2-5-2-2-5 2-4M789 3948l-5-1-2-5 1-5 1-5-1-5-2-4-1-5 2-5 2-4 3-5-2-4-1-5-5-1-5-1-4-3-3-4-5 1-4 4-5 0-4 3-5 0-3-4-5 2-5 1-5-2-2-5-5 0-5-2 5 2 4-3 5-1 2-5 5 0 5 2 3 3 1 5 4 4 5 1 2 4 0 5 4 2 3 4 1 5 4 3 5 2 5-2 4 0 5-1 5 0 5 3 4 2 5-2 4 2 5-1 4-3 2-4 3-5-2-4-4-3-4-3-4-3-5 0-3-4 0-5 4-3-1-5 3-4 5 2 5 0 5 0 4-3 2-5 3-3 5 0 0-5 1 5-4 3-5 2-2 4-3 4-2 5-1 4-2 5-1 5-4 3-5 1-2-4 0-5 2-5 5-1 4-3 2-5 3-3 2-5 4-3 4-3 1-5-4 3-2 5-1 5M818 3935l-1-5-1-5-2-5 1-5-2-5-1-4-3-5-3-4 2-5 4-3 4-3 3-4 0-5 4-3-3-5-4-3-1-5-3-4-1-5-5-2-5 1-5 0 5 2 3 4 5-1 5 0 5 0 5 0 5-2-3 4-3 4 0 5-1 5-3 4-2 4 3 4 5 1 4 3 4-3 5 3 4 2 2 4 2 5 0 5-1 5-3 4-3-4 1-4 1-5 2-5 5 0 4-3 3-4 4-3-1-4 0-5-2-5-4-2-5 1-3-4 0-5-2 4-4 4-2 4 1 5-1 5-2 5-3 4-4 3-4 2-4 4-5 0-5 0-4-3-4-2-5 1-3-4 0-5-5-3-3-3-5-1-5 0-5 1-1 4 0 5 4 4 0 5-1 5 1 4 5 1 5 0 2 5 1 4 1 5-4 4-3 3-3 4 1 5 3 4 5 1M793 3961l0 5-4 4-4-2-5-2-5 2-4 2-5 0-5 0-5 2-3 4-1 5 3 3 3 5 2 4 2 5 5 0 5-1 5-1 5-1 4 2 3 4 3 5 5-1 2-4 5 1 5 0 5 0 5-1 5 3-3 4-5 0-3 4-4 3-5 1-5 1-2-5-1-5 0-5 0-5-4-3-5-1-5-2-5-1-4-1-2-5-5-2 1-4-3-5-5 0-4-2-4 4-2 4-4 3-5 0-5 2-5-2-3-4-4-3-3-4-2-5 5-1 4-2 5 0 5-2 0-5-1-5 0-5 1-5 5 1 5 1 5 1 5 2 4 1 5 3 5 0 1-5 0-5-3-4-2-4-5-3-4-3-5 2-4-3-4-3-5 0-3 4-5 1-5-1-5 1-5 0-4 2-5-2-4-3-4 3-4 3-1 5-1 5-1 5 2 5 0 5M782 3929l-5 3-4-1-5 2-5-2-3-4-3-4-1-4-3-5 0-5 4-1 4 3 4 3 5 1 4 2 5 2 5 2 4 2 5 1 5-1 5 0 5 1 3 4 5 0 5 0 1-5-1-5-1-5 1-5 3-4 3-4 5-1 5 0 4 3 5-2 4 1 2 5 4 3 2 4 3 4 0 5 3 5-1 4 0 5 3 4 3 4-2 4-4 3-4 2-4 4 0 5-1 4-4 4-5 1-5 2-3-4-1-5-3-4-3-4-4-3-3-4 1-5 3-4 3-4 5 1 4-3 2-5 5 1 5 0 5-1 3-4 2-4 2-5 2-4 4-3 5-2 3-3 2-5 4 3 3 4-3-4-4-2-5 0-5 1-4 3 1 5-2 4-1 5-2 5-1 4-5 2-5 2-4 3-1 5 3 4-2 4-5 1-5 1-3 4-4 3 3 4M789 3947l0-5 0-5-5-2-5 0-5 1-2 4-1 5 0 5 0 5 3 4-5 0-4 4-5-1-5 1-4-2-5 0-5 2-5-1-4 1-5 3-2 4-3 4-5 1-3 5-4 2-2 5 4-2 4-3 3-4-3-3-4-4-5-1-4 2-5 2 3 4 1 5 3-4 5-2 3-4 5 1 3 4-2 4-5 2-4 2-5 2-1-5 5-2 5 0 4-2 5-1 5-1 5 0 5-1 3-4 5-2 5-1 4 2 1 5-2 5-4 3-5 0-5-1-4-2-5-1-5 0-5 0-4-3-3-4 4-3 0-5-3-4-5 0-5 0-5 2 3 5 3 4-3 4 0 5 3 4 1 5 5 0 5 0 5-1 5 0 5 1 4 2 2 5-3 4-3 4-4 3-5 1-4-4-3-3-2-5-2-4-5-2-1-5 1-5 5-3 3-4M628 3957l4-5 5-4 5-2 1-6 0-6-1-6-5-4-6-1-5 2-6 2-6-3-4-4 5 3 5 4 5 3 6 0 6 2 6 1 5 2 4 5 4 4 6-1 4-4 5-4 1-5-1-6-5-3-6-2-6-2-6 1-5 1-4-6 1-6 0-5-4-5 2-6-4-4-1 6 0 6-3 5-2 5-5 5-6-1-6 1-2 5 3 5 4 4 5 4-5 4-6 2 1 6 2 6 1 6 1 6-2 5 1 6 0 6-1-6 4-4 4-5M645 3963l3 5-1 6 2 6 5 3 3 5-3 5-6 1-5-3-5 3-5 3-6-2-4-4-1-6-2-6-6-1 4-4 4-5 2-6-3-4-2-6-3-5 2-6 0-6 3-5 2-6 3-5 3-5 1-6 5-3 6 2 4 4 5 4 3 5 6 3 5 2 6-1 4 5 1 5 1 6 1 6-4 5-5 3-6-2-1-6 3-5 4-4-1-6 2-5 0-6 0-6-3-5-6 0-6 1-6 2-5-1-2-5-6 3-6 1-5 3-6 0M669 3953l3-5 0-6 3-5 1-6-3-5-1-6-1-6 2-6-5-2-6 0-5-4-5-3-3-5-6-2-6 1-4-4 1-6 5-4-4 5-6 2 1 6-4 5-2 5-2 6-1 6 2 5 5 4 6 1 6 2 5 2 6 2 4 4 6 2 6 0 5-3 3-5 6-3 1-5 3-6-2-5 0 6 3 5 5 3 1 6-2 5-3 5-6 2-5 1-6-2-5-3-6-2-6 0-3 5-2 6-5 3-5 4-6-1-5 2-5 4 2 6M651 3951l-2-5 0-6 4-4 6-2 5-3 5-4 6 1 5 1 2 6 5 4 6 1-6 0-5-4-5-3-4-5-4-4-4-5-5 1 1 6-1 6-6 3-5-2-6-1-4-4-6-3 1-6 3-4 4-5 3-5 5-3-1-6-3-5-1-6 3-5 5-3 3 6 3 4 4 5 5 3 4 5 6 0 6 1 2 5-5 3-6 3-5-1-6 0-6-2-6-1-6 1-5-3-6-2-5 4-4 4-4 4-5 3-5 3-3 6 0 6-1 6M441 4071l-5 1-5-1-5-2-5 1-3 4-4 3-5-1-5-1-4-3-5 0-3-5 2-4-3-4-5 0-2-5-1-5 3-3 5 1 4 3 5 1 1-5-1-5-5 0-1-5 2-4 0-5-3-4-2-5 5 3 2 4-2 4 1 5 2 4 5 2 5 0 4-3-3-5-2-4 0-5 5-2 5 0 3 4-3 4 2 5 5 2 2 4-1 5-4 3-5 0-5 1-2-5-3-4 0-5-4-3-2-5 2-4 2-5 4 3-2 5-3 4-2 5-4-3 4-3 0-5-5-2-5 0-4-1 5-1 0 5-1 5-4 3 0 5 4 2 2 5 5 2 2 4-3 4-3 4-4 3-5 0M402 4047l5-1 2 4 3-3 1-5-5-1 1-5 3-3 5-2 4 2 5 2 2-5-2-5-4-3-5 0-5 2-5-1-4-2-5 1-4-2-5-1-4 3-4 3-4 3-3 4 3 4 3 5 3 4 3 4 2 4-3 4-4 1 0-5 1-4 5-2 5-2 4-2 2-5 0-5 5-1 5-1 0 5 2 4 5 1 4 3 4 2 5-1 5 1 4-4 0-5 0-5 4-2 5-2 5 2 4 1 2 5 5 1 2-5 5-1 1 5 5 2 4 3 4-2 0-5 2-5-5 1-3 4 5 2 4 3 0 5 3 4 1 5 4 3 2 5 0 5-5 0-5 0-4-3-4-3-2-5-5 1M402 4050l-5 0-5 2-5 1-3 4-1 5 4 3 4 4 1 5 0 5-5 0-3 4-3 4-4 2-5 1 3-4 4-1 2 5 1 5-4 3 5 0 1-5 3-4 3-4 4-2 4-4 4-3 2-4 1-5-4 2-5 2-2 4-3 4-5 1-1 4 0 5-1 5-3 4 4 1 2 4 4 3 3 4 5-3 0 5-1-5-3-3-5-2-5 0 4 4 4 2 5-1 4-2 5 0 1-5 0-5-1-5 4-3 4-3 3-4 2-4 5-1 1-5 2-5-1-5 0-5 4-3 4-3 5-1 4-3 5-2 4 3-4 1-5-1-1-5 3-4 4-3 3-4 3-4 4-3 4-2 5 2M455 4056l-5 0-5-2-5-2-4 3-5 0-5 0-5 1-4 2-5 2-5 0-4-4-4-2-4-3-4-2-3-4-5-2-5-1-3-4-5-1 4-3 3-4 2-5 4-3-2 5 0 5 1 4 1 5 5 3-4 4-5-2-4 2-4 3-5 2 5 0 5-1 5 0 5 2 4-3 4-2 5-2 1-4 2-5 0 5-2 4-4 3-4 3-5 1-3 4-4 3-5-3-4-3-2-4 1-5 0-5 0-5 4-3 5 0-1 5-4 2-5 3-3 4 1 4 0 5-1 5-4 3 2 5 0 5 5 2 4-2 1 5 5 2 1 5 5 2 2-4 3-5 4-1 5-2 2-5 5-1 5 1M427 4064l5 1 4 3 5 0 4 3 0 5 0 5-4-2-5-2-1 5-3 4 0 5-5 0-5-1-5 0 1-5-2-5 1-5 3-4 4-2 4-3 5-3 4-1 5-1 4 3 4 4 2 4 2 5 4 3-1 5-2 5-2 4-1 5 4 2-1 5-5 2-4 3-4-2-1-5 4-3 4-2 2-5-2-5-2-4-2-4-5 1 1 5 4 2 4 3 4 4-1 5 1 4 3 4 5 0 2 5-5 0 4-4 5-1 4-2-4-3-4-3 0-5-3-4 2-5 3-4 4 2 3 4 2 5 2 5-3 4-5 0-3-4-5 0-5 2-5 1-3 4-5 0-3-4-4-3-5 1-4 2M394 4071l-5-2-4 3-3 3-5 2-5-1-4 3 5 0 1 5 3 4 5 0 4-3 5 2 1 5 1 5-2 4 3 4 0 5 2-4-4-3-5-1-2-5-5 2 3-4 5 2 4-3 2-4 4-2 4-3 4-3 5-1 1-5 0-5 1-5 5-1 5 0 5-1 4-3 4 1 4-4 5-1 4-1 5-2 5 0 5 1 1 4 2 5 1 5 2 5 3-5 4-3 4-3 4-2 5 0 0-5 1-5 4-4 1-5-4-3-4 2-3 4 2 4-3 4-4 2-5 1-3-4-5-3-4-2-5-1-2 5 2 4-4 4-2 5 2 4 0 5 2 5-4-3-2-5-5 2-3 4-5 1M446 4079l1 5 3 4 3 3 3 5 3 4 2 4 3 4 5 1 3-4 3-5 4-2 5-1 4-3-1-5-4-3-5 1-5 1 1 5-2 4-3 4-3 5-3 3-4-3-5-1-4-3-3-4-4 3-4 3-3 4 3 4 3 3 5 0 5-1-2-4-3-4-1-5-1-5-3-4-3-4-1-5-1-5-4-3-4-3-4 0-4-4-3-4-3-3-4-3-4-4-4-3-3 4-2 4-1 5 3 4 2 5-2 4-4 3-3 4 1 5-5 1-4-2-2-5 2-4 5-2 5-2 3 4 5-2 4-2 5 2 3-4 5 0 0-5-3-4-5-1-5-1-5 1-2 4 1 5 0 5-3 4M390 4063l5 1 5-2 0 5 5 1 4 4 5-1 5 0 3-4 3-4 4-2 3-4 5-2 4-2 1-5-4-2-2-5-2 4-3 5-5 0-4 3-1-5 1-5 3-3 2-5 1-5 3-4-1-4 1-5 1-5-3-4 2 4 5 3 5 1 4 2 5 0 4 4 1 5 3 4 0 5 1 5 5-1 4 2 5-1 2 5-4 3-5 2-4 3-5 0-4-1-3 4-4 4-5 0-5 2-3 4-2 4 3 5 4 3 1 5 5 2 1 5-1 5-4 2-5 0-4 3-3 4 1 5 3 4-1 5-5 0 4 2-4-2-4-3 3-4 5 0 3 4-4-3-4-3-5 2 1 5 3-4M503 4087l5-2 5 2 4 3-3 4 4 4 4 3 3 4-1 5-1 4 2 5-1 5-1 5 0-5-1-5 5-1 2 5-3 4-2 5-2-5-3-3-4-4-5-2-1-4 2-5 1-5-1-5 0-5 3-4 0-5-4-3-5 0-5-1-5 1-2-4 2-5 4-3-1-5 1-5 2-5 0-5 5-2 4-2 5 0 4 3 0 5 4 2 5 1 1 5 2 4-1 5-2 5-4 3-1 5 4 3 3 4 3 4 5-2 1-4 0-5 0-5-2-5-5 1-5 2-4 3-4 3-5-2-1-4-3-4-4-4-3-3M500 4090l3-4 0-5 2-5 5 1 5-1 5 1 5-1-1-5 4-4 5 1 4 2 5 1 4 0 5-3 2-5 3-4-3-3-4-4-4-2-5-2-5-1-2-5-4 2-5-2-5 0-5 1-5 0-3-4 4-3 0 5 5-2 5-2-4 4-4-1-1 5-5 1-3-3 4-3 3-4-3 4-5 2 0 5 2 4 3 5 5-1 5-2-2 5-3 4 2 5 5-1 4 1 5 1 5-3 0-5-3-3 1-5 5-1 5-1 1-5-2 5 1 5 4 3 0 5 4 4 2 4 3 4 5 1 4 3 5-2-4 2M514 4109l4 3 5-1 4 4 4 2 2 4 4 4 3-5 1-5-5-1-2-5-3-4-3-4-3 5 4 3 4 2 2 5 4 3 0-5-1-5 2-4-2-5-4 2-1-5-3-4 0-5-1-4-5-1-5 2-3-4-5 1-3 4-1 4 0 5-4 3-5-1-5-2-3-4-3-4-4-3-4 2-4-4-3-3-1-5 2-5 5 2 4 1 3-4 4-3 5 0 4-2 4-4 3-4 5 1 3 4 4-2 1-5 3-4 2-5-1-5 0 5-1 5-4 3-4 3-3-4-2-4-1-5-3-4-4 4-5 0-5-1M505 4085l-4 4-4 1-3 5 1 4 2 5-3 4-4 4-2 4-4-1-5 2-5 2-4-2-3-4-2-5-1-5-1-5 4-3 5-1 5 1 5 1 1 5-1 5-5 1 1 5 2 5 4 1-2-4-2-5-5-1-4 2-5-2-5 0-4 2-1 5 2 4 2 5 3-4 3-4 4-3 5-1 5 0 1-5 1-5 1-5-1-5-1-5 3-4 3 4 1 5 3 4 4 2 4 4 4-3 3 4-1 5 2 4 4 4 4 2 5-2 5 1 5 0 2 5-1 5-4-3-4-3-1-5 1-5-2-4-3-4 1-5M492 4066l-4 2-4 3-3 4-5 2-1 5 4 3 5 0 4 3 4 3 0 5 4 3 3 4 4 3-3 4 1 5 2 5-5 1-4 3-5 1-3-4-4-3-5 2-1 5-5-2 2-5 1-4 4-4 3-4 4-3 4 2 4-3 5 0 4 2 5 0 1-5 0-5-3-4-4-3 4-4 4-2 4-4 5-1 3-4 4-1 4-3 5 1 3 4 0 5 2 5 2 4 4 3 5 0 5-1 4 4 2 4 0 5-5 0-5 0-5 0-5-2-3-4-5 3-3-4-5-1-4 3-5-2-5-2-3 3-5 1-2-4M495 4066l2-5 4-3 5 1 5 1 4 3 3 4-2 5-2 5-2 4 0 5-3 5 5 0 5-1 4 4-1 5 1 5-3 4 2 4 3 4 1 5-4 3-4-3-2-4 2-5-1-5 3-4 3-4 5 1 5 0 5-1 4 2 3 4 5 0 3-4 0-5-1-5-5-1-3-4-4-3-1-5-5 1-5 1-3 3 1 5-1 5-2 5-3-4-4-4-5 0-5-1-2-5-5-1-5 0-5 0-4 4-5 1 2 5-2 5-2 4-5 1-5 1-5 1-5-1-4 2-5-1 4 1 4-3 1-5 3-3 2-5M563 3701l-15 8-18 1-17 2-13 6-14-2-19 1-11 5-18 6-12 1-16 3-18 1-15 6-11 9-10-4-11 13-4 9-11 6-2 8-7 6-6 12-5 0-6 5-8 8-6 0-2 5-7 0-7-4-6 2-8-3 0-16-9 3-4-10M223 3590l9 0-1 1 10-4 4-2-3 6 7 6 2 10 4 10 7-4 10-1 3 1 8-2 11-1 1-2 7 0 7-1 0 7-11 3 0 4-12 7-13 1-8-3-15 9-7 2-6 11-8 2-6 7-7 11 1 3 1 9 5 7-2 5 1 7 1 1 5 9 1-8M618 3739l2 7 2 9-2 13 9 9 0 11 4 7 3 7 8 12-6 4-2 3-8 4-7 3-5-4-7-2-5-1-5-1 17-1 20 4 16-11 13-1 12-1 9-1 8-3 11 4M550 3535l6-3-4-14 7-6 3-5 11-5 8-4 12 1 5-1 6 2 3 0 4 6 1-2M785 3640l11 1 1-1 20 1 7 9 10-10 12 2 1 2 8-5 6 7 9 5 7 1 8 6 7-13-1-6 8-19 4-5M890 3936l-12-1-1-3-10-4-8-2-8-5-8 1-6-11-15 1M476 3862l4 3 9 5 6-1 9 4 9-1 5-2 5 0 8-1 8 1 9-4 7-4 8 0M334 4122l-4 15-5 10-7 6-3 14 6 6 6-1-2 5 3 0M810 3800l4 7 0 11 4-2 5 8-9 7-10 8-10 5-10 4-7 6-14 3-11-6-4 5M319 4157l6-12 9-12-1-9 11-14-1-13 6-8 11-10 3-8 1-14 8 0 7-10 0-7 7-2 7-13 5-4 4-2 4-14 8-3 7-6 6-14 10-7-1-8 9-3 3 0 10-18 2 1 3-13-4-2 5-13 8-1 3-10 0-6 3-5 7-7-3-12 2-3-8-5 1 0-2-6-2-5M468 3859l9 2 8 5 10-3 5 6 4-3 7 0 9-1 11 5-1-1 4-9 13-4 1 6-3-3 15 1 3 1 1 2-4 6 4 0-4 12 2 1-5 12-7-3-1 0 1 6-17 4 10-1-4 10-1 4 1 8-6 6 9-3 1 8 5-3-5-2 7 3M425 4032l7-6 8-4 8-2 5-3 9-4 11-4-4-7 9-3 6-12 7-2 4 2 9-11 4 5 5-9 7-2 1-9 19-2 6-4 3-4 10-11 11 2 4-1 11-2 6-4 3 0 14-2 2 1 4 1 7-5 5-1 3-4 9-9 4-9 9 0 5-5 9-6 4-1 5-9 12-9-1 0 5 6 4-8 6-11 3 1 6-6M444 4070l12-5 2-8 17-6 9-4 3-3 14-9 12-2 7-6 9-1 7-6 12-4 8-1 5-7 11 7 8-8 4-1 7-11 5-2 7 5 3-17 5-1 12 5 5-7 4 0 2 0 7-9 8 1 5-6 5 4 6-8M531 4042l10 2 4-3 9-2 5 5 7-3 10 0 10-6 4 9 5 0 11 5 11 0 7 9 7-4 12-1 2 1 9 4 8-4 8 10 14 0 1 5 5 5 5 6 6 6-2 8 2 6 6 4-4 6 4 8-2 5 6 11 0 1 1 1 0 8 2 5 0 7 1-1-8 5-1 0 1 2-3 0M569 4061l5 8 1 3 5 7 8 4-3 5 13 1-2 7 7 3 8-4 7 6 4-3 6 3 9-7 6-4 6 0 3-6 2-4 0 0 9-2 2-8M358 4128l7 2 11 3 8 4 3-1 15-1 5 6 10 3 3-1 9 12 22 1 5 0 3 2 11-4 10 2 17 2 6 0 6-9 12 0 0-4 12 0 6-2 6-1 10 3 5-4 9-7 2 9 5-10 1 2 8-2 1-1 4 2-2 12 12 1 0 7-7 13 7 4 3 3-3-1 10 4-2-6M579 4114l4-1 4 1-1 2 6 1 3 5-4 0 2 18-7 1 1 8 1 8" fill="none" stroke="#6e1e4c" stroke-width="3.4" stroke-linecap="round" stroke-linejoin="round"/></g><circle cx="592" cy="3661" r="3.0" fill="#f0b030" opacity="0.85"/><circle cx="619" cy="3611" r="4.7" fill="#c04a30" opacity="0.85"/><circle cx="692" cy="3677" r="4.3" fill="#e8902a" opacity="0.85"/><circle cx="678" cy="3714" r="2.9" fill="#c04a30" opacity="0.85"/><circle cx="642" cy="3675" r="4.4" fill="#e8902a" opacity="0.85"/><circle cx="589" cy="3693" r="4.8" fill="#e8902a" opacity="0.85"/><circle cx="651" cy="3684" r="4.7" fill="#c04a30" opacity="0.85"/><circle cx="651" cy="3579" r="3.2" fill="#c04a30" opacity="0.85"/><circle cx="653" cy="3619" r="4.7" fill="#e8902a" opacity="0.85"/><circle cx="686" cy="3666" r="2.8" fill="#c04a30" opacity="0.85"/><circle cx="646" cy="3714" r="4.9" fill="#e8902a" opacity="0.85"/><circle cx="710" cy="3652" r="4.7" fill="#f0b030" opacity="0.85"/><circle cx="642" cy="3657" r="2.8" fill="#e8902a" opacity="0.85"/><circle cx="689" cy="3624" r="3.8" fill="#c04a30" opacity="0.85"/><circle cx="647" cy="3669" r="4.1" fill="#f0b030" opacity="0.85"/><circle cx="691" cy="3682" r="4.8" fill="#f0b030" opacity="0.85"/><circle cx="637" cy="3635" r="3.9" fill="#d86a28" opacity="0.85"/><circle cx="616" cy="3632" r="4.3" fill="#d86a28" opacity="0.85"/><circle cx="627" cy="3644" r="4.9" fill="#c04a30" opacity="0.85"/><circle cx="645" cy="3708" r="4.3" fill="#e8902a" opacity="0.85"/><circle cx="673" cy="3605" r="4.7" fill="#e8902a" opacity="0.85"/><circle cx="698" cy="3695" r="3.6" fill="#d86a28" opacity="0.85"/><circle cx="575" cy="3693" r="3.4" fill="#e8902a" opacity="0.85"/><circle cx="638" cy="3649" r="3.0" fill="#e8902a" opacity="0.85"/><circle cx="597" cy="3665" r="3.3" fill="#e8902a" opacity="0.85"/><circle cx="628" cy="3703" r="2.6" fill="#e8902a" opacity="0.85"/><circle cx="654" cy="3584" r="3.4" fill="#c04a30" opacity="0.85"/><circle cx="650" cy="3594" r="3.6" fill="#e8902a" opacity="0.85"/><circle cx="649" cy="3723" r="3.8" fill="#c04a30" opacity="0.85"/><circle cx="698" cy="3634" r="4.2" fill="#f0b030" opacity="0.85"/><circle cx="675" cy="3711" r="2.6" fill="#d86a28" opacity="0.85"/><circle cx="707" cy="3625" r="4.9" fill="#d86a28" opacity="0.85"/><circle cx="702" cy="3645" r="2.6" fill="#e8902a" opacity="0.85"/><circle cx="572" cy="3670" r="4.0" fill="#d86a28" opacity="0.85"/><circle cx="687" cy="3641" r="3.7" fill="#f0b030" opacity="0.85"/><circle cx="626" cy="3722" r="4.2" fill="#d86a28" opacity="0.85"/><circle cx="689" cy="3670" r="4.0" fill="#c04a30" opacity="0.85"/><circle cx="661" cy="3592" r="4.4" fill="#d86a28" opacity="0.85"/><circle cx="681" cy="3614" r="4.8" fill="#e8902a" opacity="0.85"/><circle cx="635" cy="3676" r="2.9" fill="#e8902a" opacity="0.85"/><circle cx="658" cy="3583" r="2.9" fill="#f0b030" opacity="0.85"/><circle cx="582" cy="3665" r="2.7" fill="#c04a30" opacity="0.85"/><circle cx="581" cy="3633" r="3.8" fill="#d86a28" opacity="0.85"/><circle cx="653" cy="3645" r="3.9" fill="#c04a30" opacity="0.85"/><circle cx="582" cy="3642" r="4.7" fill="#e8902a" opacity="0.85"/><circle cx="724" cy="3908" r="4.3" fill="#e8902a" opacity="0.85"/><circle cx="781" cy="3915" r="3.6" fill="#c04a30" opacity="0.85"/><circle cx="729" cy="3938" r="4.2" fill="#e8902a" opacity="0.85"/><circle cx="819" cy="3941" r="3.1" fill="#c04a30" opacity="0.85"/><circle cx="811" cy="3887" r="4.7" fill="#c04a30" opacity="0.85"/><circle cx="838" cy="3946" r="4.2" fill="#e8902a" opacity="0.85"/><circle cx="770" cy="3944" r="2.6" fill="#f0b030" opacity="0.85"/><circle cx="785" cy="3917" r="3.4" fill="#e8902a" opacity="0.85"/><circle cx="735" cy="3944" r="4.3" fill="#e8902a" opacity="0.85"/><circle cx="803" cy="3943" r="2.5" fill="#d86a28" opacity="0.85"/><circle cx="837" cy="3921" r="5.0" fill="#c04a30" opacity="0.85"/><circle cx="796" cy="3917" r="4.2" fill="#d86a28" opacity="0.85"/><circle cx="761" cy="3942" r="2.8" fill="#f0b030" opacity="0.85"/><circle cx="803" cy="3941" r="3.4" fill="#e8902a" opacity="0.85"/><circle cx="782" cy="3893" r="3.4" fill="#f0b030" opacity="0.85"/><circle cx="762" cy="3912" r="4.4" fill="#d86a28" opacity="0.85"/><circle cx="781" cy="3928" r="4.9" fill="#d86a28" opacity="0.85"/><circle cx="807" cy="3938" r="2.6" fill="#c04a30" opacity="0.85"/><circle cx="785" cy="3992" r="4.1" fill="#f0b030" opacity="0.85"/><circle cx="774" cy="3915" r="4.5" fill="#e8902a" opacity="0.85"/><circle cx="846" cy="3926" r="4.8" fill="#c04a30" opacity="0.85"/><circle cx="833" cy="3893" r="2.6" fill="#e8902a" opacity="0.85"/><circle cx="743" cy="3950" r="3.7" fill="#d86a28" opacity="0.85"/><circle cx="748" cy="3982" r="3.6" fill="#c04a30" opacity="0.85"/><circle cx="819" cy="3951" r="4.0" fill="#c04a30" opacity="0.85"/><circle cx="743" cy="3918" r="3.3" fill="#f0b030" opacity="0.85"/><circle cx="805" cy="3942" r="3.9" fill="#d86a28" opacity="0.85"/><circle cx="807" cy="3983" r="4.9" fill="#f0b030" opacity="0.85"/><circle cx="844" cy="3966" r="3.0" fill="#c04a30" opacity="0.85"/><circle cx="746" cy="3926" r="4.2" fill="#e8902a" opacity="0.85"/><circle cx="756" cy="3949" r="4.4" fill="#d86a28" opacity="0.85"/><circle cx="800" cy="3893" r="4.3" fill="#c04a30" opacity="0.85"/><circle cx="774" cy="3979" r="3.1" fill="#e8902a" opacity="0.85"/><circle cx="824" cy="3931" r="2.9" fill="#e8902a" opacity="0.85"/><circle cx="796" cy="3951" r="4.1" fill="#c04a30" opacity="0.85"/><circle cx="406" cy="4088" r="3.8" fill="#f0b030" opacity="0.85"/><circle cx="413" cy="4095" r="3.3" fill="#f0b030" opacity="0.85"/><circle cx="426" cy="4076" r="3.9" fill="#f0b030" opacity="0.85"/><circle cx="477" cy="4067" r="3.2" fill="#e8902a" opacity="0.85"/><circle cx="401" cy="4060" r="4.8" fill="#c04a30" opacity="0.85"/><circle cx="441" cy="4044" r="3.8" fill="#f0b030" opacity="0.85"/><circle cx="396" cy="4070" r="3.3" fill="#f0b030" opacity="0.85"/><circle cx="440" cy="4041" r="3.9" fill="#e8902a" opacity="0.85"/><circle cx="447" cy="4062" r="3.8" fill="#f0b030" opacity="0.85"/><circle cx="477" cy="4054" r="2.8" fill="#c04a30" opacity="0.85"/><circle cx="448" cy="4094" r="3.0" fill="#c04a30" opacity="0.85"/><circle cx="451" cy="4097" r="2.5" fill="#c04a30" opacity="0.85"/><circle cx="431" cy="4062" r="3.7" fill="#d86a28" opacity="0.85"/><circle cx="478" cy="4078" r="4.7" fill="#c04a30" opacity="0.85"/><ellipse cx="623" cy="3648" rx="72" ry="61" fill="url(#glowO)" opacity="0.8"/><ellipse cx="623" cy="3648" rx="24" ry="20" fill="url(#glowW)"/><circle cx="623" cy="3648" r="10.5" fill="#fffef0"/><ellipse cx="764" cy="3925" rx="64" ry="54" fill="url(#glowO)" opacity="0.8"/><ellipse cx="764" cy="3925" rx="24" ry="20" fill="url(#glowW)"/><circle cx="764" cy="3925" r="10.5" fill="#fffef0"/><ellipse cx="430" cy="4062" rx="36" ry="31" fill="url(#glowO)" opacity="0.8"/><ellipse cx="430" cy="4062" rx="19" ry="16" fill="url(#glowW)"/><circle cx="430" cy="4062" r="8.4" fill="#fffef0"/><circle cx="767" cy="3442" r="6" fill="#fff0d0" stroke="#8a2a40" stroke-width="2.5"/><circle cx="940" cy="3610" r="6" fill="#fff0d0" stroke="#8a2a40" stroke-width="2.5"/><circle cx="223" cy="3842" r="6" fill="#fff0d0" stroke="#8a2a40" stroke-width="2.5"/><circle cx="421" cy="3836" r="6" fill="#fff0d0" stroke="#8a2a40" stroke-width="2.5"/><circle cx="257" cy="4069" r="6" fill="#fff0d0" stroke="#8a2a40" stroke-width="2.5"/><circle cx="847" cy="4191" r="6" fill="#fff0d0" stroke="#8a2a40" stroke-width="2.5"/><circle cx="847" cy="4162" r="6" fill="#fff0d0" stroke="#8a2a40" stroke-width="2.5"/><circle cx="937" cy="4001" r="6" fill="#fff0d0" stroke="#8a2a40" stroke-width="2.5"/><circle cx="164" cy="4252" r="6" fill="#fff0d0" stroke="#8a2a40" stroke-width="2.5"/><circle cx="167" cy="3924" r="6" fill="#fff0d0" stroke="#8a2a40" stroke-width="2.5"/><circle cx="1005" cy="3698" r="6" fill="#fff0d0" stroke="#8a2a40" stroke-width="2.5"/><circle cx="229" cy="3701" r="6" fill="#fff0d0" stroke="#8a2a40" stroke-width="2.5"/></svg><rect x="194" y="4162" width="152" height="18" fill="#d8dae8"/><text x="204" y="4224" font-family="'Liberation Sans', Arial, sans-serif" font-size="44" font-weight="normal" fill="#f4f4f4" textLength="133" lengthAdjust="spacingAndGlyphs">300 nm</text><text x="198" y="3481" font-family="'Liberation Sans', Arial, sans-serif" font-size="68" font-weight="bold" fill="#fff">g</text><text x="722" y="3488" font-family="'Liberation Sans', Arial, sans-serif" font-size="53" font-weight="bold" fill="#fff" textLength="217" lengthAdjust="spacingAndGlyphs">4 M urea</text>
<g id="panel-a">
<rect x="554.5" y="48.5" width="1689.5" height="1476.5" fill="none" stroke="#111" stroke-width="4"/>
<line x1="516" y1="139.0" x2="555" y2="139.0" stroke="#111" stroke-width="4"/>
<text x="493.0" y="159.0" font-family="'DejaVu Sans', Verdana, sans-serif" font-size="54" font-weight="normal" fill="#222" text-anchor="end" textLength="117" lengthAdjust="spacingAndGlyphs" >0.25</text>
<line x1="516" y1="433.4" x2="555" y2="433.4" stroke="#111" stroke-width="4"/>
<text x="493.0" y="453.4" font-family="'DejaVu Sans', Verdana, sans-serif" font-size="54" font-weight="normal" fill="#222" text-anchor="end" textLength="117" lengthAdjust="spacingAndGlyphs" >0.20</text>
<line x1="516" y1="727.8" x2="555" y2="727.8" stroke="#111" stroke-width="4"/>
<text x="493.0" y="747.8" font-family="'DejaVu Sans', Verdana, sans-serif" font-size="54" font-weight="normal" fill="#222" text-anchor="end" textLength="117" lengthAdjust="spacingAndGlyphs" >0.15</text>
<line x1="516" y1="1022.1" x2="555" y2="1022.1" stroke="#111" stroke-width="4"/>
<text x="493.0" y="1042.1" font-family="'DejaVu Sans', Verdana, sans-serif" font-size="54" font-weight="normal" fill="#222" text-anchor="end" textLength="117" lengthAdjust="spacingAndGlyphs" >0.10</text>
<line x1="516" y1="1316.5" x2="555" y2="1316.5" stroke="#111" stroke-width="4"/>
<text x="493.0" y="1336.5" font-family="'DejaVu Sans', Verdana, sans-serif" font-size="54" font-weight="normal" fill="#222" text-anchor="end" textLength="117" lengthAdjust="spacingAndGlyphs" >0.05</text>
<line x1="588.0" y1="1526" x2="588.0" y2="1562" stroke="#111" stroke-width="4"/>
<text x="589.0" y="1631.0" font-family="'DejaVu Sans', Verdana, sans-serif" font-size="48" font-weight="normal" fill="#222" text-anchor="middle" textLength="67" lengthAdjust="spacingAndGlyphs" >10</text>
<line x1="900.0" y1="1526" x2="900.0" y2="1562" stroke="#111" stroke-width="4"/>
<text x="901.0" y="1631.0" font-family="'DejaVu Sans', Verdana, sans-serif" font-size="48" font-weight="normal" fill="#222" text-anchor="middle" textLength="67" lengthAdjust="spacingAndGlyphs" >15</text>
<line x1="1212.0" y1="1526" x2="1212.0" y2="1562" stroke="#111" stroke-width="4"/>
<text x="1213.0" y="1631.0" font-family="'DejaVu Sans', Verdana, sans-serif" font-size="48" font-weight="normal" fill="#222" text-anchor="middle" textLength="67" lengthAdjust="spacingAndGlyphs" >20</text>
<line x1="1524.0" y1="1526" x2="1524.0" y2="1562" stroke="#111" stroke-width="4"/>
<text x="1525.0" y="1631.0" font-family="'DejaVu Sans', Verdana, sans-serif" font-size="48" font-weight="normal" fill="#222" text-anchor="middle" textLength="67" lengthAdjust="spacingAndGlyphs" >25</text>
<line x1="1836.0" y1="1526" x2="1836.0" y2="1562" stroke="#111" stroke-width="4"/>
<text x="1837.0" y="1631.0" font-family="'DejaVu Sans', Verdana, sans-serif" font-size="48" font-weight="normal" fill="#222" text-anchor="middle" textLength="67" lengthAdjust="spacingAndGlyphs" >30</text>
<line x1="2148.0" y1="1526" x2="2148.0" y2="1562" stroke="#111" stroke-width="4"/>
<text x="2149.0" y="1631.0" font-family="'DejaVu Sans', Verdana, sans-serif" font-size="48" font-weight="normal" fill="#222" text-anchor="middle" textLength="67" lengthAdjust="spacingAndGlyphs" >35</text>
<text transform="translate(310,789) rotate(-90)" font-family="'DejaVu Sans', Verdana, sans-serif" font-weight="bold" font-size="52" fill="#000">OD<tspan font-size="33" font-weight="normal" dy="11">280</tspan></text>
<text x="622.0" y="147.0" font-family="'Liberation Sans', Arial, sans-serif" font-size="68" font-weight="bold" fill="#000" text-anchor="start" >a</text>
<text x="571.0" y="1507.0" font-family="'DejaVu Sans', Verdana, sans-serif" font-size="52" font-weight="bold" fill="#000" text-anchor="start" textLength="468" lengthAdjust="spacingAndGlyphs" >Fraction Number</text>
<path d="M588.0,1346.5 L650.4,1305.0 L712.8,1392.0 L775.2,1419.0 L837.6,1140.0 L900.0,916.0 L962.4,627.0 L1024.8,510.0 L1087.2,520.0 L1149.6,363.0 L1212.0,440.0 L1274.4,605.0 L1336.8,391.5 L1399.2,369.0 L1461.6,345.0 L1524.0,198.5 L1586.4,80.0 L1648.8,174.0 L1711.2,381.0 L1773.6,534.0 L1836.0,528.5 L1898.4,433.5 L1960.8,434.0 L2023.2,470.0 L2085.6,446.0 L2148.0,375.0 L2210.4,366.5" fill="none" stroke="#f08890" stroke-width="3.2" stroke-linejoin="round"/>
<ellipse cx="588.0" cy="1346.5" rx="24.5" ry="23.5" fill="#f47c80" stroke="#8b3a40" stroke-width="2.6"/>
<ellipse cx="650.4" cy="1305.0" rx="24.5" ry="23.5" fill="#f47c80" stroke="#8b3a40" stroke-width="2.6"/>
<ellipse cx="712.8" cy="1392.0" rx="24.5" ry="23.5" fill="#f47c80" stroke="#8b3a40" stroke-width="2.6"/>
<ellipse cx="775.2" cy="1419.0" rx="24.5" ry="23.5" fill="#f47c80" stroke="#8b3a40" stroke-width="2.6"/>
<ellipse cx="837.6" cy="1140.0" rx="24.5" ry="23.5" fill="#f47c80" stroke="#8b3a40" stroke-width="2.6"/>
<ellipse cx="900.0" cy="916.0" rx="24.5" ry="23.5" fill="#f47c80" stroke="#8b3a40" stroke-width="2.6"/>
<ellipse cx="962.4" cy="627.0" rx="24.5" ry="23.5" fill="#f47c80" stroke="#8b3a40" stroke-width="2.6"/>
<ellipse cx="1024.8" cy="510.0" rx="24.5" ry="23.5" fill="#f47c80" stroke="#8b3a40" stroke-width="2.6"/>
<ellipse cx="1087.2" cy="520.0" rx="24.5" ry="23.5" fill="#f47c80" stroke="#8b3a40" stroke-width="2.6"/>
<ellipse cx="1149.6" cy="363.0" rx="24.5" ry="23.5" fill="#f47c80" stroke="#8b3a40" stroke-width="2.6"/>
<ellipse cx="1212.0" cy="440.0" rx="24.5" ry="23.5" fill="#f47c80" stroke="#8b3a40" stroke-width="2.6"/>
<ellipse cx="1274.4" cy="605.0" rx="24.5" ry="23.5" fill="#f47c80" stroke="#8b3a40" stroke-width="2.6"/>
<ellipse cx="1336.8" cy="391.5" rx="24.5" ry="23.5" fill="#f47c80" stroke="#8b3a40" stroke-width="2.6"/>
<ellipse cx="1399.2" cy="369.0" rx="24.5" ry="23.5" fill="#f47c80" stroke="#8b3a40" stroke-width="2.6"/>
<ellipse cx="1461.6" cy="345.0" rx="24.5" ry="23.5" fill="#f47c80" stroke="#8b3a40" stroke-width="2.6"/>
<ellipse cx="1524.0" cy="198.5" rx="24.5" ry="23.5" fill="#f47c80" stroke="#8b3a40" stroke-width="2.6"/>
<ellipse cx="1648.8" cy="174.0" rx="24.5" ry="23.5" fill="#f47c80" stroke="#8b3a40" stroke-width="2.6"/>
<ellipse cx="1711.2" cy="381.0" rx="24.5" ry="23.5" fill="#f47c80" stroke="#8b3a40" stroke-width="2.6"/>
<ellipse cx="1773.6" cy="534.0" rx="24.5" ry="23.5" fill="#f47c80" stroke="#8b3a40" stroke-width="2.6"/>
<ellipse cx="1836.0" cy="528.5" rx="24.5" ry="23.5" fill="#f47c80" stroke="#8b3a40" stroke-width="2.6"/>
<ellipse cx="1898.4" cy="433.5" rx="24.5" ry="23.5" fill="#f47c80" stroke="#8b3a40" stroke-width="2.6"/>
<ellipse cx="1960.8" cy="434.0" rx="24.5" ry="23.5" fill="#f47c80" stroke="#8b3a40" stroke-width="2.6"/>
<ellipse cx="2023.2" cy="470.0" rx="24.5" ry="23.5" fill="#f47c80" stroke="#8b3a40" stroke-width="2.6"/>
<ellipse cx="2085.6" cy="446.0" rx="24.5" ry="23.5" fill="#f47c80" stroke="#8b3a40" stroke-width="2.6"/>
<ellipse cx="2148.0" cy="375.0" rx="24.5" ry="23.5" fill="#f47c80" stroke="#8b3a40" stroke-width="2.6"/>
<line x1="1016.3" y1="659.3" x2="1242.5" y2="659.3" stroke="#000" stroke-width="6"/>
<polygon points="979.3,659.3 1018.3,627.3 1018.3,691.3" fill="#000"/>
<polygon points="1279.5,659.3 1240.5,627.3 1240.5,691.3" fill="#000"/>
<line x1="1403" y1="564" x2="1688" y2="564" stroke="#000" stroke-width="6"/>
<polygon points="1366,564 1405,532 1405,596" fill="#000"/>
<polygon points="1725,564 1686,532 1686,596" fill="#000"/>
<text x="1033.0" y="708.8" font-family="'DejaVu Sans Condensed', 'DejaVu Sans', sans-serif" font-size="42" font-weight="normal" fill="#1a1a1a" text-anchor="start" textLength="188" lengthAdjust="spacingAndGlyphs" >oligomeric</text>
<text x="1047.0" y="755.5" font-family="'DejaVu Sans Condensed', 'DejaVu Sans', sans-serif" font-size="42" font-weight="normal" fill="#1a1a1a" text-anchor="start" textLength="156" lengthAdjust="spacingAndGlyphs" >fractions</text>
<text x="1442.0" y="602.5" font-family="'DejaVu Sans Condensed', 'DejaVu Sans', sans-serif" font-size="42" font-weight="normal" fill="#1a1a1a" text-anchor="start" textLength="202" lengthAdjust="spacingAndGlyphs" >monomeric</text>
<text x="1462.0" y="650.0" font-family="'DejaVu Sans Condensed', 'DejaVu Sans', sans-serif" font-size="42" font-weight="normal" fill="#1a1a1a" text-anchor="start" textLength="156" lengthAdjust="spacingAndGlyphs" >fractions</text>
<text x="917.0" y="1016.0" font-family="'Liberation Sans', Arial, sans-serif" font-size="52" font-weight="bold" fill="#000" text-anchor="start" textLength="166" lengthAdjust="spacingAndGlyphs" >inset 1</text>
<text x="1416.0" y="964.0" font-family="'Liberation Sans', Arial, sans-serif" font-size="52" font-weight="bold" fill="#000" text-anchor="start" textLength="170" lengthAdjust="spacingAndGlyphs" >inset 2</text>
<text x="1730.0" y="792.5" font-family="'Liberation Sans', Arial, sans-serif" font-size="52" font-weight="bold" fill="#000" text-anchor="start" textLength="168" lengthAdjust="spacingAndGlyphs" >inset 3</text>
<defs><linearGradient id="lane2" x1="0" y1="0" x2="0" y2="1"><stop offset="0" stop-color="#b4b4b4"/><stop offset="0.015" stop-color="#c6c6c6"/><stop offset="0.12" stop-color="#c4c4c4"/><stop offset="0.5" stop-color="#cdcdcd"/><stop offset="1" stop-color="#d2d2d2"/></linearGradient><linearGradient id="lane1" x1="0" y1="0" x2="0" y2="1"><stop offset="0" stop-color="#d2d2d2"/><stop offset="0.03" stop-color="#dadada"/><stop offset="1" stop-color="#d8d8d8"/></linearGradient><linearGradient id="band" x1="0" y1="0" x2="0" y2="1"><stop offset="0" stop-color="#000" stop-opacity="0"/><stop offset="0.35" stop-color="#000" stop-opacity="0.45"/><stop offset="0.6" stop-color="#000" stop-opacity="0.2"/><stop offset="1" stop-color="#000" stop-opacity="0"/></linearGradient></defs>
<rect x="1906" y="537" width="69" height="971" fill="url(#lane1)"/>
<rect x="1982" y="537" width="61" height="971" fill="url(#lane2)"/>
<rect x="1906" y="519" width="69" height="18" fill="#f4f4f4"/><rect x="1982" y="519" width="61" height="18" fill="#f2f2f2"/>
<rect x="1912" y="1212" width="60" height="50" fill="url(#band)" opacity="0.6"/>
<rect x="1986" y="1212" width="54" height="50" fill="url(#band)"/>
<polygon points="2051,545 2088,532.5 2088,557.5" fill="#000"/>
<text x="2103.0" y="552.5" font-family="'DejaVu Sans Condensed', 'DejaVu Sans', sans-serif" font-size="40" font-weight="normal" fill="#111" text-anchor="start" textLength="131" lengthAdjust="spacingAndGlyphs" >sample</text>
<text x="2103.0" y="591.5" font-family="'DejaVu Sans Condensed', 'DejaVu Sans', sans-serif" font-size="40" font-weight="normal" fill="#111" text-anchor="start" textLength="128" lengthAdjust="spacingAndGlyphs" >loading</text>
<text x="2103.0" y="631.0" font-family="'DejaVu Sans Condensed', 'DejaVu Sans', sans-serif" font-size="40" font-weight="normal" fill="#111" text-anchor="start" textLength="120" lengthAdjust="spacingAndGlyphs" >pocket</text>
<polygon points="2054,1226 2090,1210 2090,1231" fill="#000"/>
<polygon points="2054,1256 2090,1256 2090,1277" fill="#000"/>
<text x="2098.0" y="1218.5" font-family="'DejaVu Sans Condensed', 'DejaVu Sans', sans-serif" font-size="40" font-weight="normal" fill="#111" text-anchor="start" textLength="38" lengthAdjust="spacingAndGlyphs" >T1</text>
<text x="2098.0" y="1286.0" font-family="'DejaVu Sans Condensed', 'DejaVu Sans', sans-serif" font-size="40" font-weight="normal" fill="#111" text-anchor="start" textLength="44" lengthAdjust="spacingAndGlyphs" >T2</text>
<text x="2099.0" y="1472.0" font-family="'DejaVu Sans Condensed', 'DejaVu Sans', sans-serif" font-size="40" font-weight="normal" fill="#111" text-anchor="start" textLength="51" lengthAdjust="spacingAndGlyphs" >gel</text>
<text x="2099.0" y="1510.0" font-family="'DejaVu Sans Condensed', 'DejaVu Sans', sans-serif" font-size="40" font-weight="normal" fill="#111" text-anchor="start" textLength="128" lengthAdjust="spacingAndGlyphs" >bottom</text>
<polygon points="2051,1496 2088,1485 2088,1507.5" fill="#000"/>
</g>
<g id="profile">
<line x1="1237.5" y1="2340" x2="1237.5" y2="2803" stroke="#000" stroke-width="5"/>
<line x1="1218" y1="2801" x2="2338" y2="2801" stroke="#000" stroke-width="5"/>
<line x1="1219" y1="2648.2" x2="1238" y2="2648.2" stroke="#000" stroke-width="4"/>
<line x1="1219" y1="2495.4" x2="1238" y2="2495.4" stroke="#000" stroke-width="4"/>
<line x1="1219" y1="2342.6" x2="1238" y2="2342.6" stroke="#000" stroke-width="4"/>
<text x="1211.0" y="2814.0" font-family="'Liberation Sans', Arial, sans-serif" font-size="36" font-weight="normal" fill="#333" text-anchor="end" >0</text>
<text x="1211.0" y="2661.2" font-family="'Liberation Sans', Arial, sans-serif" font-size="36" font-weight="normal" fill="#333" text-anchor="end" >2</text>
<text x="1211.0" y="2508.4" font-family="'Liberation Sans', Arial, sans-serif" font-size="36" font-weight="normal" fill="#333" text-anchor="end" >4</text>
<text x="1211.0" y="2355.6" font-family="'Liberation Sans', Arial, sans-serif" font-size="36" font-weight="normal" fill="#333" text-anchor="end" >6</text>
<line x1="1237.5" y1="2800" x2="1237.5" y2="2822" stroke="#000" stroke-width="4"/>
<text x="1237.5" y="2863.0" font-family="'Liberation Sans', Arial, sans-serif" font-size="36" font-weight="normal" fill="#333" text-anchor="middle" >0</text>
<line x1="1374.8" y1="2800" x2="1374.8" y2="2812" stroke="#000" stroke-width="4"/>
<line x1="1512.2" y1="2800" x2="1512.2" y2="2822" stroke="#000" stroke-width="4"/>
<text x="1512.2" y="2863.0" font-family="'Liberation Sans', Arial, sans-serif" font-size="36" font-weight="normal" fill="#333" text-anchor="middle" >100</text>
<line x1="1649.5" y1="2800" x2="1649.5" y2="2812" stroke="#000" stroke-width="4"/>
<line x1="1786.9" y1="2800" x2="1786.9" y2="2822" stroke="#000" stroke-width="4"/>
<text x="1786.9" y="2863.0" font-family="'Liberation Sans', Arial, sans-serif" font-size="36" font-weight="normal" fill="#333" text-anchor="middle" >200</text>
<line x1="1924.2" y1="2800" x2="1924.2" y2="2812" stroke="#000" stroke-width="4"/>
<line x1="2061.6" y1="2800" x2="2061.6" y2="2822" stroke="#000" stroke-width="4"/>
<text x="2061.6" y="2863.0" font-family="'Liberation Sans', Arial, sans-serif" font-size="36" font-weight="normal" fill="#333" text-anchor="middle" >300</text>
<line x1="2198.9" y1="2800" x2="2198.9" y2="2812" stroke="#000" stroke-width="4"/>
<line x1="2336.3" y1="2800" x2="2336.3" y2="2822" stroke="#000" stroke-width="4"/>
<text x="2336.3" y="2863.0" font-family="'Liberation Sans', Arial, sans-serif" font-size="36" font-weight="normal" fill="#333" text-anchor="middle" >400</text>
<path d="M1238 2752C1240 2753 1245 2755 1250 2755C1256 2756 1264 2756 1270 2756C1276 2756 1280 2757 1285 2757C1290 2758 1295 2760 1300 2761C1306 2763 1314 2765 1320 2767C1327 2768 1335 2771 1341 2771C1346 2772 1351 2769 1356 2769C1360 2769 1362 2771 1366 2772C1370 2772 1375 2773 1380 2773C1385 2773 1391 2772 1396 2771C1400 2770 1402 2769 1406 2765C1410 2761 1417 2754 1421 2749C1425 2744 1427 2741 1431 2738C1435 2734 1441 2730 1446 2728C1451 2725 1455 2723 1461 2722C1467 2722 1474 2723 1481 2723C1488 2723 1495 2723 1501 2722C1507 2722 1511 2718 1516 2718C1521 2718 1527 2721 1531 2722C1536 2723 1538 2725 1542 2725C1545 2726 1548 2726 1551 2725C1555 2724 1557 2720 1562 2719C1566 2718 1572 2718 1577 2718C1582 2718 1588 2720 1592 2720C1596 2720 1598 2720 1602 2720C1605 2720 1608 2720 1612 2718C1616 2715 1622 2710 1627 2706C1632 2703 1637 2701 1642 2698C1647 2695 1652 2691 1657 2687C1662 2683 1667 2680 1672 2673C1677 2665 1682 2653 1687 2643C1692 2632 1697 2622 1702 2610C1707 2598 1712 2587 1717 2570C1722 2554 1728 2527 1733 2510C1737 2492 1739 2484 1742 2465C1746 2446 1749 2411 1753 2398C1756 2384 1760 2380 1764 2382C1768 2384 1771 2397 1775 2410C1779 2423 1783 2443 1787 2460C1792 2478 1795 2487 1800 2515C1805 2544 1814 2603 1820 2630C1826 2656 1830 2661 1835 2675C1840 2689 1845 2708 1853 2715C1860 2721 1871 2715 1880 2715C1889 2715 1898 2713 1905 2715C1913 2716 1917 2721 1925 2725C1933 2728 1944 2733 1955 2734C1966 2735 1980 2730 1990 2730C2000 2730 2007 2730 2015 2731C2022 2733 2028 2737 2035 2738C2042 2740 2049 2737 2055 2740C2061 2742 2065 2749 2070 2753C2075 2757 2079 2760 2085 2763C2091 2765 2097 2768 2105 2769C2113 2770 2127 2769 2135 2769C2143 2769 2147 2767 2155 2767C2163 2767 2172 2769 2180 2769C2188 2769 2194 2765 2200 2765C2206 2765 2212 2766 2215 2767" fill="none" stroke="#8c141a" stroke-width="6" stroke-linejoin="round" stroke-linecap="round"/>
<line x1="1427.5" y1="2662" x2="1427.5" y2="2790" stroke="#222" stroke-width="2" stroke-dasharray="8,6"/>
<line x1="2072.5" y1="2662" x2="2072.5" y2="2790" stroke="#222" stroke-width="2" stroke-dasharray="8,6"/>
<polygon points="1521.5,2697.5 1512.6,2643.3 1533.6,2652.6 1552.1,2610.5 1565.0,2616.1 1546.4,2658.2 1567.5,2667.5" fill="#000"/>
<polygon points="1967.5,2697.5 1958.6,2643.3 1979.6,2652.6 1998.1,2610.5 2011.0,2616.1 1992.4,2658.2 2013.5,2667.5" fill="#000"/>
<text x="1285.0" y="2405.0" font-family="'Liberation Sans', Arial, sans-serif" font-size="64" font-weight="bold" fill="#000" text-anchor="start" textLength="306" lengthAdjust="spacingAndGlyphs" >c.ii.profile</text>
<text x="1483.0" y="2930.5" font-family="'Liberation Sans', Arial, sans-serif" font-size="43" font-weight="bold" fill="#111" text-anchor="start" textLength="607" lengthAdjust="spacingAndGlyphs" >position along segment (nm)</text>
<text transform="translate(1169,2846) rotate(-90)" font-family="'Liberation Sans', Arial, sans-serif" font-size="44" font-weight="bold" fill="#111" textLength="548" lengthAdjust="spacingAndGlyphs">topographical height (nm)</text>
</g>
<g id="panel-d">
<rect x="217.3" y="2769.2" width="58.6" height="475.8" fill="#b24c3e" stroke="#8a2a22" stroke-width="1.5"/>
<rect x="275.9" y="2994.6" width="58.6" height="250.4" fill="#b24c3e" stroke="#8a2a22" stroke-width="1.5"/>
<rect x="334.5" y="3119.8" width="58.6" height="125.2" fill="#b24c3e" stroke="#8a2a22" stroke-width="1.5"/>
<rect x="393.1" y="3069.7" width="58.6" height="175.3" fill="#b24c3e" stroke="#8a2a22" stroke-width="1.5"/>
<rect x="451.7" y="2869.4" width="58.6" height="375.6" fill="#b24c3e" stroke="#8a2a22" stroke-width="1.5"/>
<rect x="510.3" y="2644.0" width="58.6" height="601.0" fill="#b24c3e" stroke="#8a2a22" stroke-width="1.5"/>
<rect x="568.9" y="2894.4" width="58.6" height="350.6" fill="#b24c3e" stroke="#8a2a22" stroke-width="1.5"/>
<rect x="627.5" y="2969.6" width="58.6" height="275.4" fill="#b24c3e" stroke="#8a2a22" stroke-width="1.5"/>
<rect x="686.1" y="2919.5" width="58.6" height="325.5" fill="#b24c3e" stroke="#8a2a22" stroke-width="1.5"/>
<rect x="744.7" y="2994.6" width="58.6" height="250.4" fill="#b24c3e" stroke="#8a2a22" stroke-width="1.5"/>
<rect x="803.3" y="3144.8" width="58.6" height="100.2" fill="#b24c3e" stroke="#8a2a22" stroke-width="1.5"/>
<rect x="861.9" y="2894.4" width="58.6" height="350.6" fill="#b24c3e" stroke="#8a2a22" stroke-width="1.5"/>
<rect x="920.5" y="3169.9" width="58.6" height="75.1" fill="#b24c3e" stroke="#8a2a22" stroke-width="1.5"/>
<rect x="184.6" y="2541" width="826.4" height="705" fill="none" stroke="#555" stroke-width="2.5"/>
<line x1="979.1" y1="3244" x2="1011" y2="3244" stroke="#e08080" stroke-width="2"/>
<line x1="165" y1="3245.0" x2="185" y2="3245.0" stroke="#666" stroke-width="2.5"/>
<text x="154.0" y="3255.5" font-family="'DejaVu Sans', Verdana, sans-serif" font-size="29" font-weight="normal" fill="#444" text-anchor="end" >0</text>
<line x1="165" y1="3119.8" x2="185" y2="3119.8" stroke="#666" stroke-width="2.5"/>
<text x="154.0" y="3130.3" font-family="'DejaVu Sans', Verdana, sans-serif" font-size="29" font-weight="normal" fill="#444" text-anchor="end" >5</text>
<line x1="165" y1="2994.6" x2="185" y2="2994.6" stroke="#666" stroke-width="2.5"/>
<text x="154.0" y="3005.1" font-family="'DejaVu Sans', Verdana, sans-serif" font-size="29" font-weight="normal" fill="#444" text-anchor="end" >10</text>
<line x1="165" y1="2869.4" x2="185" y2="2869.4" stroke="#666" stroke-width="2.5"/>
<text x="154.0" y="2879.9" font-family="'DejaVu Sans', Verdana, sans-serif" font-size="29" font-weight="normal" fill="#444" text-anchor="end" >15</text>
<line x1="165" y1="2744.2" x2="185" y2="2744.2" stroke="#666" stroke-width="2.5"/>
<text x="154.0" y="2754.7" font-family="'DejaVu Sans', Verdana, sans-serif" font-size="29" font-weight="normal" fill="#444" text-anchor="end" >20</text>
<line x1="165" y1="2619.0" x2="185" y2="2619.0" stroke="#666" stroke-width="2.5"/>
<text x="154.0" y="2629.5" font-family="'DejaVu Sans', Verdana, sans-serif" font-size="29" font-weight="normal" fill="#444" text-anchor="end" >25</text>
<line x1="188.0" y1="3246" x2="188.0" y2="3267" stroke="#555" stroke-width="2.5"/>
<text x="188.0" y="3305.0" font-family="'DejaVu Sans', Verdana, sans-serif" font-size="29" font-weight="normal" fill="#444" text-anchor="middle" >0</text>
<line x1="305.2" y1="3246" x2="305.2" y2="3267" stroke="#555" stroke-width="2.5"/>
<text x="305.2" y="3305.0" font-family="'DejaVu Sans', Verdana, sans-serif" font-size="29" font-weight="normal" fill="#444" text-anchor="middle" >2</text>
<line x1="422.4" y1="3246" x2="422.4" y2="3267" stroke="#555" stroke-width="2.5"/>
<text x="422.4" y="3305.0" font-family="'DejaVu Sans', Verdana, sans-serif" font-size="29" font-weight="normal" fill="#444" text-anchor="middle" >4</text>
<line x1="539.6" y1="3246" x2="539.6" y2="3267" stroke="#555" stroke-width="2.5"/>
<text x="539.6" y="3305.0" font-family="'DejaVu Sans', Verdana, sans-serif" font-size="29" font-weight="normal" fill="#444" text-anchor="middle" >6</text>
<line x1="656.8" y1="3246" x2="656.8" y2="3267" stroke="#555" stroke-width="2.5"/>
<text x="656.8" y="3305.0" font-family="'DejaVu Sans', Verdana, sans-serif" font-size="29" font-weight="normal" fill="#444" text-anchor="middle" >8</text>
<line x1="774.0" y1="3246" x2="774.0" y2="3267" stroke="#555" stroke-width="2.5"/>
<text x="774.0" y="3305.0" font-family="'DejaVu Sans', Verdana, sans-serif" font-size="29" font-weight="normal" fill="#444" text-anchor="middle" >10</text>
<line x1="891.2" y1="3246" x2="891.2" y2="3267" stroke="#555" stroke-width="2.5"/>
<text x="891.2" y="3305.0" font-family="'DejaVu Sans', Verdana, sans-serif" font-size="29" font-weight="normal" fill="#444" text-anchor="middle" >12</text>
<line x1="1008.4" y1="3246" x2="1008.4" y2="3267" stroke="#555" stroke-width="2.5"/>
<text x="1008.4" y="3305.0" font-family="'DejaVu Sans', Verdana, sans-serif" font-size="29" font-weight="normal" fill="#444" text-anchor="middle" >14</text>
<text x="231.0" y="2622.0" font-family="'Liberation Sans', Arial, sans-serif" font-size="66" font-weight="bold" fill="#000" text-anchor="start" >d</text>
<text x="256.0" y="3339.0" font-family="'Liberation Sans', Arial, sans-serif" font-size="43" font-weight="bold" fill="#111" text-anchor="start" textLength="567" lengthAdjust="spacingAndGlyphs" >Number of titins  in oligomer</text>
<text transform="translate(92,3029) rotate(-90)" font-family="'Liberation Sans', Arial, sans-serif" font-size="48" font-weight="bold" fill="#111" textLength="244" lengthAdjust="spacingAndGlyphs">Frequency</text>
</g>
<g id="panel-e">
<line x1="1235" y1="3020" x2="1235" y2="3481" stroke="#000" stroke-width="5"/>
<line x1="1214" y1="3479" x2="2333" y2="3479" stroke="#000" stroke-width="5"/>
<line x1="1215" y1="3479.0" x2="1235" y2="3479.0" stroke="#000" stroke-width="4"/>
<text x="1208.0" y="3491.5" font-family="'Liberation Sans', Arial, sans-serif" font-size="36" font-weight="normal" fill="#222" text-anchor="end" >0</text>
<line x1="1215" y1="3393.2" x2="1235" y2="3393.2" stroke="#000" stroke-width="4"/>
<text x="1208.0" y="3405.7" font-family="'Liberation Sans', Arial, sans-serif" font-size="36" font-weight="normal" fill="#222" text-anchor="end" textLength="107" lengthAdjust="spacingAndGlyphs" >15000</text>
<line x1="1215" y1="3307.4" x2="1235" y2="3307.4" stroke="#000" stroke-width="4"/>
<text x="1208.0" y="3319.9" font-family="'Liberation Sans', Arial, sans-serif" font-size="36" font-weight="normal" fill="#222" text-anchor="end" textLength="107" lengthAdjust="spacingAndGlyphs" >30000</text>
<line x1="1215" y1="3221.6" x2="1235" y2="3221.6" stroke="#000" stroke-width="4"/>
<text x="1208.0" y="3234.1" font-family="'Liberation Sans', Arial, sans-serif" font-size="36" font-weight="normal" fill="#222" text-anchor="end" textLength="107" lengthAdjust="spacingAndGlyphs" >45000</text>
<line x1="1215" y1="3135.8" x2="1235" y2="3135.8" stroke="#000" stroke-width="4"/>
<text x="1208.0" y="3148.3" font-family="'Liberation Sans', Arial, sans-serif" font-size="36" font-weight="normal" fill="#222" text-anchor="end" textLength="107" lengthAdjust="spacingAndGlyphs" >60000</text>
<line x1="1215" y1="3050.0" x2="1235" y2="3050.0" stroke="#000" stroke-width="4"/>
<text x="1208.0" y="3062.5" font-family="'Liberation Sans', Arial, sans-serif" font-size="36" font-weight="normal" fill="#222" text-anchor="end" textLength="107" lengthAdjust="spacingAndGlyphs" >75000</text>
<line x1="1235.0" y1="3478" x2="1235.0" y2="3496" stroke="#000" stroke-width="4"/>
<text x="1235.0" y="3540.0" font-family="'Liberation Sans', Arial, sans-serif" font-size="36" font-weight="normal" fill="#222" text-anchor="middle" >0</text>
<line x1="1289.8" y1="3478" x2="1289.8" y2="3489" stroke="#000" stroke-width="4"/>
<line x1="1344.6" y1="3478" x2="1344.6" y2="3489" stroke="#000" stroke-width="4"/>
<line x1="1399.4" y1="3478" x2="1399.4" y2="3489" stroke="#000" stroke-width="4"/>
<line x1="1454.2" y1="3478" x2="1454.2" y2="3489" stroke="#000" stroke-width="4"/>
<line x1="1509.0" y1="3478" x2="1509.0" y2="3496" stroke="#000" stroke-width="4"/>
<text x="1509.0" y="3540.0" font-family="'Liberation Sans', Arial, sans-serif" font-size="36" font-weight="normal" fill="#222" text-anchor="middle" >5</text>
<line x1="1563.8" y1="3478" x2="1563.8" y2="3489" stroke="#000" stroke-width="4"/>
<line x1="1618.6" y1="3478" x2="1618.6" y2="3489" stroke="#000" stroke-width="4"/>
<line x1="1673.4" y1="3478" x2="1673.4" y2="3489" stroke="#000" stroke-width="4"/>
<line x1="1728.2" y1="3478" x2="1728.2" y2="3489" stroke="#000" stroke-width="4"/>
<line x1="1783.0" y1="3478" x2="1783.0" y2="3496" stroke="#000" stroke-width="4"/>
<text x="1783.0" y="3540.0" font-family="'Liberation Sans', Arial, sans-serif" font-size="36" font-weight="normal" fill="#222" text-anchor="middle" >10</text>
<line x1="1837.8" y1="3478" x2="1837.8" y2="3489" stroke="#000" stroke-width="4"/>
<line x1="1892.6" y1="3478" x2="1892.6" y2="3489" stroke="#000" stroke-width="4"/>
<line x1="1947.4" y1="3478" x2="1947.4" y2="3489" stroke="#000" stroke-width="4"/>
<line x1="2002.2" y1="3478" x2="2002.2" y2="3489" stroke="#000" stroke-width="4"/>
<line x1="2057.0" y1="3478" x2="2057.0" y2="3496" stroke="#000" stroke-width="4"/>
<text x="2057.0" y="3540.0" font-family="'Liberation Sans', Arial, sans-serif" font-size="36" font-weight="normal" fill="#222" text-anchor="middle" >15</text>
<line x1="2111.8" y1="3478" x2="2111.8" y2="3489" stroke="#000" stroke-width="4"/>
<line x1="2166.6" y1="3478" x2="2166.6" y2="3489" stroke="#000" stroke-width="4"/>
<line x1="2221.4" y1="3478" x2="2221.4" y2="3489" stroke="#000" stroke-width="4"/>
<line x1="2276.2" y1="3478" x2="2276.2" y2="3489" stroke="#000" stroke-width="4"/>
<line x1="2331.0" y1="3478" x2="2331.0" y2="3496" stroke="#000" stroke-width="4"/>
<text x="2331.0" y="3540.0" font-family="'Liberation Sans', Arial, sans-serif" font-size="36" font-weight="normal" fill="#222" text-anchor="middle" >20</text>
<line x1="1289.8" y1="3455.0" x2="2221.4" y2="3135.2" stroke="#d0242c" stroke-width="3"/>
<circle cx="1289.8" cy="3472.7" r="6.2" fill="#000"/>
<circle cx="1289.8" cy="3469.5" r="6.2" fill="#000"/>
<circle cx="1289.8" cy="3466.3" r="6.2" fill="#000"/>
<circle cx="1289.8" cy="3463.1" r="6.2" fill="#000"/>
<circle cx="1289.8" cy="3459.9" r="6.2" fill="#000"/>
<circle cx="1289.8" cy="3456.6" r="6.2" fill="#000"/>
<circle cx="1289.8" cy="3453.4" r="6.2" fill="#000"/>
<circle cx="1289.8" cy="3450.2" r="6.2" fill="#000"/>
<circle cx="1289.8" cy="3447.0" r="6.2" fill="#000"/>
<circle cx="1289.8" cy="3443.8" r="6.2" fill="#000"/>
<circle cx="1289.8" cy="3440.6" r="6.2" fill="#000"/>
<circle cx="1289.8" cy="3437.4" r="6.2" fill="#000"/>
<circle cx="1289.8" cy="3434.2" r="6.2" fill="#000"/>
<circle cx="1289.8" cy="3431.0" r="6.2" fill="#000"/>
<circle cx="1344.6" cy="3452.7" r="6.2" fill="#000"/>
<circle cx="1344.6" cy="3448.3" r="6.2" fill="#000"/>
<circle cx="1344.6" cy="3444.0" r="6.2" fill="#000"/>
<circle cx="1344.6" cy="3439.6" r="6.2" fill="#000"/>
<circle cx="1344.6" cy="3435.2" r="6.2" fill="#000"/>
<circle cx="1344.6" cy="3430.9" r="6.2" fill="#000"/>
<circle cx="1344.6" cy="3426.5" r="6.2" fill="#000"/>
<circle cx="1344.6" cy="3422.2" r="6.2" fill="#000"/>
<circle cx="1344.6" cy="3417.8" r="6.2" fill="#000"/>
<circle cx="1399.4" cy="3445.3" r="6.2" fill="#000"/>
<circle cx="1399.4" cy="3441.5" r="6.2" fill="#000"/>
<circle cx="1399.4" cy="3437.8" r="6.2" fill="#000"/>
<circle cx="1399.4" cy="3434.1" r="6.2" fill="#000"/>
<circle cx="1399.4" cy="3430.4" r="6.2" fill="#000"/>
<circle cx="1399.4" cy="3426.7" r="6.2" fill="#000"/>
<circle cx="1399.4" cy="3422.9" r="6.2" fill="#000"/>
<circle cx="1399.4" cy="3401.8" r="6.2" fill="#000"/>
<circle cx="1399.4" cy="3393.8" r="6.2" fill="#000"/>
<circle cx="1399.4" cy="3385.8" r="6.2" fill="#000"/>
<circle cx="1399.4" cy="3377.8" r="6.2" fill="#000"/>
<circle cx="1454.2" cy="3432.7" r="6.2" fill="#000"/>
<circle cx="1454.2" cy="3426.6" r="6.2" fill="#000"/>
<circle cx="1454.2" cy="3420.6" r="6.2" fill="#000"/>
<circle cx="1454.2" cy="3414.5" r="6.2" fill="#000"/>
<circle cx="1454.2" cy="3408.5" r="6.2" fill="#000"/>
<circle cx="1454.2" cy="3402.4" r="6.2" fill="#000"/>
<circle cx="1454.2" cy="3396.3" r="6.2" fill="#000"/>
<circle cx="1454.2" cy="3390.3" r="6.2" fill="#000"/>
<circle cx="1454.2" cy="3384.2" r="6.2" fill="#000"/>
<circle cx="1454.2" cy="3378.2" r="6.2" fill="#000"/>
<circle cx="1454.2" cy="3372.1" r="6.2" fill="#000"/>
<circle cx="1454.2" cy="3366.1" r="6.2" fill="#000"/>
<circle cx="1454.2" cy="3360.0" r="6.2" fill="#000"/>
<circle cx="1509.0" cy="3422.4" r="6.2" fill="#000"/>
<circle cx="1509.0" cy="3415.8" r="6.2" fill="#000"/>
<circle cx="1509.0" cy="3409.3" r="6.2" fill="#000"/>
<circle cx="1509.0" cy="3402.7" r="6.2" fill="#000"/>
<circle cx="1509.0" cy="3396.2" r="6.2" fill="#000"/>
<circle cx="1509.0" cy="3389.6" r="6.2" fill="#000"/>
<circle cx="1509.0" cy="3383.1" r="6.2" fill="#000"/>
<circle cx="1509.0" cy="3376.5" r="6.2" fill="#000"/>
<circle cx="1509.0" cy="3370.0" r="6.2" fill="#000"/>
<circle cx="1509.0" cy="3363.4" r="6.2" fill="#000"/>
<circle cx="1509.0" cy="3356.9" r="6.2" fill="#000"/>
<circle cx="1509.0" cy="3350.3" r="6.2" fill="#000"/>
<circle cx="1563.8" cy="3429.8" r="6.2" fill="#000"/>
<circle cx="1563.8" cy="3421.1" r="6.2" fill="#000"/>
<circle cx="1563.8" cy="3412.4" r="6.2" fill="#000"/>
<circle cx="1563.8" cy="3403.8" r="6.2" fill="#000"/>
<circle cx="1563.8" cy="3395.1" r="6.2" fill="#000"/>
<circle cx="1563.8" cy="3386.4" r="6.2" fill="#000"/>
<circle cx="1563.8" cy="3377.7" r="6.2" fill="#000"/>
<circle cx="1563.8" cy="3369.0" r="6.2" fill="#000"/>
<circle cx="1563.8" cy="3360.4" r="6.2" fill="#000"/>
<circle cx="1563.8" cy="3351.7" r="6.2" fill="#000"/>
<circle cx="1563.8" cy="3343.0" r="6.2" fill="#000"/>
<circle cx="1563.8" cy="3334.3" r="6.2" fill="#000"/>
<circle cx="1563.8" cy="3325.6" r="6.2" fill="#000"/>
<circle cx="1563.8" cy="3317.0" r="6.2" fill="#000"/>
<circle cx="1563.8" cy="3308.3" r="6.2" fill="#000"/>
<circle cx="1563.8" cy="3299.6" r="6.2" fill="#000"/>
<circle cx="1563.8" cy="3290.9" r="6.2" fill="#000"/>
<circle cx="1563.8" cy="3282.2" r="6.2" fill="#000"/>
<circle cx="1618.6" cy="3364.6" r="6.2" fill="#000"/>
<circle cx="1618.6" cy="3358.9" r="6.2" fill="#000"/>
<circle cx="1618.6" cy="3353.2" r="6.2" fill="#000"/>
<circle cx="1618.6" cy="3347.4" r="6.2" fill="#000"/>
<circle cx="1618.6" cy="3341.7" r="6.2" fill="#000"/>
<circle cx="1618.6" cy="3336.0" r="6.2" fill="#000"/>
<circle cx="1618.6" cy="3330.3" r="6.2" fill="#000"/>
<circle cx="1618.6" cy="3324.6" r="6.2" fill="#000"/>
<circle cx="1618.6" cy="3318.8" r="6.2" fill="#000"/>
<circle cx="1618.6" cy="3313.1" r="6.2" fill="#000"/>
<circle cx="1618.6" cy="3307.4" r="6.2" fill="#000"/>
<circle cx="1618.6" cy="3301.7" r="6.2" fill="#000"/>
<circle cx="1618.6" cy="3296.0" r="6.2" fill="#000"/>
<circle cx="1618.6" cy="3290.2" r="6.2" fill="#000"/>
<circle cx="1618.6" cy="3234.2" r="6.2" fill="#000"/>
<circle cx="1618.6" cy="3420.1" r="6.2" fill="#000"/>
<circle cx="1673.4" cy="3394.9" r="6.2" fill="#000"/>
<circle cx="1673.4" cy="3373.2" r="6.2" fill="#000"/>
<circle cx="1673.4" cy="3366.0" r="6.2" fill="#000"/>
<circle cx="1673.4" cy="3358.9" r="6.2" fill="#000"/>
<circle cx="1673.4" cy="3351.7" r="6.2" fill="#000"/>
<circle cx="1673.4" cy="3344.6" r="6.2" fill="#000"/>
<circle cx="1673.4" cy="3337.4" r="6.2" fill="#000"/>
<circle cx="1673.4" cy="3330.3" r="6.2" fill="#000"/>
<circle cx="1673.4" cy="3323.1" r="6.2" fill="#000"/>
<circle cx="1673.4" cy="3316.0" r="6.2" fill="#000"/>
<circle cx="1673.4" cy="3308.8" r="6.2" fill="#000"/>
<circle cx="1673.4" cy="3301.7" r="6.2" fill="#000"/>
<circle cx="1673.4" cy="3294.5" r="6.2" fill="#000"/>
<circle cx="1673.4" cy="3287.4" r="6.2" fill="#000"/>
<circle cx="1673.4" cy="3280.2" r="6.2" fill="#000"/>
<circle cx="1673.4" cy="3273.1" r="6.2" fill="#000"/>
<circle cx="1728.2" cy="3337.7" r="6.2" fill="#000"/>
<circle cx="1728.2" cy="3328.6" r="6.2" fill="#000"/>
<circle cx="1728.2" cy="3319.6" r="6.2" fill="#000"/>
<circle cx="1728.2" cy="3310.5" r="6.2" fill="#000"/>
<circle cx="1728.2" cy="3301.4" r="6.2" fill="#000"/>
<circle cx="1728.2" cy="3292.3" r="6.2" fill="#000"/>
<circle cx="1728.2" cy="3283.2" r="6.2" fill="#000"/>
<circle cx="1728.2" cy="3274.2" r="6.2" fill="#000"/>
<circle cx="1728.2" cy="3265.1" r="6.2" fill="#000"/>
<circle cx="1783.0" cy="3187.3" r="6.2" fill="#000"/>
<circle cx="1783.0" cy="3215.9" r="6.2" fill="#000"/>
<circle cx="1783.0" cy="3250.2" r="6.2" fill="#000"/>
<circle cx="1783.0" cy="3254.8" r="6.2" fill="#000"/>
<circle cx="1783.0" cy="3272.5" r="6.2" fill="#000"/>
<circle cx="1783.0" cy="3279.9" r="6.2" fill="#000"/>
<circle cx="1783.0" cy="3287.4" r="6.2" fill="#000"/>
<circle cx="1783.0" cy="3294.8" r="6.2" fill="#000"/>
<circle cx="1783.0" cy="3325.1" r="6.2" fill="#000"/>
<circle cx="1783.0" cy="3362.3" r="6.2" fill="#000"/>
<circle cx="1783.0" cy="3372.6" r="6.2" fill="#000"/>
<circle cx="1783.0" cy="3380.0" r="6.2" fill="#000"/>
<circle cx="1837.8" cy="3245.1" r="6.2" fill="#000"/>
<circle cx="1837.8" cy="3307.4" r="6.2" fill="#000"/>
<circle cx="1892.6" cy="3210.2" r="6.2" fill="#000"/>
<circle cx="1892.6" cy="3219.9" r="6.2" fill="#000"/>
<circle cx="1892.6" cy="3227.3" r="6.2" fill="#000"/>
<circle cx="1892.6" cy="3254.8" r="6.2" fill="#000"/>
<circle cx="1892.6" cy="3274.2" r="6.2" fill="#000"/>
<circle cx="1947.4" cy="3245.1" r="6.2" fill="#000"/>
<circle cx="2111.8" cy="3142.7" r="6.2" fill="#000"/>
<circle cx="2221.4" cy="3159.8" r="6.2" fill="#000"/>
<text x="1283.0" y="3074.0" font-family="'Liberation Sans', Arial, sans-serif" font-size="66" font-weight="bold" fill="#000" text-anchor="start" >e</text>
<text x="2047.0" y="3362.0" font-family="'Liberation Sans', Arial, sans-serif" font-size="43" font-weight="normal" fill="#222" text-anchor="start" >R<tspan font-size="27" dy="-17">2</tspan><tspan dy="17" textLength="195" lengthAdjust="spacingAndGlyphs"> = 0,8539</tspan></text>
<text x="2048.0" y="3414.0" font-family="'Liberation Sans', Arial, sans-serif" font-size="42" font-weight="normal" fill="#222" text-anchor="start" textLength="196" lengthAdjust="spacingAndGlyphs" >r = 0.9241</text>
<text x="1511.0" y="3606.0" font-family="'Liberation Sans', Arial, sans-serif" font-size="44" font-weight="bold" fill="#111" text-anchor="start" textLength="541" lengthAdjust="spacingAndGlyphs" >number of titin molecules</text>
<text transform="translate(1076,3388) rotate(-90)" font-family="'Liberation Sans', Arial, sans-serif" font-size="45" font-weight="bold" fill="#111">volume (nm<tspan font-size="20" dy="-24">3</tspan><tspan dy="24">)</tspan></text>
</g>
<g id="panel-f">
<defs><clipPath id="cblue"><path d="M1283.1,4149.0 L1283.1,4148.5 L1287.0,4148.4 L1290.9,4148.3 L1294.7,4148.1 L1298.6,4148.0 L1302.4,4147.8 L1306.3,4147.6 L1310.1,4147.4 L1314.0,4147.1 L1317.9,4146.8 L1321.7,4146.5 L1325.6,4146.1 L1329.4,4145.6 L1333.3,4145.1 L1337.1,4144.5 L1341.0,4143.9 L1344.9,4143.2 L1348.7,4142.3 L1352.6,4141.4 L1356.4,4140.4 L1360.3,4139.2 L1364.1,4137.9 L1368.0,4136.5 L1371.9,4134.9 L1375.7,4133.2 L1379.6,4131.3 L1383.4,4129.2 L1387.3,4126.8 L1391.1,4124.3 L1395.0,4121.6 L1398.8,4118.6 L1402.7,4115.3 L1406.6,4111.8 L1410.4,4108.0 L1414.3,4103.9 L1418.1,4099.5 L1422.0,4094.8 L1425.8,4089.8 L1429.7,4084.5 L1433.6,4078.8 L1437.4,4072.8 L1441.3,4066.5 L1445.1,4059.9 L1449.0,4052.9 L1452.8,4045.6 L1456.7,4038.0 L1460.6,4030.1 L1464.4,4021.9 L1468.3,4013.4 L1472.1,4004.7 L1476.0,3995.8 L1479.8,3986.7 L1483.7,3977.4 L1487.6,3967.9 L1491.4,3958.4 L1495.3,3948.8 L1499.1,3939.2 L1503.0,3929.6 L1506.8,3920.0 L1510.7,3910.6 L1514.6,3901.3 L1518.4,3892.2 L1522.3,3883.4 L1526.1,3874.8 L1530.0,3866.6 L1533.8,3858.8 L1537.7,3851.4 L1541.6,3844.5 L1545.4,3838.1 L1549.3,3832.3 L1553.1,3827.1 L1557.0,3822.5 L1560.8,3818.5 L1564.7,3815.3 L1568.6,3812.7 L1572.4,3810.9 L1576.3,3809.8 L1580.1,3809.4 L1584.0,3809.8 L1587.8,3810.9 L1591.7,3812.7 L1595.6,3815.3 L1599.4,3818.5 L1603.3,3822.5 L1607.1,3827.1 L1611.0,3832.3 L1614.8,3838.1 L1618.7,3844.5 L1622.6,3851.4 L1626.4,3858.8 L1630.3,3866.6 L1634.1,3874.8 L1638.0,3883.4 L1641.8,3892.2 L1645.7,3901.3 L1649.6,3910.6 L1653.4,3920.0 L1657.3,3929.6 L1661.1,3939.2 L1665.0,3948.8 L1668.8,3958.4 L1672.7,3967.9 L1676.6,3977.4 L1680.4,3986.7 L1684.3,3995.8 L1688.1,4004.7 L1692.0,4013.4 L1695.8,4021.9 L1699.7,4030.1 L1703.6,4038.0 L1707.4,4045.6 L1711.3,4052.9 L1715.1,4059.9 L1719.0,4066.5 L1722.8,4072.8 L1726.7,4078.8 L1730.6,4084.5 L1734.4,4089.8 L1738.3,4094.8 L1742.1,4099.5 L1746.0,4103.9 L1749.8,4108.0 L1753.7,4111.8 L1757.6,4115.3 L1761.4,4118.6 L1765.3,4121.6 L1769.1,4124.3 L1773.0,4126.8 L1776.8,4129.2 L1780.7,4131.3 L1784.5,4133.2 L1788.4,4134.9 L1792.3,4136.5 L1796.1,4137.9 L1800.0,4139.2 L1803.8,4140.4 L1807.7,4141.4 L1811.5,4142.3 L1815.4,4143.2 L1819.3,4143.9 L1823.1,4144.5 L1827.0,4145.1 L1830.8,4145.6 L1834.7,4146.1 L1838.5,4146.5 L1842.4,4146.8 L1846.3,4147.1 L1850.1,4147.4 L1854.0,4147.6 L1857.8,4147.8 L1861.7,4148.0 L1865.5,4148.1 L1869.4,4148.3 L1873.3,4148.4 L1877.1,4148.5 L1881.0,4148.6 L1884.8,4148.6 L1888.7,4148.7 L1892.5,4148.7 L1896.4,4148.8 L1900.3,4148.8 L1904.1,4148.8 L1908.0,4148.9 L1911.8,4148.9 L1915.7,4148.9 L1919.5,4148.9 L1923.4,4148.9 L1927.3,4149.0 L1931.1,4149.0 L1935.0,4149.0 L1938.8,4149.0 L1942.7,4149.0 L1946.5,4149.0 L1950.4,4149.0 L1954.3,4149.0 L1958.1,4149.0 L1962.0,4149.0 L1965.8,4149.0 L1969.7,4149.0 L1973.5,4149.0 L1977.4,4149.0 L1981.3,4149.0 L1985.1,4149.0 L1989.0,4149.0 L1992.8,4149.0 L1996.7,4149.0 L2000.5,4149.0 L2004.4,4149.0 L2008.3,4149.0 L2012.1,4149.0 L2016.0,4149.0 L2019.8,4149.0 L2023.7,4149.0 L2027.5,4149.0 L2031.4,4149.0 L2035.3,4149.0 L2039.1,4149.0 L2043.0,4149.0 L2046.8,4149.0 L2050.7,4149.0 L2054.5,4149.0 L2058.4,4149.0 L2062.3,4149.0 L2066.1,4149.0 L2070.0,4149.0 L2073.8,4149.0 L2077.7,4149.0 L2081.5,4149.0 L2085.4,4149.0 L2089.3,4149.0 L2093.1,4149.0 L2097.0,4149.0 L2100.8,4149.0 L2104.7,4149.0 L2108.5,4149.0 L2112.4,4149.0 L2116.3,4149.0 L2120.1,4149.0 L2124.0,4149.0 L2127.8,4149.0 L2131.7,4149.0 L2135.5,4149.0 L2139.4,4149.0 L2143.3,4149.0 L2147.1,4149.0 L2151.0,4149.0 L2154.8,4149.0 L2158.7,4149.0 L2162.5,4149.0 L2166.4,4149.0 L2170.2,4149.0 L2174.1,4149.0 L2178.0,4149.0 L2181.8,4149.0 L2185.7,4149.0 L2189.5,4149.0 L2193.4,4149.0 L2197.2,4149.0 L2201.1,4149.0 L2205.0,4149.0 L2208.8,4149.0 L2212.7,4149.0 L2216.5,4149.0 L2220.4,4149.0 L2224.2,4149.0 L2228.1,4149.0 L2232.0,4149.0 L2235.8,4149.0 L2239.7,4149.0 L2243.5,4149.0 L2247.4,4149.0 L2251.2,4149.0 L2255.1,4149.0 L2259.0,4149.0 L2262.8,4149.0 L2266.7,4149.0 L2270.5,4149.0 L2274.4,4149.0 L2278.2,4149.0 L2282.1,4149.0 L2286.0,4149.0 L2289.8,4149.0 L2293.7,4149.0 L2297.5,4149.0 L2301.4,4149.0 L2305.2,4149.0 L2309.1,4149.0 L2313.0,4149.0 L2316.8,4149.0 L2320.7,4149.0 L2324.5,4149.0 L2328.4,4149.0 L2332.2,4149.0 L2336.1,4149.0 L2340.0,4149.0 L2343.8,4149.0 L2347.7,4149.0 L2351.5,4149.0 L2355.4,4149.0 L2359.2,4149.0 L2363.1,4149.0 L2363.1,4149.0 Z"/><path d="M1379.6,4149.0 L1379.6,4113.0 L1418.1,4113.0 L1418.1,4149.0 Z M1418.1,4149.0 L1418.1,4101.0 L1456.7,4101.0 L1456.7,4149.0 Z M1456.7,4149.0 L1456.7,4053.0 L1495.3,4053.0 L1495.3,4149.0 Z M1495.3,4149.0 L1495.3,3849.0 L1533.8,3849.0 L1533.8,4149.0 Z M1533.8,4149.0 L1533.8,3753.0 L1572.4,3753.0 L1572.4,4149.0 Z M1572.4,4149.0 L1572.4,3897.0 L1611.0,3897.0 L1611.0,4149.0 Z M1611.0,4149.0 L1611.0,3861.0 L1649.6,3861.0 L1649.6,4149.0 Z M1649.6,4149.0 L1649.6,3981.0 L1688.1,3981.0 L1688.1,4149.0 Z M1688.1,4149.0 L1688.1,4017.0 L1726.7,4017.0 L1726.7,4149.0 Z "/></clipPath></defs>
<path d="M1495.3,4149.0 L1495.3,4113.0 L1533.8,4113.0 L1533.8,4149.0 Z M1533.8,4149.0 L1533.8,4125.0 L1572.4,4125.0 L1572.4,4149.0 Z M1572.4,4149.0 L1572.4,4125.0 L1611.0,4125.0 L1611.0,4149.0 Z M1611.0,4149.0 L1611.0,4113.0 L1649.6,4113.0 L1649.6,4149.0 Z M1649.6,4149.0 L1649.6,4113.0 L1688.1,4113.0 L1688.1,4149.0 Z M1688.1,4149.0 L1688.1,4101.0 L1726.7,4101.0 L1726.7,4149.0 Z M1726.7,4149.0 L1726.7,4029.0 L1765.3,4029.0 L1765.3,4149.0 Z M1765.3,4149.0 L1765.3,4077.0 L1803.8,4077.0 L1803.8,4149.0 Z M1803.8,4149.0 L1803.8,4029.0 L1842.4,4029.0 L1842.4,4149.0 Z M1842.4,4149.0 L1842.4,4089.0 L1881.0,4089.0 L1881.0,4149.0 Z M1881.0,4149.0 L1881.0,4113.0 L1919.5,4113.0 L1919.5,4149.0 Z M1919.5,4149.0 L1919.5,4065.0 L1958.1,4065.0 L1958.1,4149.0 Z M1958.1,4149.0 L1958.1,4089.0 L1996.7,4089.0 L1996.7,4149.0 Z M1996.7,4149.0 L1996.7,4113.0 L2035.3,4113.0 L2035.3,4149.0 Z M2035.3,4149.0 L2035.3,4113.0 L2073.8,4113.0 L2073.8,4149.0 Z M2073.8,4149.0 L2073.8,4137.0 L2112.4,4137.0 L2112.4,4149.0 Z " fill="#c24a44" stroke="#7a1a1a" stroke-width="1.5"/>
<path d="M1283.1,4149.0 L1283.1,4149.0 L1287.0,4149.0 L1290.9,4149.0 L1294.7,4149.0 L1298.6,4149.0 L1302.4,4149.0 L1306.3,4149.0 L1310.1,4149.0 L1314.0,4149.0 L1317.9,4149.0 L1321.7,4148.9 L1325.6,4148.9 L1329.4,4148.9 L1333.3,4148.9 L1337.1,4148.9 L1341.0,4148.9 L1344.9,4148.9 L1348.7,4148.9 L1352.6,4148.9 L1356.4,4148.9 L1360.3,4148.8 L1364.1,4148.8 L1368.0,4148.8 L1371.9,4148.8 L1375.7,4148.8 L1379.6,4148.7 L1383.4,4148.7 L1387.3,4148.7 L1391.1,4148.6 L1395.0,4148.6 L1398.8,4148.6 L1402.7,4148.5 L1406.6,4148.5 L1410.4,4148.4 L1414.3,4148.4 L1418.1,4148.3 L1422.0,4148.2 L1425.8,4148.1 L1429.7,4148.1 L1433.6,4148.0 L1437.4,4147.9 L1441.3,4147.8 L1445.1,4147.7 L1449.0,4147.6 L1452.8,4147.4 L1456.7,4147.3 L1460.6,4147.1 L1464.4,4147.0 L1468.3,4146.8 L1472.1,4146.6 L1476.0,4146.4 L1479.8,4146.2 L1483.7,4146.0 L1487.6,4145.8 L1491.4,4145.5 L1495.3,4145.2 L1499.1,4145.0 L1503.0,4144.6 L1506.8,4144.3 L1510.7,4144.0 L1514.6,4143.6 L1518.4,4143.2 L1522.3,4142.8 L1526.1,4142.4 L1530.0,4141.9 L1533.8,4141.4 L1537.7,4140.9 L1541.6,4140.4 L1545.4,4139.8 L1549.3,4139.2 L1553.1,4138.6 L1557.0,4137.9 L1560.8,4137.3 L1564.7,4136.5 L1568.6,4135.8 L1572.4,4135.0 L1576.3,4134.2 L1580.1,4133.4 L1584.0,4132.5 L1587.8,4131.6 L1591.7,4130.6 L1595.6,4129.6 L1599.4,4128.6 L1603.3,4127.6 L1607.1,4126.5 L1611.0,4125.4 L1614.8,4124.2 L1618.7,4123.0 L1622.6,4121.8 L1626.4,4120.6 L1630.3,4119.3 L1634.1,4118.0 L1638.0,4116.6 L1641.8,4115.2 L1645.7,4113.8 L1649.6,4112.4 L1653.4,4110.9 L1657.3,4109.5 L1661.1,4108.0 L1665.0,4106.4 L1668.8,4104.9 L1672.7,4103.4 L1676.6,4101.8 L1680.4,4100.2 L1684.3,4098.6 L1688.1,4097.1 L1692.0,4095.5 L1695.8,4093.9 L1699.7,4092.3 L1703.6,4090.7 L1707.4,4089.1 L1711.3,4087.5 L1715.1,4086.0 L1719.0,4084.5 L1722.8,4082.9 L1726.7,4081.5 L1730.6,4080.0 L1734.4,4078.6 L1738.3,4077.2 L1742.1,4075.8 L1746.0,4074.5 L1749.8,4073.2 L1753.7,4071.9 L1757.6,4070.8 L1761.4,4069.6 L1765.3,4068.5 L1769.1,4067.5 L1773.0,4066.5 L1776.8,4065.6 L1780.7,4064.8 L1784.5,4064.0 L1788.4,4063.3 L1792.3,4062.7 L1796.1,4062.1 L1800.0,4061.6 L1803.8,4061.2 L1807.7,4060.8 L1811.5,4060.5 L1815.4,4060.4 L1819.3,4060.2 L1823.1,4060.2 L1827.0,4060.2 L1830.8,4060.4 L1834.7,4060.5 L1838.5,4060.8 L1842.4,4061.2 L1846.3,4061.6 L1850.1,4062.1 L1854.0,4062.7 L1857.8,4063.3 L1861.7,4064.0 L1865.5,4064.8 L1869.4,4065.6 L1873.3,4066.5 L1877.1,4067.5 L1881.0,4068.5 L1884.8,4069.6 L1888.7,4070.8 L1892.5,4071.9 L1896.4,4073.2 L1900.3,4074.5 L1904.1,4075.8 L1908.0,4077.2 L1911.8,4078.6 L1915.7,4080.0 L1919.5,4081.5 L1923.4,4082.9 L1927.3,4084.5 L1931.1,4086.0 L1935.0,4087.5 L1938.8,4089.1 L1942.7,4090.7 L1946.5,4092.3 L1950.4,4093.9 L1954.3,4095.5 L1958.1,4097.1 L1962.0,4098.6 L1965.8,4100.2 L1969.7,4101.8 L1973.5,4103.4 L1977.4,4104.9 L1981.3,4106.4 L1985.1,4108.0 L1989.0,4109.5 L1992.8,4110.9 L1996.7,4112.4 L2000.5,4113.8 L2004.4,4115.2 L2008.3,4116.6 L2012.1,4118.0 L2016.0,4119.3 L2019.8,4120.6 L2023.7,4121.8 L2027.5,4123.0 L2031.4,4124.2 L2035.3,4125.4 L2039.1,4126.5 L2043.0,4127.6 L2046.8,4128.6 L2050.7,4129.6 L2054.5,4130.6 L2058.4,4131.6 L2062.3,4132.5 L2066.1,4133.4 L2070.0,4134.2 L2073.8,4135.0 L2077.7,4135.8 L2081.5,4136.5 L2085.4,4137.3 L2089.3,4137.9 L2093.1,4138.6 L2097.0,4139.2 L2100.8,4139.8 L2104.7,4140.4 L2108.5,4140.9 L2112.4,4141.4 L2116.3,4141.9 L2120.1,4142.4 L2124.0,4142.8 L2127.8,4143.2 L2131.7,4143.6 L2135.5,4144.0 L2139.4,4144.3 L2143.3,4144.6 L2147.1,4145.0 L2151.0,4145.2 L2154.8,4145.5 L2158.7,4145.8 L2162.5,4146.0 L2166.4,4146.2 L2170.2,4146.4 L2174.1,4146.6 L2178.0,4146.8 L2181.8,4147.0 L2185.7,4147.1 L2189.5,4147.3 L2193.4,4147.4 L2197.2,4147.6 L2201.1,4147.7 L2205.0,4147.8 L2208.8,4147.9 L2212.7,4148.0 L2216.5,4148.1 L2220.4,4148.1 L2224.2,4148.2 L2228.1,4148.3 L2232.0,4148.4 L2235.8,4148.4 L2239.7,4148.5 L2243.5,4148.5 L2247.4,4148.6 L2251.2,4148.6 L2255.1,4148.6 L2259.0,4148.7 L2262.8,4148.7 L2266.7,4148.7 L2270.5,4148.8 L2274.4,4148.8 L2278.2,4148.8 L2282.1,4148.8 L2286.0,4148.8 L2289.8,4148.9 L2293.7,4148.9 L2297.5,4148.9 L2301.4,4148.9 L2305.2,4148.9 L2309.1,4148.9 L2313.0,4148.9 L2316.8,4148.9 L2320.7,4148.9 L2324.5,4148.9 L2328.4,4149.0 L2332.2,4149.0 L2336.1,4149.0 L2340.0,4149.0 L2343.8,4149.0 L2347.7,4149.0 L2351.5,4149.0 L2355.4,4149.0 L2359.2,4149.0 L2363.1,4149.0 L2363.1,4149.0 Z" fill="#ff1010" fill-opacity="0.5"/>
<path d="M1379.6,4149.0 L1379.6,4113.0 L1418.1,4113.0 L1418.1,4149.0 Z M1418.1,4149.0 L1418.1,4101.0 L1456.7,4101.0 L1456.7,4149.0 Z M1456.7,4149.0 L1456.7,4053.0 L1495.3,4053.0 L1495.3,4149.0 Z M1495.3,4149.0 L1495.3,3849.0 L1533.8,3849.0 L1533.8,4149.0 Z M1533.8,4149.0 L1533.8,3753.0 L1572.4,3753.0 L1572.4,4149.0 Z M1572.4,4149.0 L1572.4,3897.0 L1611.0,3897.0 L1611.0,4149.0 Z M1611.0,4149.0 L1611.0,3861.0 L1649.6,3861.0 L1649.6,4149.0 Z M1649.6,4149.0 L1649.6,3981.0 L1688.1,3981.0 L1688.1,4149.0 Z M1688.1,4149.0 L1688.1,4017.0 L1726.7,4017.0 L1726.7,4149.0 Z " fill="#0000ff" fill-opacity="0.56" stroke="#1010a0" stroke-width="2"/>
<path d="M1283.1,4149.0 L1283.1,4148.5 L1287.0,4148.4 L1290.9,4148.3 L1294.7,4148.1 L1298.6,4148.0 L1302.4,4147.8 L1306.3,4147.6 L1310.1,4147.4 L1314.0,4147.1 L1317.9,4146.8 L1321.7,4146.5 L1325.6,4146.1 L1329.4,4145.6 L1333.3,4145.1 L1337.1,4144.5 L1341.0,4143.9 L1344.9,4143.2 L1348.7,4142.3 L1352.6,4141.4 L1356.4,4140.4 L1360.3,4139.2 L1364.1,4137.9 L1368.0,4136.5 L1371.9,4134.9 L1375.7,4133.2 L1379.6,4131.3 L1383.4,4129.2 L1387.3,4126.8 L1391.1,4124.3 L1395.0,4121.6 L1398.8,4118.6 L1402.7,4115.3 L1406.6,4111.8 L1410.4,4108.0 L1414.3,4103.9 L1418.1,4099.5 L1422.0,4094.8 L1425.8,4089.8 L1429.7,4084.5 L1433.6,4078.8 L1437.4,4072.8 L1441.3,4066.5 L1445.1,4059.9 L1449.0,4052.9 L1452.8,4045.6 L1456.7,4038.0 L1460.6,4030.1 L1464.4,4021.9 L1468.3,4013.4 L1472.1,4004.7 L1476.0,3995.8 L1479.8,3986.7 L1483.7,3977.4 L1487.6,3967.9 L1491.4,3958.4 L1495.3,3948.8 L1499.1,3939.2 L1503.0,3929.6 L1506.8,3920.0 L1510.7,3910.6 L1514.6,3901.3 L1518.4,3892.2 L1522.3,3883.4 L1526.1,3874.8 L1530.0,3866.6 L1533.8,3858.8 L1537.7,3851.4 L1541.6,3844.5 L1545.4,3838.1 L1549.3,3832.3 L1553.1,3827.1 L1557.0,3822.5 L1560.8,3818.5 L1564.7,3815.3 L1568.6,3812.7 L1572.4,3810.9 L1576.3,3809.8 L1580.1,3809.4 L1584.0,3809.8 L1587.8,3810.9 L1591.7,3812.7 L1595.6,3815.3 L1599.4,3818.5 L1603.3,3822.5 L1607.1,3827.1 L1611.0,3832.3 L1614.8,3838.1 L1618.7,3844.5 L1622.6,3851.4 L1626.4,3858.8 L1630.3,3866.6 L1634.1,3874.8 L1638.0,3883.4 L1641.8,3892.2 L1645.7,3901.3 L1649.6,3910.6 L1653.4,3920.0 L1657.3,3929.6 L1661.1,3939.2 L1665.0,3948.8 L1668.8,3958.4 L1672.7,3967.9 L1676.6,3977.4 L1680.4,3986.7 L1684.3,3995.8 L1688.1,4004.7 L1692.0,4013.4 L1695.8,4021.9 L1699.7,4030.1 L1703.6,4038.0 L1707.4,4045.6 L1711.3,4052.9 L1715.1,4059.9 L1719.0,4066.5 L1722.8,4072.8 L1726.7,4078.8 L1730.6,4084.5 L1734.4,4089.8 L1738.3,4094.8 L1742.1,4099.5 L1746.0,4103.9 L1749.8,4108.0 L1753.7,4111.8 L1757.6,4115.3 L1761.4,4118.6 L1765.3,4121.6 L1769.1,4124.3 L1773.0,4126.8 L1776.8,4129.2 L1780.7,4131.3 L1784.5,4133.2 L1788.4,4134.9 L1792.3,4136.5 L1796.1,4137.9 L1800.0,4139.2 L1803.8,4140.4 L1807.7,4141.4 L1811.5,4142.3 L1815.4,4143.2 L1819.3,4143.9 L1823.1,4144.5 L1827.0,4145.1 L1830.8,4145.6 L1834.7,4146.1 L1838.5,4146.5 L1842.4,4146.8 L1846.3,4147.1 L1850.1,4147.4 L1854.0,4147.6 L1857.8,4147.8 L1861.7,4148.0 L1865.5,4148.1 L1869.4,4148.3 L1873.3,4148.4 L1877.1,4148.5 L1881.0,4148.6 L1884.8,4148.6 L1888.7,4148.7 L1892.5,4148.7 L1896.4,4148.8 L1900.3,4148.8 L1904.1,4148.8 L1908.0,4148.9 L1911.8,4148.9 L1915.7,4148.9 L1919.5,4148.9 L1923.4,4148.9 L1927.3,4149.0 L1931.1,4149.0 L1935.0,4149.0 L1938.8,4149.0 L1942.7,4149.0 L1946.5,4149.0 L1950.4,4149.0 L1954.3,4149.0 L1958.1,4149.0 L1962.0,4149.0 L1965.8,4149.0 L1969.7,4149.0 L1973.5,4149.0 L1977.4,4149.0 L1981.3,4149.0 L1985.1,4149.0 L1989.0,4149.0 L1992.8,4149.0 L1996.7,4149.0 L2000.5,4149.0 L2004.4,4149.0 L2008.3,4149.0 L2012.1,4149.0 L2016.0,4149.0 L2019.8,4149.0 L2023.7,4149.0 L2027.5,4149.0 L2031.4,4149.0 L2035.3,4149.0 L2039.1,4149.0 L2043.0,4149.0 L2046.8,4149.0 L2050.7,4149.0 L2054.5,4149.0 L2058.4,4149.0 L2062.3,4149.0 L2066.1,4149.0 L2070.0,4149.0 L2073.8,4149.0 L2077.7,4149.0 L2081.5,4149.0 L2085.4,4149.0 L2089.3,4149.0 L2093.1,4149.0 L2097.0,4149.0 L2100.8,4149.0 L2104.7,4149.0 L2108.5,4149.0 L2112.4,4149.0 L2116.3,4149.0 L2120.1,4149.0 L2124.0,4149.0 L2127.8,4149.0 L2131.7,4149.0 L2135.5,4149.0 L2139.4,4149.0 L2143.3,4149.0 L2147.1,4149.0 L2151.0,4149.0 L2154.8,4149.0 L2158.7,4149.0 L2162.5,4149.0 L2166.4,4149.0 L2170.2,4149.0 L2174.1,4149.0 L2178.0,4149.0 L2181.8,4149.0 L2185.7,4149.0 L2189.5,4149.0 L2193.4,4149.0 L2197.2,4149.0 L2201.1,4149.0 L2205.0,4149.0 L2208.8,4149.0 L2212.7,4149.0 L2216.5,4149.0 L2220.4,4149.0 L2224.2,4149.0 L2228.1,4149.0 L2232.0,4149.0 L2235.8,4149.0 L2239.7,4149.0 L2243.5,4149.0 L2247.4,4149.0 L2251.2,4149.0 L2255.1,4149.0 L2259.0,4149.0 L2262.8,4149.0 L2266.7,4149.0 L2270.5,4149.0 L2274.4,4149.0 L2278.2,4149.0 L2282.1,4149.0 L2286.0,4149.0 L2289.8,4149.0 L2293.7,4149.0 L2297.5,4149.0 L2301.4,4149.0 L2305.2,4149.0 L2309.1,4149.0 L2313.0,4149.0 L2316.8,4149.0 L2320.7,4149.0 L2324.5,4149.0 L2328.4,4149.0 L2332.2,4149.0 L2336.1,4149.0 L2340.0,4149.0 L2343.8,4149.0 L2347.7,4149.0 L2351.5,4149.0 L2355.4,4149.0 L2359.2,4149.0 L2363.1,4149.0 L2363.1,4149.0 Z" fill="#0000ff" fill-opacity="0.52"/>
<path d="M1283.1,4149.0 L1283.1,4149.0 L1287.0,4149.0 L1290.9,4149.0 L1294.7,4149.0 L1298.6,4149.0 L1302.4,4149.0 L1306.3,4149.0 L1310.1,4149.0 L1314.0,4149.0 L1317.9,4149.0 L1321.7,4148.9 L1325.6,4148.9 L1329.4,4148.9 L1333.3,4148.9 L1337.1,4148.9 L1341.0,4148.9 L1344.9,4148.9 L1348.7,4148.9 L1352.6,4148.9 L1356.4,4148.9 L1360.3,4148.8 L1364.1,4148.8 L1368.0,4148.8 L1371.9,4148.8 L1375.7,4148.8 L1379.6,4148.7 L1383.4,4148.7 L1387.3,4148.7 L1391.1,4148.6 L1395.0,4148.6 L1398.8,4148.6 L1402.7,4148.5 L1406.6,4148.5 L1410.4,4148.4 L1414.3,4148.4 L1418.1,4148.3 L1422.0,4148.2 L1425.8,4148.1 L1429.7,4148.1 L1433.6,4148.0 L1437.4,4147.9 L1441.3,4147.8 L1445.1,4147.7 L1449.0,4147.6 L1452.8,4147.4 L1456.7,4147.3 L1460.6,4147.1 L1464.4,4147.0 L1468.3,4146.8 L1472.1,4146.6 L1476.0,4146.4 L1479.8,4146.2 L1483.7,4146.0 L1487.6,4145.8 L1491.4,4145.5 L1495.3,4145.2 L1499.1,4145.0 L1503.0,4144.6 L1506.8,4144.3 L1510.7,4144.0 L1514.6,4143.6 L1518.4,4143.2 L1522.3,4142.8 L1526.1,4142.4 L1530.0,4141.9 L1533.8,4141.4 L1537.7,4140.9 L1541.6,4140.4 L1545.4,4139.8 L1549.3,4139.2 L1553.1,4138.6 L1557.0,4137.9 L1560.8,4137.3 L1564.7,4136.5 L1568.6,4135.8 L1572.4,4135.0 L1576.3,4134.2 L1580.1,4133.4 L1584.0,4132.5 L1587.8,4131.6 L1591.7,4130.6 L1595.6,4129.6 L1599.4,4128.6 L1603.3,4127.6 L1607.1,4126.5 L1611.0,4125.4 L1614.8,4124.2 L1618.7,4123.0 L1622.6,4121.8 L1626.4,4120.6 L1630.3,4119.3 L1634.1,4118.0 L1638.0,4116.6 L1641.8,4115.2 L1645.7,4113.8 L1649.6,4112.4 L1653.4,4110.9 L1657.3,4109.5 L1661.1,4108.0 L1665.0,4106.4 L1668.8,4104.9 L1672.7,4103.4 L1676.6,4101.8 L1680.4,4100.2 L1684.3,4098.6 L1688.1,4097.1 L1692.0,4095.5 L1695.8,4093.9 L1699.7,4092.3 L1703.6,4090.7 L1707.4,4089.1 L1711.3,4087.5 L1715.1,4086.0 L1719.0,4084.5 L1722.8,4082.9 L1726.7,4081.5 L1730.6,4080.0 L1734.4,4078.6 L1738.3,4077.2 L1742.1,4075.8 L1746.0,4074.5 L1749.8,4073.2 L1753.7,4071.9 L1757.6,4070.8 L1761.4,4069.6 L1765.3,4068.5 L1769.1,4067.5 L1773.0,4066.5 L1776.8,4065.6 L1780.7,4064.8 L1784.5,4064.0 L1788.4,4063.3 L1792.3,4062.7 L1796.1,4062.1 L1800.0,4061.6 L1803.8,4061.2 L1807.7,4060.8 L1811.5,4060.5 L1815.4,4060.4 L1819.3,4060.2 L1823.1,4060.2 L1827.0,4060.2 L1830.8,4060.4 L1834.7,4060.5 L1838.5,4060.8 L1842.4,4061.2 L1846.3,4061.6 L1850.1,4062.1 L1854.0,4062.7 L1857.8,4063.3 L1861.7,4064.0 L1865.5,4064.8 L1869.4,4065.6 L1873.3,4066.5 L1877.1,4067.5 L1881.0,4068.5 L1884.8,4069.6 L1888.7,4070.8 L1892.5,4071.9 L1896.4,4073.2 L1900.3,4074.5 L1904.1,4075.8 L1908.0,4077.2 L1911.8,4078.6 L1915.7,4080.0 L1919.5,4081.5 L1923.4,4082.9 L1927.3,4084.5 L1931.1,4086.0 L1935.0,4087.5 L1938.8,4089.1 L1942.7,4090.7 L1946.5,4092.3 L1950.4,4093.9 L1954.3,4095.5 L1958.1,4097.1 L1962.0,4098.6 L1965.8,4100.2 L1969.7,4101.8 L1973.5,4103.4 L1977.4,4104.9 L1981.3,4106.4 L1985.1,4108.0 L1989.0,4109.5 L1992.8,4110.9 L1996.7,4112.4 L2000.5,4113.8 L2004.4,4115.2 L2008.3,4116.6 L2012.1,4118.0 L2016.0,4119.3 L2019.8,4120.6 L2023.7,4121.8 L2027.5,4123.0 L2031.4,4124.2 L2035.3,4125.4 L2039.1,4126.5 L2043.0,4127.6 L2046.8,4128.6 L2050.7,4129.6 L2054.5,4130.6 L2058.4,4131.6 L2062.3,4132.5 L2066.1,4133.4 L2070.0,4134.2 L2073.8,4135.0 L2077.7,4135.8 L2081.5,4136.5 L2085.4,4137.3 L2089.3,4137.9 L2093.1,4138.6 L2097.0,4139.2 L2100.8,4139.8 L2104.7,4140.4 L2108.5,4140.9 L2112.4,4141.4 L2116.3,4141.9 L2120.1,4142.4 L2124.0,4142.8 L2127.8,4143.2 L2131.7,4143.6 L2135.5,4144.0 L2139.4,4144.3 L2143.3,4144.6 L2147.1,4145.0 L2151.0,4145.2 L2154.8,4145.5 L2158.7,4145.8 L2162.5,4146.0 L2166.4,4146.2 L2170.2,4146.4 L2174.1,4146.6 L2178.0,4146.8 L2181.8,4147.0 L2185.7,4147.1 L2189.5,4147.3 L2193.4,4147.4 L2197.2,4147.6 L2201.1,4147.7 L2205.0,4147.8 L2208.8,4147.9 L2212.7,4148.0 L2216.5,4148.1 L2220.4,4148.1 L2224.2,4148.2 L2228.1,4148.3 L2232.0,4148.4 L2235.8,4148.4 L2239.7,4148.5 L2243.5,4148.5 L2247.4,4148.6 L2251.2,4148.6 L2255.1,4148.6 L2259.0,4148.7 L2262.8,4148.7 L2266.7,4148.7 L2270.5,4148.8 L2274.4,4148.8 L2278.2,4148.8 L2282.1,4148.8 L2286.0,4148.8 L2289.8,4148.9 L2293.7,4148.9 L2297.5,4148.9 L2301.4,4148.9 L2305.2,4148.9 L2309.1,4148.9 L2313.0,4148.9 L2316.8,4148.9 L2320.7,4148.9 L2324.5,4148.9 L2328.4,4149.0 L2332.2,4149.0 L2336.1,4149.0 L2340.0,4149.0 L2343.8,4149.0 L2347.7,4149.0 L2351.5,4149.0 L2355.4,4149.0 L2359.2,4149.0 L2363.1,4149.0 L2363.1,4149.0 Z" fill="#5a0cc8" clip-path="url(#cblue)"/>
<path d="M1283.1,4148.5 L1287.0,4148.4 L1290.9,4148.3 L1294.7,4148.1 L1298.6,4148.0 L1302.4,4147.8 L1306.3,4147.6 L1310.1,4147.4 L1314.0,4147.1 L1317.9,4146.8 L1321.7,4146.5 L1325.6,4146.1 L1329.4,4145.6 L1333.3,4145.1 L1337.1,4144.5 L1341.0,4143.9 L1344.9,4143.2 L1348.7,4142.3 L1352.6,4141.4 L1356.4,4140.4 L1360.3,4139.2 L1364.1,4137.9 L1368.0,4136.5 L1371.9,4134.9 L1375.7,4133.2 L1379.6,4131.3 L1383.4,4129.2 L1387.3,4126.8 L1391.1,4124.3 L1395.0,4121.6 L1398.8,4118.6 L1402.7,4115.3 L1406.6,4111.8 L1410.4,4108.0 L1414.3,4103.9 L1418.1,4099.5 L1422.0,4094.8 L1425.8,4089.8 L1429.7,4084.5 L1433.6,4078.8 L1437.4,4072.8 L1441.3,4066.5 L1445.1,4059.9 L1449.0,4052.9 L1452.8,4045.6 L1456.7,4038.0 L1460.6,4030.1 L1464.4,4021.9 L1468.3,4013.4 L1472.1,4004.7 L1476.0,3995.8 L1479.8,3986.7 L1483.7,3977.4 L1487.6,3967.9 L1491.4,3958.4 L1495.3,3948.8 L1499.1,3939.2 L1503.0,3929.6 L1506.8,3920.0 L1510.7,3910.6 L1514.6,3901.3 L1518.4,3892.2 L1522.3,3883.4 L1526.1,3874.8 L1530.0,3866.6 L1533.8,3858.8 L1537.7,3851.4 L1541.6,3844.5 L1545.4,3838.1 L1549.3,3832.3 L1553.1,3827.1 L1557.0,3822.5 L1560.8,3818.5 L1564.7,3815.3 L1568.6,3812.7 L1572.4,3810.9 L1576.3,3809.8 L1580.1,3809.4 L1584.0,3809.8 L1587.8,3810.9 L1591.7,3812.7 L1595.6,3815.3 L1599.4,3818.5 L1603.3,3822.5 L1607.1,3827.1 L1611.0,3832.3 L1614.8,3838.1 L1618.7,3844.5 L1622.6,3851.4 L1626.4,3858.8 L1630.3,3866.6 L1634.1,3874.8 L1638.0,3883.4 L1641.8,3892.2 L1645.7,3901.3 L1649.6,3910.6 L1653.4,3920.0 L1657.3,3929.6 L1661.1,3939.2 L1665.0,3948.8 L1668.8,3958.4 L1672.7,3967.9 L1676.6,3977.4 L1680.4,3986.7 L1684.3,3995.8 L1688.1,4004.7 L1692.0,4013.4 L1695.8,4021.9 L1699.7,4030.1 L1703.6,4038.0 L1707.4,4045.6 L1711.3,4052.9 L1715.1,4059.9 L1719.0,4066.5 L1722.8,4072.8 L1726.7,4078.8 L1730.6,4084.5 L1734.4,4089.8 L1738.3,4094.8 L1742.1,4099.5 L1746.0,4103.9 L1749.8,4108.0 L1753.7,4111.8 L1757.6,4115.3 L1761.4,4118.6 L1765.3,4121.6 L1769.1,4124.3 L1773.0,4126.8 L1776.8,4129.2 L1780.7,4131.3 L1784.5,4133.2 L1788.4,4134.9 L1792.3,4136.5 L1796.1,4137.9 L1800.0,4139.2 L1803.8,4140.4 L1807.7,4141.4 L1811.5,4142.3 L1815.4,4143.2 L1819.3,4143.9 L1823.1,4144.5 L1827.0,4145.1 L1830.8,4145.6 L1834.7,4146.1 L1838.5,4146.5 L1842.4,4146.8 L1846.3,4147.1 L1850.1,4147.4 L1854.0,4147.6 L1857.8,4147.8 L1861.7,4148.0 L1865.5,4148.1 L1869.4,4148.3 L1873.3,4148.4 L1877.1,4148.5 L1881.0,4148.6 L1884.8,4148.6 L1888.7,4148.7 L1892.5,4148.7 L1896.4,4148.8 L1900.3,4148.8 L1904.1,4148.8 L1908.0,4148.9 L1911.8,4148.9 L1915.7,4148.9 L1919.5,4148.9 L1923.4,4148.9 L1927.3,4149.0 L1931.1,4149.0 L1935.0,4149.0 L1938.8,4149.0 L1942.7,4149.0 L1946.5,4149.0 L1950.4,4149.0 L1954.3,4149.0 L1958.1,4149.0 L1962.0,4149.0 L1965.8,4149.0 L1969.7,4149.0 L1973.5,4149.0 L1977.4,4149.0 L1981.3,4149.0 L1985.1,4149.0 L1989.0,4149.0 L1992.8,4149.0 L1996.7,4149.0 L2000.5,4149.0 L2004.4,4149.0 L2008.3,4149.0 L2012.1,4149.0 L2016.0,4149.0 L2019.8,4149.0 L2023.7,4149.0 L2027.5,4149.0 L2031.4,4149.0 L2035.3,4149.0 L2039.1,4149.0 L2043.0,4149.0 L2046.8,4149.0 L2050.7,4149.0 L2054.5,4149.0 L2058.4,4149.0 L2062.3,4149.0 L2066.1,4149.0 L2070.0,4149.0 L2073.8,4149.0 L2077.7,4149.0 L2081.5,4149.0 L2085.4,4149.0 L2089.3,4149.0 L2093.1,4149.0 L2097.0,4149.0 L2100.8,4149.0 L2104.7,4149.0 L2108.5,4149.0 L2112.4,4149.0 L2116.3,4149.0 L2120.1,4149.0 L2124.0,4149.0 L2127.8,4149.0 L2131.7,4149.0 L2135.5,4149.0 L2139.4,4149.0 L2143.3,4149.0 L2147.1,4149.0 L2151.0,4149.0 L2154.8,4149.0 L2158.7,4149.0 L2162.5,4149.0 L2166.4,4149.0 L2170.2,4149.0 L2174.1,4149.0 L2178.0,4149.0 L2181.8,4149.0 L2185.7,4149.0 L2189.5,4149.0 L2193.4,4149.0 L2197.2,4149.0 L2201.1,4149.0 L2205.0,4149.0 L2208.8,4149.0 L2212.7,4149.0 L2216.5,4149.0 L2220.4,4149.0 L2224.2,4149.0 L2228.1,4149.0 L2232.0,4149.0 L2235.8,4149.0 L2239.7,4149.0 L2243.5,4149.0 L2247.4,4149.0 L2251.2,4149.0 L2255.1,4149.0 L2259.0,4149.0 L2262.8,4149.0 L2266.7,4149.0 L2270.5,4149.0 L2274.4,4149.0 L2278.2,4149.0 L2282.1,4149.0 L2286.0,4149.0 L2289.8,4149.0 L2293.7,4149.0 L2297.5,4149.0 L2301.4,4149.0 L2305.2,4149.0 L2309.1,4149.0 L2313.0,4149.0 L2316.8,4149.0 L2320.7,4149.0 L2324.5,4149.0 L2328.4,4149.0 L2332.2,4149.0 L2336.1,4149.0 L2340.0,4149.0 L2343.8,4149.0 L2347.7,4149.0 L2351.5,4149.0 L2355.4,4149.0 L2359.2,4149.0 L2363.1,4149.0" fill="none" stroke="#1a1a50" stroke-width="2"/>
<path d="M1283.1,4149.0 L1287.0,4149.0 L1290.9,4149.0 L1294.7,4149.0 L1298.6,4149.0 L1302.4,4149.0 L1306.3,4149.0 L1310.1,4149.0 L1314.0,4149.0 L1317.9,4149.0 L1321.7,4148.9 L1325.6,4148.9 L1329.4,4148.9 L1333.3,4148.9 L1337.1,4148.9 L1341.0,4148.9 L1344.9,4148.9 L1348.7,4148.9 L1352.6,4148.9 L1356.4,4148.9 L1360.3,4148.8 L1364.1,4148.8 L1368.0,4148.8 L1371.9,4148.8 L1375.7,4148.8 L1379.6,4148.7 L1383.4,4148.7 L1387.3,4148.7 L1391.1,4148.6 L1395.0,4148.6 L1398.8,4148.6 L1402.7,4148.5 L1406.6,4148.5 L1410.4,4148.4 L1414.3,4148.4 L1418.1,4148.3 L1422.0,4148.2 L1425.8,4148.1 L1429.7,4148.1 L1433.6,4148.0 L1437.4,4147.9 L1441.3,4147.8 L1445.1,4147.7 L1449.0,4147.6 L1452.8,4147.4 L1456.7,4147.3 L1460.6,4147.1 L1464.4,4147.0 L1468.3,4146.8 L1472.1,4146.6 L1476.0,4146.4 L1479.8,4146.2 L1483.7,4146.0 L1487.6,4145.8 L1491.4,4145.5 L1495.3,4145.2 L1499.1,4145.0 L1503.0,4144.6 L1506.8,4144.3 L1510.7,4144.0 L1514.6,4143.6 L1518.4,4143.2 L1522.3,4142.8 L1526.1,4142.4 L1530.0,4141.9 L1533.8,4141.4 L1537.7,4140.9 L1541.6,4140.4 L1545.4,4139.8 L1549.3,4139.2 L1553.1,4138.6 L1557.0,4137.9 L1560.8,4137.3 L1564.7,4136.5 L1568.6,4135.8 L1572.4,4135.0 L1576.3,4134.2 L1580.1,4133.4 L1584.0,4132.5 L1587.8,4131.6 L1591.7,4130.6 L1595.6,4129.6 L1599.4,4128.6 L1603.3,4127.6 L1607.1,4126.5 L1611.0,4125.4 L1614.8,4124.2 L1618.7,4123.0 L1622.6,4121.8 L1626.4,4120.6 L1630.3,4119.3 L1634.1,4118.0 L1638.0,4116.6 L1641.8,4115.2 L1645.7,4113.8 L1649.6,4112.4 L1653.4,4110.9 L1657.3,4109.5 L1661.1,4108.0 L1665.0,4106.4 L1668.8,4104.9 L1672.7,4103.4 L1676.6,4101.8 L1680.4,4100.2 L1684.3,4098.6 L1688.1,4097.1 L1692.0,4095.5 L1695.8,4093.9 L1699.7,4092.3 L1703.6,4090.7 L1707.4,4089.1 L1711.3,4087.5 L1715.1,4086.0 L1719.0,4084.5 L1722.8,4082.9 L1726.7,4081.5 L1730.6,4080.0 L1734.4,4078.6 L1738.3,4077.2 L1742.1,4075.8 L1746.0,4074.5 L1749.8,4073.2 L1753.7,4071.9 L1757.6,4070.8 L1761.4,4069.6 L1765.3,4068.5 L1769.1,4067.5 L1773.0,4066.5 L1776.8,4065.6 L1780.7,4064.8 L1784.5,4064.0 L1788.4,4063.3 L1792.3,4062.7 L1796.1,4062.1 L1800.0,4061.6 L1803.8,4061.2 L1807.7,4060.8 L1811.5,4060.5 L1815.4,4060.4 L1819.3,4060.2 L1823.1,4060.2 L1827.0,4060.2 L1830.8,4060.4 L1834.7,4060.5 L1838.5,4060.8 L1842.4,4061.2 L1846.3,4061.6 L1850.1,4062.1 L1854.0,4062.7 L1857.8,4063.3 L1861.7,4064.0 L1865.5,4064.8 L1869.4,4065.6 L1873.3,4066.5 L1877.1,4067.5 L1881.0,4068.5 L1884.8,4069.6 L1888.7,4070.8 L1892.5,4071.9 L1896.4,4073.2 L1900.3,4074.5 L1904.1,4075.8 L1908.0,4077.2 L1911.8,4078.6 L1915.7,4080.0 L1919.5,4081.5 L1923.4,4082.9 L1927.3,4084.5 L1931.1,4086.0 L1935.0,4087.5 L1938.8,4089.1 L1942.7,4090.7 L1946.5,4092.3 L1950.4,4093.9 L1954.3,4095.5 L1958.1,4097.1 L1962.0,4098.6 L1965.8,4100.2 L1969.7,4101.8 L1973.5,4103.4 L1977.4,4104.9 L1981.3,4106.4 L1985.1,4108.0 L1989.0,4109.5 L1992.8,4110.9 L1996.7,4112.4 L2000.5,4113.8 L2004.4,4115.2 L2008.3,4116.6 L2012.1,4118.0 L2016.0,4119.3 L2019.8,4120.6 L2023.7,4121.8 L2027.5,4123.0 L2031.4,4124.2 L2035.3,4125.4 L2039.1,4126.5 L2043.0,4127.6 L2046.8,4128.6 L2050.7,4129.6 L2054.5,4130.6 L2058.4,4131.6 L2062.3,4132.5 L2066.1,4133.4 L2070.0,4134.2 L2073.8,4135.0 L2077.7,4135.8 L2081.5,4136.5 L2085.4,4137.3 L2089.3,4137.9 L2093.1,4138.6 L2097.0,4139.2 L2100.8,4139.8 L2104.7,4140.4 L2108.5,4140.9 L2112.4,4141.4 L2116.3,4141.9 L2120.1,4142.4 L2124.0,4142.8 L2127.8,4143.2 L2131.7,4143.6 L2135.5,4144.0 L2139.4,4144.3 L2143.3,4144.6 L2147.1,4145.0 L2151.0,4145.2 L2154.8,4145.5 L2158.7,4145.8 L2162.5,4146.0 L2166.4,4146.2 L2170.2,4146.4 L2174.1,4146.6 L2178.0,4146.8 L2181.8,4147.0 L2185.7,4147.1 L2189.5,4147.3 L2193.4,4147.4 L2197.2,4147.6 L2201.1,4147.7 L2205.0,4147.8 L2208.8,4147.9 L2212.7,4148.0 L2216.5,4148.1 L2220.4,4148.1 L2224.2,4148.2 L2228.1,4148.3 L2232.0,4148.4 L2235.8,4148.4 L2239.7,4148.5 L2243.5,4148.5 L2247.4,4148.6 L2251.2,4148.6 L2255.1,4148.6 L2259.0,4148.7 L2262.8,4148.7 L2266.7,4148.7 L2270.5,4148.8 L2274.4,4148.8 L2278.2,4148.8 L2282.1,4148.8 L2286.0,4148.8 L2289.8,4148.9 L2293.7,4148.9 L2297.5,4148.9 L2301.4,4148.9 L2305.2,4148.9 L2309.1,4148.9 L2313.0,4148.9 L2316.8,4148.9 L2320.7,4148.9 L2324.5,4148.9 L2328.4,4149.0 L2332.2,4149.0 L2336.1,4149.0 L2340.0,4149.0 L2343.8,4149.0 L2347.7,4149.0 L2351.5,4149.0 L2355.4,4149.0 L2359.2,4149.0 L2363.1,4149.0" fill="none" stroke="#4a1010" stroke-width="2"/>
<line x1="2364" y1="3669" x2="2364" y2="4149" stroke="#555" stroke-width="3"/>
<line x1="1206" y1="3669.5" x2="2364" y2="3669.5" stroke="#555" stroke-width="3"/>
<line x1="1205.8" y1="3668" x2="1205.8" y2="4150" stroke="#222" stroke-width="3"/>
<line x1="1187" y1="4149" x2="2365" y2="4149" stroke="#222" stroke-width="3"/>
<line x1="1187" y1="4149.0" x2="1206" y2="4149.0" stroke="#222" stroke-width="3"/>
<text x="1179.0" y="4163.0" font-family="'Liberation Sans', Arial, sans-serif" font-size="39" font-weight="normal" fill="#222" text-anchor="end" >0</text>
<line x1="1187" y1="4029.0" x2="1206" y2="4029.0" stroke="#222" stroke-width="3"/>
<text x="1179.0" y="4043.0" font-family="'Liberation Sans', Arial, sans-serif" font-size="39" font-weight="normal" fill="#222" text-anchor="end" textLength="42" lengthAdjust="spacingAndGlyphs" >10</text>
<line x1="1187" y1="3909.0" x2="1206" y2="3909.0" stroke="#222" stroke-width="3"/>
<text x="1179.0" y="3923.0" font-family="'Liberation Sans', Arial, sans-serif" font-size="39" font-weight="normal" fill="#222" text-anchor="end" textLength="42" lengthAdjust="spacingAndGlyphs" >20</text>
<line x1="1187" y1="3789.0" x2="1206" y2="3789.0" stroke="#222" stroke-width="3"/>
<text x="1179.0" y="3803.0" font-family="'Liberation Sans', Arial, sans-serif" font-size="39" font-weight="normal" fill="#222" text-anchor="end" textLength="42" lengthAdjust="spacingAndGlyphs" >30</text>
<line x1="1187" y1="3669.0" x2="1206" y2="3669.0" stroke="#222" stroke-width="3"/>
<text x="1179.0" y="3683.0" font-family="'Liberation Sans', Arial, sans-serif" font-size="39" font-weight="normal" fill="#222" text-anchor="end" textLength="42" lengthAdjust="spacingAndGlyphs" >40</text>
<line x1="1206.0" y1="4148" x2="1206.0" y2="4170" stroke="#222" stroke-width="3"/>
<text x="1206.0" y="4212.0" font-family="'Liberation Sans', Arial, sans-serif" font-size="39" font-weight="normal" fill="#222" text-anchor="middle" >0</text>
<line x1="1283.1" y1="4148" x2="1283.1" y2="4161" stroke="#222" stroke-width="3"/>
<line x1="1360.3" y1="4148" x2="1360.3" y2="4170" stroke="#222" stroke-width="3"/>
<text x="1360.3" y="4212.0" font-family="'Liberation Sans', Arial, sans-serif" font-size="39" font-weight="normal" fill="#222" text-anchor="middle" >200</text>
<line x1="1437.4" y1="4148" x2="1437.4" y2="4161" stroke="#222" stroke-width="3"/>
<line x1="1514.6" y1="4148" x2="1514.6" y2="4170" stroke="#222" stroke-width="3"/>
<text x="1514.6" y="4212.0" font-family="'Liberation Sans', Arial, sans-serif" font-size="39" font-weight="normal" fill="#222" text-anchor="middle" >400</text>
<line x1="1591.7" y1="4148" x2="1591.7" y2="4161" stroke="#222" stroke-width="3"/>
<line x1="1668.8" y1="4148" x2="1668.8" y2="4170" stroke="#222" stroke-width="3"/>
<text x="1668.8" y="4212.0" font-family="'Liberation Sans', Arial, sans-serif" font-size="39" font-weight="normal" fill="#222" text-anchor="middle" >600</text>
<line x1="1746.0" y1="4148" x2="1746.0" y2="4161" stroke="#222" stroke-width="3"/>
<line x1="1823.1" y1="4148" x2="1823.1" y2="4170" stroke="#222" stroke-width="3"/>
<text x="1823.1" y="4212.0" font-family="'Liberation Sans', Arial, sans-serif" font-size="39" font-weight="normal" fill="#222" text-anchor="middle" >800</text>
<line x1="1900.3" y1="4148" x2="1900.3" y2="4161" stroke="#222" stroke-width="3"/>
<line x1="1977.4" y1="4148" x2="1977.4" y2="4170" stroke="#222" stroke-width="3"/>
<text x="1977.4" y="4212.0" font-family="'Liberation Sans', Arial, sans-serif" font-size="39" font-weight="normal" fill="#222" text-anchor="middle" >1000</text>
<line x1="2054.5" y1="4148" x2="2054.5" y2="4161" stroke="#222" stroke-width="3"/>
<line x1="2131.7" y1="4148" x2="2131.7" y2="4170" stroke="#222" stroke-width="3"/>
<text x="2131.7" y="4212.0" font-family="'Liberation Sans', Arial, sans-serif" font-size="39" font-weight="normal" fill="#222" text-anchor="middle" >1200</text>
<line x1="2208.8" y1="4148" x2="2208.8" y2="4161" stroke="#222" stroke-width="3"/>
<line x1="2286.0" y1="4148" x2="2286.0" y2="4170" stroke="#222" stroke-width="3"/>
<text x="2286.0" y="4212.0" font-family="'Liberation Sans', Arial, sans-serif" font-size="39" font-weight="normal" fill="#222" text-anchor="middle" >1400</text>
<line x1="2363.1" y1="4148" x2="2363.1" y2="4161" stroke="#222" stroke-width="3"/>
<text x="1257.0" y="3752.0" font-family="'Liberation Sans', Arial, sans-serif" font-size="65" font-weight="bold" fill="#000" text-anchor="start" >f</text>
<rect x="1908" y="3726" width="40" height="24" fill="#c24a44" stroke="#6a1a1a" stroke-width="2"/><line x1="1903" y1="3738" x2="1953" y2="3738" stroke="#6a1a1a" stroke-width="2"/>
<rect x="1908" y="3791" width="40" height="24" fill="#5050ff" stroke="#1a1a80" stroke-width="2"/><line x1="1903" y1="3803" x2="1953" y2="3803" stroke="#1a1a80" stroke-width="2"/>
<text x="1983.0" y="3750.0" font-family="'Liberation Sans', Arial, sans-serif" font-size="42" font-weight="normal" fill="#222" text-anchor="start" textLength="183" lengthAdjust="spacingAndGlyphs" >Single titin</text>
<text x="1983.0" y="3816.0" font-family="'Liberation Sans', Arial, sans-serif" font-size="42" font-weight="normal" fill="#222" text-anchor="start" textLength="264" lengthAdjust="spacingAndGlyphs" >Oligomeric titin</text>
<text x="1657.0" y="4269.6" font-family="'Liberation Sans', Arial, sans-serif" font-size="46" font-weight="bold" fill="#111" text-anchor="start" textLength="253" lengthAdjust="spacingAndGlyphs" >length (nm)</text>
<text transform="translate(1113.6,4029) rotate(-90)" font-family="'Liberation Sans', Arial, sans-serif" font-size="48" font-weight="bold" fill="#111" textLength="245" lengthAdjust="spacingAndGlyphs">Frequency</text>
</g>
</svg></body></html>
